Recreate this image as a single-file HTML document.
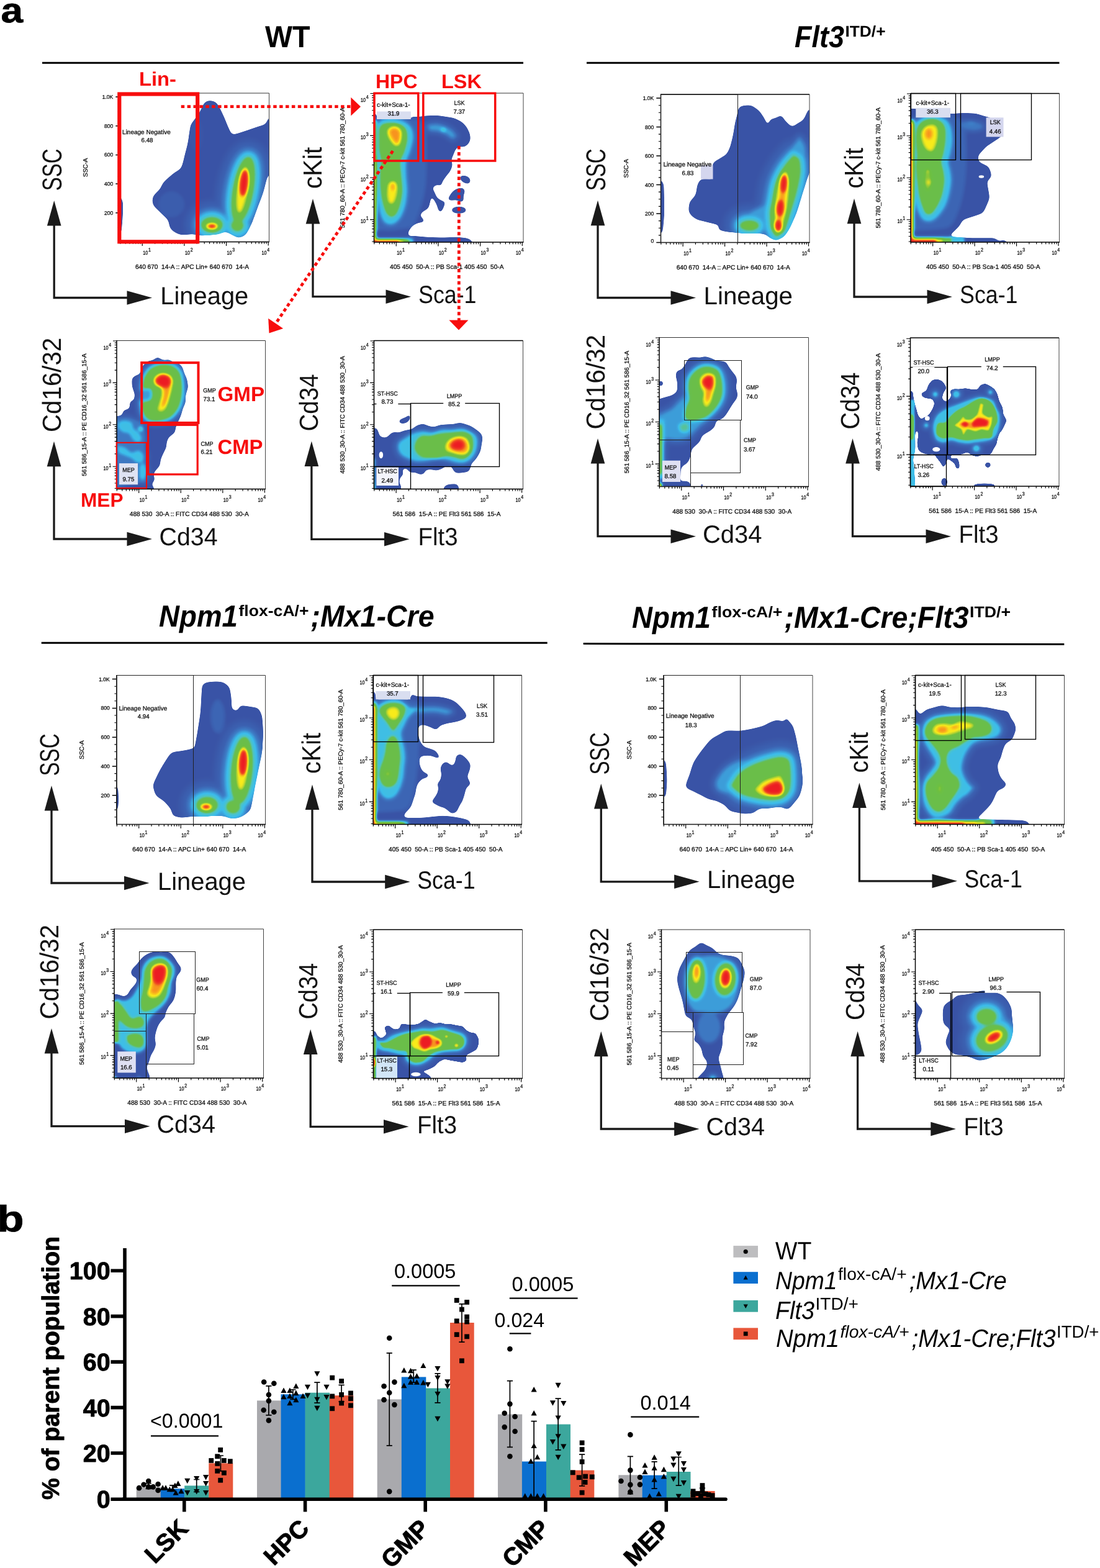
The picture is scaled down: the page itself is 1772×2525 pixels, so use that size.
<!DOCTYPE html>
<html lang="en"><head><meta charset="utf-8"><title>Figure</title>
<style>
html,body{margin:0;padding:0;background:#fff}
body{width:1772px;height:2525px;overflow:hidden}
svg{display:block;font-family:"Liberation Sans",sans-serif}
text{white-space:pre;text-rendering:geometricPrecision}
</style></head><body>
<svg width="1772" height="2525" viewBox="0 0 1772 2525">
<defs>
<filter id="jet" x="-10%" y="-10%" width="120%" height="120%" color-interpolation-filters="sRGB"><feGaussianBlur stdDeviation="2.6"/><feComponentTransfer><feFuncR type="table" tableValues="0.227 0.227 0.227 0.227 0.227 0.227 0.227 0.227 0.227 0.227 0.227 0.227 0.227 0.228 0.230 0.231 0.232 0.234 0.235 0.237 0.239 0.241 0.243 0.241 0.239 0.237 0.235 0.261 0.288 0.314 0.345 0.376 0.408 0.413 0.417 0.422 0.427 0.431 0.536 0.641 0.745 0.863 0.980 0.980 0.980 0.973 0.957 0.941 0.937 0.933 0.929"/><feFuncG type="table" tableValues="0.329 0.329 0.329 0.329 0.329 0.329 0.329 0.329 0.329 0.329 0.329 0.329 0.329 0.334 0.344 0.354 0.364 0.374 0.384 0.414 0.443 0.473 0.502 0.563 0.624 0.684 0.745 0.753 0.761 0.769 0.761 0.753 0.745 0.747 0.748 0.750 0.751 0.753 0.782 0.810 0.839 0.882 0.925 0.822 0.718 0.596 0.455 0.314 0.246 0.178 0.110"/><feFuncB type="table" tableValues="0.651 0.651 0.651 0.651 0.651 0.651 0.651 0.651 0.651 0.651 0.651 0.651 0.651 0.655 0.664 0.672 0.681 0.689 0.698 0.720 0.741 0.763 0.784 0.820 0.855 0.890 0.925 0.865 0.805 0.745 0.601 0.458 0.314 0.301 0.289 0.276 0.264 0.251 0.230 0.209 0.188 0.145 0.102 0.108 0.115 0.121 0.127 0.133 0.136 0.139 0.141"/><feFuncA type="linear" slope="9" intercept="-4"/></feComponentTransfer></filter>
<filter id="jet2" x="-10%" y="-10%" width="120%" height="120%" color-interpolation-filters="sRGB"><feGaussianBlur stdDeviation="1.8"/><feComponentTransfer><feFuncR type="table" tableValues="0.227 0.227 0.227 0.227 0.227 0.227 0.227 0.227 0.227 0.227 0.227 0.227 0.227 0.228 0.230 0.231 0.232 0.234 0.235 0.237 0.239 0.241 0.243 0.241 0.239 0.237 0.235 0.261 0.288 0.314 0.345 0.376 0.408 0.413 0.417 0.422 0.427 0.431 0.536 0.641 0.745 0.863 0.980 0.980 0.980 0.973 0.957 0.941 0.937 0.933 0.929"/><feFuncG type="table" tableValues="0.329 0.329 0.329 0.329 0.329 0.329 0.329 0.329 0.329 0.329 0.329 0.329 0.329 0.334 0.344 0.354 0.364 0.374 0.384 0.414 0.443 0.473 0.502 0.563 0.624 0.684 0.745 0.753 0.761 0.769 0.761 0.753 0.745 0.747 0.748 0.750 0.751 0.753 0.782 0.810 0.839 0.882 0.925 0.822 0.718 0.596 0.455 0.314 0.246 0.178 0.110"/><feFuncB type="table" tableValues="0.651 0.651 0.651 0.651 0.651 0.651 0.651 0.651 0.651 0.651 0.651 0.651 0.651 0.655 0.664 0.672 0.681 0.689 0.698 0.720 0.741 0.763 0.784 0.820 0.855 0.890 0.925 0.865 0.805 0.745 0.601 0.458 0.314 0.301 0.289 0.276 0.264 0.251 0.230 0.209 0.188 0.145 0.102 0.108 0.115 0.121 0.127 0.133 0.136 0.139 0.141"/><feFuncA type="linear" slope="9" intercept="-4"/></feComponentTransfer></filter>
<filter id="jet3" x="-10%" y="-10%" width="120%" height="120%" color-interpolation-filters="sRGB"><feGaussianBlur stdDeviation="3.2"/><feComponentTransfer><feFuncR type="table" tableValues="0.227 0.227 0.227 0.227 0.227 0.227 0.227 0.227 0.227 0.227 0.227 0.227 0.227 0.228 0.230 0.231 0.232 0.234 0.235 0.237 0.239 0.241 0.243 0.241 0.239 0.237 0.235 0.261 0.288 0.314 0.345 0.376 0.408 0.413 0.417 0.422 0.427 0.431 0.536 0.641 0.745 0.863 0.980 0.980 0.980 0.973 0.957 0.941 0.937 0.933 0.929"/><feFuncG type="table" tableValues="0.329 0.329 0.329 0.329 0.329 0.329 0.329 0.329 0.329 0.329 0.329 0.329 0.329 0.334 0.344 0.354 0.364 0.374 0.384 0.414 0.443 0.473 0.502 0.563 0.624 0.684 0.745 0.753 0.761 0.769 0.761 0.753 0.745 0.747 0.748 0.750 0.751 0.753 0.782 0.810 0.839 0.882 0.925 0.822 0.718 0.596 0.455 0.314 0.246 0.178 0.110"/><feFuncB type="table" tableValues="0.651 0.651 0.651 0.651 0.651 0.651 0.651 0.651 0.651 0.651 0.651 0.651 0.651 0.655 0.664 0.672 0.681 0.689 0.698 0.720 0.741 0.763 0.784 0.820 0.855 0.890 0.925 0.865 0.805 0.745 0.601 0.458 0.314 0.301 0.289 0.276 0.264 0.251 0.230 0.209 0.188 0.145 0.102 0.108 0.115 0.121 0.127 0.133 0.136 0.139 0.141"/><feFuncA type="linear" slope="9" intercept="-4"/></feComponentTransfer></filter>
</defs>
<g id="plot1">
<clipPath id="cp1"><rect x="193.4" y="150" width="240.2" height="239.5"/></clipPath>
<clipPath id="bc1"><path d="M322.78 178.46C325.13 174.47 327.1 168.27 328.99 166.05C330.87 163.82 333.9 162.37 336.75 162.01C339.59 161.65 343.47 162.42 346.06 163.87C348.64 165.32 350.64 168.09 352.27 170.7C353.9 173.31 357.63 180.95 360.02 186.22C362.42 191.48 366 201.07 367.78 204.84C369.57 208.61 371.15 214.15 373.99 215.7C376.84 217.26 381.32 215.08 384.85 214.15C388.39 213.22 398.82 209.5 403.48 207.95C408.13 206.39 413.75 204.67 417.44 203.29C421.13 201.91 425.99 200.95 428.31 198.63C430.62 196.32 430.75 190.63 431.41 189.32C432.06 188.01 434.51 186.22 434.51 186.22C434.51 186.22 434.65 276.32 434.51 279.33C434.37 282.34 430.85 284.24 429.86 287.09C428.86 289.94 426.12 302.72 423.65 310.37C421.18 318.01 417.44 326.92 414.34 335.2C411.24 343.47 407.66 354.1 405.03 360.02C402.4 365.95 398.41 374.11 395.72 377.09C393.02 380.08 388.48 382.22 384.85 382.37C381.23 382.53 377.59 379.52 373.99 378.03C370.39 376.53 367.01 373.53 363.13 373.37C359.25 373.22 354.98 376.42 350.71 377.09C346.45 377.77 331.11 379.27 325.88 379.27C320.66 379.27 315.59 377.28 310.37 377.09C305.15 376.91 296.23 378.7 291.74 378.03C287.26 377.35 281.66 373.97 279.33 372.44C277 370.91 274.99 368.72 273.74 366.23C272.5 363.74 272.37 357.44 270.02 353.82C267.66 350.2 261.31 345.26 257.6 341.4C253.9 337.55 248.48 333.59 246.74 329.61C245 325.63 245.04 320.57 246.74 316.57C248.45 312.58 255.14 307.52 257.6 304.16C260.07 300.8 261.07 296.43 263.81 293.3C266.56 290.16 275.36 282.64 279.33 279.33C283.3 276.02 289.08 274.45 291.74 270.02C294.41 265.58 296.29 254.47 297.95 248.29C299.61 242.11 301.35 235.95 302.61 229.67C303.86 223.4 306.22 205.32 307.26 201.74C308.31 198.16 311.4 195.53 313.47 192.43C315.54 189.32 320.44 182.45 322.78 178.46Z"/><path d="M187.77 310.37C187.77 310.37 195.46 317.87 197.08 322.78C198.7 327.69 198.21 335.19 198.01 341.4C197.82 347.61 196.52 368.52 195.53 372.44C194.54 376.36 187.77 381.75 187.77 381.75C187.77 381.75 187.77 310.37 187.77 310.37Z"/></clipPath>
<g clip-path="url(#cp1)"><g filter="url(#jet)">
<g fill="#383838"><path d="M322.78 178.46C325.13 174.47 327.1 168.27 328.99 166.05C330.87 163.82 333.9 162.37 336.75 162.01C339.59 161.65 343.47 162.42 346.06 163.87C348.64 165.32 350.64 168.09 352.27 170.7C353.9 173.31 357.63 180.95 360.02 186.22C362.42 191.48 366 201.07 367.78 204.84C369.57 208.61 371.15 214.15 373.99 215.7C376.84 217.26 381.32 215.08 384.85 214.15C388.39 213.22 398.82 209.5 403.48 207.95C408.13 206.39 413.75 204.67 417.44 203.29C421.13 201.91 425.99 200.95 428.31 198.63C430.62 196.32 430.75 190.63 431.41 189.32C432.06 188.01 434.51 186.22 434.51 186.22C434.51 186.22 434.65 276.32 434.51 279.33C434.37 282.34 430.85 284.24 429.86 287.09C428.86 289.94 426.12 302.72 423.65 310.37C421.18 318.01 417.44 326.92 414.34 335.2C411.24 343.47 407.66 354.1 405.03 360.02C402.4 365.95 398.41 374.11 395.72 377.09C393.02 380.08 388.48 382.22 384.85 382.37C381.23 382.53 377.59 379.52 373.99 378.03C370.39 376.53 367.01 373.53 363.13 373.37C359.25 373.22 354.98 376.42 350.71 377.09C346.45 377.77 331.11 379.27 325.88 379.27C320.66 379.27 315.59 377.28 310.37 377.09C305.15 376.91 296.23 378.7 291.74 378.03C287.26 377.35 281.66 373.97 279.33 372.44C277 370.91 274.99 368.72 273.74 366.23C272.5 363.74 272.37 357.44 270.02 353.82C267.66 350.2 261.31 345.26 257.6 341.4C253.9 337.55 248.48 333.59 246.74 329.61C245 325.63 245.04 320.57 246.74 316.57C248.45 312.58 255.14 307.52 257.6 304.16C260.07 300.8 261.07 296.43 263.81 293.3C266.56 290.16 275.36 282.64 279.33 279.33C283.3 276.02 289.08 274.45 291.74 270.02C294.41 265.58 296.29 254.47 297.95 248.29C299.61 242.11 301.35 235.95 302.61 229.67C303.86 223.4 306.22 205.32 307.26 201.74C308.31 198.16 311.4 195.53 313.47 192.43C315.54 189.32 320.44 182.45 322.78 178.46Z"/><path d="M187.77 310.37C187.77 310.37 195.46 317.87 197.08 322.78C198.7 327.69 198.21 335.19 198.01 341.4C197.82 347.61 196.52 368.52 195.53 372.44C194.54 376.36 187.77 381.75 187.77 381.75C187.77 381.75 187.77 310.37 187.77 310.37Z"/></g>
<g clip-path="url(#bc1)">
<ellipse cx="391.68" cy="305.71" rx="15.52" ry="52.76" transform="rotate(10 391.68 305.71)" fill="#454545" stroke="#454545" stroke-width="68" stroke-linejoin="round"/>
<ellipse cx="341.4" cy="361.89" rx="16.14" ry="11.17" fill="#454545" stroke="#454545" stroke-width="68" stroke-linejoin="round"/>
<ellipse cx="382.37" cy="363.13" rx="8.69" ry="8.07" fill="#454545" stroke="#454545" stroke-width="68" stroke-linejoin="round"/>
<path d="M325.88 356.92C325.88 356.92 334.78 344.51 341.4 344.51C348.03 344.51 358.99 356.92 366.23 356.92C373.47 356.92 379.16 344.51 384.85 344.51C390.54 344.51 400.37 356.92 400.37 356.92C400.37 356.92 391.06 377.09 391.06 377.09C391.06 377.09 378.84 372.44 372.44 372.44C366.04 372.44 349.16 379.68 341.4 377.09C333.64 374.51 325.88 356.92 325.88 356.92Z" fill="#454545" stroke="#454545" stroke-width="28" stroke-linejoin="round"/>
<ellipse cx="316.57" cy="217.26" rx="12.41" ry="27.93" fill="#454545"/>
<ellipse cx="391.68" cy="305.71" rx="15.52" ry="52.76" transform="rotate(10 391.68 305.71)" fill="#525252" stroke="#525252" stroke-width="54" stroke-linejoin="round"/>
<ellipse cx="341.4" cy="361.89" rx="16.14" ry="11.17" fill="#525252" stroke="#525252" stroke-width="54" stroke-linejoin="round"/>
<ellipse cx="382.37" cy="363.13" rx="8.69" ry="8.07" fill="#525252" stroke="#525252" stroke-width="54" stroke-linejoin="round"/>
<path d="M325.88 356.92C325.88 356.92 334.78 344.51 341.4 344.51C348.03 344.51 358.99 356.92 366.23 356.92C373.47 356.92 379.16 344.51 384.85 344.51C390.54 344.51 400.37 356.92 400.37 356.92C400.37 356.92 391.06 377.09 391.06 377.09C391.06 377.09 378.84 372.44 372.44 372.44C366.04 372.44 349.16 379.68 341.4 377.09C333.64 374.51 325.88 356.92 325.88 356.92Z" fill="#525252" stroke="#525252" stroke-width="18" stroke-linejoin="round"/>
<ellipse cx="276.23" cy="328.99" rx="21.73" ry="21.73" fill="#525252"/>
<ellipse cx="391.68" cy="305.71" rx="15.52" ry="52.76" transform="rotate(10 391.68 305.71)" fill="#5e5e5e" stroke="#5e5e5e" stroke-width="42" stroke-linejoin="round"/>
<ellipse cx="341.4" cy="361.89" rx="16.14" ry="11.17" fill="#5e5e5e" stroke="#5e5e5e" stroke-width="42" stroke-linejoin="round"/>
<ellipse cx="382.37" cy="363.13" rx="8.69" ry="8.07" fill="#5e5e5e" stroke="#5e5e5e" stroke-width="42" stroke-linejoin="round"/>
<path d="M325.88 356.92C325.88 356.92 334.78 344.51 341.4 344.51C348.03 344.51 358.99 356.92 366.23 356.92C373.47 356.92 379.16 344.51 384.85 344.51C390.54 344.51 400.37 356.92 400.37 356.92C400.37 356.92 391.06 377.09 391.06 377.09C391.06 377.09 378.84 372.44 372.44 372.44C366.04 372.44 349.16 379.68 341.4 377.09C333.64 374.51 325.88 356.92 325.88 356.92Z" fill="#5e5e5e" stroke="#5e5e5e" stroke-width="12" stroke-linejoin="round"/>
<ellipse cx="391.68" cy="305.71" rx="15.52" ry="52.76" transform="rotate(10 391.68 305.71)" fill="#6b6b6b" stroke="#6b6b6b" stroke-width="32" stroke-linejoin="round"/>
<ellipse cx="341.4" cy="361.89" rx="16.14" ry="11.17" fill="#6b6b6b" stroke="#6b6b6b" stroke-width="32" stroke-linejoin="round"/>
<ellipse cx="382.37" cy="363.13" rx="8.69" ry="8.07" fill="#6b6b6b" stroke="#6b6b6b" stroke-width="32" stroke-linejoin="round"/>
<path d="M325.88 356.92C325.88 356.92 334.78 344.51 341.4 344.51C348.03 344.51 358.99 356.92 366.23 356.92C373.47 356.92 379.16 344.51 384.85 344.51C390.54 344.51 400.37 356.92 400.37 356.92C400.37 356.92 391.06 377.09 391.06 377.09C391.06 377.09 378.84 372.44 372.44 372.44C366.04 372.44 349.16 379.68 341.4 377.09C333.64 374.51 325.88 356.92 325.88 356.92Z" fill="#6b6b6b" stroke="#6b6b6b" stroke-width="6" stroke-linejoin="round"/>
<ellipse cx="391.68" cy="305.71" rx="15.52" ry="52.76" transform="rotate(10 391.68 305.71)" fill="#7a7a7a" stroke="#7a7a7a" stroke-width="24" stroke-linejoin="round"/>
<ellipse cx="341.4" cy="361.89" rx="16.14" ry="11.17" fill="#7a7a7a" stroke="#7a7a7a" stroke-width="24" stroke-linejoin="round"/>
<ellipse cx="382.37" cy="363.13" rx="8.69" ry="8.07" fill="#7a7a7a" stroke="#7a7a7a" stroke-width="24" stroke-linejoin="round"/>
<path d="M325.88 356.92C325.88 356.92 334.78 344.51 341.4 344.51C348.03 344.51 358.99 356.92 366.23 356.92C373.47 356.92 379.16 344.51 384.85 344.51C390.54 344.51 400.37 356.92 400.37 356.92C400.37 356.92 391.06 377.09 391.06 377.09C391.06 377.09 378.84 372.44 372.44 372.44C366.04 372.44 349.16 379.68 341.4 377.09C333.64 374.51 325.88 356.92 325.88 356.92Z" fill="#7a7a7a"/>
<ellipse cx="391.68" cy="305.71" rx="15.52" ry="52.76" transform="rotate(10 391.68 305.71)" fill="#878787" stroke="#878787" stroke-width="17" stroke-linejoin="round"/>
<ellipse cx="341.4" cy="361.89" rx="16.14" ry="11.17" fill="#878787" stroke="#878787" stroke-width="17" stroke-linejoin="round"/>
<ellipse cx="382.37" cy="363.13" rx="8.69" ry="8.07" fill="#878787" stroke="#878787" stroke-width="17" stroke-linejoin="round"/>
<ellipse cx="391.68" cy="305.71" rx="15.52" ry="52.76" transform="rotate(10 391.68 305.71)" fill="#999999" stroke="#999999" stroke-width="6" stroke-linejoin="round"/>
<ellipse cx="341.4" cy="361.89" rx="16.14" ry="11.17" fill="#999999" stroke="#999999" stroke-width="6" stroke-linejoin="round"/>
<ellipse cx="382.37" cy="363.13" rx="8.69" ry="8.07" fill="#999999" stroke="#999999" stroke-width="6" stroke-linejoin="round"/>
<ellipse cx="391.68" cy="305.71" rx="15.52" ry="52.76" transform="rotate(10 391.68 305.71)" fill="#adadad"/>
<ellipse cx="341.4" cy="361.89" rx="16.14" ry="11.17" fill="#adadad"/>
<ellipse cx="382.37" cy="363.13" rx="8.69" ry="8.07" fill="#adadad"/>
<ellipse cx="390.44" cy="305.71" rx="8.07" ry="37.24" transform="rotate(8 390.44 305.71)" fill="#c2c2c2" stroke="#c2c2c2" stroke-width="4.4" stroke-linejoin="round"/>
<ellipse cx="341.4" cy="364.37" rx="9.93" ry="4.66" fill="#c2c2c2" stroke="#c2c2c2" stroke-width="4.4" stroke-linejoin="round"/>
<ellipse cx="390.44" cy="305.71" rx="8.07" ry="37.24" transform="rotate(8 390.44 305.71)" fill="#d6d6d6"/>
<ellipse cx="392.92" cy="294.85" rx="5.9" ry="20.48" transform="rotate(6 392.92 294.85)" fill="#d6d6d6" stroke="#d6d6d6" stroke-width="6.8" stroke-linejoin="round"/>
<ellipse cx="341.4" cy="364.37" rx="9.93" ry="4.66" fill="#d6d6d6"/>
<ellipse cx="341.4" cy="364.37" rx="5.9" ry="2.48" fill="#d6d6d6" stroke="#d6d6d6" stroke-width="6.8" stroke-linejoin="round"/>
<ellipse cx="392.92" cy="294.85" rx="5.9" ry="20.48" transform="rotate(6 392.92 294.85)" fill="#e6e6e6" stroke="#e6e6e6" stroke-width="3.2" stroke-linejoin="round"/>
<ellipse cx="341.4" cy="364.37" rx="5.9" ry="2.48" fill="#e6e6e6" stroke="#e6e6e6" stroke-width="3.2" stroke-linejoin="round"/>
<ellipse cx="392.92" cy="294.85" rx="5.9" ry="20.48" transform="rotate(6 392.92 294.85)" fill="#ffffff"/>
<ellipse cx="341.4" cy="364.37" rx="5.9" ry="2.48" fill="#ffffff"/>
</g></g></g>
<path d="M433.5 150 V389.5" fill="none" stroke="#444" stroke-width="1"/>
<path d="M193.5 150 H433.5" fill="none" stroke="#333" stroke-width="1"/>
<path d="M193.5 149.4 V389.5 H434" fill="none" stroke="#000" stroke-width="1.5"/>
<path d="M193.85 389.5v3.3M202.31 389.5v3.3M208.86 389.5v3.3M214.22 389.5v3.3M218.75 389.5v3.3M222.67 389.5v3.3M226.13 389.5v3.3M229.23 389.5v6.4M249.6 389.5v3.3M261.51 389.5v3.3M269.96 389.5v3.3M276.52 389.5v3.3M281.88 389.5v3.3M286.41 389.5v3.3M290.33 389.5v3.3M293.79 389.5v3.3M296.89 389.5v6.4M317.25 389.5v3.3M329.17 389.5v3.3M337.62 389.5v3.3M344.18 389.5v3.3M349.53 389.5v3.3M354.06 389.5v3.3M357.99 389.5v3.3M361.45 389.5v3.3M364.54 389.5v6.4M384.91 389.5v3.3M396.82 389.5v3.3M405.28 389.5v3.3M411.83 389.5v3.3M417.19 389.5v3.3M421.72 389.5v3.3M425.64 389.5v3.3M429.1 389.5v3.3M432.2 389.5v6" stroke="#000" stroke-width="1.15" fill="none"/>
<text transform="translate(230.23 409.8) scale(0.8173 1)" font-size="8.8" fill="#0a0a0a" stroke="#0a0a0a" stroke-width="0.28">10</text>
<text transform="translate(239.03 404.8) scale(0.8448 1)" font-size="8.3" fill="#0a0a0a" stroke="#0a0a0a" stroke-width="0.28">1</text>
<text transform="translate(297.89 409.8) scale(0.8173 1)" font-size="8.8" fill="#0a0a0a" stroke="#0a0a0a" stroke-width="0.28">10</text>
<text transform="translate(306.69 404.8) scale(0.8448 1)" font-size="8.3" fill="#0a0a0a" stroke="#0a0a0a" stroke-width="0.28">2</text>
<text transform="translate(365.54 409.8) scale(0.8173 1)" font-size="8.8" fill="#0a0a0a" stroke="#0a0a0a" stroke-width="0.28">10</text>
<text transform="translate(374.34 404.8) scale(0.8448 1)" font-size="8.3" fill="#0a0a0a" stroke="#0a0a0a" stroke-width="0.28">3</text>
<text transform="translate(421.5 409.8) scale(0.8173 1)" font-size="8.8" fill="#0a0a0a" stroke="#0a0a0a" stroke-width="0.28">10</text>
<text transform="translate(430.3 404.8) scale(0.8448 1)" font-size="8.3" fill="#0a0a0a" stroke="#0a0a0a" stroke-width="0.28">4</text>
<text transform="translate(182.2 345.9)" font-size="8.5" text-anchor="end" fill="#0a0a0a" stroke="#0a0a0a" stroke-width="0.28">200</text>
<text transform="translate(182.2 299.2)" font-size="8.5" text-anchor="end" fill="#0a0a0a" stroke="#0a0a0a" stroke-width="0.28">400</text>
<text transform="translate(182.2 252.49)" font-size="8.5" text-anchor="end" fill="#0a0a0a" stroke="#0a0a0a" stroke-width="0.28">600</text>
<text transform="translate(182.2 205.79)" font-size="8.5" text-anchor="end" fill="#0a0a0a" stroke="#0a0a0a" stroke-width="0.28">800</text>
<text transform="translate(182.2 159.09)" font-size="8.5" text-anchor="end" fill="#0a0a0a" stroke="#0a0a0a" stroke-width="0.28">1.0K</text>
<path d="M193.5 377.82h-3.6M193.5 366.15h-3.6M193.5 354.47h-3.6M193.5 331.12h-3.6M193.5 319.45h-3.6M193.5 307.77h-3.6M193.5 284.42h-3.6M193.5 272.74h-3.6M193.5 261.07h-3.6M193.5 237.72h-3.6M193.5 226.04h-3.6M193.5 214.37h-3.6M193.5 191.01h-3.6M193.5 179.34h-3.6M193.5 167.66h-3.6" stroke="#000" stroke-width="1.1" fill="none"/>
<path d="M193.5 342.8h-7.2M193.5 296.1h-7.2M193.5 249.39h-7.2M193.5 202.69h-7.2M193.5 155.99h-7.2" stroke="#000" stroke-width="1.5" fill="none"/>
<text transform="translate(309.5 432.7)" font-size="10.15" text-anchor="middle" fill="#0a0a0a" stroke="#0a0a0a" stroke-width="0.28">640 670  14-A :: APC Lin+ 640 670  14-A</text>
<text transform="translate(140.6 269.75) rotate(-90)" font-size="10" text-anchor="middle" fill="#0a0a0a" stroke="#0a0a0a" stroke-width="0.28">SSC-A</text>
<rect x="192.3" y="151.5" width="125.9" height="237.8" fill="none" stroke="#f70d0d" stroke-width="6.2"/>
<text transform="translate(236 215.5)" font-size="10" text-anchor="middle" fill="#0a0a0a" stroke="#0a0a0a" stroke-width="0.28">Lineage Negative</text>
<text transform="translate(237 229.1)" font-size="9.7" text-anchor="middle" fill="#0a0a0a" stroke="#0a0a0a" stroke-width="0.28">6.48</text>
<path d="M87.2 361.5 V479.5 H206.5" fill="none" stroke="#1a1a1a" stroke-width="3.3" stroke-linejoin="miter"/>
<polygon points="87.2,323 98.5,363.5 75.9,363.5" fill="#1a1a1a"/>
<polygon points="245,479.5 204.5,468.2 204.5,490.8" fill="#1a1a1a"/>
<text transform="translate(258.3 490) scale(0.9981 1)" font-size="39.97" fill="#111">Lineage</text>
<text transform="translate(99.1 307.3) rotate(-90) scale(0.7498 1)" font-size="44.04" fill="#111">SSC</text>
</g>
<g id="plot2">
<clipPath id="cp2"><rect x="602.7" y="150" width="240.3" height="240"/></clipPath>
<clipPath id="bc2"><path d="M596.46 183.19C596.46 183.19 606.14 182.38 606.14 182.38C606.14 182.38 607.75 192.07 607.75 192.07C607.75 192.07 660 192.14 661.01 192.07C662.02 191.99 661.66 188.33 662.63 188.03C663.6 187.73 671.29 188.21 673.93 188.03C676.56 187.86 683.81 186.62 686.84 186.42C689.87 186.22 699.21 185.91 702.98 186.1C706.74 186.28 716.08 187.58 719.12 188.03C722.15 188.49 729.23 189.52 732.03 190.45C734.82 191.39 741.15 194.56 743.32 196.1C745.5 197.64 749.91 202.13 751.39 204.17C752.88 206.21 755.51 211.68 756.24 213.86C756.96 216.03 758.03 221.52 757.85 223.54C757.67 225.56 755.75 230.1 754.62 231.61C753.49 233.12 749.97 235.91 748.17 236.45C746.36 236.99 740 235.95 738.48 236.45C736.97 236.96 734.49 239.94 733.64 241.29C732.79 242.65 731.17 247.48 730.41 249.36C729.66 251.25 727.37 255.55 727.19 257.43C727 259.31 728.97 263.59 728.8 265.5C728.63 267.41 726.7 273.11 725.57 275.19C724.44 277.26 720.53 281.3 719.12 283.26C717.7 285.21 713.35 291.55 712.66 292.94C711.97 294.33 711.05 299.39 711.05 299.39C711.05 299.39 704.67 297.4 702.98 297.78C701.28 298.16 696.52 302.62 696.52 302.62C696.52 302.62 699 307.57 699.75 309.08C700.5 310.58 703.13 317.12 704.59 318.76C706.05 320.4 711.59 323.07 712.66 323.6C713.72 324.14 717.5 325.22 717.5 325.22C717.5 325.22 715.18 332.9 714.27 334.9C713.37 336.9 709.43 342.97 709.43 342.97C709.43 342.97 706.76 339.37 706.2 338.13C705.65 336.89 703.88 330.44 702.98 328.45C702.07 326.45 698.85 321.53 698.13 320.38C697.41 319.22 694.91 315.53 694.91 315.53C694.91 315.53 693.76 321.74 693.29 323.6C692.83 325.47 691.57 332.83 690.06 334.9C688.56 336.97 681.57 340.17 680.38 341.36C679.19 342.55 676.96 346.49 677.15 347.81C677.34 349.13 681.33 351.66 681.99 352.65C682.66 353.65 683.61 357.5 683.61 357.5C683.61 357.5 676.1 358.39 673.93 359.11C671.75 359.83 666.12 362.26 664.24 363.95C662.36 365.64 658.35 372.24 657.79 373.64C657.23 375.03 657.79 380.09 657.79 380.09C657.79 380.09 665.21 379.97 667.47 380.09C669.73 380.22 682.31 381.46 686.84 381.71C691.36 381.95 707.38 382.51 712.66 382.51C717.94 382.51 731.47 381.63 735.26 381.71C739.04 381.78 749.34 382.84 751.39 383.32C753.44 383.8 758.15 386.04 759.46 387.35C760.78 388.67 762.69 394.62 762.69 394.62C762.69 394.62 596.46 394.62 596.46 394.62C596.46 394.62 596.46 183.19 596.46 183.19Z"/><path d="M740.1 284.87C740.1 284.87 743.14 282.56 744.94 282.45C746.74 282.34 750.86 282.85 753.01 284.06C755.16 285.27 757.31 287.69 757.85 289.71C758.39 291.73 756.24 296.17 756.24 296.17C756.24 296.17 751.81 296.12 749.78 295.36C747.75 294.6 744.94 293.07 743.32 291.32C741.71 289.58 740.1 284.87 740.1 284.87Z"/><path d="M720.73 321.99C720.73 321.99 725 313.36 727.19 310.69C729.37 308.03 732.3 305.58 735.26 304.24C738.21 302.89 742.89 302.14 744.94 302.62C746.98 303.1 748.71 305.38 748.97 307.46C749.23 309.55 746.82 312.84 746.55 315.53C746.28 318.22 747.36 323.6 747.36 323.6C747.36 323.6 743.65 325.48 741.71 325.22C739.77 324.96 737.63 322.39 735.26 321.99C732.88 321.59 729.35 322.8 727.19 322.8C725.02 322.8 720.73 321.99 720.73 321.99Z"/><ellipse cx="739.29" cy="338.13" rx="12.1" ry="5.65"/></clipPath>
<g clip-path="url(#cp2)"><g filter="url(#jet)">
<g fill="#383838"><path d="M596.46 183.19C596.46 183.19 606.14 182.38 606.14 182.38C606.14 182.38 607.75 192.07 607.75 192.07C607.75 192.07 660 192.14 661.01 192.07C662.02 191.99 661.66 188.33 662.63 188.03C663.6 187.73 671.29 188.21 673.93 188.03C676.56 187.86 683.81 186.62 686.84 186.42C689.87 186.22 699.21 185.91 702.98 186.1C706.74 186.28 716.08 187.58 719.12 188.03C722.15 188.49 729.23 189.52 732.03 190.45C734.82 191.39 741.15 194.56 743.32 196.1C745.5 197.64 749.91 202.13 751.39 204.17C752.88 206.21 755.51 211.68 756.24 213.86C756.96 216.03 758.03 221.52 757.85 223.54C757.67 225.56 755.75 230.1 754.62 231.61C753.49 233.12 749.97 235.91 748.17 236.45C746.36 236.99 740 235.95 738.48 236.45C736.97 236.96 734.49 239.94 733.64 241.29C732.79 242.65 731.17 247.48 730.41 249.36C729.66 251.25 727.37 255.55 727.19 257.43C727 259.31 728.97 263.59 728.8 265.5C728.63 267.41 726.7 273.11 725.57 275.19C724.44 277.26 720.53 281.3 719.12 283.26C717.7 285.21 713.35 291.55 712.66 292.94C711.97 294.33 711.05 299.39 711.05 299.39C711.05 299.39 704.67 297.4 702.98 297.78C701.28 298.16 696.52 302.62 696.52 302.62C696.52 302.62 699 307.57 699.75 309.08C700.5 310.58 703.13 317.12 704.59 318.76C706.05 320.4 711.59 323.07 712.66 323.6C713.72 324.14 717.5 325.22 717.5 325.22C717.5 325.22 715.18 332.9 714.27 334.9C713.37 336.9 709.43 342.97 709.43 342.97C709.43 342.97 706.76 339.37 706.2 338.13C705.65 336.89 703.88 330.44 702.98 328.45C702.07 326.45 698.85 321.53 698.13 320.38C697.41 319.22 694.91 315.53 694.91 315.53C694.91 315.53 693.76 321.74 693.29 323.6C692.83 325.47 691.57 332.83 690.06 334.9C688.56 336.97 681.57 340.17 680.38 341.36C679.19 342.55 676.96 346.49 677.15 347.81C677.34 349.13 681.33 351.66 681.99 352.65C682.66 353.65 683.61 357.5 683.61 357.5C683.61 357.5 676.1 358.39 673.93 359.11C671.75 359.83 666.12 362.26 664.24 363.95C662.36 365.64 658.35 372.24 657.79 373.64C657.23 375.03 657.79 380.09 657.79 380.09C657.79 380.09 665.21 379.97 667.47 380.09C669.73 380.22 682.31 381.46 686.84 381.71C691.36 381.95 707.38 382.51 712.66 382.51C717.94 382.51 731.47 381.63 735.26 381.71C739.04 381.78 749.34 382.84 751.39 383.32C753.44 383.8 758.15 386.04 759.46 387.35C760.78 388.67 762.69 394.62 762.69 394.62C762.69 394.62 596.46 394.62 596.46 394.62C596.46 394.62 596.46 183.19 596.46 183.19Z"/><path d="M740.1 284.87C740.1 284.87 743.14 282.56 744.94 282.45C746.74 282.34 750.86 282.85 753.01 284.06C755.16 285.27 757.31 287.69 757.85 289.71C758.39 291.73 756.24 296.17 756.24 296.17C756.24 296.17 751.81 296.12 749.78 295.36C747.75 294.6 744.94 293.07 743.32 291.32C741.71 289.58 740.1 284.87 740.1 284.87Z"/><path d="M720.73 321.99C720.73 321.99 725 313.36 727.19 310.69C729.37 308.03 732.3 305.58 735.26 304.24C738.21 302.89 742.89 302.14 744.94 302.62C746.98 303.1 748.71 305.38 748.97 307.46C749.23 309.55 746.82 312.84 746.55 315.53C746.28 318.22 747.36 323.6 747.36 323.6C747.36 323.6 743.65 325.48 741.71 325.22C739.77 324.96 737.63 322.39 735.26 321.99C732.88 321.59 729.35 322.8 727.19 322.8C725.02 322.8 720.73 321.99 720.73 321.99Z"/><ellipse cx="739.29" cy="338.13" rx="12.1" ry="5.65"/></g>
<g clip-path="url(#bc2)">
<path d="M607.75 202.56C608.24 199.15 611.01 195.77 614.21 194.49C617.41 193.21 626.03 192.62 631.96 192.87C637.9 193.13 646.76 194.18 651.33 196.1C655.9 198.03 660.21 201.48 662.63 205.79C665.05 210.09 666.09 216.44 665.86 221.93C665.62 227.41 662.78 236.86 661.01 242.91C659.25 248.95 655.55 254.44 654.56 260.66C653.56 266.88 654.3 275.73 654.56 283.26C654.82 290.78 656.44 299.39 656.17 307.46C655.9 315.53 654.7 324.9 652.94 331.67C651.19 338.44 647.63 346.91 644.87 351.04C642.12 355.17 637.61 359.38 633.58 360.72C629.54 362.07 624.1 361.75 620.66 359.11C617.23 356.47 614.08 349.92 612.6 344.58C611.11 339.25 609.46 325.27 608.56 315.53C607.66 305.8 607.35 294.01 606.95 283.26C606.54 272.5 606.03 261.74 606.14 250.98C606.25 240.21 607.27 205.97 607.75 202.56Z" fill="#454545" stroke="#454545" stroke-width="25.2" stroke-linejoin="round"/>
<path d="M690.06 202.56C690.06 202.56 698.67 200.67 702.98 200.94C707.28 201.21 711.86 202.56 715.89 204.17C719.91 205.78 724.52 208.45 727.19 210.63C729.85 212.81 733.64 218.7 733.64 218.7C733.64 218.7 730.69 222.35 728.8 221.93C726.91 221.5 722.59 217.2 719.12 215.47C715.65 213.73 710.41 211.68 706.2 210.63C702 209.58 695.44 210.09 693.29 209.01C691.14 207.94 690.06 202.56 690.06 202.56Z" fill="#454545" stroke="#454545" stroke-width="22.4" stroke-linejoin="round"/>
<path d="M607.75 202.56C608.24 199.15 611.01 195.77 614.21 194.49C617.41 193.21 626.03 192.62 631.96 192.87C637.9 193.13 646.76 194.18 651.33 196.1C655.9 198.03 660.21 201.48 662.63 205.79C665.05 210.09 666.09 216.44 665.86 221.93C665.62 227.41 662.78 236.86 661.01 242.91C659.25 248.95 655.55 254.44 654.56 260.66C653.56 266.88 654.3 275.73 654.56 283.26C654.82 290.78 656.44 299.39 656.17 307.46C655.9 315.53 654.7 324.9 652.94 331.67C651.19 338.44 647.63 346.91 644.87 351.04C642.12 355.17 637.61 359.38 633.58 360.72C629.54 362.07 624.1 361.75 620.66 359.11C617.23 356.47 614.08 349.92 612.6 344.58C611.11 339.25 609.46 325.27 608.56 315.53C607.66 305.8 607.35 294.01 606.95 283.26C606.54 272.5 606.03 261.74 606.14 250.98C606.25 240.21 607.27 205.97 607.75 202.56Z" fill="#525252" stroke="#525252" stroke-width="16.8" stroke-linejoin="round"/>
<path d="M690.06 202.56C690.06 202.56 698.67 200.67 702.98 200.94C707.28 201.21 711.86 202.56 715.89 204.17C719.91 205.78 724.52 208.45 727.19 210.63C729.85 212.81 733.64 218.7 733.64 218.7C733.64 218.7 730.69 222.35 728.8 221.93C726.91 221.5 722.59 217.2 719.12 215.47C715.65 213.73 710.41 211.68 706.2 210.63C702 209.58 695.44 210.09 693.29 209.01C691.14 207.94 690.06 202.56 690.06 202.56Z" fill="#525252" stroke="#525252" stroke-width="14.4" stroke-linejoin="round"/>
<path d="M606.14 192.87C606.14 192.87 666.35 189.59 673.93 191.26C681.5 192.93 685 203.09 686.84 210.63C688.67 218.17 688.45 237.52 688.45 250.98C688.45 264.44 688.58 285.67 686.84 299.39C685.09 313.12 680.93 329.83 677.15 339.74C673.38 349.66 670.67 362.79 661.01 367.18C651.35 371.57 606.14 372.02 606.14 372.02C606.14 372.02 606.14 192.87 606.14 192.87Z" fill="#5e5e5e"/>
<path d="M607.75 202.56C608.24 199.15 611.01 195.77 614.21 194.49C617.41 193.21 626.03 192.62 631.96 192.87C637.9 193.13 646.76 194.18 651.33 196.1C655.9 198.03 660.21 201.48 662.63 205.79C665.05 210.09 666.09 216.44 665.86 221.93C665.62 227.41 662.78 236.86 661.01 242.91C659.25 248.95 655.55 254.44 654.56 260.66C653.56 266.88 654.3 275.73 654.56 283.26C654.82 290.78 656.44 299.39 656.17 307.46C655.9 315.53 654.7 324.9 652.94 331.67C651.19 338.44 647.63 346.91 644.87 351.04C642.12 355.17 637.61 359.38 633.58 360.72C629.54 362.07 624.1 361.75 620.66 359.11C617.23 356.47 614.08 349.92 612.6 344.58C611.11 339.25 609.46 325.27 608.56 315.53C607.66 305.8 607.35 294.01 606.95 283.26C606.54 272.5 606.03 261.74 606.14 250.98C606.25 240.21 607.27 205.97 607.75 202.56Z" fill="#5e5e5e" stroke="#5e5e5e" stroke-width="11.2" stroke-linejoin="round"/>
<path d="M690.06 202.56C690.06 202.56 698.67 200.67 702.98 200.94C707.28 201.21 711.86 202.56 715.89 204.17C719.91 205.78 724.52 208.45 727.19 210.63C729.85 212.81 733.64 218.7 733.64 218.7C733.64 218.7 730.69 222.35 728.8 221.93C726.91 221.5 722.59 217.2 719.12 215.47C715.65 213.73 710.41 211.68 706.2 210.63C702 209.58 695.44 210.09 693.29 209.01C691.14 207.94 690.06 202.56 690.06 202.56Z" fill="#5e5e5e" stroke="#5e5e5e" stroke-width="9.6" stroke-linejoin="round"/>
<path d="M607.75 202.56C608.24 199.15 611.01 195.77 614.21 194.49C617.41 193.21 626.03 192.62 631.96 192.87C637.9 193.13 646.76 194.18 651.33 196.1C655.9 198.03 660.21 201.48 662.63 205.79C665.05 210.09 666.09 216.44 665.86 221.93C665.62 227.41 662.78 236.86 661.01 242.91C659.25 248.95 655.55 254.44 654.56 260.66C653.56 266.88 654.3 275.73 654.56 283.26C654.82 290.78 656.44 299.39 656.17 307.46C655.9 315.53 654.7 324.9 652.94 331.67C651.19 338.44 647.63 346.91 644.87 351.04C642.12 355.17 637.61 359.38 633.58 360.72C629.54 362.07 624.1 361.75 620.66 359.11C617.23 356.47 614.08 349.92 612.6 344.58C611.11 339.25 609.46 325.27 608.56 315.53C607.66 305.8 607.35 294.01 606.95 283.26C606.54 272.5 606.03 261.74 606.14 250.98C606.25 240.21 607.27 205.97 607.75 202.56Z" fill="#6b6b6b" stroke="#6b6b6b" stroke-width="5.6" stroke-linejoin="round"/>
<path d="M690.06 202.56C690.06 202.56 698.67 200.67 702.98 200.94C707.28 201.21 711.86 202.56 715.89 204.17C719.91 205.78 724.52 208.45 727.19 210.63C729.85 212.81 733.64 218.7 733.64 218.7C733.64 218.7 730.69 222.35 728.8 221.93C726.91 221.5 722.59 217.2 719.12 215.47C715.65 213.73 710.41 211.68 706.2 210.63C702 209.58 695.44 210.09 693.29 209.01C691.14 207.94 690.06 202.56 690.06 202.56Z" fill="#6b6b6b" stroke="#6b6b6b" stroke-width="4.8" stroke-linejoin="round"/>
<path d="M690.06 202.56C690.06 202.56 698.67 200.67 702.98 200.94C707.28 201.21 711.86 202.56 715.89 204.17C719.91 205.78 724.52 208.45 727.19 210.63C729.85 212.81 733.64 218.7 733.64 218.7C733.64 218.7 730.69 222.35 728.8 221.93C726.91 221.5 722.59 217.2 719.12 215.47C715.65 213.73 710.41 211.68 706.2 210.63C702 209.58 695.44 210.09 693.29 209.01C691.14 207.94 690.06 202.56 690.06 202.56Z" fill="#7a7a7a"/>
<path d="M607.75 202.56C608.24 199.15 611.01 195.77 614.21 194.49C617.41 193.21 626.03 192.62 631.96 192.87C637.9 193.13 646.76 194.18 651.33 196.1C655.9 198.03 660.21 201.48 662.63 205.79C665.05 210.09 666.09 216.44 665.86 221.93C665.62 227.41 662.78 236.86 661.01 242.91C659.25 248.95 655.55 254.44 654.56 260.66C653.56 266.88 654.3 275.73 654.56 283.26C654.82 290.78 656.44 299.39 656.17 307.46C655.9 315.53 654.7 324.9 652.94 331.67C651.19 338.44 647.63 346.91 644.87 351.04C642.12 355.17 637.61 359.38 633.58 360.72C629.54 362.07 624.1 361.75 620.66 359.11C617.23 356.47 614.08 349.92 612.6 344.58C611.11 339.25 609.46 325.27 608.56 315.53C607.66 305.8 607.35 294.01 606.95 283.26C606.54 272.5 606.03 261.74 606.14 250.98C606.25 240.21 607.27 205.97 607.75 202.56Z" fill="#878787"/>
<rect x="596.46" y="382.51" width="71.01" height="12.1" fill="#878787"/>
<rect x="596.46" y="192.87" width="10.33" height="201.74" fill="#999999"/>
<ellipse cx="714.27" cy="209.01" rx="3.87" ry="2.91" fill="#999999"/>
<path d="M610.98 207.4C611.51 203.99 614.31 200.77 617.44 199.33C620.56 197.89 627.12 197.45 631.96 197.72C636.8 197.98 643.09 199.24 646.49 200.94C649.89 202.65 653.14 205.48 654.56 209.01C655.97 212.55 656.66 219.77 656.17 225.15C655.68 230.54 653.09 239 651.33 244.52C649.57 250.04 645.59 254.91 644.87 260.66C644.16 266.41 645.97 275.72 646.49 283.26C647.01 290.79 648.35 300.39 648.1 307.46C647.85 314.54 646.34 322.84 644.87 328.45C643.41 334.05 640.2 342.01 638.42 344.58C636.63 347.16 633.04 349.7 630.35 349.43C627.66 349.16 623.97 345.97 622.28 342.97C620.59 339.97 617.3 330.25 615.82 323.6C614.35 316.96 613.13 307.45 612.6 299.39C612.06 291.34 612.38 280.59 612.6 275.19C612.81 269.78 614.47 264.45 614.21 259.05C613.95 253.65 611.36 247.3 610.98 241.29C610.61 235.29 610.46 210.8 610.98 207.4Z" fill="#adadad"/>
<rect x="596.46" y="194.49" width="9.68" height="200.13" fill="#adadad"/>
<rect x="596.46" y="384.13" width="62.94" height="10.49" fill="#adadad"/>
<path d="M623.89 210.63C624.7 207.94 627.66 205.25 630.35 204.17C633.04 203.1 637.34 203.1 640.03 204.17C642.72 205.25 645.53 207.74 646.49 210.63C647.45 213.51 646.97 220.17 646.49 223.54C646.01 226.91 644.7 231.54 643.26 233.22C641.82 234.91 638.88 235.62 636.8 234.84C634.73 234.06 632.22 230.78 630.35 228.38C628.48 225.98 626.58 223.26 625.51 220.31C624.43 217.36 623.09 213.32 623.89 210.63Z" fill="#c2c2c2" stroke="#c2c2c2" stroke-width="4.4" stroke-linejoin="round"/>
<path d="M624.7 299.39C625.23 296.91 626.72 294.01 628.73 292.94C630.75 291.86 634.92 291.59 636.8 292.94C638.69 294.28 639.83 298.12 640.03 301.01C640.24 303.9 639.41 311.56 638.42 315.53C637.42 319.51 635.1 325.31 633.58 326.83C632.05 328.35 628.52 328.47 627.12 326.83C625.72 325.2 624.24 319.44 623.89 315.53C623.55 311.63 624.17 301.88 624.7 299.39Z" fill="#c2c2c2" stroke="#c2c2c2" stroke-width="4.4" stroke-linejoin="round"/>
<path d="M623.89 210.63C624.7 207.94 627.66 205.25 630.35 204.17C633.04 203.1 637.34 203.1 640.03 204.17C642.72 205.25 645.53 207.74 646.49 210.63C647.45 213.51 646.97 220.17 646.49 223.54C646.01 226.91 644.7 231.54 643.26 233.22C641.82 234.91 638.88 235.62 636.8 234.84C634.73 234.06 632.22 230.78 630.35 228.38C628.48 225.98 626.58 223.26 625.51 220.31C624.43 217.36 623.09 213.32 623.89 210.63Z" fill="#d6d6d6"/>
<path d="M624.7 299.39C625.23 296.91 626.72 294.01 628.73 292.94C630.75 291.86 634.92 291.59 636.8 292.94C638.69 294.28 639.83 298.12 640.03 301.01C640.24 303.9 639.41 311.56 638.42 315.53C637.42 319.51 635.1 325.31 633.58 326.83C632.05 328.35 628.52 328.47 627.12 326.83C625.72 325.2 624.24 319.44 623.89 315.53C623.55 311.63 624.17 301.88 624.7 299.39Z" fill="#d6d6d6"/>
<rect x="596.46" y="250.98" width="8.72" height="143.64" fill="#d6d6d6"/>
<rect x="596.46" y="385.74" width="54.87" height="8.88" fill="#d6d6d6"/>
<path d="M627.12 212.24C627.12 209.76 629.81 207.4 631.96 206.59C634.11 205.79 637.88 206.19 640.03 207.4C642.18 208.61 644.43 211.2 644.87 213.86C645.32 216.51 644.04 224.62 643.26 226.77C642.48 228.91 638.42 231.61 638.42 231.61C638.42 231.61 633.7 226.51 631.96 223.54C630.23 220.56 627.12 214.72 627.12 212.24Z" fill="#e6e6e6"/>
<ellipse cx="632.77" cy="301.01" rx="2.91" ry="6.13" fill="#e6e6e6"/>
<rect x="596.46" y="267.12" width="7.75" height="127.5" fill="#e6e6e6"/>
<rect x="596.46" y="386.87" width="46.8" height="7.75" fill="#ffffff"/>
</g></g></g>
<path d="M843 150 V390" fill="none" stroke="#444" stroke-width="1"/>
<path d="M602.5 150 H843" fill="none" stroke="#333" stroke-width="1"/>
<path d="M602.5 149.4 V390 H843.5" fill="none" stroke="#000" stroke-width="1.5"/>
<path d="M602.85 390v3.3M611.31 390v3.3M617.87 390v3.3M623.23 390v3.3M627.76 390v3.3M631.69 390v3.3M635.15 390v3.3M638.24 390v6.4M658.62 390v3.3M670.54 390v3.3M678.99 390v3.3M685.55 390v3.3M690.91 390v3.3M695.44 390v3.3M699.37 390v3.3M702.83 390v3.3M705.93 390v6.4M726.3 390v3.3M738.22 390v3.3M746.68 390v3.3M753.24 390v3.3M758.6 390v3.3M763.13 390v3.3M767.05 390v3.3M770.52 390v3.3M773.61 390v6.4M793.99 390v3.3M805.91 390v3.3M814.36 390v3.3M820.92 390v3.3M826.28 390v3.3M830.81 390v3.3M834.74 390v3.3M838.2 390v3.3M841.3 390v6" stroke="#000" stroke-width="1.15" fill="none"/>
<text transform="translate(639.24 410.3) scale(0.8173 1)" font-size="8.8" fill="#0a0a0a" stroke="#0a0a0a" stroke-width="0.28">10</text>
<text transform="translate(648.04 405.3) scale(0.8448 1)" font-size="8.3" fill="#0a0a0a" stroke="#0a0a0a" stroke-width="0.28">1</text>
<text transform="translate(706.93 410.3) scale(0.8173 1)" font-size="8.8" fill="#0a0a0a" stroke="#0a0a0a" stroke-width="0.28">10</text>
<text transform="translate(715.73 405.3) scale(0.8448 1)" font-size="8.3" fill="#0a0a0a" stroke="#0a0a0a" stroke-width="0.28">2</text>
<text transform="translate(774.61 410.3) scale(0.8173 1)" font-size="8.8" fill="#0a0a0a" stroke="#0a0a0a" stroke-width="0.28">10</text>
<text transform="translate(783.41 405.3) scale(0.8448 1)" font-size="8.3" fill="#0a0a0a" stroke="#0a0a0a" stroke-width="0.28">3</text>
<text transform="translate(831 410.3) scale(0.8173 1)" font-size="8.8" fill="#0a0a0a" stroke="#0a0a0a" stroke-width="0.28">10</text>
<text transform="translate(839.8 405.3) scale(0.8448 1)" font-size="8.3" fill="#0a0a0a" stroke="#0a0a0a" stroke-width="0.28">4</text>
<text transform="translate(581 359.3) scale(0.8173 1)" font-size="8.8" fill="#0a0a0a" stroke="#0a0a0a" stroke-width="0.28">10</text>
<text transform="translate(589.8 354.3) scale(0.8448 1)" font-size="8.3" fill="#0a0a0a" stroke="#0a0a0a" stroke-width="0.28">1</text>
<text transform="translate(581 291.7) scale(0.8173 1)" font-size="8.8" fill="#0a0a0a" stroke="#0a0a0a" stroke-width="0.28">10</text>
<text transform="translate(589.8 286.7) scale(0.8448 1)" font-size="8.3" fill="#0a0a0a" stroke="#0a0a0a" stroke-width="0.28">2</text>
<text transform="translate(581 224.1) scale(0.8173 1)" font-size="8.8" fill="#0a0a0a" stroke="#0a0a0a" stroke-width="0.28">10</text>
<text transform="translate(589.8 219.1) scale(0.8448 1)" font-size="8.3" fill="#0a0a0a" stroke="#0a0a0a" stroke-width="0.28">3</text>
<text transform="translate(581 164.3) scale(0.8173 1)" font-size="8.8" fill="#0a0a0a" stroke="#0a0a0a" stroke-width="0.28">10</text>
<text transform="translate(589.8 159.3) scale(0.8448 1)" font-size="8.3" fill="#0a0a0a" stroke="#0a0a0a" stroke-width="0.28">4</text>
<path d="M602.5 388.95h-3.3M602.5 380.5h-3.3M602.5 373.95h-3.3M602.5 368.6h-3.3M602.5 364.07h-3.3M602.5 360.15h-3.3M602.5 356.69h-3.3M602.5 353.6h-6.4M602.5 333.25h-3.3M602.5 321.35h-3.3M602.5 312.9h-3.3M602.5 306.35h-3.3M602.5 301h-3.3M602.5 296.47h-3.3M602.5 292.55h-3.3M602.5 289.09h-3.3M602.5 286h-6.4M602.5 265.65h-3.3M602.5 253.75h-3.3M602.5 245.3h-3.3M602.5 238.75h-3.3M602.5 233.4h-3.3M602.5 228.87h-3.3M602.5 224.95h-3.3M602.5 221.49h-3.3M602.5 218.4h-6.4M602.5 198.05h-3.3M602.5 186.15h-3.3M602.5 177.7h-3.3M602.5 171.15h-3.3M602.5 165.8h-3.3M602.5 161.27h-3.3M602.5 157.35h-3.3M602.5 153.89h-3.3M602.5 150.5h-6" stroke="#000" stroke-width="1.1" fill="none"/>
<text transform="translate(719.75 433.2)" font-size="10.15" text-anchor="middle" fill="#0a0a0a" stroke="#0a0a0a" stroke-width="0.28">405 450  50-A :: PB Sca-1 405 450  50-A</text>
<text transform="translate(554.6 270) rotate(-90)" font-size="10" text-anchor="middle" fill="#0a0a0a" stroke="#0a0a0a" stroke-width="0.28">561 780_60-A :: PECy-7 c-kit 561 780_60-A</text>
<rect x="607" y="179.5" width="54.8" height="12.5" fill="#d9def0" stroke="none" stroke-width="1"/>
<rect x="603" y="150.2" width="70.8" height="108.8" fill="none" stroke="#f70d0d" stroke-width="3.5"/>
<rect x="681.8" y="150.2" width="115.9" height="108.8" fill="none" stroke="#f70d0d" stroke-width="3.5"/>
<text transform="translate(633.8 172.2)" font-size="10" text-anchor="middle" fill="#0a0a0a" stroke="#0a0a0a" stroke-width="0.28">c-kit+Sca-1-</text>
<text transform="translate(634 185.9)" font-size="9.7" text-anchor="middle" fill="#0a0a0a" stroke="#0a0a0a" stroke-width="0.28">31.9</text>
<text transform="translate(731.59 169.2) scale(0.9375 1)" font-size="9.6" fill="#0a0a0a" stroke="#0a0a0a" stroke-width="0.28">LSK</text>
<text transform="translate(739.8 183.1)" font-size="9.7" text-anchor="middle" fill="#0a0a0a" stroke="#0a0a0a" stroke-width="0.28">7.37</text>
<path d="M504 358.5 V477.7 H623.5" fill="none" stroke="#1a1a1a" stroke-width="3.3" stroke-linejoin="miter"/>
<polygon points="504,320 515.3,360.5 492.7,360.5" fill="#1a1a1a"/>
<polygon points="662,477.7 621.5,466.4 621.5,489" fill="#1a1a1a"/>
<text transform="translate(674.1 488) scale(0.8945 1)" font-size="39.97" fill="#111">Sca-1</text>
<text transform="translate(517.62 304) rotate(-90) scale(0.9563 1)" font-size="42.15" fill="#111">cKit</text>
</g>
<g id="plot3">
<clipPath id="cp3"><rect x="1064.5" y="152" width="239.5" height="238.4"/></clipPath>
<clipPath id="bc3"><path d="M1190.19 173.81C1191.47 171.9 1195.69 170.5 1197.95 170.08C1200.21 169.66 1207.23 169.02 1210.37 170.08C1213.5 171.14 1220.2 176 1222.78 178.46C1225.36 180.92 1228.71 186.27 1230.54 189.32C1232.37 192.38 1236.75 201.74 1236.75 201.74C1236.75 201.74 1239.83 193.92 1241.4 192.43C1242.98 190.93 1247.12 190.69 1249.16 189.94C1251.2 189.2 1256.4 185.68 1258.47 186.22C1260.54 186.76 1262.91 192.01 1264.68 193.98C1266.45 195.95 1271.39 200.95 1272.44 201.74C1273.49 202.52 1275.83 203.61 1277.09 203.29C1278.36 202.97 1282.82 199.93 1284.85 198.63C1286.89 197.34 1292.25 194.72 1294.17 192.43C1296.08 190.13 1298.99 182.88 1300.37 180.01C1301.75 177.14 1305.34 169.15 1305.34 169.15C1305.34 169.15 1305.66 263.98 1305.34 270.02C1305.02 276.06 1300.59 285.96 1298.82 291.74C1297.05 297.53 1293.13 309.95 1291.06 316.57C1288.99 323.19 1285.74 334.91 1283.3 341.4C1280.87 347.9 1274.5 362.26 1272.44 366.23C1270.37 370.2 1265.84 377.68 1263.13 380.2C1260.42 382.72 1253.3 386.04 1250.71 386.41C1248.12 386.78 1243.74 384.47 1241.4 383.3C1239.06 382.13 1234.9 378.1 1232.09 377.09C1229.28 376.09 1223.01 375.69 1219.68 375.54C1216.34 375.39 1202.93 375.73 1197.95 375.54C1192.97 375.35 1182.65 374.32 1179.33 373.99C1176.01 373.66 1169.47 372.99 1166.91 372.44C1164.36 371.89 1158.77 370.51 1157.6 369.34C1156.43 368.17 1158.77 364.3 1157.6 363.13C1156.43 361.96 1150.81 360.74 1148.29 360.02C1145.78 359.31 1139.19 357.75 1135.88 356.92C1132.57 356.09 1126.21 354.99 1123.46 353.82C1120.72 352.64 1115.86 349.32 1114.15 347.61C1112.45 345.9 1109.84 342.24 1109.5 339.85C1109.16 337.46 1109.62 329.35 1111.05 325.88C1112.48 322.42 1118.7 317.19 1120.36 313.47C1122.02 309.75 1122.42 300.75 1123.46 297.95C1124.51 295.16 1126.88 289.69 1129.67 288.64C1132.47 287.59 1148.29 288.64 1148.29 288.64C1148.29 288.64 1146.88 267.7 1148.29 263.81C1149.71 259.92 1158.28 256.23 1160.71 254.5C1163.14 252.77 1168.11 250.59 1170.02 248.29C1171.93 246 1175 239.37 1176.23 235.88C1177.45 232.38 1179.85 222.18 1180.88 217.26C1181.91 212.33 1183.32 201.98 1183.99 198.63C1184.65 195.29 1186.26 189.53 1187.09 186.22C1187.92 182.91 1188.91 175.71 1190.19 173.81Z"/><path d="M1062.94 285.54C1062.94 285.54 1068.56 293.36 1069.15 297.95C1069.74 302.54 1070.3 331.03 1070.08 341.4C1069.86 351.78 1068.14 369.47 1067.6 372.44C1067.05 375.41 1062.94 380.2 1062.94 380.2C1062.94 380.2 1062.94 285.54 1062.94 285.54Z"/></clipPath>
<g clip-path="url(#cp3)"><g filter="url(#jet)">
<g fill="#383838"><path d="M1190.19 173.81C1191.47 171.9 1195.69 170.5 1197.95 170.08C1200.21 169.66 1207.23 169.02 1210.37 170.08C1213.5 171.14 1220.2 176 1222.78 178.46C1225.36 180.92 1228.71 186.27 1230.54 189.32C1232.37 192.38 1236.75 201.74 1236.75 201.74C1236.75 201.74 1239.83 193.92 1241.4 192.43C1242.98 190.93 1247.12 190.69 1249.16 189.94C1251.2 189.2 1256.4 185.68 1258.47 186.22C1260.54 186.76 1262.91 192.01 1264.68 193.98C1266.45 195.95 1271.39 200.95 1272.44 201.74C1273.49 202.52 1275.83 203.61 1277.09 203.29C1278.36 202.97 1282.82 199.93 1284.85 198.63C1286.89 197.34 1292.25 194.72 1294.17 192.43C1296.08 190.13 1298.99 182.88 1300.37 180.01C1301.75 177.14 1305.34 169.15 1305.34 169.15C1305.34 169.15 1305.66 263.98 1305.34 270.02C1305.02 276.06 1300.59 285.96 1298.82 291.74C1297.05 297.53 1293.13 309.95 1291.06 316.57C1288.99 323.19 1285.74 334.91 1283.3 341.4C1280.87 347.9 1274.5 362.26 1272.44 366.23C1270.37 370.2 1265.84 377.68 1263.13 380.2C1260.42 382.72 1253.3 386.04 1250.71 386.41C1248.12 386.78 1243.74 384.47 1241.4 383.3C1239.06 382.13 1234.9 378.1 1232.09 377.09C1229.28 376.09 1223.01 375.69 1219.68 375.54C1216.34 375.39 1202.93 375.73 1197.95 375.54C1192.97 375.35 1182.65 374.32 1179.33 373.99C1176.01 373.66 1169.47 372.99 1166.91 372.44C1164.36 371.89 1158.77 370.51 1157.6 369.34C1156.43 368.17 1158.77 364.3 1157.6 363.13C1156.43 361.96 1150.81 360.74 1148.29 360.02C1145.78 359.31 1139.19 357.75 1135.88 356.92C1132.57 356.09 1126.21 354.99 1123.46 353.82C1120.72 352.64 1115.86 349.32 1114.15 347.61C1112.45 345.9 1109.84 342.24 1109.5 339.85C1109.16 337.46 1109.62 329.35 1111.05 325.88C1112.48 322.42 1118.7 317.19 1120.36 313.47C1122.02 309.75 1122.42 300.75 1123.46 297.95C1124.51 295.16 1126.88 289.69 1129.67 288.64C1132.47 287.59 1148.29 288.64 1148.29 288.64C1148.29 288.64 1146.88 267.7 1148.29 263.81C1149.71 259.92 1158.28 256.23 1160.71 254.5C1163.14 252.77 1168.11 250.59 1170.02 248.29C1171.93 246 1175 239.37 1176.23 235.88C1177.45 232.38 1179.85 222.18 1180.88 217.26C1181.91 212.33 1183.32 201.98 1183.99 198.63C1184.65 195.29 1186.26 189.53 1187.09 186.22C1187.92 182.91 1188.91 175.71 1190.19 173.81Z"/><path d="M1062.94 285.54C1062.94 285.54 1068.56 293.36 1069.15 297.95C1069.74 302.54 1070.3 331.03 1070.08 341.4C1069.86 351.78 1068.14 369.47 1067.6 372.44C1067.05 375.41 1062.94 380.2 1062.94 380.2C1062.94 380.2 1062.94 285.54 1062.94 285.54Z"/></g>
<g clip-path="url(#bc3)">
<path d="M1197.95 350.71C1200.54 346.58 1206.06 344.27 1210.37 341.4C1214.67 338.53 1230.02 333.64 1235.2 325.88C1240.37 318.13 1237.92 304.81 1241.4 294.85C1244.89 284.89 1252.41 271.48 1256.92 263.81C1261.43 256.14 1267.51 248.49 1272.44 242.09C1277.37 235.68 1287.96 223.46 1287.96 223.46C1287.96 223.46 1294.62 231.12 1295.72 235.88C1296.81 240.63 1298 254.51 1297.27 263.81C1296.53 273.11 1293.62 284.61 1291.06 294.85C1288.5 305.08 1284.85 315.54 1281.75 325.88C1278.65 336.23 1275.79 348.3 1272.44 356.92C1269.09 365.55 1262.86 378.56 1260.02 381.75C1257.19 384.94 1251.6 386.35 1247.61 384.85C1243.62 383.36 1240.81 374.08 1235.2 372.44C1229.58 370.8 1216.08 374.87 1210.37 373.99C1204.65 373.11 1196.92 370.11 1194.85 366.23C1192.78 362.35 1195.37 354.85 1197.95 350.71Z" fill="#454545" stroke="#454545" stroke-width="28" stroke-linejoin="round"/>
<path d="M1244.51 325.88C1245.54 320.71 1247.79 303.63 1250.71 294.85C1253.64 286.07 1258.76 276.82 1263.13 270.02C1267.5 263.22 1278.65 251.4 1278.65 251.4C1278.65 251.4 1285.36 254.46 1286.41 257.6C1287.45 260.75 1288.6 272.1 1287.96 279.33C1287.32 286.56 1284.31 300.13 1281.75 310.37C1279.19 320.6 1275.39 332.04 1272.44 341.4C1269.48 350.76 1265.82 364.54 1263.13 369.34C1260.44 374.13 1250.71 380.2 1250.71 380.2C1250.71 380.2 1244.2 371.41 1242.95 366.23C1241.71 361.05 1241.2 346.67 1241.4 341.4C1241.61 336.13 1243.47 331.06 1244.51 325.88Z" fill="#454545" stroke="#454545" stroke-width="68" stroke-linejoin="round"/>
<ellipse cx="1207.26" cy="363.13" rx="13.97" ry="6.83" fill="#454545" stroke="#454545" stroke-width="68" stroke-linejoin="round"/>
<path d="M1197.95 350.71C1200.54 346.58 1206.06 344.27 1210.37 341.4C1214.67 338.53 1230.02 333.64 1235.2 325.88C1240.37 318.13 1237.92 304.81 1241.4 294.85C1244.89 284.89 1252.41 271.48 1256.92 263.81C1261.43 256.14 1267.51 248.49 1272.44 242.09C1277.37 235.68 1287.96 223.46 1287.96 223.46C1287.96 223.46 1294.62 231.12 1295.72 235.88C1296.81 240.63 1298 254.51 1297.27 263.81C1296.53 273.11 1293.62 284.61 1291.06 294.85C1288.5 305.08 1284.85 315.54 1281.75 325.88C1278.65 336.23 1275.79 348.3 1272.44 356.92C1269.09 365.55 1262.86 378.56 1260.02 381.75C1257.19 384.94 1251.6 386.35 1247.61 384.85C1243.62 383.36 1240.81 374.08 1235.2 372.44C1229.58 370.8 1216.08 374.87 1210.37 373.99C1204.65 373.11 1196.92 370.11 1194.85 366.23C1192.78 362.35 1195.37 354.85 1197.95 350.71Z" fill="#525252" stroke="#525252" stroke-width="18" stroke-linejoin="round"/>
<path d="M1244.51 325.88C1245.54 320.71 1247.79 303.63 1250.71 294.85C1253.64 286.07 1258.76 276.82 1263.13 270.02C1267.5 263.22 1278.65 251.4 1278.65 251.4C1278.65 251.4 1285.36 254.46 1286.41 257.6C1287.45 260.75 1288.6 272.1 1287.96 279.33C1287.32 286.56 1284.31 300.13 1281.75 310.37C1279.19 320.6 1275.39 332.04 1272.44 341.4C1269.48 350.76 1265.82 364.54 1263.13 369.34C1260.44 374.13 1250.71 380.2 1250.71 380.2C1250.71 380.2 1244.2 371.41 1242.95 366.23C1241.71 361.05 1241.2 346.67 1241.4 341.4C1241.61 336.13 1243.47 331.06 1244.51 325.88Z" fill="#525252" stroke="#525252" stroke-width="54" stroke-linejoin="round"/>
<ellipse cx="1207.26" cy="363.13" rx="13.97" ry="6.83" fill="#525252" stroke="#525252" stroke-width="54" stroke-linejoin="round"/>
<path d="M1197.95 350.71C1200.54 346.58 1206.06 344.27 1210.37 341.4C1214.67 338.53 1230.02 333.64 1235.2 325.88C1240.37 318.13 1237.92 304.81 1241.4 294.85C1244.89 284.89 1252.41 271.48 1256.92 263.81C1261.43 256.14 1267.51 248.49 1272.44 242.09C1277.37 235.68 1287.96 223.46 1287.96 223.46C1287.96 223.46 1294.62 231.12 1295.72 235.88C1296.81 240.63 1298 254.51 1297.27 263.81C1296.53 273.11 1293.62 284.61 1291.06 294.85C1288.5 305.08 1284.85 315.54 1281.75 325.88C1278.65 336.23 1275.79 348.3 1272.44 356.92C1269.09 365.55 1262.86 378.56 1260.02 381.75C1257.19 384.94 1251.6 386.35 1247.61 384.85C1243.62 383.36 1240.81 374.08 1235.2 372.44C1229.58 370.8 1216.08 374.87 1210.37 373.99C1204.65 373.11 1196.92 370.11 1194.85 366.23C1192.78 362.35 1195.37 354.85 1197.95 350.71Z" fill="#5e5e5e" stroke="#5e5e5e" stroke-width="12" stroke-linejoin="round"/>
<path d="M1244.51 325.88C1245.54 320.71 1247.79 303.63 1250.71 294.85C1253.64 286.07 1258.76 276.82 1263.13 270.02C1267.5 263.22 1278.65 251.4 1278.65 251.4C1278.65 251.4 1285.36 254.46 1286.41 257.6C1287.45 260.75 1288.6 272.1 1287.96 279.33C1287.32 286.56 1284.31 300.13 1281.75 310.37C1279.19 320.6 1275.39 332.04 1272.44 341.4C1269.48 350.76 1265.82 364.54 1263.13 369.34C1260.44 374.13 1250.71 380.2 1250.71 380.2C1250.71 380.2 1244.2 371.41 1242.95 366.23C1241.71 361.05 1241.2 346.67 1241.4 341.4C1241.61 336.13 1243.47 331.06 1244.51 325.88Z" fill="#5e5e5e" stroke="#5e5e5e" stroke-width="42" stroke-linejoin="round"/>
<ellipse cx="1207.26" cy="363.13" rx="13.97" ry="6.83" fill="#5e5e5e" stroke="#5e5e5e" stroke-width="42" stroke-linejoin="round"/>
<path d="M1197.95 350.71C1200.54 346.58 1206.06 344.27 1210.37 341.4C1214.67 338.53 1230.02 333.64 1235.2 325.88C1240.37 318.13 1237.92 304.81 1241.4 294.85C1244.89 284.89 1252.41 271.48 1256.92 263.81C1261.43 256.14 1267.51 248.49 1272.44 242.09C1277.37 235.68 1287.96 223.46 1287.96 223.46C1287.96 223.46 1294.62 231.12 1295.72 235.88C1296.81 240.63 1298 254.51 1297.27 263.81C1296.53 273.11 1293.62 284.61 1291.06 294.85C1288.5 305.08 1284.85 315.54 1281.75 325.88C1278.65 336.23 1275.79 348.3 1272.44 356.92C1269.09 365.55 1262.86 378.56 1260.02 381.75C1257.19 384.94 1251.6 386.35 1247.61 384.85C1243.62 383.36 1240.81 374.08 1235.2 372.44C1229.58 370.8 1216.08 374.87 1210.37 373.99C1204.65 373.11 1196.92 370.11 1194.85 366.23C1192.78 362.35 1195.37 354.85 1197.95 350.71Z" fill="#6b6b6b" stroke="#6b6b6b" stroke-width="6" stroke-linejoin="round"/>
<path d="M1244.51 325.88C1245.54 320.71 1247.79 303.63 1250.71 294.85C1253.64 286.07 1258.76 276.82 1263.13 270.02C1267.5 263.22 1278.65 251.4 1278.65 251.4C1278.65 251.4 1285.36 254.46 1286.41 257.6C1287.45 260.75 1288.6 272.1 1287.96 279.33C1287.32 286.56 1284.31 300.13 1281.75 310.37C1279.19 320.6 1275.39 332.04 1272.44 341.4C1269.48 350.76 1265.82 364.54 1263.13 369.34C1260.44 374.13 1250.71 380.2 1250.71 380.2C1250.71 380.2 1244.2 371.41 1242.95 366.23C1241.71 361.05 1241.2 346.67 1241.4 341.4C1241.61 336.13 1243.47 331.06 1244.51 325.88Z" fill="#6b6b6b" stroke="#6b6b6b" stroke-width="32" stroke-linejoin="round"/>
<ellipse cx="1207.26" cy="363.13" rx="13.97" ry="6.83" fill="#6b6b6b" stroke="#6b6b6b" stroke-width="32" stroke-linejoin="round"/>
<path d="M1197.95 350.71C1200.54 346.58 1206.06 344.27 1210.37 341.4C1214.67 338.53 1230.02 333.64 1235.2 325.88C1240.37 318.13 1237.92 304.81 1241.4 294.85C1244.89 284.89 1252.41 271.48 1256.92 263.81C1261.43 256.14 1267.51 248.49 1272.44 242.09C1277.37 235.68 1287.96 223.46 1287.96 223.46C1287.96 223.46 1294.62 231.12 1295.72 235.88C1296.81 240.63 1298 254.51 1297.27 263.81C1296.53 273.11 1293.62 284.61 1291.06 294.85C1288.5 305.08 1284.85 315.54 1281.75 325.88C1278.65 336.23 1275.79 348.3 1272.44 356.92C1269.09 365.55 1262.86 378.56 1260.02 381.75C1257.19 384.94 1251.6 386.35 1247.61 384.85C1243.62 383.36 1240.81 374.08 1235.2 372.44C1229.58 370.8 1216.08 374.87 1210.37 373.99C1204.65 373.11 1196.92 370.11 1194.85 366.23C1192.78 362.35 1195.37 354.85 1197.95 350.71Z" fill="#7a7a7a"/>
<path d="M1244.51 325.88C1245.54 320.71 1247.79 303.63 1250.71 294.85C1253.64 286.07 1258.76 276.82 1263.13 270.02C1267.5 263.22 1278.65 251.4 1278.65 251.4C1278.65 251.4 1285.36 254.46 1286.41 257.6C1287.45 260.75 1288.6 272.1 1287.96 279.33C1287.32 286.56 1284.31 300.13 1281.75 310.37C1279.19 320.6 1275.39 332.04 1272.44 341.4C1269.48 350.76 1265.82 364.54 1263.13 369.34C1260.44 374.13 1250.71 380.2 1250.71 380.2C1250.71 380.2 1244.2 371.41 1242.95 366.23C1241.71 361.05 1241.2 346.67 1241.4 341.4C1241.61 336.13 1243.47 331.06 1244.51 325.88Z" fill="#7a7a7a" stroke="#7a7a7a" stroke-width="24" stroke-linejoin="round"/>
<ellipse cx="1207.26" cy="363.13" rx="13.97" ry="6.83" fill="#7a7a7a" stroke="#7a7a7a" stroke-width="24" stroke-linejoin="round"/>
<path d="M1244.51 325.88C1245.54 320.71 1247.79 303.63 1250.71 294.85C1253.64 286.07 1258.76 276.82 1263.13 270.02C1267.5 263.22 1278.65 251.4 1278.65 251.4C1278.65 251.4 1285.36 254.46 1286.41 257.6C1287.45 260.75 1288.6 272.1 1287.96 279.33C1287.32 286.56 1284.31 300.13 1281.75 310.37C1279.19 320.6 1275.39 332.04 1272.44 341.4C1269.48 350.76 1265.82 364.54 1263.13 369.34C1260.44 374.13 1250.71 380.2 1250.71 380.2C1250.71 380.2 1244.2 371.41 1242.95 366.23C1241.71 361.05 1241.2 346.67 1241.4 341.4C1241.61 336.13 1243.47 331.06 1244.51 325.88Z" fill="#878787" stroke="#878787" stroke-width="17" stroke-linejoin="round"/>
<ellipse cx="1207.26" cy="363.13" rx="13.97" ry="6.83" fill="#878787" stroke="#878787" stroke-width="17" stroke-linejoin="round"/>
<path d="M1244.51 325.88C1245.54 320.71 1247.79 303.63 1250.71 294.85C1253.64 286.07 1258.76 276.82 1263.13 270.02C1267.5 263.22 1278.65 251.4 1278.65 251.4C1278.65 251.4 1285.36 254.46 1286.41 257.6C1287.45 260.75 1288.6 272.1 1287.96 279.33C1287.32 286.56 1284.31 300.13 1281.75 310.37C1279.19 320.6 1275.39 332.04 1272.44 341.4C1269.48 350.76 1265.82 364.54 1263.13 369.34C1260.44 374.13 1250.71 380.2 1250.71 380.2C1250.71 380.2 1244.2 371.41 1242.95 366.23C1241.71 361.05 1241.2 346.67 1241.4 341.4C1241.61 336.13 1243.47 331.06 1244.51 325.88Z" fill="#999999" stroke="#999999" stroke-width="6" stroke-linejoin="round"/>
<ellipse cx="1207.26" cy="363.13" rx="13.97" ry="6.83" fill="#999999" stroke="#999999" stroke-width="6" stroke-linejoin="round"/>
<path d="M1244.51 325.88C1245.54 320.71 1247.79 303.63 1250.71 294.85C1253.64 286.07 1258.76 276.82 1263.13 270.02C1267.5 263.22 1278.65 251.4 1278.65 251.4C1278.65 251.4 1285.36 254.46 1286.41 257.6C1287.45 260.75 1288.6 272.1 1287.96 279.33C1287.32 286.56 1284.31 300.13 1281.75 310.37C1279.19 320.6 1275.39 332.04 1272.44 341.4C1269.48 350.76 1265.82 364.54 1263.13 369.34C1260.44 374.13 1250.71 380.2 1250.71 380.2C1250.71 380.2 1244.2 371.41 1242.95 366.23C1241.71 361.05 1241.2 346.67 1241.4 341.4C1241.61 336.13 1243.47 331.06 1244.51 325.88Z" fill="#adadad"/>
<ellipse cx="1207.26" cy="363.13" rx="13.97" ry="6.83" fill="#adadad"/>
<ellipse cx="1207.26" cy="363.13" rx="8.69" ry="3.1" fill="#c2c2c2"/>
<ellipse cx="1259.4" cy="322.78" rx="9.31" ry="46.55" transform="rotate(7 1259.4 322.78)" fill="#c2c2c2" stroke="#c2c2c2" stroke-width="4.4" stroke-linejoin="round"/>
<ellipse cx="1259.4" cy="322.78" rx="9.31" ry="46.55" transform="rotate(7 1259.4 322.78)" fill="#d6d6d6"/>
<ellipse cx="1262.51" cy="296.4" rx="4.66" ry="13.97" transform="rotate(5 1262.51 296.4)" fill="#d6d6d6" stroke="#d6d6d6" stroke-width="6.8" stroke-linejoin="round"/>
<ellipse cx="1256.92" cy="335.2" rx="5.28" ry="13.04" transform="rotate(5 1256.92 335.2)" fill="#d6d6d6" stroke="#d6d6d6" stroke-width="6.8" stroke-linejoin="round"/>
<ellipse cx="1253.82" cy="363.13" rx="4.66" ry="8.69" fill="#d6d6d6" stroke="#d6d6d6" stroke-width="6.8" stroke-linejoin="round"/>
<ellipse cx="1259.09" cy="325.88" rx="4.03" ry="41.9" transform="rotate(7 1259.09 325.88)" fill="#e6e6e6"/>
<ellipse cx="1262.51" cy="296.4" rx="4.66" ry="13.97" transform="rotate(5 1262.51 296.4)" fill="#e6e6e6" stroke="#e6e6e6" stroke-width="3.2" stroke-linejoin="round"/>
<ellipse cx="1256.92" cy="335.2" rx="5.28" ry="13.04" transform="rotate(5 1256.92 335.2)" fill="#e6e6e6" stroke="#e6e6e6" stroke-width="3.2" stroke-linejoin="round"/>
<ellipse cx="1253.82" cy="363.13" rx="4.66" ry="8.69" fill="#e6e6e6" stroke="#e6e6e6" stroke-width="3.2" stroke-linejoin="round"/>
<ellipse cx="1262.51" cy="296.4" rx="4.66" ry="13.97" transform="rotate(5 1262.51 296.4)" fill="#ffffff"/>
<ellipse cx="1256.92" cy="335.2" rx="5.28" ry="13.04" transform="rotate(5 1256.92 335.2)" fill="#ffffff"/>
<ellipse cx="1253.82" cy="363.13" rx="4.66" ry="8.69" fill="#ffffff"/>
</g></g></g>
<path d="M1304 152 V390.5" fill="none" stroke="#444" stroke-width="1"/>
<path d="M1064.5 152 H1304" fill="none" stroke="#000" stroke-width="1.5"/>
<path d="M1064.5 151.4 V390.5 H1304.5" fill="none" stroke="#000" stroke-width="1.5"/>
<path d="M1064.85 390.5v3.3M1073.28 390.5v3.3M1079.82 390.5v3.3M1085.16 390.5v3.3M1089.68 390.5v3.3M1093.59 390.5v3.3M1097.04 390.5v3.3M1100.13 390.5v6.4M1120.43 390.5v3.3M1132.31 390.5v3.3M1140.74 390.5v3.3M1147.28 390.5v3.3M1152.62 390.5v3.3M1157.14 390.5v3.3M1161.05 390.5v3.3M1164.5 390.5v3.3M1167.58 390.5v6.4M1187.89 390.5v3.3M1199.77 390.5v3.3M1208.2 390.5v3.3M1214.74 390.5v3.3M1220.08 390.5v3.3M1224.59 390.5v3.3M1228.51 390.5v3.3M1231.96 390.5v3.3M1235.04 390.5v6.4M1255.35 390.5v3.3M1267.23 390.5v3.3M1275.66 390.5v3.3M1282.2 390.5v3.3M1287.54 390.5v3.3M1292.05 390.5v3.3M1295.97 390.5v3.3M1299.42 390.5v3.3M1302.5 390.5v6" stroke="#000" stroke-width="1.15" fill="none"/>
<text transform="translate(1101.13 410.8) scale(0.8173 1)" font-size="8.8" fill="#0a0a0a" stroke="#0a0a0a" stroke-width="0.28">10</text>
<text transform="translate(1109.93 405.8) scale(0.8448 1)" font-size="8.3" fill="#0a0a0a" stroke="#0a0a0a" stroke-width="0.28">1</text>
<text transform="translate(1168.58 410.8) scale(0.8173 1)" font-size="8.8" fill="#0a0a0a" stroke="#0a0a0a" stroke-width="0.28">10</text>
<text transform="translate(1177.38 405.8) scale(0.8448 1)" font-size="8.3" fill="#0a0a0a" stroke="#0a0a0a" stroke-width="0.28">2</text>
<text transform="translate(1236.04 410.8) scale(0.8173 1)" font-size="8.8" fill="#0a0a0a" stroke="#0a0a0a" stroke-width="0.28">10</text>
<text transform="translate(1244.84 405.8) scale(0.8448 1)" font-size="8.3" fill="#0a0a0a" stroke="#0a0a0a" stroke-width="0.28">3</text>
<text transform="translate(1292 410.8) scale(0.8173 1)" font-size="8.8" fill="#0a0a0a" stroke="#0a0a0a" stroke-width="0.28">10</text>
<text transform="translate(1300.8 405.8) scale(0.8448 1)" font-size="8.3" fill="#0a0a0a" stroke="#0a0a0a" stroke-width="0.28">4</text>
<text transform="translate(1053.2 347.11)" font-size="8.5" text-anchor="end" fill="#0a0a0a" stroke="#0a0a0a" stroke-width="0.28">200</text>
<text transform="translate(1053.2 300.62)" font-size="8.5" text-anchor="end" fill="#0a0a0a" stroke="#0a0a0a" stroke-width="0.28">400</text>
<text transform="translate(1053.2 254.14)" font-size="8.5" text-anchor="end" fill="#0a0a0a" stroke="#0a0a0a" stroke-width="0.28">600</text>
<text transform="translate(1053.2 207.65)" font-size="8.5" text-anchor="end" fill="#0a0a0a" stroke="#0a0a0a" stroke-width="0.28">800</text>
<text transform="translate(1053.2 161.16)" font-size="8.5" text-anchor="end" fill="#0a0a0a" stroke="#0a0a0a" stroke-width="0.28">1.0K</text>
<text transform="translate(1053.2 390.8)" font-size="8.5" text-anchor="end" fill="#0a0a0a" stroke="#0a0a0a" stroke-width="0.28">0</text>
<path d="M1064.5 378.88h-3.6M1064.5 367.26h-3.6M1064.5 355.63h-3.6M1064.5 332.39h-3.6M1064.5 320.77h-3.6M1064.5 309.15h-3.6M1064.5 285.9h-3.6M1064.5 274.28h-3.6M1064.5 262.66h-3.6M1064.5 239.41h-3.6M1064.5 227.79h-3.6M1064.5 216.17h-3.6M1064.5 192.93h-3.6M1064.5 181.3h-3.6M1064.5 169.68h-3.6" stroke="#000" stroke-width="1.1" fill="none"/>
<path d="M1064.5 344.01h-7.2M1064.5 297.52h-7.2M1064.5 251.04h-7.2M1064.5 204.55h-7.2M1064.5 158.06h-7.2M1064.5 390.5h-7.2" stroke="#000" stroke-width="1.5" fill="none"/>
<text transform="translate(1181.25 433.7)" font-size="10.15" text-anchor="middle" fill="#0a0a0a" stroke="#0a0a0a" stroke-width="0.28">640 670  14-A :: APC Lin+ 640 670  14-A</text>
<text transform="translate(1011.6 271.25) rotate(-90)" font-size="10" text-anchor="middle" fill="#0a0a0a" stroke="#0a0a0a" stroke-width="0.28">SSC-A</text>
<rect x="1129" y="266" width="19.5" height="22.5" fill="#d4d6ee" stroke="none" stroke-width="1"/>
<rect x="1064.5" y="152.5" width="124" height="238" fill="none" stroke="#222" stroke-width="1"/>
<text transform="translate(1107.3 268.2)" font-size="10" text-anchor="middle" fill="#0a0a0a" stroke="#0a0a0a" stroke-width="0.28">Lineage Negative</text>
<text transform="translate(1108 281.9)" font-size="9.7" text-anchor="middle" fill="#0a0a0a" stroke="#0a0a0a" stroke-width="0.28">6.83</text>
<path d="M963 361.3 V479.5 H1082.5" fill="none" stroke="#1a1a1a" stroke-width="3.3" stroke-linejoin="miter"/>
<polygon points="963,322.8 974.3,363.3 951.7,363.3" fill="#1a1a1a"/>
<polygon points="1121,479.5 1080.5,468.2 1080.5,490.8" fill="#1a1a1a"/>
<text transform="translate(1133.5 490) scale(1.0087 1)" font-size="39.97" fill="#111">Lineage</text>
<text transform="translate(975.1 307.3) rotate(-90) scale(0.7498 1)" font-size="44.04" fill="#111">SSC</text>
</g>
<g id="plot4">
<clipPath id="cp4"><rect x="1467" y="150.5" width="239.5" height="239.5"/></clipPath>
<clipPath id="bc4"><path d="M1461.46 175.12C1461.46 175.12 1470.95 174.69 1474.37 175.12C1477.78 175.55 1483.81 177.58 1487.28 178.35C1490.74 179.12 1499.13 180.83 1503.42 181.58C1507.71 182.33 1516.54 183.82 1519.56 184C1522.57 184.17 1527.84 183.41 1530.86 183.19C1533.87 182.98 1539.14 182.54 1542.15 182.38C1545.17 182.22 1551.62 181.84 1555.06 181.9C1558.51 181.96 1567.68 182.32 1571.2 182.87C1574.73 183.42 1581.1 185.57 1584.12 186.42C1587.13 187.26 1592.62 188.36 1595.41 189.65C1598.21 190.94 1602.8 194.01 1605.1 196.1C1607.39 198.19 1611.8 203.43 1613.17 205.79C1614.54 208.14 1616.82 213.32 1616.39 215.47C1615.96 217.62 1611.84 220.4 1609.94 221.93C1608.04 223.45 1602.84 226.66 1600.26 228.38C1597.67 230.1 1592.93 232.91 1590.57 234.84C1588.22 236.76 1584.35 240.86 1582.5 242.91C1580.66 244.95 1576.69 248.61 1576.05 250.98C1575.4 253.34 1575.9 258.72 1577.66 260.66C1579.42 262.6 1589.6 265.72 1592.19 268.73C1594.77 271.74 1597.23 280.16 1597.03 283.26C1596.82 286.35 1591.22 289.93 1590.57 292.94C1589.93 295.95 1591.75 302.41 1592.19 305.85C1592.62 309.29 1594.23 315.32 1593.8 318.76C1593.37 322.2 1590.42 328.53 1588.96 331.67C1587.49 334.82 1585.3 340.92 1582.5 342.97C1579.7 345.02 1568.2 348.16 1564.75 349.43C1561.3 350.7 1554.32 352.41 1551.84 354.27C1549.35 356.13 1546.9 362.05 1545.38 363.95C1543.86 365.85 1540.65 368.69 1538.93 370.41C1537.2 372.13 1529.24 380.09 1529.24 380.09C1529.24 380.09 1536.32 381.49 1538.93 381.71C1541.53 381.92 1560.22 383.12 1567.98 383.32C1575.73 383.52 1597.39 382.99 1600.26 383.32C1603.12 383.65 1608.2 387.81 1609.94 388.16C1611.68 388.51 1614.67 386.33 1616.39 386.55C1618.12 386.76 1621.89 388.81 1622.85 389.78C1623.81 390.74 1624.46 394.62 1624.46 394.62C1624.46 394.62 1461.46 394.62 1461.46 394.62C1461.46 394.62 1461.46 175.12 1461.46 175.12Z"/></clipPath>
<g clip-path="url(#cp4)"><g filter="url(#jet)">
<g fill="#383838"><path d="M1461.46 175.12C1461.46 175.12 1470.95 174.69 1474.37 175.12C1477.78 175.55 1483.81 177.58 1487.28 178.35C1490.74 179.12 1499.13 180.83 1503.42 181.58C1507.71 182.33 1516.54 183.82 1519.56 184C1522.57 184.17 1527.84 183.41 1530.86 183.19C1533.87 182.98 1539.14 182.54 1542.15 182.38C1545.17 182.22 1551.62 181.84 1555.06 181.9C1558.51 181.96 1567.68 182.32 1571.2 182.87C1574.73 183.42 1581.1 185.57 1584.12 186.42C1587.13 187.26 1592.62 188.36 1595.41 189.65C1598.21 190.94 1602.8 194.01 1605.1 196.1C1607.39 198.19 1611.8 203.43 1613.17 205.79C1614.54 208.14 1616.82 213.32 1616.39 215.47C1615.96 217.62 1611.84 220.4 1609.94 221.93C1608.04 223.45 1602.84 226.66 1600.26 228.38C1597.67 230.1 1592.93 232.91 1590.57 234.84C1588.22 236.76 1584.35 240.86 1582.5 242.91C1580.66 244.95 1576.69 248.61 1576.05 250.98C1575.4 253.34 1575.9 258.72 1577.66 260.66C1579.42 262.6 1589.6 265.72 1592.19 268.73C1594.77 271.74 1597.23 280.16 1597.03 283.26C1596.82 286.35 1591.22 289.93 1590.57 292.94C1589.93 295.95 1591.75 302.41 1592.19 305.85C1592.62 309.29 1594.23 315.32 1593.8 318.76C1593.37 322.2 1590.42 328.53 1588.96 331.67C1587.49 334.82 1585.3 340.92 1582.5 342.97C1579.7 345.02 1568.2 348.16 1564.75 349.43C1561.3 350.7 1554.32 352.41 1551.84 354.27C1549.35 356.13 1546.9 362.05 1545.38 363.95C1543.86 365.85 1540.65 368.69 1538.93 370.41C1537.2 372.13 1529.24 380.09 1529.24 380.09C1529.24 380.09 1536.32 381.49 1538.93 381.71C1541.53 381.92 1560.22 383.12 1567.98 383.32C1575.73 383.52 1597.39 382.99 1600.26 383.32C1603.12 383.65 1608.2 387.81 1609.94 388.16C1611.68 388.51 1614.67 386.33 1616.39 386.55C1618.12 386.76 1621.89 388.81 1622.85 389.78C1623.81 390.74 1624.46 394.62 1624.46 394.62C1624.46 394.62 1461.46 394.62 1461.46 394.62C1461.46 394.62 1461.46 175.12 1461.46 175.12Z"/></g>
<g clip-path="url(#bc4)">
<path d="M1471.95 202.56C1472.34 198.2 1477.22 195.36 1480.82 192.87C1484.43 190.39 1490.11 187.2 1495.35 186.42C1500.59 185.63 1508.45 186.81 1513.1 188.03C1517.76 189.26 1522.79 191.26 1526.01 194.49C1529.24 197.72 1531.35 202.72 1532.47 207.4C1533.58 212.08 1534.34 221.84 1534.08 228.38C1533.82 234.92 1531.73 243.4 1530.86 247.75C1529.99 252.1 1527.63 256.22 1527.63 260.66C1527.63 265.1 1530.08 270.29 1530.86 275.19C1531.63 280.08 1532.7 285.92 1532.47 291.32C1532.23 296.73 1530.83 305.69 1529.24 312.31C1527.65 318.92 1525.72 325.8 1522.79 331.67C1519.85 337.55 1514.65 344.43 1511.49 347.81C1508.33 351.2 1504.23 354.81 1500.19 355.88C1496.16 356.96 1490.78 356.69 1487.28 354.27C1483.78 351.85 1481.18 346.03 1479.21 341.36C1477.24 336.68 1475.25 329.67 1474.37 323.6C1473.49 317.53 1472.16 302.11 1471.95 291.32C1471.73 280.54 1471.55 206.92 1471.95 202.56Z" fill="#454545" stroke="#454545" stroke-width="25.2" stroke-linejoin="round"/>
<ellipse cx="1564.75" cy="202.56" rx="17.75" ry="6.46" transform="rotate(5 1564.75 202.56)" fill="#454545" stroke="#454545" stroke-width="16" stroke-linejoin="round"/>
<path d="M1471.95 202.56C1472.34 198.2 1477.22 195.36 1480.82 192.87C1484.43 190.39 1490.11 187.2 1495.35 186.42C1500.59 185.63 1508.45 186.81 1513.1 188.03C1517.76 189.26 1522.79 191.26 1526.01 194.49C1529.24 197.72 1531.35 202.72 1532.47 207.4C1533.58 212.08 1534.34 221.84 1534.08 228.38C1533.82 234.92 1531.73 243.4 1530.86 247.75C1529.99 252.1 1527.63 256.22 1527.63 260.66C1527.63 265.1 1530.08 270.29 1530.86 275.19C1531.63 280.08 1532.7 285.92 1532.47 291.32C1532.23 296.73 1530.83 305.69 1529.24 312.31C1527.65 318.92 1525.72 325.8 1522.79 331.67C1519.85 337.55 1514.65 344.43 1511.49 347.81C1508.33 351.2 1504.23 354.81 1500.19 355.88C1496.16 356.96 1490.78 356.69 1487.28 354.27C1483.78 351.85 1481.18 346.03 1479.21 341.36C1477.24 336.68 1475.25 329.67 1474.37 323.6C1473.49 317.53 1472.16 302.11 1471.95 291.32C1471.73 280.54 1471.55 206.92 1471.95 202.56Z" fill="#525252" stroke="#525252" stroke-width="16.8" stroke-linejoin="round"/>
<ellipse cx="1564.75" cy="202.56" rx="17.75" ry="6.46" transform="rotate(5 1564.75 202.56)" fill="#525252" stroke="#525252" stroke-width="10" stroke-linejoin="round"/>
<path d="M1471.14 188.03C1471.14 188.03 1530.7 184.68 1538.93 186.42C1547.15 188.16 1552.65 197.74 1555.06 205.79C1557.48 213.83 1558.29 235.87 1558.29 250.98C1558.29 266.08 1557.06 285.71 1555.06 299.39C1553.07 313.08 1549.47 329.65 1545.38 339.74C1541.29 349.84 1537.62 362.84 1527.63 367.18C1517.64 371.52 1471.14 372.02 1471.14 372.02C1471.14 372.02 1471.14 188.03 1471.14 188.03Z" fill="#5e5e5e"/>
<path d="M1471.95 202.56C1472.34 198.2 1477.22 195.36 1480.82 192.87C1484.43 190.39 1490.11 187.2 1495.35 186.42C1500.59 185.63 1508.45 186.81 1513.1 188.03C1517.76 189.26 1522.79 191.26 1526.01 194.49C1529.24 197.72 1531.35 202.72 1532.47 207.4C1533.58 212.08 1534.34 221.84 1534.08 228.38C1533.82 234.92 1531.73 243.4 1530.86 247.75C1529.99 252.1 1527.63 256.22 1527.63 260.66C1527.63 265.1 1530.08 270.29 1530.86 275.19C1531.63 280.08 1532.7 285.92 1532.47 291.32C1532.23 296.73 1530.83 305.69 1529.24 312.31C1527.65 318.92 1525.72 325.8 1522.79 331.67C1519.85 337.55 1514.65 344.43 1511.49 347.81C1508.33 351.2 1504.23 354.81 1500.19 355.88C1496.16 356.96 1490.78 356.69 1487.28 354.27C1483.78 351.85 1481.18 346.03 1479.21 341.36C1477.24 336.68 1475.25 329.67 1474.37 323.6C1473.49 317.53 1472.16 302.11 1471.95 291.32C1471.73 280.54 1471.55 206.92 1471.95 202.56Z" fill="#5e5e5e" stroke="#5e5e5e" stroke-width="11.2" stroke-linejoin="round"/>
<ellipse cx="1564.75" cy="202.56" rx="17.75" ry="6.46" transform="rotate(5 1564.75 202.56)" fill="#5e5e5e" stroke="#5e5e5e" stroke-width="5" stroke-linejoin="round"/>
<path d="M1471.95 202.56C1472.34 198.2 1477.22 195.36 1480.82 192.87C1484.43 190.39 1490.11 187.2 1495.35 186.42C1500.59 185.63 1508.45 186.81 1513.1 188.03C1517.76 189.26 1522.79 191.26 1526.01 194.49C1529.24 197.72 1531.35 202.72 1532.47 207.4C1533.58 212.08 1534.34 221.84 1534.08 228.38C1533.82 234.92 1531.73 243.4 1530.86 247.75C1529.99 252.1 1527.63 256.22 1527.63 260.66C1527.63 265.1 1530.08 270.29 1530.86 275.19C1531.63 280.08 1532.7 285.92 1532.47 291.32C1532.23 296.73 1530.83 305.69 1529.24 312.31C1527.65 318.92 1525.72 325.8 1522.79 331.67C1519.85 337.55 1514.65 344.43 1511.49 347.81C1508.33 351.2 1504.23 354.81 1500.19 355.88C1496.16 356.96 1490.78 356.69 1487.28 354.27C1483.78 351.85 1481.18 346.03 1479.21 341.36C1477.24 336.68 1475.25 329.67 1474.37 323.6C1473.49 317.53 1472.16 302.11 1471.95 291.32C1471.73 280.54 1471.55 206.92 1471.95 202.56Z" fill="#6b6b6b" stroke="#6b6b6b" stroke-width="5.6" stroke-linejoin="round"/>
<ellipse cx="1564.75" cy="202.56" rx="17.75" ry="6.46" transform="rotate(5 1564.75 202.56)" fill="#6b6b6b"/>
<ellipse cx="1564.75" cy="198.04" rx="6.46" ry="1.61" fill="#7a7a7a"/>
<path d="M1471.95 202.56C1472.34 198.2 1477.22 195.36 1480.82 192.87C1484.43 190.39 1490.11 187.2 1495.35 186.42C1500.59 185.63 1508.45 186.81 1513.1 188.03C1517.76 189.26 1522.79 191.26 1526.01 194.49C1529.24 197.72 1531.35 202.72 1532.47 207.4C1533.58 212.08 1534.34 221.84 1534.08 228.38C1533.82 234.92 1531.73 243.4 1530.86 247.75C1529.99 252.1 1527.63 256.22 1527.63 260.66C1527.63 265.1 1530.08 270.29 1530.86 275.19C1531.63 280.08 1532.7 285.92 1532.47 291.32C1532.23 296.73 1530.83 305.69 1529.24 312.31C1527.65 318.92 1525.72 325.8 1522.79 331.67C1519.85 337.55 1514.65 344.43 1511.49 347.81C1508.33 351.2 1504.23 354.81 1500.19 355.88C1496.16 356.96 1490.78 356.69 1487.28 354.27C1483.78 351.85 1481.18 346.03 1479.21 341.36C1477.24 336.68 1475.25 329.67 1474.37 323.6C1473.49 317.53 1472.16 302.11 1471.95 291.32C1471.73 280.54 1471.55 206.92 1471.95 202.56Z" fill="#878787"/>
<rect x="1461.46" y="380.09" width="93.61" height="14.53" fill="#878787"/>
<rect x="1461.46" y="191.26" width="10.97" height="203.36" fill="#999999"/>
<path d="M1477.6 205.79C1479.16 201.08 1482.98 196.91 1487.28 194.49C1491.58 192.07 1498.83 191.01 1503.42 191.26C1508.01 191.52 1513.1 193.41 1516.33 196.1C1519.56 198.79 1521.94 203.15 1522.79 207.4C1523.64 211.65 1523.31 221.86 1522.79 228.38C1522.26 234.9 1520.43 243.4 1519.56 247.75C1518.69 252.1 1516.33 256.22 1516.33 260.66C1516.33 265.1 1518.78 270.29 1519.56 275.19C1520.33 280.08 1521.41 285.92 1521.17 291.32C1520.94 296.73 1519.41 306.7 1517.94 312.31C1516.48 317.91 1514.18 323.33 1511.49 328.45C1508.8 333.56 1504.32 340.88 1501.8 342.97C1499.29 345.07 1494.8 346.46 1492.12 344.58C1489.44 342.71 1487.41 336.16 1485.66 331.67C1483.92 327.19 1481.92 321.04 1480.82 315.53C1479.72 310.03 1478.4 299.37 1477.6 291.32C1476.79 283.28 1475.98 272.52 1475.98 267.12C1475.98 261.71 1477.6 256.38 1477.6 250.98C1477.6 245.57 1475.98 235.91 1475.98 228.38C1475.98 220.85 1476.03 210.49 1477.6 205.79Z" fill="#adadad"/>
<rect x="1461.46" y="382.51" width="71.01" height="12.1" fill="#adadad"/>
<path d="M1484.05 215.47C1484.56 211.16 1487.28 206.59 1490.51 204.17C1493.73 201.75 1500.42 200.44 1503.42 200.94C1506.42 201.44 1508.98 204.49 1509.87 207.4C1510.77 210.31 1510.39 217.52 1509.87 221.93C1509.36 226.33 1507.77 231.91 1506.65 234.84C1505.52 237.76 1503.96 241.83 1501.8 242.91C1499.65 243.98 1495.9 242.98 1493.73 241.29C1491.57 239.61 1488.64 235.24 1487.28 231.61C1485.92 227.98 1483.54 219.78 1484.05 215.47Z" fill="#c2c2c2" stroke="#c2c2c2" stroke-width="4.4" stroke-linejoin="round"/>
<ellipse cx="1494.54" cy="289.71" rx="6.46" ry="17.75" fill="#c2c2c2"/>
<path d="M1484.05 215.47C1484.56 211.16 1487.28 206.59 1490.51 204.17C1493.73 201.75 1500.42 200.44 1503.42 200.94C1506.42 201.44 1508.98 204.49 1509.87 207.4C1510.77 210.31 1510.39 217.52 1509.87 221.93C1509.36 226.33 1507.77 231.91 1506.65 234.84C1505.52 237.76 1503.96 241.83 1501.8 242.91C1499.65 243.98 1495.9 242.98 1493.73 241.29C1491.57 239.61 1488.64 235.24 1487.28 231.61C1485.92 227.98 1483.54 219.78 1484.05 215.47Z" fill="#d6d6d6"/>
<ellipse cx="1496.16" cy="293.75" rx="3.87" ry="4.2" fill="#d6d6d6"/>
<ellipse cx="1494.54" cy="275.19" rx="2.26" ry="2.91" fill="#d6d6d6"/>
<rect x="1461.46" y="194.49" width="9.68" height="200.13" fill="#d6d6d6"/>
<rect x="1461.46" y="384.13" width="58.1" height="10.49" fill="#d6d6d6"/>
<ellipse cx="1496.16" cy="215.47" rx="6.13" ry="8.88" fill="#e6e6e6"/>
<rect x="1461.46" y="196.1" width="8.88" height="198.52" fill="#e6e6e6"/>
<rect x="1461.46" y="197.72" width="7.91" height="196.9" fill="#ffffff"/>
<rect x="1461.46" y="385.42" width="46.8" height="9.2" fill="#ffffff"/>
</g></g><ellipse cx="1580.89" cy="284.55" rx="4.2" ry="2.26" fill="#fff"/></g>
<path d="M1706.5 150.5 V390" fill="none" stroke="#444" stroke-width="1"/>
<path d="M1467 150.5 H1706.5" fill="none" stroke="#000" stroke-width="1.5"/>
<path d="M1467 149.9 V390 H1707" fill="none" stroke="#000" stroke-width="1.5"/>
<path d="M1467.35 390v3.3M1475.78 390v3.3M1482.32 390v3.3M1487.66 390v3.3M1492.18 390v3.3M1496.09 390v3.3M1499.54 390v3.3M1502.63 390v6.4M1522.93 390v3.3M1534.81 390v3.3M1543.24 390v3.3M1549.78 390v3.3M1555.12 390v3.3M1559.64 390v3.3M1563.55 390v3.3M1567 390v3.3M1570.08 390v6.4M1590.39 390v3.3M1602.27 390v3.3M1610.7 390v3.3M1617.24 390v3.3M1622.58 390v3.3M1627.09 390v3.3M1631.01 390v3.3M1634.46 390v3.3M1637.54 390v6.4M1657.85 390v3.3M1669.73 390v3.3M1678.16 390v3.3M1684.7 390v3.3M1690.04 390v3.3M1694.55 390v3.3M1698.47 390v3.3M1701.92 390v3.3M1705 390v6" stroke="#000" stroke-width="1.15" fill="none"/>
<text transform="translate(1503.63 410.3) scale(0.8173 1)" font-size="8.8" fill="#0a0a0a" stroke="#0a0a0a" stroke-width="0.28">10</text>
<text transform="translate(1512.43 405.3) scale(0.8448 1)" font-size="8.3" fill="#0a0a0a" stroke="#0a0a0a" stroke-width="0.28">1</text>
<text transform="translate(1571.08 410.3) scale(0.8173 1)" font-size="8.8" fill="#0a0a0a" stroke="#0a0a0a" stroke-width="0.28">10</text>
<text transform="translate(1579.88 405.3) scale(0.8448 1)" font-size="8.3" fill="#0a0a0a" stroke="#0a0a0a" stroke-width="0.28">2</text>
<text transform="translate(1638.54 410.3) scale(0.8173 1)" font-size="8.8" fill="#0a0a0a" stroke="#0a0a0a" stroke-width="0.28">10</text>
<text transform="translate(1647.34 405.3) scale(0.8448 1)" font-size="8.3" fill="#0a0a0a" stroke="#0a0a0a" stroke-width="0.28">3</text>
<text transform="translate(1694.5 410.3) scale(0.8173 1)" font-size="8.8" fill="#0a0a0a" stroke="#0a0a0a" stroke-width="0.28">10</text>
<text transform="translate(1703.3 405.3) scale(0.8448 1)" font-size="8.3" fill="#0a0a0a" stroke="#0a0a0a" stroke-width="0.28">4</text>
<text transform="translate(1445.5 359.38) scale(0.8173 1)" font-size="8.8" fill="#0a0a0a" stroke="#0a0a0a" stroke-width="0.28">10</text>
<text transform="translate(1454.3 354.38) scale(0.8448 1)" font-size="8.3" fill="#0a0a0a" stroke="#0a0a0a" stroke-width="0.28">1</text>
<text transform="translate(1445.5 291.92) scale(0.8173 1)" font-size="8.8" fill="#0a0a0a" stroke="#0a0a0a" stroke-width="0.28">10</text>
<text transform="translate(1454.3 286.92) scale(0.8448 1)" font-size="8.3" fill="#0a0a0a" stroke="#0a0a0a" stroke-width="0.28">2</text>
<text transform="translate(1445.5 224.46) scale(0.8173 1)" font-size="8.8" fill="#0a0a0a" stroke="#0a0a0a" stroke-width="0.28">10</text>
<text transform="translate(1454.3 219.46) scale(0.8448 1)" font-size="8.3" fill="#0a0a0a" stroke="#0a0a0a" stroke-width="0.28">3</text>
<text transform="translate(1445.5 164.8) scale(0.8173 1)" font-size="8.8" fill="#0a0a0a" stroke="#0a0a0a" stroke-width="0.28">10</text>
<text transform="translate(1454.3 159.8) scale(0.8448 1)" font-size="8.3" fill="#0a0a0a" stroke="#0a0a0a" stroke-width="0.28">4</text>
<path d="M1467 388.95h-3.3M1467 380.52h-3.3M1467 373.98h-3.3M1467 368.64h-3.3M1467 364.13h-3.3M1467 360.21h-3.3M1467 356.76h-3.3M1467 353.68h-6.4M1467 333.37h-3.3M1467 321.49h-3.3M1467 313.06h-3.3M1467 306.52h-3.3M1467 301.18h-3.3M1467 296.67h-3.3M1467 292.75h-3.3M1467 289.3h-3.3M1467 286.22h-6.4M1467 265.91h-3.3M1467 254.03h-3.3M1467 245.6h-3.3M1467 239.06h-3.3M1467 233.72h-3.3M1467 229.21h-3.3M1467 225.29h-3.3M1467 221.84h-3.3M1467 218.76h-6.4M1467 198.45h-3.3M1467 186.57h-3.3M1467 178.14h-3.3M1467 171.61h-3.3M1467 166.26h-3.3M1467 161.75h-3.3M1467 157.84h-3.3M1467 154.39h-3.3M1467 151h-6" stroke="#000" stroke-width="1.1" fill="none"/>
<text transform="translate(1583.75 433.2)" font-size="10.15" text-anchor="middle" fill="#0a0a0a" stroke="#0a0a0a" stroke-width="0.28">405 450  50-A :: PB Sca-1 405 450  50-A</text>
<text transform="translate(1418 270.25) rotate(-90)" font-size="10" text-anchor="middle" fill="#0a0a0a" stroke="#0a0a0a" stroke-width="0.28">561 780_60-A :: PECy-7 c-kit 561 780_60-A</text>
<rect x="1475.3" y="173.8" width="55.7" height="15.5" fill="#d9def0" stroke="none" stroke-width="1"/>
<rect x="1588.6" y="189.3" width="27.9" height="31.1" fill="#d4d6ee" stroke="none" stroke-width="1"/>
<rect x="1467.5" y="150.5" width="72" height="107" fill="none" stroke="#000" stroke-width="1.35"/>
<rect x="1547.5" y="150.5" width="114" height="107" fill="none" stroke="#000" stroke-width="1.35"/>
<text transform="translate(1502.3 168.9)" font-size="10" text-anchor="middle" fill="#0a0a0a" stroke="#0a0a0a" stroke-width="0.28">c-kit+Sca-1-</text>
<text transform="translate(1502.3 182.9)" font-size="9.7" text-anchor="middle" fill="#0a0a0a" stroke="#0a0a0a" stroke-width="0.28">36.3</text>
<text transform="translate(1594.69 200.4) scale(0.9375 1)" font-size="9.6" fill="#0a0a0a" stroke="#0a0a0a" stroke-width="0.28">LSK</text>
<text transform="translate(1603.2 214.5)" font-size="9.7" text-anchor="middle" fill="#0a0a0a" stroke="#0a0a0a" stroke-width="0.28">4.46</text>
<path d="M1376 358.2 V478 H1495.5" fill="none" stroke="#1a1a1a" stroke-width="3.3" stroke-linejoin="miter"/>
<polygon points="1376,319.7 1387.3,360.2 1364.7,360.2" fill="#1a1a1a"/>
<polygon points="1534,478 1493.5,466.7 1493.5,489.3" fill="#1a1a1a"/>
<text transform="translate(1546.1 488) scale(0.8945 1)" font-size="39.97" fill="#111">Sca-1</text>
<text transform="translate(1389.62 303.6) rotate(-90) scale(0.9336 1)" font-size="42.15" fill="#111">cKit</text>
</g>
<g id="plot5">
<clipPath id="cp5"><rect x="187.8" y="548.4" width="239.9" height="239.3"/></clipPath>
<clipPath id="bc5"><path d="M181.46 670.57C181.46 670.57 193.95 670.07 195.98 668.96C198.02 667.85 197.6 662.39 199.21 660.89C200.82 659.38 206.69 659.6 208.09 657.66C209.48 655.72 208.93 647.73 209.7 646.36C210.47 645 214.5 646.07 215.35 644.75C216.2 643.43 217.24 637.67 216.96 635.06C216.68 632.46 213.46 625.55 212.93 622.15C212.4 618.75 212.19 611.26 212.93 609.24C213.66 607.22 218 605.14 219.38 604.4C220.77 603.66 224.12 604.06 225.03 602.79C225.95 601.52 228.28 592.47 229.87 589.87C231.47 587.28 236.06 582.93 237.94 581.8C239.83 580.68 243.98 581.01 246.01 580.19C248.05 579.38 252.54 575.54 254.08 575.35C255.62 575.16 257.5 577.97 258.93 578.58C260.35 579.19 263.66 580.08 265.38 580.19C267.1 580.3 270.14 579.01 271.84 579.38C273.53 579.76 277.82 582.58 279.91 583.42C281.99 584.25 286.15 584.76 287.98 585.84C289.81 586.92 292.55 589.66 293.62 591.49C294.7 593.32 295.26 597.45 296.05 599.56C296.83 601.66 300.04 607.69 300.89 610.86C301.73 614.02 302.71 620.64 302.5 623.77C302.29 626.89 299.79 631.97 299.27 635.06C298.76 638.16 299.05 645.24 298.47 647.98C297.88 650.71 295.35 655.02 294.43 657.66C293.52 660.3 292.26 666.01 291.2 668.96C290.15 671.91 287.25 678.12 286.36 680.26C285.47 682.39 283.76 686.22 283.13 688.32C282.5 690.43 282.78 694.6 281.52 696.39C280.26 698.19 273.28 702.65 271.84 704.46C270.39 706.27 269.13 710.44 268.61 712.53C268.08 714.63 268.42 718.53 267.8 720.6C267.18 722.68 264.77 726.49 263.77 728.67C262.76 730.86 259.7 737.47 258.93 739.97C258.16 742.47 258.48 747.31 257.31 749.65C256.14 752 250.15 757.82 249.24 759.34C248.33 760.86 247.63 764.07 247.63 765.79C247.63 767.52 249.63 770.52 249.24 772.25C248.86 773.98 244.58 778.95 244.4 780.32C244.22 781.69 247.05 783.1 247.63 784.35C248.2 785.61 249.24 790.81 249.24 790.81C249.24 790.81 181.46 790.81 181.46 790.81C181.46 790.81 181.46 670.57 181.46 670.57Z"/></clipPath>
<g clip-path="url(#cp5)"><g filter="url(#jet)">
<g fill="#383838"><path d="M181.46 670.57C181.46 670.57 193.95 670.07 195.98 668.96C198.02 667.85 197.6 662.39 199.21 660.89C200.82 659.38 206.69 659.6 208.09 657.66C209.48 655.72 208.93 647.73 209.7 646.36C210.47 645 214.5 646.07 215.35 644.75C216.2 643.43 217.24 637.67 216.96 635.06C216.68 632.46 213.46 625.55 212.93 622.15C212.4 618.75 212.19 611.26 212.93 609.24C213.66 607.22 218 605.14 219.38 604.4C220.77 603.66 224.12 604.06 225.03 602.79C225.95 601.52 228.28 592.47 229.87 589.87C231.47 587.28 236.06 582.93 237.94 581.8C239.83 580.68 243.98 581.01 246.01 580.19C248.05 579.38 252.54 575.54 254.08 575.35C255.62 575.16 257.5 577.97 258.93 578.58C260.35 579.19 263.66 580.08 265.38 580.19C267.1 580.3 270.14 579.01 271.84 579.38C273.53 579.76 277.82 582.58 279.91 583.42C281.99 584.25 286.15 584.76 287.98 585.84C289.81 586.92 292.55 589.66 293.62 591.49C294.7 593.32 295.26 597.45 296.05 599.56C296.83 601.66 300.04 607.69 300.89 610.86C301.73 614.02 302.71 620.64 302.5 623.77C302.29 626.89 299.79 631.97 299.27 635.06C298.76 638.16 299.05 645.24 298.47 647.98C297.88 650.71 295.35 655.02 294.43 657.66C293.52 660.3 292.26 666.01 291.2 668.96C290.15 671.91 287.25 678.12 286.36 680.26C285.47 682.39 283.76 686.22 283.13 688.32C282.5 690.43 282.78 694.6 281.52 696.39C280.26 698.19 273.28 702.65 271.84 704.46C270.39 706.27 269.13 710.44 268.61 712.53C268.08 714.63 268.42 718.53 267.8 720.6C267.18 722.68 264.77 726.49 263.77 728.67C262.76 730.86 259.7 737.47 258.93 739.97C258.16 742.47 258.48 747.31 257.31 749.65C256.14 752 250.15 757.82 249.24 759.34C248.33 760.86 247.63 764.07 247.63 765.79C247.63 767.52 249.63 770.52 249.24 772.25C248.86 773.98 244.58 778.95 244.4 780.32C244.22 781.69 247.05 783.1 247.63 784.35C248.2 785.61 249.24 790.81 249.24 790.81C249.24 790.81 181.46 790.81 181.46 790.81C181.46 790.81 181.46 670.57 181.46 670.57Z"/></g>
<g clip-path="url(#bc5)">
<path d="M229.87 668.96C228.71 665.26 226.65 655.05 226.65 647.98C226.65 640.9 229.13 631.82 229.87 625.38C230.62 618.95 229.34 611.66 231.49 606.01C233.64 600.36 238.21 594.98 242.79 591.49C247.36 587.99 253.18 585.82 258.93 585.03C264.67 584.25 273.64 584.93 278.29 586.65C282.95 588.36 286.96 592.12 289.59 596.33C292.22 600.54 293.55 606.92 294.43 612.47C295.31 618.02 295.64 625.39 295.24 631.84C294.84 638.29 293.26 646.67 292.01 651.2C290.77 655.73 288.54 660.52 286.36 664.12C284.18 667.71 281.62 671.24 278.29 673.8C274.96 676.36 270.03 679.03 265.38 680.26C260.73 681.48 251.54 682.09 247.63 681.87C243.72 681.65 239.29 680.79 236.33 678.64C233.37 676.49 231.04 672.66 229.87 668.96Z" fill="#454545" stroke="#454545" stroke-width="16.8" stroke-linejoin="round"/>
<path d="M191.14 680.26C192.75 678.1 197.42 677.03 200.82 677.03C204.23 677.03 209.7 678.1 212.12 680.26C214.54 682.41 213.47 687.25 215.35 689.94C217.23 692.63 221.27 693.7 223.42 696.39C225.57 699.08 228.26 703.39 228.26 706.08C228.26 708.77 225.57 712 223.42 712.53C221.27 713.07 217.5 711.24 215.35 709.31C213.2 707.37 209.42 699.72 207.28 698.01C205.14 696.29 201.66 697.62 199.21 696.39C196.76 695.17 192.48 692.63 191.14 689.94C189.79 687.25 189.53 682.41 191.14 680.26Z" fill="#454545" stroke="#454545" stroke-width="28.8" stroke-linejoin="round"/>
<path d="M189.53 717.38C189.53 717.38 197.32 718.85 200.82 720.6C204.33 722.36 208.35 727.87 212.12 728.67C215.89 729.48 220.19 724.64 223.42 725.45C226.65 726.25 230.41 730.29 231.49 733.52C232.56 736.74 229.87 744.81 229.87 744.81C229.87 744.81 223.15 745.89 220.19 744.81C217.23 743.74 215.1 740.09 212.12 738.36C209.15 736.62 204.1 735.03 200.82 733.52C197.55 732 193.02 731.36 191.14 728.67C189.26 725.98 189.53 717.38 189.53 717.38Z" fill="#454545" stroke="#454545" stroke-width="28.8" stroke-linejoin="round"/>
<path d="M225.03 749.65C226.01 746.93 233.1 746.43 233.1 746.43C233.1 746.43 236.6 756.38 236.33 760.95C236.06 765.53 231.49 773.86 231.49 773.86C231.49 773.86 225.73 771.62 225.03 769.02C224.34 766.42 224.06 752.38 225.03 749.65Z" fill="#454545" stroke="#454545" stroke-width="21.6" stroke-linejoin="round"/>
<path d="M231.49 664.12C230.23 660.45 229.07 647.98 229.07 647.98C229.07 647.98 240.08 646.81 242.79 644.75C245.49 642.69 246.01 638.29 246.01 635.06C246.01 631.84 245.34 626.99 242.79 625.38C240.23 623.77 230.68 625.38 230.68 625.38C230.68 625.38 231.1 614.3 233.1 609.24C235.1 604.18 238.48 598.21 242.79 594.72C247.09 591.22 253.28 589.07 258.93 588.26C264.57 587.45 272.06 588.08 276.68 589.87C281.3 591.67 285.44 595.29 287.98 599.56C290.51 603.82 291.38 610.19 292.01 615.7C292.64 621.21 292.67 629.03 292.01 635.06C291.36 641.1 289.84 648.1 287.98 652.82C286.11 657.54 283.05 662.33 279.91 665.73C276.77 669.13 272.92 672.12 268.61 673.8C264.3 675.48 255.29 677.03 250.86 677.03C246.42 677.03 241.17 675.95 237.94 673.8C234.72 671.65 232.75 667.78 231.49 664.12Z" fill="#454545" stroke="#454545" stroke-width="30.6" stroke-linejoin="round"/>
<path d="M229.87 668.96C228.71 665.26 226.65 655.05 226.65 647.98C226.65 640.9 229.13 631.82 229.87 625.38C230.62 618.95 229.34 611.66 231.49 606.01C233.64 600.36 238.21 594.98 242.79 591.49C247.36 587.99 253.18 585.82 258.93 585.03C264.67 584.25 273.64 584.93 278.29 586.65C282.95 588.36 286.96 592.12 289.59 596.33C292.22 600.54 293.55 606.92 294.43 612.47C295.31 618.02 295.64 625.39 295.24 631.84C294.84 638.29 293.26 646.67 292.01 651.2C290.77 655.73 288.54 660.52 286.36 664.12C284.18 667.71 281.62 671.24 278.29 673.8C274.96 676.36 270.03 679.03 265.38 680.26C260.73 681.48 251.54 682.09 247.63 681.87C243.72 681.65 239.29 680.79 236.33 678.64C233.37 676.49 231.04 672.66 229.87 668.96Z" fill="#525252" stroke="#525252" stroke-width="10.8" stroke-linejoin="round"/>
<path d="M191.14 680.26C192.75 678.1 197.42 677.03 200.82 677.03C204.23 677.03 209.7 678.1 212.12 680.26C214.54 682.41 213.47 687.25 215.35 689.94C217.23 692.63 221.27 693.7 223.42 696.39C225.57 699.08 228.26 703.39 228.26 706.08C228.26 708.77 225.57 712 223.42 712.53C221.27 713.07 217.5 711.24 215.35 709.31C213.2 707.37 209.42 699.72 207.28 698.01C205.14 696.29 201.66 697.62 199.21 696.39C196.76 695.17 192.48 692.63 191.14 689.94C189.79 687.25 189.53 682.41 191.14 680.26Z" fill="#525252" stroke="#525252" stroke-width="19.2" stroke-linejoin="round"/>
<path d="M189.53 717.38C189.53 717.38 197.32 718.85 200.82 720.6C204.33 722.36 208.35 727.87 212.12 728.67C215.89 729.48 220.19 724.64 223.42 725.45C226.65 726.25 230.41 730.29 231.49 733.52C232.56 736.74 229.87 744.81 229.87 744.81C229.87 744.81 223.15 745.89 220.19 744.81C217.23 743.74 215.1 740.09 212.12 738.36C209.15 736.62 204.1 735.03 200.82 733.52C197.55 732 193.02 731.36 191.14 728.67C189.26 725.98 189.53 717.38 189.53 717.38Z" fill="#525252" stroke="#525252" stroke-width="19.2" stroke-linejoin="round"/>
<path d="M225.03 749.65C226.01 746.93 233.1 746.43 233.1 746.43C233.1 746.43 236.6 756.38 236.33 760.95C236.06 765.53 231.49 773.86 231.49 773.86C231.49 773.86 225.73 771.62 225.03 769.02C224.34 766.42 224.06 752.38 225.03 749.65Z" fill="#525252" stroke="#525252" stroke-width="14.4" stroke-linejoin="round"/>
<path d="M231.49 664.12C230.23 660.45 229.07 647.98 229.07 647.98C229.07 647.98 240.08 646.81 242.79 644.75C245.49 642.69 246.01 638.29 246.01 635.06C246.01 631.84 245.34 626.99 242.79 625.38C240.23 623.77 230.68 625.38 230.68 625.38C230.68 625.38 231.1 614.3 233.1 609.24C235.1 604.18 238.48 598.21 242.79 594.72C247.09 591.22 253.28 589.07 258.93 588.26C264.57 587.45 272.06 588.08 276.68 589.87C281.3 591.67 285.44 595.29 287.98 599.56C290.51 603.82 291.38 610.19 292.01 615.7C292.64 621.21 292.67 629.03 292.01 635.06C291.36 641.1 289.84 648.1 287.98 652.82C286.11 657.54 283.05 662.33 279.91 665.73C276.77 669.13 272.92 672.12 268.61 673.8C264.3 675.48 255.29 677.03 250.86 677.03C246.42 677.03 241.17 675.95 237.94 673.8C234.72 671.65 232.75 667.78 231.49 664.12Z" fill="#525252" stroke="#525252" stroke-width="24.3" stroke-linejoin="round"/>
<path d="M229.87 668.96C228.71 665.26 226.65 655.05 226.65 647.98C226.65 640.9 229.13 631.82 229.87 625.38C230.62 618.95 229.34 611.66 231.49 606.01C233.64 600.36 238.21 594.98 242.79 591.49C247.36 587.99 253.18 585.82 258.93 585.03C264.67 584.25 273.64 584.93 278.29 586.65C282.95 588.36 286.96 592.12 289.59 596.33C292.22 600.54 293.55 606.92 294.43 612.47C295.31 618.02 295.64 625.39 295.24 631.84C294.84 638.29 293.26 646.67 292.01 651.2C290.77 655.73 288.54 660.52 286.36 664.12C284.18 667.71 281.62 671.24 278.29 673.8C274.96 676.36 270.03 679.03 265.38 680.26C260.73 681.48 251.54 682.09 247.63 681.87C243.72 681.65 239.29 680.79 236.33 678.64C233.37 676.49 231.04 672.66 229.87 668.96Z" fill="#5e5e5e" stroke="#5e5e5e" stroke-width="7.2" stroke-linejoin="round"/>
<path d="M191.14 680.26C192.75 678.1 197.42 677.03 200.82 677.03C204.23 677.03 209.7 678.1 212.12 680.26C214.54 682.41 213.47 687.25 215.35 689.94C217.23 692.63 221.27 693.7 223.42 696.39C225.57 699.08 228.26 703.39 228.26 706.08C228.26 708.77 225.57 712 223.42 712.53C221.27 713.07 217.5 711.24 215.35 709.31C213.2 707.37 209.42 699.72 207.28 698.01C205.14 696.29 201.66 697.62 199.21 696.39C196.76 695.17 192.48 692.63 191.14 689.94C189.79 687.25 189.53 682.41 191.14 680.26Z" fill="#5e5e5e" stroke="#5e5e5e" stroke-width="12.8" stroke-linejoin="round"/>
<path d="M189.53 717.38C189.53 717.38 197.32 718.85 200.82 720.6C204.33 722.36 208.35 727.87 212.12 728.67C215.89 729.48 220.19 724.64 223.42 725.45C226.65 726.25 230.41 730.29 231.49 733.52C232.56 736.74 229.87 744.81 229.87 744.81C229.87 744.81 223.15 745.89 220.19 744.81C217.23 743.74 215.1 740.09 212.12 738.36C209.15 736.62 204.1 735.03 200.82 733.52C197.55 732 193.02 731.36 191.14 728.67C189.26 725.98 189.53 717.38 189.53 717.38Z" fill="#5e5e5e" stroke="#5e5e5e" stroke-width="12.8" stroke-linejoin="round"/>
<path d="M225.03 749.65C226.01 746.93 233.1 746.43 233.1 746.43C233.1 746.43 236.6 756.38 236.33 760.95C236.06 765.53 231.49 773.86 231.49 773.86C231.49 773.86 225.73 771.62 225.03 769.02C224.34 766.42 224.06 752.38 225.03 749.65Z" fill="#5e5e5e" stroke="#5e5e5e" stroke-width="9.6" stroke-linejoin="round"/>
<path d="M231.49 664.12C230.23 660.45 229.07 647.98 229.07 647.98C229.07 647.98 240.08 646.81 242.79 644.75C245.49 642.69 246.01 638.29 246.01 635.06C246.01 631.84 245.34 626.99 242.79 625.38C240.23 623.77 230.68 625.38 230.68 625.38C230.68 625.38 231.1 614.3 233.1 609.24C235.1 604.18 238.48 598.21 242.79 594.72C247.09 591.22 253.28 589.07 258.93 588.26C264.57 587.45 272.06 588.08 276.68 589.87C281.3 591.67 285.44 595.29 287.98 599.56C290.51 603.82 291.38 610.19 292.01 615.7C292.64 621.21 292.67 629.03 292.01 635.06C291.36 641.1 289.84 648.1 287.98 652.82C286.11 657.54 283.05 662.33 279.91 665.73C276.77 669.13 272.92 672.12 268.61 673.8C264.3 675.48 255.29 677.03 250.86 677.03C246.42 677.03 241.17 675.95 237.94 673.8C234.72 671.65 232.75 667.78 231.49 664.12Z" fill="#5e5e5e" stroke="#5e5e5e" stroke-width="18.9" stroke-linejoin="round"/>
<path d="M229.87 668.96C228.71 665.26 226.65 655.05 226.65 647.98C226.65 640.9 229.13 631.82 229.87 625.38C230.62 618.95 229.34 611.66 231.49 606.01C233.64 600.36 238.21 594.98 242.79 591.49C247.36 587.99 253.18 585.82 258.93 585.03C264.67 584.25 273.64 584.93 278.29 586.65C282.95 588.36 286.96 592.12 289.59 596.33C292.22 600.54 293.55 606.92 294.43 612.47C295.31 618.02 295.64 625.39 295.24 631.84C294.84 638.29 293.26 646.67 292.01 651.2C290.77 655.73 288.54 660.52 286.36 664.12C284.18 667.71 281.62 671.24 278.29 673.8C274.96 676.36 270.03 679.03 265.38 680.26C260.73 681.48 251.54 682.09 247.63 681.87C243.72 681.65 239.29 680.79 236.33 678.64C233.37 676.49 231.04 672.66 229.87 668.96Z" fill="#6b6b6b" stroke="#6b6b6b" stroke-width="3.6" stroke-linejoin="round"/>
<path d="M191.14 680.26C192.75 678.1 197.42 677.03 200.82 677.03C204.23 677.03 209.7 678.1 212.12 680.26C214.54 682.41 213.47 687.25 215.35 689.94C217.23 692.63 221.27 693.7 223.42 696.39C225.57 699.08 228.26 703.39 228.26 706.08C228.26 708.77 225.57 712 223.42 712.53C221.27 713.07 217.5 711.24 215.35 709.31C213.2 707.37 209.42 699.72 207.28 698.01C205.14 696.29 201.66 697.62 199.21 696.39C196.76 695.17 192.48 692.63 191.14 689.94C189.79 687.25 189.53 682.41 191.14 680.26Z" fill="#6b6b6b" stroke="#6b6b6b" stroke-width="6.4" stroke-linejoin="round"/>
<path d="M189.53 717.38C189.53 717.38 197.32 718.85 200.82 720.6C204.33 722.36 208.35 727.87 212.12 728.67C215.89 729.48 220.19 724.64 223.42 725.45C226.65 726.25 230.41 730.29 231.49 733.52C232.56 736.74 229.87 744.81 229.87 744.81C229.87 744.81 223.15 745.89 220.19 744.81C217.23 743.74 215.1 740.09 212.12 738.36C209.15 736.62 204.1 735.03 200.82 733.52C197.55 732 193.02 731.36 191.14 728.67C189.26 725.98 189.53 717.38 189.53 717.38Z" fill="#6b6b6b" stroke="#6b6b6b" stroke-width="6.4" stroke-linejoin="round"/>
<path d="M225.03 749.65C226.01 746.93 233.1 746.43 233.1 746.43C233.1 746.43 236.6 756.38 236.33 760.95C236.06 765.53 231.49 773.86 231.49 773.86C231.49 773.86 225.73 771.62 225.03 769.02C224.34 766.42 224.06 752.38 225.03 749.65Z" fill="#6b6b6b" stroke="#6b6b6b" stroke-width="4.8" stroke-linejoin="round"/>
<path d="M231.49 664.12C230.23 660.45 229.07 647.98 229.07 647.98C229.07 647.98 240.08 646.81 242.79 644.75C245.49 642.69 246.01 638.29 246.01 635.06C246.01 631.84 245.34 626.99 242.79 625.38C240.23 623.77 230.68 625.38 230.68 625.38C230.68 625.38 231.1 614.3 233.1 609.24C235.1 604.18 238.48 598.21 242.79 594.72C247.09 591.22 253.28 589.07 258.93 588.26C264.57 587.45 272.06 588.08 276.68 589.87C281.3 591.67 285.44 595.29 287.98 599.56C290.51 603.82 291.38 610.19 292.01 615.7C292.64 621.21 292.67 629.03 292.01 635.06C291.36 641.1 289.84 648.1 287.98 652.82C286.11 657.54 283.05 662.33 279.91 665.73C276.77 669.13 272.92 672.12 268.61 673.8C264.3 675.48 255.29 677.03 250.86 677.03C246.42 677.03 241.17 675.95 237.94 673.8C234.72 671.65 232.75 667.78 231.49 664.12Z" fill="#6b6b6b" stroke="#6b6b6b" stroke-width="14.4" stroke-linejoin="round"/>
<path d="M186.3 673.8C186.3 673.8 200.35 671.12 207.28 672.19C214.21 673.25 223.92 676.42 228.26 680.26C232.6 684.09 234.14 690.63 234.72 696.39C235.29 702.16 234.5 734.04 234.72 744.81C234.93 755.58 236.33 777.09 236.33 777.09C236.33 777.09 186.3 786.78 186.3 786.78C186.3 786.78 186.3 673.8 186.3 673.8Z" fill="#6b6b6b"/>
<path d="M229.87 668.96C228.71 665.26 226.65 655.05 226.65 647.98C226.65 640.9 229.13 631.82 229.87 625.38C230.62 618.95 229.34 611.66 231.49 606.01C233.64 600.36 238.21 594.98 242.79 591.49C247.36 587.99 253.18 585.82 258.93 585.03C264.67 584.25 273.64 584.93 278.29 586.65C282.95 588.36 286.96 592.12 289.59 596.33C292.22 600.54 293.55 606.92 294.43 612.47C295.31 618.02 295.64 625.39 295.24 631.84C294.84 638.29 293.26 646.67 292.01 651.2C290.77 655.73 288.54 660.52 286.36 664.12C284.18 667.71 281.62 671.24 278.29 673.8C274.96 676.36 270.03 679.03 265.38 680.26C260.73 681.48 251.54 682.09 247.63 681.87C243.72 681.65 239.29 680.79 236.33 678.64C233.37 676.49 231.04 672.66 229.87 668.96Z" fill="#7a7a7a"/>
<path d="M231.49 664.12C230.23 660.45 229.07 647.98 229.07 647.98C229.07 647.98 240.08 646.81 242.79 644.75C245.49 642.69 246.01 638.29 246.01 635.06C246.01 631.84 245.34 626.99 242.79 625.38C240.23 623.77 230.68 625.38 230.68 625.38C230.68 625.38 231.1 614.3 233.1 609.24C235.1 604.18 238.48 598.21 242.79 594.72C247.09 591.22 253.28 589.07 258.93 588.26C264.57 587.45 272.06 588.08 276.68 589.87C281.3 591.67 285.44 595.29 287.98 599.56C290.51 603.82 291.38 610.19 292.01 615.7C292.64 621.21 292.67 629.03 292.01 635.06C291.36 641.1 289.84 648.1 287.98 652.82C286.11 657.54 283.05 662.33 279.91 665.73C276.77 669.13 272.92 672.12 268.61 673.8C264.3 675.48 255.29 677.03 250.86 677.03C246.42 677.03 241.17 675.95 237.94 673.8C234.72 671.65 232.75 667.78 231.49 664.12Z" fill="#7a7a7a" stroke="#7a7a7a" stroke-width="10.8" stroke-linejoin="round"/>
<path d="M191.14 680.26C192.75 678.1 197.42 677.03 200.82 677.03C204.23 677.03 209.7 678.1 212.12 680.26C214.54 682.41 213.47 687.25 215.35 689.94C217.23 692.63 221.27 693.7 223.42 696.39C225.57 699.08 228.26 703.39 228.26 706.08C228.26 708.77 225.57 712 223.42 712.53C221.27 713.07 217.5 711.24 215.35 709.31C213.2 707.37 209.42 699.72 207.28 698.01C205.14 696.29 201.66 697.62 199.21 696.39C196.76 695.17 192.48 692.63 191.14 689.94C189.79 687.25 189.53 682.41 191.14 680.26Z" fill="#878787"/>
<path d="M189.53 717.38C189.53 717.38 197.32 718.85 200.82 720.6C204.33 722.36 208.35 727.87 212.12 728.67C215.89 729.48 220.19 724.64 223.42 725.45C226.65 726.25 230.41 730.29 231.49 733.52C232.56 736.74 229.87 744.81 229.87 744.81C229.87 744.81 223.15 745.89 220.19 744.81C217.23 743.74 215.1 740.09 212.12 738.36C209.15 736.62 204.1 735.03 200.82 733.52C197.55 732 193.02 731.36 191.14 728.67C189.26 725.98 189.53 717.38 189.53 717.38Z" fill="#878787"/>
<path d="M225.03 749.65C226.01 746.93 233.1 746.43 233.1 746.43C233.1 746.43 236.6 756.38 236.33 760.95C236.06 765.53 231.49 773.86 231.49 773.86C231.49 773.86 225.73 771.62 225.03 769.02C224.34 766.42 224.06 752.38 225.03 749.65Z" fill="#878787"/>
<path d="M231.49 664.12C230.23 660.45 229.07 647.98 229.07 647.98C229.07 647.98 240.08 646.81 242.79 644.75C245.49 642.69 246.01 638.29 246.01 635.06C246.01 631.84 245.34 626.99 242.79 625.38C240.23 623.77 230.68 625.38 230.68 625.38C230.68 625.38 231.1 614.3 233.1 609.24C235.1 604.18 238.48 598.21 242.79 594.72C247.09 591.22 253.28 589.07 258.93 588.26C264.57 587.45 272.06 588.08 276.68 589.87C281.3 591.67 285.44 595.29 287.98 599.56C290.51 603.82 291.38 610.19 292.01 615.7C292.64 621.21 292.67 629.03 292.01 635.06C291.36 641.1 289.84 648.1 287.98 652.82C286.11 657.54 283.05 662.33 279.91 665.73C276.77 669.13 272.92 672.12 268.61 673.8C264.3 675.48 255.29 677.03 250.86 677.03C246.42 677.03 241.17 675.95 237.94 673.8C234.72 671.65 232.75 667.78 231.49 664.12Z" fill="#878787" stroke="#878787" stroke-width="7.65" stroke-linejoin="round"/>
<path d="M231.49 664.12C230.23 660.45 229.07 647.98 229.07 647.98C229.07 647.98 240.08 646.81 242.79 644.75C245.49 642.69 246.01 638.29 246.01 635.06C246.01 631.84 245.34 626.99 242.79 625.38C240.23 623.77 230.68 625.38 230.68 625.38C230.68 625.38 231.1 614.3 233.1 609.24C235.1 604.18 238.48 598.21 242.79 594.72C247.09 591.22 253.28 589.07 258.93 588.26C264.57 587.45 272.06 588.08 276.68 589.87C281.3 591.67 285.44 595.29 287.98 599.56C290.51 603.82 291.38 610.19 292.01 615.7C292.64 621.21 292.67 629.03 292.01 635.06C291.36 641.1 289.84 648.1 287.98 652.82C286.11 657.54 283.05 662.33 279.91 665.73C276.77 669.13 272.92 672.12 268.61 673.8C264.3 675.48 255.29 677.03 250.86 677.03C246.42 677.03 241.17 675.95 237.94 673.8C234.72 671.65 232.75 667.78 231.49 664.12Z" fill="#999999" stroke="#999999" stroke-width="2.7" stroke-linejoin="round"/>
<ellipse cx="226.65" cy="690.75" rx="4.2" ry="3.87" fill="#999999"/>
<path d="M231.49 664.12C230.23 660.45 229.07 647.98 229.07 647.98C229.07 647.98 240.08 646.81 242.79 644.75C245.49 642.69 246.01 638.29 246.01 635.06C246.01 631.84 245.34 626.99 242.79 625.38C240.23 623.77 230.68 625.38 230.68 625.38C230.68 625.38 231.1 614.3 233.1 609.24C235.1 604.18 238.48 598.21 242.79 594.72C247.09 591.22 253.28 589.07 258.93 588.26C264.57 587.45 272.06 588.08 276.68 589.87C281.3 591.67 285.44 595.29 287.98 599.56C290.51 603.82 291.38 610.19 292.01 615.7C292.64 621.21 292.67 629.03 292.01 635.06C291.36 641.1 289.84 648.1 287.98 652.82C286.11 657.54 283.05 662.33 279.91 665.73C276.77 669.13 272.92 672.12 268.61 673.8C264.3 675.48 255.29 677.03 250.86 677.03C246.42 677.03 241.17 675.95 237.94 673.8C234.72 671.65 232.75 667.78 231.49 664.12Z" fill="#adadad"/>
<path d="M247.63 612.47C247.9 609.78 250.05 606.28 252.47 604.4C254.89 602.52 258.75 601.17 262.15 601.17C265.56 601.17 270.88 602.6 273.45 604.4C276.02 606.2 277.82 609.37 278.29 612.47C278.77 615.57 277.48 621.12 276.68 625.38C275.88 629.64 274.46 634.51 273.45 638.29C272.44 642.08 271.52 646.22 270.22 649.59C268.93 652.96 266.97 657.46 265.38 659.27C263.8 661.08 260.81 662.5 258.93 662.5C257.04 662.5 254.3 661.2 254.08 659.27C253.87 657.35 256.3 651.76 257.31 647.98C258.32 644.19 260.29 638.86 260.54 635.06C260.79 631.27 260.53 626.18 258.93 623.77C257.32 621.36 252.74 622.42 250.86 620.54C248.97 618.66 247.36 615.16 247.63 612.47Z" fill="#c2c2c2" stroke="#c2c2c2" stroke-width="4.4" stroke-linejoin="round"/>
<path d="M247.63 612.47C247.9 609.78 250.05 606.28 252.47 604.4C254.89 602.52 258.75 601.17 262.15 601.17C265.56 601.17 270.88 602.6 273.45 604.4C276.02 606.2 277.82 609.37 278.29 612.47C278.77 615.57 277.48 621.12 276.68 625.38C275.88 629.64 274.46 634.51 273.45 638.29C272.44 642.08 271.52 646.22 270.22 649.59C268.93 652.96 266.97 657.46 265.38 659.27C263.8 661.08 260.81 662.5 258.93 662.5C257.04 662.5 254.3 661.2 254.08 659.27C253.87 657.35 256.3 651.76 257.31 647.98C258.32 644.19 260.29 638.86 260.54 635.06C260.79 631.27 260.53 626.18 258.93 623.77C257.32 621.36 252.74 622.42 250.86 620.54C248.97 618.66 247.36 615.16 247.63 612.47Z" fill="#d6d6d6"/>
<path d="M249.24 612.47C249.24 610.05 251.93 607.63 254.08 606.01C256.24 604.4 259.26 602.79 262.15 602.79C265.05 602.79 269.76 604.55 271.84 606.01C273.91 607.48 275.5 609.96 275.87 612.47C276.25 614.98 274.83 618.93 274.26 622.15C273.68 625.37 272.9 630.82 271.84 635.06C270.77 639.31 269.02 645.09 267.8 647.98C266.58 650.87 262.96 656.05 262.96 656.05C262.96 656.05 260.46 653.01 260.54 651.2C260.62 649.4 263.36 642.59 263.77 638.29C264.17 634 264.57 628.34 262.96 625.38C261.35 622.42 256.37 622.69 254.08 620.54C251.8 618.39 249.24 614.89 249.24 612.47Z" fill="#e6e6e6"/>
<path d="M250.05 612.47C250.05 612.47 252.85 608.23 254.89 606.82C256.93 605.42 260.14 603.59 262.96 603.59C265.78 603.59 269.83 605.09 271.84 606.82C273.84 608.56 275.06 611.53 275.06 614.08C275.06 616.64 273.72 620.54 271.84 622.15C269.95 623.77 266.46 624.04 263.77 623.77C261.08 623.5 257.93 622.38 255.7 620.54C253.46 618.7 250.05 612.47 250.05 612.47Z" fill="#ffffff"/>
</g></g></g>
<path d="M427.5 548.5 V787.5" fill="none" stroke="#444" stroke-width="1"/>
<path d="M188 548.5 H427.5" fill="none" stroke="#333" stroke-width="1"/>
<path d="M188 547.9 V787.5 H428" fill="none" stroke="#000" stroke-width="1.5"/>
<path d="M188.35 787.5v3.3M196.8 787.5v3.3M203.34 787.5v3.3M208.69 787.5v3.3M213.22 787.5v3.3M217.14 787.5v3.3M220.59 787.5v3.3M223.69 787.5v6.4M244.03 787.5v3.3M255.93 787.5v3.3M264.37 787.5v3.3M270.92 787.5v3.3M276.27 787.5v3.3M280.79 787.5v3.3M284.71 787.5v3.3M288.17 787.5v3.3M291.26 787.5v6.4M311.6 787.5v3.3M323.5 787.5v3.3M331.94 787.5v3.3M338.49 787.5v3.3M343.84 787.5v3.3M348.36 787.5v3.3M352.28 787.5v3.3M355.74 787.5v3.3M358.83 787.5v6.4M379.17 787.5v3.3M391.07 787.5v3.3M399.51 787.5v3.3M406.06 787.5v3.3M411.41 787.5v3.3M415.93 787.5v3.3M419.85 787.5v3.3M423.31 787.5v3.3M426.4 787.5v6" stroke="#000" stroke-width="1.15" fill="none"/>
<text transform="translate(224.69 807.8) scale(0.8173 1)" font-size="8.8" fill="#0a0a0a" stroke="#0a0a0a" stroke-width="0.28">10</text>
<text transform="translate(233.49 802.8) scale(0.8448 1)" font-size="8.3" fill="#0a0a0a" stroke="#0a0a0a" stroke-width="0.28">1</text>
<text transform="translate(292.26 807.8) scale(0.8173 1)" font-size="8.8" fill="#0a0a0a" stroke="#0a0a0a" stroke-width="0.28">10</text>
<text transform="translate(301.06 802.8) scale(0.8448 1)" font-size="8.3" fill="#0a0a0a" stroke="#0a0a0a" stroke-width="0.28">2</text>
<text transform="translate(359.83 807.8) scale(0.8173 1)" font-size="8.8" fill="#0a0a0a" stroke="#0a0a0a" stroke-width="0.28">10</text>
<text transform="translate(368.63 802.8) scale(0.8448 1)" font-size="8.3" fill="#0a0a0a" stroke="#0a0a0a" stroke-width="0.28">3</text>
<text transform="translate(415.5 807.8) scale(0.8173 1)" font-size="8.8" fill="#0a0a0a" stroke="#0a0a0a" stroke-width="0.28">10</text>
<text transform="translate(424.3 802.8) scale(0.8448 1)" font-size="8.3" fill="#0a0a0a" stroke="#0a0a0a" stroke-width="0.28">4</text>
<text transform="translate(166.5 756.91) scale(0.8173 1)" font-size="8.8" fill="#0a0a0a" stroke="#0a0a0a" stroke-width="0.28">10</text>
<text transform="translate(175.3 751.91) scale(0.8448 1)" font-size="8.3" fill="#0a0a0a" stroke="#0a0a0a" stroke-width="0.28">1</text>
<text transform="translate(166.5 689.5) scale(0.8173 1)" font-size="8.8" fill="#0a0a0a" stroke="#0a0a0a" stroke-width="0.28">10</text>
<text transform="translate(175.3 684.5) scale(0.8448 1)" font-size="8.3" fill="#0a0a0a" stroke="#0a0a0a" stroke-width="0.28">2</text>
<text transform="translate(166.5 622.1) scale(0.8173 1)" font-size="8.8" fill="#0a0a0a" stroke="#0a0a0a" stroke-width="0.28">10</text>
<text transform="translate(175.3 617.1) scale(0.8448 1)" font-size="8.3" fill="#0a0a0a" stroke="#0a0a0a" stroke-width="0.28">3</text>
<text transform="translate(166.5 562.8) scale(0.8173 1)" font-size="8.8" fill="#0a0a0a" stroke="#0a0a0a" stroke-width="0.28">10</text>
<text transform="translate(175.3 557.8) scale(0.8448 1)" font-size="8.3" fill="#0a0a0a" stroke="#0a0a0a" stroke-width="0.28">4</text>
<path d="M188 786.45h-3.3M188 778.03h-3.3M188 771.5h-3.3M188 766.16h-3.3M188 761.65h-3.3M188 757.74h-3.3M188 754.29h-3.3M188 751.21h-6.4M188 730.92h-3.3M188 719.05h-3.3M188 710.63h-3.3M188 704.09h-3.3M188 698.76h-3.3M188 694.24h-3.3M188 690.34h-3.3M188 686.89h-3.3M188 683.8h-6.4M188 663.51h-3.3M188 651.64h-3.3M188 643.22h-3.3M188 636.69h-3.3M188 631.35h-3.3M188 626.84h-3.3M188 622.93h-3.3M188 619.48h-3.3M188 616.4h-6.4M188 596.11h-3.3M188 584.24h-3.3M188 575.82h-3.3M188 569.29h-3.3M188 563.95h-3.3M188 559.44h-3.3M188 555.53h-3.3M188 552.08h-3.3M188 549h-6" stroke="#000" stroke-width="1.1" fill="none"/>
<text transform="translate(304.75 830.7)" font-size="10.15" text-anchor="middle" fill="#0a0a0a" stroke="#0a0a0a" stroke-width="0.28">488 530  30-A :: FITC CD34 488 530  30-A</text>
<text transform="translate(139.2 668) rotate(-90)" font-size="10" text-anchor="middle" fill="#0a0a0a" stroke="#0a0a0a" stroke-width="0.28">561 586_15-A :: PE CD16_32 561 586_15-A</text>
<rect x="192" y="746.1" width="30.1" height="34.2" fill="#dfe3f3" stroke="none" stroke-width="1"/>
<rect x="237.5" y="765" width="0" height="22.7" fill="none" stroke="#111" stroke-width="1.2"/>
<rect x="228.2" y="584.1" width="91.3" height="96.8" fill="none" stroke="#f70d0d" stroke-width="4"/>
<rect x="238.7" y="684.3" width="79.5" height="79.6" fill="none" stroke="#f70d0d" stroke-width="3.2"/>
<rect x="187.7" y="712.8" width="48.4" height="73.2" fill="none" stroke="#f70d0d" stroke-width="2.1"/>
<text transform="translate(327.35 632.4) scale(0.9375 1)" font-size="9.6" fill="#0a0a0a" stroke="#0a0a0a" stroke-width="0.28">GMP</text>
<text transform="translate(337 646)" font-size="9.7" text-anchor="middle" fill="#0a0a0a" stroke="#0a0a0a" stroke-width="0.28">73.1</text>
<text transform="translate(323.6 717.5) scale(0.9375 1)" font-size="9.6" fill="#0a0a0a" stroke="#0a0a0a" stroke-width="0.28">CMP</text>
<text transform="translate(333 731.4)" font-size="9.7" text-anchor="middle" fill="#0a0a0a" stroke="#0a0a0a" stroke-width="0.28">6.21</text>
<text transform="translate(197.15 760.4) scale(0.9375 1)" font-size="9.6" fill="#0a0a0a" stroke="#0a0a0a" stroke-width="0.28">MEP</text>
<text transform="translate(206.9 774.5)" font-size="9.7" text-anchor="middle" fill="#0a0a0a" stroke="#0a0a0a" stroke-width="0.28">9.75</text>
<path d="M87 749.2 V868 H206.5" fill="none" stroke="#1a1a1a" stroke-width="3.3" stroke-linejoin="miter"/>
<polygon points="87,710.7 98.3,751.2 75.7,751.2" fill="#1a1a1a"/>
<polygon points="245,868 204.5,856.7 204.5,879.3" fill="#1a1a1a"/>
<text transform="translate(256.5 878) scale(0.9837 1)" font-size="39.97" fill="#111">Cd34</text>
<text transform="translate(98.12 696) rotate(-90) scale(0.9557 1)" font-size="42.15" fill="#111">Cd16/32</text>
</g>
<g id="plot6">
<clipPath id="cp6"><rect x="602.7" y="548.4" width="239.6" height="239.3"/></clipPath>
<clipPath id="bc6"><path d="M596.46 689.94C596.46 689.94 604.51 688.52 606.14 689.13C607.76 689.74 608.63 693.21 609.37 694.78C610.11 696.35 610.87 701.56 612.6 702.85C614.32 704.14 619.8 705.29 622.28 704.46C624.76 703.64 629.17 697.47 631.96 696.39C634.76 695.32 641.44 696.64 643.26 696.39C645.08 696.15 647.94 694.47 649.72 693.97C651.49 693.48 656.05 692.74 657.79 692.36C659.52 691.97 662.65 691.54 664.24 690.75C665.83 689.95 669.94 686.17 672.31 685.1C674.68 684.02 679.68 682.57 681.99 682.68C684.31 682.78 687.83 685.29 690.06 685.9C692.3 686.51 697.17 687.73 699.75 687.52C702.33 687.3 706.75 684.77 709.43 684.29C712.11 683.81 719.76 683.67 722.34 683.48C724.93 683.3 729.85 682.97 732.03 682.68C734.2 682.38 737.94 681.06 740.1 681.06C742.25 681.06 746.05 682.1 748.17 682.68C750.28 683.25 756 685.07 757.85 685.9C759.7 686.74 762.63 688.79 764.31 689.94C765.98 691.09 769.38 693.59 770.76 694.78C772.15 695.97 774.74 698.12 775.6 699.62C776.46 701.13 777.22 704.3 777.22 706.08C777.22 707.85 776.03 713.18 775.6 715.76C775.17 718.34 774.82 722.96 773.99 725.45C773.16 727.93 770.25 733.28 769.15 735.13C768.04 736.97 765.49 740.2 764.31 741.58C763.12 742.97 760.32 744.92 759.46 746.43C758.6 747.93 758.47 751.22 757.85 752.88C757.23 754.54 756.13 758.26 754.62 759.34C753.12 760.41 748.73 760.68 746.55 760.95C744.38 761.22 736.9 762.09 735.26 761.76C733.61 761.43 731.44 759.06 730.41 757.72C729.39 756.39 728.91 752.13 727.19 751.27C725.46 750.41 719.02 750.93 717.5 751.27C715.99 751.61 714.08 753.87 712.66 754.5C711.24 755.13 705.56 757.51 702.98 757.72C700.39 757.94 695.49 756.11 693.29 756.11C691.1 756.11 686.36 756.97 685.22 757.72C684.09 758.48 684.67 761.72 683.61 762.57C682.55 763.42 678.92 764.38 677.15 764.18C675.39 763.98 671.19 761.37 669.08 760.95C666.97 760.53 662.18 761.29 661.01 760.95C659.84 760.62 658.65 758.59 657.79 757.72C656.92 756.86 652.94 752.88 652.94 752.88C652.94 752.88 648.53 756.22 648.1 757.72C647.67 759.23 650.15 762.67 649.72 764.18C649.29 765.69 645.69 767.39 644.87 769.02C644.06 770.66 643.05 775.18 643.26 777.09C643.47 779 646.28 781.63 646.49 783.55C646.7 785.46 644.87 791.62 644.87 791.62C644.87 791.62 596.46 791.62 596.46 791.62C596.46 791.62 596.46 689.94 596.46 689.94Z"/><path d="M641.65 677.83C641.65 677.83 646.05 674.83 648.1 673.8C650.16 672.77 652.59 672.56 654.56 671.38C656.53 670.2 660.21 666.54 660.21 666.54C660.21 666.54 661.39 670.32 661.01 672.19C660.64 674.05 659.4 677.03 657.79 678.64C656.17 680.26 653.42 681.35 651.33 681.87C649.24 682.39 646.46 682.53 644.87 681.87C643.28 681.21 641.65 677.83 641.65 677.83Z"/><path d="M712.66 790C712.66 790 715.08 783.68 717.5 781.93C719.92 780.19 723.96 779.78 727.19 779.51C730.41 779.24 734.72 778.57 736.87 780.32C739.02 782.07 740.1 790 740.1 790C740.1 790 712.66 790 712.66 790Z"/></clipPath>
<g clip-path="url(#cp6)"><g filter="url(#jet)">
<g fill="#383838"><path d="M596.46 689.94C596.46 689.94 604.51 688.52 606.14 689.13C607.76 689.74 608.63 693.21 609.37 694.78C610.11 696.35 610.87 701.56 612.6 702.85C614.32 704.14 619.8 705.29 622.28 704.46C624.76 703.64 629.17 697.47 631.96 696.39C634.76 695.32 641.44 696.64 643.26 696.39C645.08 696.15 647.94 694.47 649.72 693.97C651.49 693.48 656.05 692.74 657.79 692.36C659.52 691.97 662.65 691.54 664.24 690.75C665.83 689.95 669.94 686.17 672.31 685.1C674.68 684.02 679.68 682.57 681.99 682.68C684.31 682.78 687.83 685.29 690.06 685.9C692.3 686.51 697.17 687.73 699.75 687.52C702.33 687.3 706.75 684.77 709.43 684.29C712.11 683.81 719.76 683.67 722.34 683.48C724.93 683.3 729.85 682.97 732.03 682.68C734.2 682.38 737.94 681.06 740.1 681.06C742.25 681.06 746.05 682.1 748.17 682.68C750.28 683.25 756 685.07 757.85 685.9C759.7 686.74 762.63 688.79 764.31 689.94C765.98 691.09 769.38 693.59 770.76 694.78C772.15 695.97 774.74 698.12 775.6 699.62C776.46 701.13 777.22 704.3 777.22 706.08C777.22 707.85 776.03 713.18 775.6 715.76C775.17 718.34 774.82 722.96 773.99 725.45C773.16 727.93 770.25 733.28 769.15 735.13C768.04 736.97 765.49 740.2 764.31 741.58C763.12 742.97 760.32 744.92 759.46 746.43C758.6 747.93 758.47 751.22 757.85 752.88C757.23 754.54 756.13 758.26 754.62 759.34C753.12 760.41 748.73 760.68 746.55 760.95C744.38 761.22 736.9 762.09 735.26 761.76C733.61 761.43 731.44 759.06 730.41 757.72C729.39 756.39 728.91 752.13 727.19 751.27C725.46 750.41 719.02 750.93 717.5 751.27C715.99 751.61 714.08 753.87 712.66 754.5C711.24 755.13 705.56 757.51 702.98 757.72C700.39 757.94 695.49 756.11 693.29 756.11C691.1 756.11 686.36 756.97 685.22 757.72C684.09 758.48 684.67 761.72 683.61 762.57C682.55 763.42 678.92 764.38 677.15 764.18C675.39 763.98 671.19 761.37 669.08 760.95C666.97 760.53 662.18 761.29 661.01 760.95C659.84 760.62 658.65 758.59 657.79 757.72C656.92 756.86 652.94 752.88 652.94 752.88C652.94 752.88 648.53 756.22 648.1 757.72C647.67 759.23 650.15 762.67 649.72 764.18C649.29 765.69 645.69 767.39 644.87 769.02C644.06 770.66 643.05 775.18 643.26 777.09C643.47 779 646.28 781.63 646.49 783.55C646.7 785.46 644.87 791.62 644.87 791.62C644.87 791.62 596.46 791.62 596.46 791.62C596.46 791.62 596.46 689.94 596.46 689.94Z"/><path d="M641.65 677.83C641.65 677.83 646.05 674.83 648.1 673.8C650.16 672.77 652.59 672.56 654.56 671.38C656.53 670.2 660.21 666.54 660.21 666.54C660.21 666.54 661.39 670.32 661.01 672.19C660.64 674.05 659.4 677.03 657.79 678.64C656.17 680.26 653.42 681.35 651.33 681.87C649.24 682.39 646.46 682.53 644.87 681.87C643.28 681.21 641.65 677.83 641.65 677.83Z"/><path d="M712.66 790C712.66 790 715.08 783.68 717.5 781.93C719.92 780.19 723.96 779.78 727.19 779.51C730.41 779.24 734.72 778.57 736.87 780.32C739.02 782.07 740.1 790 740.1 790C740.1 790 712.66 790 712.66 790Z"/></g>
<g clip-path="url(#bc6)">
<path d="M643.26 712.53C645.18 709.89 650.91 706.81 654.56 704.46C658.21 702.12 661.79 699.53 665.86 698.01C669.92 696.49 675.43 695.04 680.38 694.78C685.33 694.52 691.14 696.8 696.52 696.39C701.9 695.99 707.32 693.03 712.66 692.36C718 691.69 723.43 692.63 728.8 692.36C734.17 692.09 739.83 690.07 744.94 690.75C750.05 691.42 756.43 694.77 759.46 696.39C762.5 698.02 765.92 699.89 767.53 702.85C769.15 705.81 769.39 710.35 769.15 714.15C768.91 717.94 767.77 724.43 765.92 728.67C764.07 732.91 760.52 737.54 757.85 739.97C755.18 742.4 751.7 744.06 748.17 744.81C744.64 745.57 739.5 745.52 735.26 744.81C731.01 744.11 724.42 741.03 719.12 739.97C713.81 738.91 708.36 738.09 702.98 738.36C697.6 738.63 692.18 740.92 686.84 741.58C681.49 742.25 675.18 742.89 670.7 742.39C666.22 741.89 661.77 740.08 657.79 738.36C653.81 736.63 649.04 734.45 646.49 731.9C643.94 729.35 642.18 725.45 641.65 722.22C641.11 718.99 641.34 715.18 643.26 712.53Z" fill="#454545" stroke="#454545" stroke-width="25.2" stroke-linejoin="round"/>
<path d="M643.26 712.53C645.18 709.89 650.91 706.81 654.56 704.46C658.21 702.12 661.79 699.53 665.86 698.01C669.92 696.49 675.43 695.04 680.38 694.78C685.33 694.52 691.14 696.8 696.52 696.39C701.9 695.99 707.32 693.03 712.66 692.36C718 691.69 723.43 692.63 728.8 692.36C734.17 692.09 739.83 690.07 744.94 690.75C750.05 691.42 756.43 694.77 759.46 696.39C762.5 698.02 765.92 699.89 767.53 702.85C769.15 705.81 769.39 710.35 769.15 714.15C768.91 717.94 767.77 724.43 765.92 728.67C764.07 732.91 760.52 737.54 757.85 739.97C755.18 742.4 751.7 744.06 748.17 744.81C744.64 745.57 739.5 745.52 735.26 744.81C731.01 744.11 724.42 741.03 719.12 739.97C713.81 738.91 708.36 738.09 702.98 738.36C697.6 738.63 692.18 740.92 686.84 741.58C681.49 742.25 675.18 742.89 670.7 742.39C666.22 741.89 661.77 740.08 657.79 738.36C653.81 736.63 649.04 734.45 646.49 731.9C643.94 729.35 642.18 725.45 641.65 722.22C641.11 718.99 641.34 715.18 643.26 712.53Z" fill="#525252" stroke="#525252" stroke-width="16.8" stroke-linejoin="round"/>
<path d="M643.26 712.53C645.18 709.89 650.91 706.81 654.56 704.46C658.21 702.12 661.79 699.53 665.86 698.01C669.92 696.49 675.43 695.04 680.38 694.78C685.33 694.52 691.14 696.8 696.52 696.39C701.9 695.99 707.32 693.03 712.66 692.36C718 691.69 723.43 692.63 728.8 692.36C734.17 692.09 739.83 690.07 744.94 690.75C750.05 691.42 756.43 694.77 759.46 696.39C762.5 698.02 765.92 699.89 767.53 702.85C769.15 705.81 769.39 710.35 769.15 714.15C768.91 717.94 767.77 724.43 765.92 728.67C764.07 732.91 760.52 737.54 757.85 739.97C755.18 742.4 751.7 744.06 748.17 744.81C744.64 745.57 739.5 745.52 735.26 744.81C731.01 744.11 724.42 741.03 719.12 739.97C713.81 738.91 708.36 738.09 702.98 738.36C697.6 738.63 692.18 740.92 686.84 741.58C681.49 742.25 675.18 742.89 670.7 742.39C666.22 741.89 661.77 740.08 657.79 738.36C653.81 736.63 649.04 734.45 646.49 731.9C643.94 729.35 642.18 725.45 641.65 722.22C641.11 718.99 641.34 715.18 643.26 712.53Z" fill="#5e5e5e" stroke="#5e5e5e" stroke-width="11.2" stroke-linejoin="round"/>
<path d="M643.26 712.53C645.18 709.89 650.91 706.81 654.56 704.46C658.21 702.12 661.79 699.53 665.86 698.01C669.92 696.49 675.43 695.04 680.38 694.78C685.33 694.52 691.14 696.8 696.52 696.39C701.9 695.99 707.32 693.03 712.66 692.36C718 691.69 723.43 692.63 728.8 692.36C734.17 692.09 739.83 690.07 744.94 690.75C750.05 691.42 756.43 694.77 759.46 696.39C762.5 698.02 765.92 699.89 767.53 702.85C769.15 705.81 769.39 710.35 769.15 714.15C768.91 717.94 767.77 724.43 765.92 728.67C764.07 732.91 760.52 737.54 757.85 739.97C755.18 742.4 751.7 744.06 748.17 744.81C744.64 745.57 739.5 745.52 735.26 744.81C731.01 744.11 724.42 741.03 719.12 739.97C713.81 738.91 708.36 738.09 702.98 738.36C697.6 738.63 692.18 740.92 686.84 741.58C681.49 742.25 675.18 742.89 670.7 742.39C666.22 741.89 661.77 740.08 657.79 738.36C653.81 736.63 649.04 734.45 646.49 731.9C643.94 729.35 642.18 725.45 641.65 722.22C641.11 718.99 641.34 715.18 643.26 712.53Z" fill="#6b6b6b" stroke="#6b6b6b" stroke-width="5.6" stroke-linejoin="round"/>
<path d="M643.26 712.53C645.18 709.89 650.91 706.81 654.56 704.46C658.21 702.12 661.79 699.53 665.86 698.01C669.92 696.49 675.43 695.04 680.38 694.78C685.33 694.52 691.14 696.8 696.52 696.39C701.9 695.99 707.32 693.03 712.66 692.36C718 691.69 723.43 692.63 728.8 692.36C734.17 692.09 739.83 690.07 744.94 690.75C750.05 691.42 756.43 694.77 759.46 696.39C762.5 698.02 765.92 699.89 767.53 702.85C769.15 705.81 769.39 710.35 769.15 714.15C768.91 717.94 767.77 724.43 765.92 728.67C764.07 732.91 760.52 737.54 757.85 739.97C755.18 742.4 751.7 744.06 748.17 744.81C744.64 745.57 739.5 745.52 735.26 744.81C731.01 744.11 724.42 741.03 719.12 739.97C713.81 738.91 708.36 738.09 702.98 738.36C697.6 738.63 692.18 740.92 686.84 741.58C681.49 742.25 675.18 742.89 670.7 742.39C666.22 741.89 661.77 740.08 657.79 738.36C653.81 736.63 649.04 734.45 646.49 731.9C643.94 729.35 642.18 725.45 641.65 722.22C641.11 718.99 641.34 715.18 643.26 712.53Z" fill="#878787"/>
<rect x="596.46" y="736.74" width="9.68" height="54.87" fill="#878787"/>
<path d="M665.86 720.6C665.86 717.11 667.83 710.91 669.89 707.69C671.95 704.47 675.12 701.56 678.77 700.43C682.42 699.3 688.89 700.95 693.29 700.43C697.7 699.91 701.94 698 706.2 697.2C710.47 696.4 714.8 696.07 719.12 695.59C723.43 695.11 730.42 694.23 735.26 693.97C740.09 693.72 745.91 693.1 749.78 693.97C753.65 694.85 757.98 696.8 760.27 699.62C762.56 702.45 763.25 707.01 763.5 710.92C763.74 714.83 763.31 721.44 761.89 725.45C760.46 729.45 757.3 733.51 754.62 735.94C751.95 738.36 748.54 740.52 744.94 740.78C741.34 741.04 736.29 738.35 732.03 737.55C727.76 736.75 723.42 735.67 719.12 735.94C714.81 736.21 710.47 738.63 706.2 739.16C701.93 739.7 697.59 739.42 693.29 739.16C689 738.91 682.34 738.91 678.77 737.55C675.19 736.19 672.01 733.07 669.89 730.29C667.77 727.51 665.86 724.1 665.86 720.6Z" fill="#999999"/>
<rect x="596.46" y="777.09" width="8.39" height="14.53" fill="#999999"/>
<path d="M669.08 720.6C669.08 717.71 670.46 712.21 672.31 709.31C674.16 706.4 677.09 703.86 680.38 702.85C683.67 701.84 689.02 703.38 693.29 702.85C697.56 702.32 701.94 700.42 706.2 699.62C710.47 698.82 714.8 698.49 719.12 698.01C723.43 697.53 730.96 696.63 735.26 696.39C739.55 696.16 744.64 695.64 748.17 696.39C751.7 697.15 755.7 698.82 757.85 701.24C760 703.66 760.84 707.53 761.08 710.92C761.32 714.31 760.77 720.18 759.46 723.83C758.16 727.48 755.23 731.3 753.01 733.52C750.79 735.73 748.07 738.12 744.94 738.36C741.81 738.6 736.29 735.93 732.03 735.13C727.76 734.33 723.42 733.25 719.12 733.52C714.81 733.78 710.47 736.21 706.2 736.74C701.93 737.28 697.59 737.01 693.29 736.74C689 736.47 683.6 736.37 680.38 735.13C677.17 733.89 674.09 730.96 672.31 728.67C670.53 726.39 669.08 723.5 669.08 720.6Z" fill="#adadad"/>
<path d="M717.5 717.38C718.04 714.69 720.19 711.46 722.34 709.31C724.5 707.15 727.44 705.46 730.41 704.46C733.39 703.47 738.32 702.59 741.71 702.85C745.1 703.11 748.97 703.93 751.39 706.08C753.82 708.23 755.45 712.63 756.24 715.76C757.02 718.89 757.31 722.76 756.24 725.45C755.16 728.14 752.64 730.86 749.78 731.9C746.92 732.94 742.21 732.43 738.48 731.9C734.75 731.37 729.93 729.59 727.19 728.67C724.44 727.76 720.73 727.33 719.12 725.45C717.5 723.56 716.96 720.07 717.5 717.38Z" fill="#c2c2c2" stroke="#c2c2c2" stroke-width="4.4" stroke-linejoin="round"/>
<path d="M717.5 717.38C718.04 714.69 720.19 711.46 722.34 709.31C724.5 707.15 727.44 705.46 730.41 704.46C733.39 703.47 738.32 702.59 741.71 702.85C745.1 703.11 748.97 703.93 751.39 706.08C753.82 708.23 755.45 712.63 756.24 715.76C757.02 718.89 757.31 722.76 756.24 725.45C755.16 728.14 752.64 730.86 749.78 731.9C746.92 732.94 742.21 732.43 738.48 731.9C734.75 731.37 729.93 729.59 727.19 728.67C724.44 727.76 720.73 727.33 719.12 725.45C717.5 723.56 716.96 720.07 717.5 717.38Z" fill="#d6d6d6"/>
<path d="M722.34 717.38C721.94 714.82 724.5 712 726.38 710.11C728.26 708.23 730.98 706.84 733.64 706.08C736.3 705.32 740.37 704.46 743.32 705.27C746.28 706.08 749.65 708.36 751.39 710.92C753.14 713.48 754.08 717.85 753.82 720.6C753.55 723.36 752.07 726.52 749.78 727.87C747.49 729.21 743.31 729.04 740.1 728.67C736.88 728.3 731.71 727.29 728.8 725.45C725.89 723.6 722.75 719.93 722.34 717.38Z" fill="#e6e6e6"/>
<path d="M726.38 717.38C726.51 715.9 728.17 713.84 729.61 712.53C731.04 711.23 733.15 709.83 735.26 709.31C737.36 708.78 740.65 708.66 742.52 709.31C744.39 709.96 746.07 711.59 746.88 713.34C747.68 715.09 748.09 718.1 747.36 719.8C746.63 721.49 744.47 722.95 742.52 723.51C740.56 724.07 736.43 723.81 734.45 723.51C732.46 723.21 730.05 722.36 728.8 721.41C727.55 720.46 726.24 718.86 726.38 717.38Z" fill="#ffffff"/>
</g></g><ellipse cx="613.89" cy="732.71" rx="3.23" ry="5.49" fill="#fff"/></g>
<path d="M842.5 548.5 V787.5" fill="none" stroke="#444" stroke-width="1"/>
<path d="M602.5 548.5 H842.5" fill="none" stroke="#000" stroke-width="1.5"/>
<path d="M602.5 547.9 V787.5 H843" fill="none" stroke="#000" stroke-width="1.5"/>
<path d="M602.85 787.5v3.3M611.28 787.5v3.3M617.82 787.5v3.3M623.17 787.5v3.3M627.69 787.5v3.3M631.6 787.5v3.3M635.05 787.5v3.3M638.14 787.5v6.4M658.46 787.5v3.3M670.34 787.5v3.3M678.77 787.5v3.3M685.31 787.5v3.3M690.66 787.5v3.3M695.17 787.5v3.3M699.09 787.5v3.3M702.54 787.5v3.3M705.63 787.5v6.4M725.94 787.5v3.3M737.83 787.5v3.3M746.26 787.5v3.3M752.8 787.5v3.3M758.14 787.5v3.3M762.66 787.5v3.3M766.57 787.5v3.3M770.03 787.5v3.3M773.12 787.5v6.4M793.43 787.5v3.3M805.31 787.5v3.3M813.75 787.5v3.3M820.29 787.5v3.3M825.63 787.5v3.3M830.15 787.5v3.3M834.06 787.5v3.3M837.51 787.5v3.3M840.6 787.5v6" stroke="#000" stroke-width="1.15" fill="none"/>
<text transform="translate(639.14 807.8) scale(0.8173 1)" font-size="8.8" fill="#0a0a0a" stroke="#0a0a0a" stroke-width="0.28">10</text>
<text transform="translate(647.94 802.8) scale(0.8448 1)" font-size="8.3" fill="#0a0a0a" stroke="#0a0a0a" stroke-width="0.28">1</text>
<text transform="translate(706.63 807.8) scale(0.8173 1)" font-size="8.8" fill="#0a0a0a" stroke="#0a0a0a" stroke-width="0.28">10</text>
<text transform="translate(715.43 802.8) scale(0.8448 1)" font-size="8.3" fill="#0a0a0a" stroke="#0a0a0a" stroke-width="0.28">2</text>
<text transform="translate(774.12 807.8) scale(0.8173 1)" font-size="8.8" fill="#0a0a0a" stroke="#0a0a0a" stroke-width="0.28">10</text>
<text transform="translate(782.92 802.8) scale(0.8448 1)" font-size="8.3" fill="#0a0a0a" stroke="#0a0a0a" stroke-width="0.28">3</text>
<text transform="translate(830.5 807.8) scale(0.8173 1)" font-size="8.8" fill="#0a0a0a" stroke="#0a0a0a" stroke-width="0.28">10</text>
<text transform="translate(839.3 802.8) scale(0.8448 1)" font-size="8.3" fill="#0a0a0a" stroke="#0a0a0a" stroke-width="0.28">4</text>
<text transform="translate(581 756.91) scale(0.8173 1)" font-size="8.8" fill="#0a0a0a" stroke="#0a0a0a" stroke-width="0.28">10</text>
<text transform="translate(589.8 751.91) scale(0.8448 1)" font-size="8.3" fill="#0a0a0a" stroke="#0a0a0a" stroke-width="0.28">1</text>
<text transform="translate(581 689.5) scale(0.8173 1)" font-size="8.8" fill="#0a0a0a" stroke="#0a0a0a" stroke-width="0.28">10</text>
<text transform="translate(589.8 684.5) scale(0.8448 1)" font-size="8.3" fill="#0a0a0a" stroke="#0a0a0a" stroke-width="0.28">2</text>
<text transform="translate(581 622.1) scale(0.8173 1)" font-size="8.8" fill="#0a0a0a" stroke="#0a0a0a" stroke-width="0.28">10</text>
<text transform="translate(589.8 617.1) scale(0.8448 1)" font-size="8.3" fill="#0a0a0a" stroke="#0a0a0a" stroke-width="0.28">3</text>
<text transform="translate(581 562.8) scale(0.8173 1)" font-size="8.8" fill="#0a0a0a" stroke="#0a0a0a" stroke-width="0.28">10</text>
<text transform="translate(589.8 557.8) scale(0.8448 1)" font-size="8.3" fill="#0a0a0a" stroke="#0a0a0a" stroke-width="0.28">4</text>
<path d="M602.5 786.45h-3.3M602.5 778.03h-3.3M602.5 771.5h-3.3M602.5 766.16h-3.3M602.5 761.65h-3.3M602.5 757.74h-3.3M602.5 754.29h-3.3M602.5 751.21h-6.4M602.5 730.92h-3.3M602.5 719.05h-3.3M602.5 710.63h-3.3M602.5 704.09h-3.3M602.5 698.76h-3.3M602.5 694.24h-3.3M602.5 690.34h-3.3M602.5 686.89h-3.3M602.5 683.8h-6.4M602.5 663.51h-3.3M602.5 651.64h-3.3M602.5 643.22h-3.3M602.5 636.69h-3.3M602.5 631.35h-3.3M602.5 626.84h-3.3M602.5 622.93h-3.3M602.5 619.48h-3.3M602.5 616.4h-6.4M602.5 596.11h-3.3M602.5 584.24h-3.3M602.5 575.82h-3.3M602.5 569.29h-3.3M602.5 563.95h-3.3M602.5 559.44h-3.3M602.5 555.53h-3.3M602.5 552.08h-3.3M602.5 549h-6" stroke="#000" stroke-width="1.1" fill="none"/>
<text transform="translate(719.5 830.7)" font-size="10.15" text-anchor="middle" fill="#0a0a0a" stroke="#0a0a0a" stroke-width="0.28">561 586  15-A :: PE Flt3 561 586  15-A</text>
<text transform="translate(554.6 668) rotate(-90)" font-size="10" text-anchor="middle" fill="#0a0a0a" stroke="#0a0a0a" stroke-width="0.28">488 530_30-A :: FITC CD34 488 530_30-A</text>
<rect x="606.4" y="752.5" width="35.6" height="29.5" fill="#f3f4fb" stroke="none" stroke-width="1"/>
<rect x="602.5" y="650.5" width="59" height="101" fill="none" stroke="#000" stroke-width="1.35"/>
<rect x="661.5" y="649.5" width="143" height="102" fill="none" stroke="#000" stroke-width="1.35"/>
<rect x="602.5" y="751.5" width="59" height="36" fill="none" stroke="#000" stroke-width="1.35"/>
<rect x="606.4" y="640.7" width="35" height="14.5" fill="#fff" stroke="none" stroke-width="1"/>
<rect x="714.2" y="644.9" width="35" height="14.5" fill="#fff" stroke="none" stroke-width="1"/>
<text transform="translate(607.7 636.9) scale(0.9375 1)" font-size="9.6" fill="#0a0a0a" stroke="#0a0a0a" stroke-width="0.28">ST-HSC</text>
<text transform="translate(623.9 650.2)" font-size="9.7" text-anchor="middle" fill="#0a0a0a" stroke="#0a0a0a" stroke-width="0.28">8.73</text>
<text transform="translate(719.75 640.9) scale(0.9375 1)" font-size="9.6" fill="#0a0a0a" stroke="#0a0a0a" stroke-width="0.28">LMPP</text>
<text transform="translate(731.7 654.4)" font-size="9.7" text-anchor="middle" fill="#0a0a0a" stroke="#0a0a0a" stroke-width="0.28">85.2</text>
<text transform="translate(608.53 762.4) scale(0.9375 1)" font-size="9.6" fill="#0a0a0a" stroke="#0a0a0a" stroke-width="0.28">LT-HSC</text>
<text transform="translate(623.9 776.5)" font-size="9.7" text-anchor="middle" fill="#0a0a0a" stroke="#0a0a0a" stroke-width="0.28">2.49</text>
<path d="M501.9 749 V868.3 H621" fill="none" stroke="#1a1a1a" stroke-width="3.3" stroke-linejoin="miter"/>
<polygon points="501.9,710.5 513.2,751 490.6,751" fill="#1a1a1a"/>
<polygon points="659.5,868.3 619,857 619,879.6" fill="#1a1a1a"/>
<text transform="translate(673.5 878) scale(0.9605 1)" font-size="39.97" fill="#111">Flt3</text>
<text transform="translate(512.12 694.6) rotate(-90) scale(0.9159 1)" font-size="42.15" fill="#111">Cd34</text>
</g>
<g id="plot7">
<clipPath id="cp7"><rect x="1062" y="543.7" width="240.5" height="239.9"/></clipPath>
<clipPath id="bc7"><path d="M1058.07 646.2C1058.41 642.37 1068.07 640.91 1070.98 639.75C1073.89 638.58 1079.81 637.75 1082.28 636.52C1084.74 635.29 1089.2 632.57 1090.35 630.06C1091.5 627.56 1091.36 620.23 1091.16 617.15C1090.95 614.08 1088.83 608.05 1088.73 605.86C1088.64 603.66 1089.06 599.29 1090.35 597.79C1091.64 596.28 1096.69 596.1 1098.42 594.56C1100.15 593.02 1103.53 586.99 1104.87 584.87C1106.22 582.76 1107.99 578.1 1109.72 576.8C1111.44 575.51 1115.59 575.29 1117.79 575.19C1119.98 575.09 1124.89 576.11 1127.47 576C1130.05 575.89 1134.57 574.17 1137.15 574.38C1139.74 574.6 1144.61 576.7 1146.84 577.61C1149.06 578.52 1152.82 581.12 1154.91 581.65C1156.99 582.17 1161.21 581.45 1162.98 581.65C1164.74 581.84 1168.08 582.11 1169.43 583.26C1170.78 584.42 1173.08 589.54 1174.27 591.33C1175.47 593.12 1177.79 596.09 1179.12 597.79C1180.44 599.48 1184.59 603.89 1185.57 605.86C1186.55 607.82 1187.19 611.73 1187.19 613.93C1187.19 616.12 1185.46 621.03 1185.57 623.61C1185.68 626.19 1187.8 631.14 1187.99 633.29C1188.19 635.45 1187.94 639.43 1187.19 641.36C1186.43 643.3 1183.58 646.06 1182.34 647.82C1181.11 649.58 1177.23 655.38 1175.89 657.5C1174.54 659.62 1172.24 663.78 1171.05 665.57C1169.85 667.36 1167.3 670.93 1166.2 672.03C1165.11 673.12 1162.75 674.56 1161.36 675.26C1159.97 675.95 1154.58 676.98 1153.29 678.48C1152 679.99 1152.74 684.63 1151.68 686.55C1150.61 688.47 1147.14 691.51 1145.22 693.01C1143.3 694.5 1138.94 696.66 1137.15 697.85C1135.36 699.04 1131.99 700.97 1130.7 702.69C1129.41 704.41 1128.75 708.83 1127.47 710.76C1126.18 712.69 1122.74 715.5 1121.01 717.22C1119.29 718.94 1115.58 721.46 1114.56 723.67C1113.54 725.88 1112.17 735.84 1111.33 738.2C1110.49 740.56 1107.87 744.78 1106.49 746.27C1105.1 747.75 1101.26 749.08 1100.03 750.3C1098.81 751.53 1097.08 754.24 1096.8 755.95C1096.53 757.67 1096 775.32 1096 775.32C1096 775.32 1101.32 774.31 1103.26 774.51C1105.2 774.72 1110.04 775.53 1111.33 776.93C1112.62 778.33 1112.94 785 1112.94 785C1112.94 785 1058.07 785 1058.07 785C1058.07 785 1057.73 650.04 1058.07 646.2Z"/><ellipse cx="1064.2" cy="617.48" rx="4.52" ry="4.52"/><ellipse cx="1130.7" cy="781.45" rx="3.55" ry="2.91"/></clipPath>
<g clip-path="url(#cp7)"><g filter="url(#jet)">
<g fill="#383838"><path d="M1058.07 646.2C1058.41 642.37 1068.07 640.91 1070.98 639.75C1073.89 638.58 1079.81 637.75 1082.28 636.52C1084.74 635.29 1089.2 632.57 1090.35 630.06C1091.5 627.56 1091.36 620.23 1091.16 617.15C1090.95 614.08 1088.83 608.05 1088.73 605.86C1088.64 603.66 1089.06 599.29 1090.35 597.79C1091.64 596.28 1096.69 596.1 1098.42 594.56C1100.15 593.02 1103.53 586.99 1104.87 584.87C1106.22 582.76 1107.99 578.1 1109.72 576.8C1111.44 575.51 1115.59 575.29 1117.79 575.19C1119.98 575.09 1124.89 576.11 1127.47 576C1130.05 575.89 1134.57 574.17 1137.15 574.38C1139.74 574.6 1144.61 576.7 1146.84 577.61C1149.06 578.52 1152.82 581.12 1154.91 581.65C1156.99 582.17 1161.21 581.45 1162.98 581.65C1164.74 581.84 1168.08 582.11 1169.43 583.26C1170.78 584.42 1173.08 589.54 1174.27 591.33C1175.47 593.12 1177.79 596.09 1179.12 597.79C1180.44 599.48 1184.59 603.89 1185.57 605.86C1186.55 607.82 1187.19 611.73 1187.19 613.93C1187.19 616.12 1185.46 621.03 1185.57 623.61C1185.68 626.19 1187.8 631.14 1187.99 633.29C1188.19 635.45 1187.94 639.43 1187.19 641.36C1186.43 643.3 1183.58 646.06 1182.34 647.82C1181.11 649.58 1177.23 655.38 1175.89 657.5C1174.54 659.62 1172.24 663.78 1171.05 665.57C1169.85 667.36 1167.3 670.93 1166.2 672.03C1165.11 673.12 1162.75 674.56 1161.36 675.26C1159.97 675.95 1154.58 676.98 1153.29 678.48C1152 679.99 1152.74 684.63 1151.68 686.55C1150.61 688.47 1147.14 691.51 1145.22 693.01C1143.3 694.5 1138.94 696.66 1137.15 697.85C1135.36 699.04 1131.99 700.97 1130.7 702.69C1129.41 704.41 1128.75 708.83 1127.47 710.76C1126.18 712.69 1122.74 715.5 1121.01 717.22C1119.29 718.94 1115.58 721.46 1114.56 723.67C1113.54 725.88 1112.17 735.84 1111.33 738.2C1110.49 740.56 1107.87 744.78 1106.49 746.27C1105.1 747.75 1101.26 749.08 1100.03 750.3C1098.81 751.53 1097.08 754.24 1096.8 755.95C1096.53 757.67 1096 775.32 1096 775.32C1096 775.32 1101.32 774.31 1103.26 774.51C1105.2 774.72 1110.04 775.53 1111.33 776.93C1112.62 778.33 1112.94 785 1112.94 785C1112.94 785 1058.07 785 1058.07 785C1058.07 785 1057.73 650.04 1058.07 646.2Z"/><ellipse cx="1064.2" cy="617.48" rx="4.52" ry="4.52"/><ellipse cx="1130.7" cy="781.45" rx="3.55" ry="2.91"/></g>
<g clip-path="url(#bc7)">
<path d="M1059.68 672.03C1060.03 668.16 1066 667.5 1069.37 665.57C1072.74 663.65 1078.56 661.77 1082.28 659.12C1085.99 656.46 1089.81 651.58 1091.96 649.43C1094.11 647.28 1096.4 645.25 1098.42 642.98C1100.44 640.7 1103.52 638.07 1104.87 634.91C1106.23 631.74 1107.35 624.65 1108.1 620.38C1108.86 616.11 1108.19 611.53 1109.72 607.47C1111.24 603.41 1114.29 598.05 1117.79 594.56C1121.28 591.06 1125.86 587.83 1130.7 586.49C1135.54 585.14 1142.14 585.44 1146.84 586.49C1151.53 587.53 1156.77 590.46 1159.75 592.94C1162.73 595.43 1164.76 599.03 1166.2 602.63C1167.64 606.23 1168.91 612.22 1169.43 617.15C1169.95 622.09 1169.92 628.88 1169.43 633.29C1168.94 637.7 1167.81 642.18 1166.2 646.2C1164.59 650.23 1162.39 654.06 1159.75 657.5C1157.1 660.94 1153.16 664.35 1150.06 667.19C1146.97 670.02 1143.68 672.66 1140.38 675.26C1137.08 677.85 1130.94 681.97 1127.47 684.94C1124 687.91 1121.14 691.53 1117.79 694.62C1114.43 697.72 1110.98 702.19 1106.49 704.31C1102 706.42 1095.73 707.26 1090.35 707.53C1084.97 707.8 1077.18 705.28 1074.21 705.92C1071.23 706.56 1068.66 709.47 1067.75 712.38C1066.85 715.28 1066.38 725.27 1066.14 731.74C1065.9 738.22 1067.05 750.23 1066.14 755.95C1065.22 761.67 1059.68 772.09 1059.68 772.09C1059.68 772.09 1059.33 675.89 1059.68 672.03Z" fill="#454545" stroke="#454545" stroke-width="28" stroke-linejoin="round"/>
<path d="M1104.87 672.03C1104.28 669.56 1105.49 660.37 1106.49 655.89C1107.49 651.4 1110.82 647.54 1111.33 642.98C1111.84 638.41 1109.72 632.22 1109.72 626.84C1109.72 621.46 1109.45 615.54 1111.33 610.7C1113.21 605.86 1117.36 600.92 1121.01 597.79C1124.67 594.65 1129.71 592.25 1133.93 591.33C1138.14 590.41 1143.24 591.11 1146.84 592.14C1150.43 593.16 1154.22 594.84 1156.52 597.79C1158.82 600.73 1160.37 606.21 1161.36 610.7C1162.36 615.18 1162.98 622.5 1162.98 626.84C1162.98 631.17 1162.66 635.61 1161.36 639.75C1160.07 643.89 1157.18 649.13 1154.91 652.66C1152.63 656.19 1149.8 659.38 1146.84 662.34C1143.88 665.3 1140.86 668.44 1137.15 670.41C1133.45 672.39 1126.32 674.45 1122.63 675.26C1118.94 676.06 1113.83 676.52 1111.33 676.06C1108.83 675.61 1105.47 674.49 1104.87 672.03Z" fill="#454545" stroke="#454545" stroke-width="37.4" stroke-linejoin="round"/>
<path d="M1059.68 672.03C1060.03 668.16 1066 667.5 1069.37 665.57C1072.74 663.65 1078.56 661.77 1082.28 659.12C1085.99 656.46 1089.81 651.58 1091.96 649.43C1094.11 647.28 1096.4 645.25 1098.42 642.98C1100.44 640.7 1103.52 638.07 1104.87 634.91C1106.23 631.74 1107.35 624.65 1108.1 620.38C1108.86 616.11 1108.19 611.53 1109.72 607.47C1111.24 603.41 1114.29 598.05 1117.79 594.56C1121.28 591.06 1125.86 587.83 1130.7 586.49C1135.54 585.14 1142.14 585.44 1146.84 586.49C1151.53 587.53 1156.77 590.46 1159.75 592.94C1162.73 595.43 1164.76 599.03 1166.2 602.63C1167.64 606.23 1168.91 612.22 1169.43 617.15C1169.95 622.09 1169.92 628.88 1169.43 633.29C1168.94 637.7 1167.81 642.18 1166.2 646.2C1164.59 650.23 1162.39 654.06 1159.75 657.5C1157.1 660.94 1153.16 664.35 1150.06 667.19C1146.97 670.02 1143.68 672.66 1140.38 675.26C1137.08 677.85 1130.94 681.97 1127.47 684.94C1124 687.91 1121.14 691.53 1117.79 694.62C1114.43 697.72 1110.98 702.19 1106.49 704.31C1102 706.42 1095.73 707.26 1090.35 707.53C1084.97 707.8 1077.18 705.28 1074.21 705.92C1071.23 706.56 1068.66 709.47 1067.75 712.38C1066.85 715.28 1066.38 725.27 1066.14 731.74C1065.9 738.22 1067.05 750.23 1066.14 755.95C1065.22 761.67 1059.68 772.09 1059.68 772.09C1059.68 772.09 1059.33 675.89 1059.68 672.03Z" fill="#525252" stroke="#525252" stroke-width="18" stroke-linejoin="round"/>
<path d="M1104.87 672.03C1104.28 669.56 1105.49 660.37 1106.49 655.89C1107.49 651.4 1110.82 647.54 1111.33 642.98C1111.84 638.41 1109.72 632.22 1109.72 626.84C1109.72 621.46 1109.45 615.54 1111.33 610.7C1113.21 605.86 1117.36 600.92 1121.01 597.79C1124.67 594.65 1129.71 592.25 1133.93 591.33C1138.14 590.41 1143.24 591.11 1146.84 592.14C1150.43 593.16 1154.22 594.84 1156.52 597.79C1158.82 600.73 1160.37 606.21 1161.36 610.7C1162.36 615.18 1162.98 622.5 1162.98 626.84C1162.98 631.17 1162.66 635.61 1161.36 639.75C1160.07 643.89 1157.18 649.13 1154.91 652.66C1152.63 656.19 1149.8 659.38 1146.84 662.34C1143.88 665.3 1140.86 668.44 1137.15 670.41C1133.45 672.39 1126.32 674.45 1122.63 675.26C1118.94 676.06 1113.83 676.52 1111.33 676.06C1108.83 675.61 1105.47 674.49 1104.87 672.03Z" fill="#525252" stroke="#525252" stroke-width="29.7" stroke-linejoin="round"/>
<path d="M1059.68 672.03C1060.03 668.16 1066 667.5 1069.37 665.57C1072.74 663.65 1078.56 661.77 1082.28 659.12C1085.99 656.46 1089.81 651.58 1091.96 649.43C1094.11 647.28 1096.4 645.25 1098.42 642.98C1100.44 640.7 1103.52 638.07 1104.87 634.91C1106.23 631.74 1107.35 624.65 1108.1 620.38C1108.86 616.11 1108.19 611.53 1109.72 607.47C1111.24 603.41 1114.29 598.05 1117.79 594.56C1121.28 591.06 1125.86 587.83 1130.7 586.49C1135.54 585.14 1142.14 585.44 1146.84 586.49C1151.53 587.53 1156.77 590.46 1159.75 592.94C1162.73 595.43 1164.76 599.03 1166.2 602.63C1167.64 606.23 1168.91 612.22 1169.43 617.15C1169.95 622.09 1169.92 628.88 1169.43 633.29C1168.94 637.7 1167.81 642.18 1166.2 646.2C1164.59 650.23 1162.39 654.06 1159.75 657.5C1157.1 660.94 1153.16 664.35 1150.06 667.19C1146.97 670.02 1143.68 672.66 1140.38 675.26C1137.08 677.85 1130.94 681.97 1127.47 684.94C1124 687.91 1121.14 691.53 1117.79 694.62C1114.43 697.72 1110.98 702.19 1106.49 704.31C1102 706.42 1095.73 707.26 1090.35 707.53C1084.97 707.8 1077.18 705.28 1074.21 705.92C1071.23 706.56 1068.66 709.47 1067.75 712.38C1066.85 715.28 1066.38 725.27 1066.14 731.74C1065.9 738.22 1067.05 750.23 1066.14 755.95C1065.22 761.67 1059.68 772.09 1059.68 772.09C1059.68 772.09 1059.33 675.89 1059.68 672.03Z" fill="#5e5e5e" stroke="#5e5e5e" stroke-width="12" stroke-linejoin="round"/>
<path d="M1104.87 672.03C1104.28 669.56 1105.49 660.37 1106.49 655.89C1107.49 651.4 1110.82 647.54 1111.33 642.98C1111.84 638.41 1109.72 632.22 1109.72 626.84C1109.72 621.46 1109.45 615.54 1111.33 610.7C1113.21 605.86 1117.36 600.92 1121.01 597.79C1124.67 594.65 1129.71 592.25 1133.93 591.33C1138.14 590.41 1143.24 591.11 1146.84 592.14C1150.43 593.16 1154.22 594.84 1156.52 597.79C1158.82 600.73 1160.37 606.21 1161.36 610.7C1162.36 615.18 1162.98 622.5 1162.98 626.84C1162.98 631.17 1162.66 635.61 1161.36 639.75C1160.07 643.89 1157.18 649.13 1154.91 652.66C1152.63 656.19 1149.8 659.38 1146.84 662.34C1143.88 665.3 1140.86 668.44 1137.15 670.41C1133.45 672.39 1126.32 674.45 1122.63 675.26C1118.94 676.06 1113.83 676.52 1111.33 676.06C1108.83 675.61 1105.47 674.49 1104.87 672.03Z" fill="#5e5e5e" stroke="#5e5e5e" stroke-width="23.1" stroke-linejoin="round"/>
<path d="M1059.68 672.03C1060.03 668.16 1066 667.5 1069.37 665.57C1072.74 663.65 1078.56 661.77 1082.28 659.12C1085.99 656.46 1089.81 651.58 1091.96 649.43C1094.11 647.28 1096.4 645.25 1098.42 642.98C1100.44 640.7 1103.52 638.07 1104.87 634.91C1106.23 631.74 1107.35 624.65 1108.1 620.38C1108.86 616.11 1108.19 611.53 1109.72 607.47C1111.24 603.41 1114.29 598.05 1117.79 594.56C1121.28 591.06 1125.86 587.83 1130.7 586.49C1135.54 585.14 1142.14 585.44 1146.84 586.49C1151.53 587.53 1156.77 590.46 1159.75 592.94C1162.73 595.43 1164.76 599.03 1166.2 602.63C1167.64 606.23 1168.91 612.22 1169.43 617.15C1169.95 622.09 1169.92 628.88 1169.43 633.29C1168.94 637.7 1167.81 642.18 1166.2 646.2C1164.59 650.23 1162.39 654.06 1159.75 657.5C1157.1 660.94 1153.16 664.35 1150.06 667.19C1146.97 670.02 1143.68 672.66 1140.38 675.26C1137.08 677.85 1130.94 681.97 1127.47 684.94C1124 687.91 1121.14 691.53 1117.79 694.62C1114.43 697.72 1110.98 702.19 1106.49 704.31C1102 706.42 1095.73 707.26 1090.35 707.53C1084.97 707.8 1077.18 705.28 1074.21 705.92C1071.23 706.56 1068.66 709.47 1067.75 712.38C1066.85 715.28 1066.38 725.27 1066.14 731.74C1065.9 738.22 1067.05 750.23 1066.14 755.95C1065.22 761.67 1059.68 772.09 1059.68 772.09C1059.68 772.09 1059.33 675.89 1059.68 672.03Z" fill="#6b6b6b" stroke="#6b6b6b" stroke-width="6" stroke-linejoin="round"/>
<path d="M1104.87 672.03C1104.28 669.56 1105.49 660.37 1106.49 655.89C1107.49 651.4 1110.82 647.54 1111.33 642.98C1111.84 638.41 1109.72 632.22 1109.72 626.84C1109.72 621.46 1109.45 615.54 1111.33 610.7C1113.21 605.86 1117.36 600.92 1121.01 597.79C1124.67 594.65 1129.71 592.25 1133.93 591.33C1138.14 590.41 1143.24 591.11 1146.84 592.14C1150.43 593.16 1154.22 594.84 1156.52 597.79C1158.82 600.73 1160.37 606.21 1161.36 610.7C1162.36 615.18 1162.98 622.5 1162.98 626.84C1162.98 631.17 1162.66 635.61 1161.36 639.75C1160.07 643.89 1157.18 649.13 1154.91 652.66C1152.63 656.19 1149.8 659.38 1146.84 662.34C1143.88 665.3 1140.86 668.44 1137.15 670.41C1133.45 672.39 1126.32 674.45 1122.63 675.26C1118.94 676.06 1113.83 676.52 1111.33 676.06C1108.83 675.61 1105.47 674.49 1104.87 672.03Z" fill="#6b6b6b" stroke="#6b6b6b" stroke-width="17.6" stroke-linejoin="round"/>
<path d="M1059.68 672.03C1060.03 668.16 1066 667.5 1069.37 665.57C1072.74 663.65 1078.56 661.77 1082.28 659.12C1085.99 656.46 1089.81 651.58 1091.96 649.43C1094.11 647.28 1096.4 645.25 1098.42 642.98C1100.44 640.7 1103.52 638.07 1104.87 634.91C1106.23 631.74 1107.35 624.65 1108.1 620.38C1108.86 616.11 1108.19 611.53 1109.72 607.47C1111.24 603.41 1114.29 598.05 1117.79 594.56C1121.28 591.06 1125.86 587.83 1130.7 586.49C1135.54 585.14 1142.14 585.44 1146.84 586.49C1151.53 587.53 1156.77 590.46 1159.75 592.94C1162.73 595.43 1164.76 599.03 1166.2 602.63C1167.64 606.23 1168.91 612.22 1169.43 617.15C1169.95 622.09 1169.92 628.88 1169.43 633.29C1168.94 637.7 1167.81 642.18 1166.2 646.2C1164.59 650.23 1162.39 654.06 1159.75 657.5C1157.1 660.94 1153.16 664.35 1150.06 667.19C1146.97 670.02 1143.68 672.66 1140.38 675.26C1137.08 677.85 1130.94 681.97 1127.47 684.94C1124 687.91 1121.14 691.53 1117.79 694.62C1114.43 697.72 1110.98 702.19 1106.49 704.31C1102 706.42 1095.73 707.26 1090.35 707.53C1084.97 707.8 1077.18 705.28 1074.21 705.92C1071.23 706.56 1068.66 709.47 1067.75 712.38C1066.85 715.28 1066.38 725.27 1066.14 731.74C1065.9 738.22 1067.05 750.23 1066.14 755.95C1065.22 761.67 1059.68 772.09 1059.68 772.09C1059.68 772.09 1059.33 675.89 1059.68 672.03Z" fill="#7a7a7a"/>
<path d="M1104.87 672.03C1104.28 669.56 1105.49 660.37 1106.49 655.89C1107.49 651.4 1110.82 647.54 1111.33 642.98C1111.84 638.41 1109.72 632.22 1109.72 626.84C1109.72 621.46 1109.45 615.54 1111.33 610.7C1113.21 605.86 1117.36 600.92 1121.01 597.79C1124.67 594.65 1129.71 592.25 1133.93 591.33C1138.14 590.41 1143.24 591.11 1146.84 592.14C1150.43 593.16 1154.22 594.84 1156.52 597.79C1158.82 600.73 1160.37 606.21 1161.36 610.7C1162.36 615.18 1162.98 622.5 1162.98 626.84C1162.98 631.17 1162.66 635.61 1161.36 639.75C1160.07 643.89 1157.18 649.13 1154.91 652.66C1152.63 656.19 1149.8 659.38 1146.84 662.34C1143.88 665.3 1140.86 668.44 1137.15 670.41C1133.45 672.39 1126.32 674.45 1122.63 675.26C1118.94 676.06 1113.83 676.52 1111.33 676.06C1108.83 675.61 1105.47 674.49 1104.87 672.03Z" fill="#7a7a7a" stroke="#7a7a7a" stroke-width="13.2" stroke-linejoin="round"/>
<path d="M1104.87 672.03C1104.28 669.56 1105.49 660.37 1106.49 655.89C1107.49 651.4 1110.82 647.54 1111.33 642.98C1111.84 638.41 1109.72 632.22 1109.72 626.84C1109.72 621.46 1109.45 615.54 1111.33 610.7C1113.21 605.86 1117.36 600.92 1121.01 597.79C1124.67 594.65 1129.71 592.25 1133.93 591.33C1138.14 590.41 1143.24 591.11 1146.84 592.14C1150.43 593.16 1154.22 594.84 1156.52 597.79C1158.82 600.73 1160.37 606.21 1161.36 610.7C1162.36 615.18 1162.98 622.5 1162.98 626.84C1162.98 631.17 1162.66 635.61 1161.36 639.75C1160.07 643.89 1157.18 649.13 1154.91 652.66C1152.63 656.19 1149.8 659.38 1146.84 662.34C1143.88 665.3 1140.86 668.44 1137.15 670.41C1133.45 672.39 1126.32 674.45 1122.63 675.26C1118.94 676.06 1113.83 676.52 1111.33 676.06C1108.83 675.61 1105.47 674.49 1104.87 672.03Z" fill="#878787" stroke="#878787" stroke-width="9.35" stroke-linejoin="round"/>
<rect x="1058.07" y="675.26" width="12.1" height="96.84" fill="#878787"/>
<path d="M1104.87 672.03C1104.28 669.56 1105.49 660.37 1106.49 655.89C1107.49 651.4 1110.82 647.54 1111.33 642.98C1111.84 638.41 1109.72 632.22 1109.72 626.84C1109.72 621.46 1109.45 615.54 1111.33 610.7C1113.21 605.86 1117.36 600.92 1121.01 597.79C1124.67 594.65 1129.71 592.25 1133.93 591.33C1138.14 590.41 1143.24 591.11 1146.84 592.14C1150.43 593.16 1154.22 594.84 1156.52 597.79C1158.82 600.73 1160.37 606.21 1161.36 610.7C1162.36 615.18 1162.98 622.5 1162.98 626.84C1162.98 631.17 1162.66 635.61 1161.36 639.75C1160.07 643.89 1157.18 649.13 1154.91 652.66C1152.63 656.19 1149.8 659.38 1146.84 662.34C1143.88 665.3 1140.86 668.44 1137.15 670.41C1133.45 672.39 1126.32 674.45 1122.63 675.26C1118.94 676.06 1113.83 676.52 1111.33 676.06C1108.83 675.61 1105.47 674.49 1104.87 672.03Z" fill="#999999" stroke="#999999" stroke-width="3.3" stroke-linejoin="round"/>
<path d="M1093.58 684.94C1093.58 684.94 1100.3 680.1 1103.26 680.1C1106.22 680.1 1111.33 684.94 1111.33 684.94C1111.33 684.94 1110.52 693.01 1108.1 694.62C1105.68 696.24 1099.23 696.24 1096.8 694.62C1094.38 693.01 1093.58 684.94 1093.58 684.94Z" fill="#999999"/>
<path d="M1104.87 672.03C1104.28 669.56 1105.49 660.37 1106.49 655.89C1107.49 651.4 1110.82 647.54 1111.33 642.98C1111.84 638.41 1109.72 632.22 1109.72 626.84C1109.72 621.46 1109.45 615.54 1111.33 610.7C1113.21 605.86 1117.36 600.92 1121.01 597.79C1124.67 594.65 1129.71 592.25 1133.93 591.33C1138.14 590.41 1143.24 591.11 1146.84 592.14C1150.43 593.16 1154.22 594.84 1156.52 597.79C1158.82 600.73 1160.37 606.21 1161.36 610.7C1162.36 615.18 1162.98 622.5 1162.98 626.84C1162.98 631.17 1162.66 635.61 1161.36 639.75C1160.07 643.89 1157.18 649.13 1154.91 652.66C1152.63 656.19 1149.8 659.38 1146.84 662.34C1143.88 665.3 1140.86 668.44 1137.15 670.41C1133.45 672.39 1126.32 674.45 1122.63 675.26C1118.94 676.06 1113.83 676.52 1111.33 676.06C1108.83 675.61 1105.47 674.49 1104.87 672.03Z" fill="#adadad"/>
<rect x="1058.07" y="683.32" width="8.88" height="80.7" fill="#adadad"/>
<path d="M1127.47 610.7C1128.24 607.34 1131.24 604.24 1133.93 602.63C1136.62 601.01 1140.65 600.48 1143.61 601.01C1146.57 601.55 1150.37 603 1151.68 605.86C1152.99 608.71 1153.02 615.56 1152.49 620.38C1151.95 625.2 1149.51 631.14 1148.45 634.91C1147.39 638.68 1146.43 643.31 1145.22 646.2C1144.02 649.1 1141.62 653.24 1140.38 654.27C1139.14 655.31 1136.57 655.51 1135.54 654.27C1134.51 653.03 1132.57 647.98 1132.31 644.59C1132.05 641.2 1134.46 636.79 1133.93 633.29C1133.39 629.8 1130.07 627.08 1129.08 623.61C1128.09 620.14 1126.69 614.05 1127.47 610.7Z" fill="#c2c2c2" stroke="#c2c2c2" stroke-width="4.4" stroke-linejoin="round"/>
<rect x="1058.07" y="691.39" width="5.65" height="16.14" fill="#c2c2c2"/>
<path d="M1127.47 610.7C1128.24 607.34 1131.24 604.24 1133.93 602.63C1136.62 601.01 1140.65 600.48 1143.61 601.01C1146.57 601.55 1150.37 603 1151.68 605.86C1152.99 608.71 1153.02 615.56 1152.49 620.38C1151.95 625.2 1149.51 631.14 1148.45 634.91C1147.39 638.68 1146.43 643.31 1145.22 646.2C1144.02 649.1 1141.62 653.24 1140.38 654.27C1139.14 655.31 1136.57 655.51 1135.54 654.27C1134.51 653.03 1132.57 647.98 1132.31 644.59C1132.05 641.2 1134.46 636.79 1133.93 633.29C1133.39 629.8 1130.07 627.08 1129.08 623.61C1128.09 620.14 1126.69 614.05 1127.47 610.7Z" fill="#d6d6d6"/>
<ellipse cx="1061.62" cy="782.58" rx="2.26" ry="2.26" fill="#d6d6d6" stroke="#d6d6d6" stroke-width="6.8" stroke-linejoin="round"/>
<path d="M1130.7 613.93C1130.97 610.29 1135.82 606.39 1138.77 605.05C1141.72 603.71 1148.45 605.86 1148.45 605.86C1148.45 605.86 1150.45 614.45 1150.06 618.77C1149.68 623.09 1147.22 629.48 1146.03 633.29C1144.84 637.11 1142.96 643.19 1141.99 644.59C1141.03 645.99 1137.15 646.2 1137.15 646.2C1137.15 646.2 1136.35 637.61 1136.35 634.91C1136.35 632.2 1137.86 629.45 1137.15 626.84C1136.45 624.23 1130.43 617.56 1130.7 613.93Z" fill="#e6e6e6"/>
<ellipse cx="1061.62" cy="782.58" rx="2.26" ry="2.26" fill="#e6e6e6" stroke="#e6e6e6" stroke-width="3.2" stroke-linejoin="round"/>
<path d="M1131.5 613.93C1132.31 611.86 1136.08 607.07 1138.77 605.86C1141.46 604.64 1147.64 606.66 1147.64 606.66C1147.64 606.66 1148.85 613.79 1148.45 617.15C1148.05 620.52 1145.22 626.84 1145.22 626.84C1145.22 626.84 1140.72 626.27 1138.77 625.22C1136.81 624.18 1134.32 622.25 1133.12 620.38C1131.92 618.52 1130.7 615.99 1131.5 613.93Z" fill="#ffffff"/>
<ellipse cx="1061.62" cy="782.58" rx="2.26" ry="2.26" fill="#ffffff"/>
</g></g></g>
<path d="M1302.5 543.5 V783.5" fill="none" stroke="#444" stroke-width="1"/>
<path d="M1062 543.5 H1302.5" fill="none" stroke="#333" stroke-width="1"/>
<path d="M1062 542.9 V783.5 H1303" fill="none" stroke="#000" stroke-width="1.5"/>
<path d="M1062.35 783.5v3.3M1070.82 783.5v3.3M1077.38 783.5v3.3M1082.75 783.5v3.3M1087.28 783.5v3.3M1091.21 783.5v3.3M1094.67 783.5v3.3M1097.77 783.5v6.4M1118.17 783.5v3.3M1130.09 783.5v3.3M1138.56 783.5v3.3M1145.12 783.5v3.3M1150.49 783.5v3.3M1155.02 783.5v3.3M1158.95 783.5v3.3M1162.42 783.5v3.3M1165.52 783.5v6.4M1185.91 783.5v3.3M1197.84 783.5v3.3M1206.3 783.5v3.3M1212.86 783.5v3.3M1218.23 783.5v3.3M1222.76 783.5v3.3M1226.69 783.5v3.3M1230.16 783.5v3.3M1233.26 783.5v6.4M1253.65 783.5v3.3M1265.58 783.5v3.3M1274.04 783.5v3.3M1280.6 783.5v3.3M1285.97 783.5v3.3M1290.5 783.5v3.3M1294.43 783.5v3.3M1297.9 783.5v3.3M1301 783.5v6" stroke="#000" stroke-width="1.15" fill="none"/>
<text transform="translate(1098.77 803.8) scale(0.8173 1)" font-size="8.8" fill="#0a0a0a" stroke="#0a0a0a" stroke-width="0.28">10</text>
<text transform="translate(1107.57 798.8) scale(0.8448 1)" font-size="8.3" fill="#0a0a0a" stroke="#0a0a0a" stroke-width="0.28">1</text>
<text transform="translate(1166.52 803.8) scale(0.8173 1)" font-size="8.8" fill="#0a0a0a" stroke="#0a0a0a" stroke-width="0.28">10</text>
<text transform="translate(1175.32 798.8) scale(0.8448 1)" font-size="8.3" fill="#0a0a0a" stroke="#0a0a0a" stroke-width="0.28">2</text>
<text transform="translate(1234.26 803.8) scale(0.8173 1)" font-size="8.8" fill="#0a0a0a" stroke="#0a0a0a" stroke-width="0.28">10</text>
<text transform="translate(1243.06 798.8) scale(0.8448 1)" font-size="8.3" fill="#0a0a0a" stroke="#0a0a0a" stroke-width="0.28">3</text>
<text transform="translate(1290.5 803.8) scale(0.8173 1)" font-size="8.8" fill="#0a0a0a" stroke="#0a0a0a" stroke-width="0.28">10</text>
<text transform="translate(1299.3 798.8) scale(0.8448 1)" font-size="8.3" fill="#0a0a0a" stroke="#0a0a0a" stroke-width="0.28">4</text>
<text transform="translate(1040.5 752.82) scale(0.8173 1)" font-size="8.8" fill="#0a0a0a" stroke="#0a0a0a" stroke-width="0.28">10</text>
<text transform="translate(1049.3 747.82) scale(0.8448 1)" font-size="8.3" fill="#0a0a0a" stroke="#0a0a0a" stroke-width="0.28">1</text>
<text transform="translate(1040.5 685.24) scale(0.8173 1)" font-size="8.8" fill="#0a0a0a" stroke="#0a0a0a" stroke-width="0.28">10</text>
<text transform="translate(1049.3 680.24) scale(0.8448 1)" font-size="8.3" fill="#0a0a0a" stroke="#0a0a0a" stroke-width="0.28">2</text>
<text transform="translate(1040.5 617.67) scale(0.8173 1)" font-size="8.8" fill="#0a0a0a" stroke="#0a0a0a" stroke-width="0.28">10</text>
<text transform="translate(1049.3 612.67) scale(0.8448 1)" font-size="8.3" fill="#0a0a0a" stroke="#0a0a0a" stroke-width="0.28">3</text>
<text transform="translate(1040.5 557.8) scale(0.8173 1)" font-size="8.8" fill="#0a0a0a" stroke="#0a0a0a" stroke-width="0.28">10</text>
<text transform="translate(1049.3 552.8) scale(0.8448 1)" font-size="8.3" fill="#0a0a0a" stroke="#0a0a0a" stroke-width="0.28">4</text>
<path d="M1062 782.45h-3.3M1062 774h-3.3M1062 767.46h-3.3M1062 762.11h-3.3M1062 757.58h-3.3M1062 753.66h-3.3M1062 750.21h-3.3M1062 747.12h-6.4M1062 726.77h-3.3M1062 714.88h-3.3M1062 706.43h-3.3M1062 699.88h-3.3M1062 694.53h-3.3M1062 690.01h-3.3M1062 686.09h-3.3M1062 682.64h-3.3M1062 679.54h-6.4M1062 659.2h-3.3M1062 647.3h-3.3M1062 638.86h-3.3M1062 632.31h-3.3M1062 626.96h-3.3M1062 622.44h-3.3M1062 618.52h-3.3M1062 615.06h-3.3M1062 611.97h-6.4M1062 591.63h-3.3M1062 579.73h-3.3M1062 571.29h-3.3M1062 564.74h-3.3M1062 559.39h-3.3M1062 554.87h-3.3M1062 550.95h-3.3M1062 547.49h-3.3M1062 544h-6" stroke="#000" stroke-width="1.1" fill="none"/>
<text transform="translate(1179.25 826.7)" font-size="10.15" text-anchor="middle" fill="#0a0a0a" stroke="#0a0a0a" stroke-width="0.28">488 530  30-A :: FITC CD34 488 530  30-A</text>
<text transform="translate(1013.4 663.5) rotate(-90)" font-size="10" text-anchor="middle" fill="#0a0a0a" stroke="#0a0a0a" stroke-width="0.28">561 586_15-A :: PE CD16_32 561 586_15-A</text>
<rect x="1067" y="741.7" width="29" height="34.3" fill="#dfe0f3" stroke="none" stroke-width="1"/>
<rect x="1102.5" y="580.5" width="92" height="96" fill="none" stroke="#222" stroke-width="1"/>
<rect x="1112.5" y="676.5" width="80" height="85" fill="none" stroke="#222" stroke-width="1"/>
<rect x="1062.5" y="708.5" width="50" height="75" fill="none" stroke="#222" stroke-width="1"/>
<text transform="translate(1201.75 627.2) scale(0.9375 1)" font-size="9.6" fill="#0a0a0a" stroke="#0a0a0a" stroke-width="0.28">GMP</text>
<text transform="translate(1211.3 641.5)" font-size="9.7" text-anchor="middle" fill="#0a0a0a" stroke="#0a0a0a" stroke-width="0.28">74.0</text>
<text transform="translate(1197.9 712.4) scale(0.9375 1)" font-size="9.6" fill="#0a0a0a" stroke="#0a0a0a" stroke-width="0.28">CMP</text>
<text transform="translate(1207.3 726.5)" font-size="9.7" text-anchor="middle" fill="#0a0a0a" stroke="#0a0a0a" stroke-width="0.28">3.67</text>
<text transform="translate(1070.85 756) scale(0.9375 1)" font-size="9.6" fill="#0a0a0a" stroke="#0a0a0a" stroke-width="0.28">MEP</text>
<text transform="translate(1080 770.1)" font-size="9.7" text-anchor="middle" fill="#0a0a0a" stroke="#0a0a0a" stroke-width="0.28">8.58</text>
<path d="M963 744.5 V863.7 H1082.5" fill="none" stroke="#1a1a1a" stroke-width="3.3" stroke-linejoin="miter"/>
<polygon points="963,706 974.3,746.5 951.7,746.5" fill="#1a1a1a"/>
<polygon points="1121,863.7 1080.5,852.4 1080.5,875" fill="#1a1a1a"/>
<text transform="translate(1131.9 874)" font-size="39.97" fill="#111">Cd34</text>
<text transform="translate(974.12 691.5) rotate(-90) scale(0.9569 1)" font-size="42.15" fill="#111">Cd16/32</text>
</g>
<g id="plot8">
<clipPath id="cp8"><rect x="1466.5" y="544" width="239.5" height="239"/></clipPath>
<clipPath id="bc8"><path d="M1484.05 633.29C1484.05 633.29 1490.8 629.96 1492.12 628.45C1493.44 626.94 1494.31 622.12 1495.35 620.38C1496.39 618.64 1500.21 613.38 1501.8 612.31C1503.4 611.25 1507.99 610.51 1509.87 610.7C1511.76 610.89 1516.44 612.8 1517.94 613.93C1519.45 615.05 1522.19 619.35 1522.79 620.38C1523.38 621.41 1524.69 624.07 1524.4 625.22C1524.11 626.38 1520.27 631.51 1519.56 633.29C1518.84 635.08 1517.57 639.86 1517.94 641.36C1518.32 642.87 1521.47 646.02 1522.79 646.2C1524.1 646.39 1528.11 644.11 1529.24 642.98C1530.37 641.85 1532.28 638.03 1532.47 636.52C1532.66 635.01 1530.48 631.19 1530.86 630.06C1531.23 628.93 1534.37 627.13 1535.7 626.84C1537.02 626.54 1543.13 627.02 1545.38 626.84C1547.63 626.65 1552.81 625.22 1555.06 625.22C1557.32 625.22 1562.5 626.65 1564.75 626.84C1567 627.02 1572.74 627.59 1574.43 626.84C1576.13 626.08 1577.77 621.42 1579.27 620.38C1580.78 619.35 1585.46 617.77 1587.34 617.96C1589.23 618.15 1593.81 621.01 1595.41 621.99C1597.02 622.98 1600.63 625.42 1601.87 626.84C1603.11 628.25 1605.87 632.88 1606.71 634.91C1607.56 636.93 1609.03 643.85 1609.94 646.2C1610.85 648.56 1614.04 653.47 1614.78 655.89C1615.52 658.3 1615.65 664.77 1616.39 667.19C1617.14 669.6 1621.05 674.85 1621.24 676.87C1621.42 678.89 1618.69 683.4 1618.01 684.94C1617.32 686.48 1615.67 689.97 1614.78 691.39C1613.89 692.82 1610.78 696.17 1609.94 697.85C1609.1 699.53 1607.22 705.68 1606.71 707.53C1606.21 709.39 1605.81 713.82 1605.1 715.6C1604.38 717.39 1601.38 721.79 1600.26 723.67C1599.13 725.56 1597.3 730.8 1595.41 731.74C1593.53 732.68 1586.47 731.38 1584.12 731.74C1581.76 732.11 1576.34 734.8 1574.43 734.97C1572.52 735.14 1568.15 734.07 1566.36 733.36C1564.58 732.64 1560.36 728.7 1558.29 728.52C1556.22 728.33 1550.97 731.41 1548.61 731.74C1546.25 732.08 1537.03 731.5 1535.7 731.74C1534.36 731.99 1530.86 734.97 1530.86 734.97C1530.86 734.97 1531.66 737.97 1532.47 738.2C1533.28 738.43 1540.65 737.26 1542.15 738.2C1543.66 739.14 1545.01 744.42 1545.38 746.27C1545.75 748.11 1545.38 754.34 1545.38 754.34C1545.38 754.34 1541.34 755.14 1540.54 754.34C1539.74 753.54 1538.44 747.77 1537.31 746.27C1536.18 744.76 1531.96 742.22 1530.86 741.43C1529.75 740.64 1526.01 738.2 1526.01 738.2C1526.01 738.2 1525.15 744.57 1524.4 746.27C1523.65 747.96 1519.56 752.72 1519.56 752.72C1519.56 752.72 1515.98 746.45 1514.72 744.65C1513.46 742.86 1509.07 737.67 1508.26 736.58C1507.45 735.5 1506.32 732.17 1505.03 731.74C1503.74 731.31 1496.09 732.11 1493.73 731.74C1491.38 731.38 1485.45 729.29 1484.05 728.52C1482.65 727.74 1479.8 725.16 1479.21 723.67C1478.62 722.19 1477.6 715.01 1477.6 712.38C1477.6 709.74 1479.21 703.37 1479.21 701.08C1479.21 698.79 1477.6 691.39 1477.6 691.39C1477.6 691.39 1474.57 697.45 1474.37 699.46C1474.17 701.48 1474.67 719.85 1474.37 723.67C1474.06 727.5 1471.33 736.05 1471.14 739.81C1470.95 743.58 1472.48 752.18 1472.75 755.95C1473.02 759.73 1474.37 785 1474.37 785C1474.37 785 1461.46 785 1461.46 785C1461.46 785 1461.46 630.06 1461.46 630.06C1461.46 630.06 1470.33 630.06 1470.33 630.06C1470.33 630.06 1470.91 635.02 1471.14 636.52C1471.36 638.02 1472.24 643.97 1472.75 646.2C1473.27 648.44 1475.23 654.87 1475.98 657.5C1476.73 660.14 1478.43 667.09 1479.21 668.8C1479.99 670.51 1484.05 675.26 1484.05 675.26C1484.05 675.26 1487.71 672.7 1488.89 672.03C1490.07 671.35 1494.16 669.99 1495.35 668.8C1496.54 667.61 1500.74 661.25 1501.8 659.12C1502.87 656.99 1505.03 651.12 1505.03 649.43C1505.03 647.75 1503.23 643.87 1501.8 642.98C1500.38 642.08 1493.73 641.85 1492.12 641.36C1490.51 640.88 1486.51 638.98 1485.66 638.13C1484.82 637.29 1484.05 633.29 1484.05 633.29Z"/><ellipse cx="1591.38" cy="748.69" rx="4.52" ry="4.2"/><ellipse cx="1521.17" cy="776.13" rx="4.84" ry="6.46"/><ellipse cx="1585.73" cy="782.1" rx="17.75" ry="3.55"/></clipPath>
<g clip-path="url(#cp8)"><g filter="url(#jet2)">
<g fill="#383838"><path d="M1484.05 633.29C1484.05 633.29 1490.8 629.96 1492.12 628.45C1493.44 626.94 1494.31 622.12 1495.35 620.38C1496.39 618.64 1500.21 613.38 1501.8 612.31C1503.4 611.25 1507.99 610.51 1509.87 610.7C1511.76 610.89 1516.44 612.8 1517.94 613.93C1519.45 615.05 1522.19 619.35 1522.79 620.38C1523.38 621.41 1524.69 624.07 1524.4 625.22C1524.11 626.38 1520.27 631.51 1519.56 633.29C1518.84 635.08 1517.57 639.86 1517.94 641.36C1518.32 642.87 1521.47 646.02 1522.79 646.2C1524.1 646.39 1528.11 644.11 1529.24 642.98C1530.37 641.85 1532.28 638.03 1532.47 636.52C1532.66 635.01 1530.48 631.19 1530.86 630.06C1531.23 628.93 1534.37 627.13 1535.7 626.84C1537.02 626.54 1543.13 627.02 1545.38 626.84C1547.63 626.65 1552.81 625.22 1555.06 625.22C1557.32 625.22 1562.5 626.65 1564.75 626.84C1567 627.02 1572.74 627.59 1574.43 626.84C1576.13 626.08 1577.77 621.42 1579.27 620.38C1580.78 619.35 1585.46 617.77 1587.34 617.96C1589.23 618.15 1593.81 621.01 1595.41 621.99C1597.02 622.98 1600.63 625.42 1601.87 626.84C1603.11 628.25 1605.87 632.88 1606.71 634.91C1607.56 636.93 1609.03 643.85 1609.94 646.2C1610.85 648.56 1614.04 653.47 1614.78 655.89C1615.52 658.3 1615.65 664.77 1616.39 667.19C1617.14 669.6 1621.05 674.85 1621.24 676.87C1621.42 678.89 1618.69 683.4 1618.01 684.94C1617.32 686.48 1615.67 689.97 1614.78 691.39C1613.89 692.82 1610.78 696.17 1609.94 697.85C1609.1 699.53 1607.22 705.68 1606.71 707.53C1606.21 709.39 1605.81 713.82 1605.1 715.6C1604.38 717.39 1601.38 721.79 1600.26 723.67C1599.13 725.56 1597.3 730.8 1595.41 731.74C1593.53 732.68 1586.47 731.38 1584.12 731.74C1581.76 732.11 1576.34 734.8 1574.43 734.97C1572.52 735.14 1568.15 734.07 1566.36 733.36C1564.58 732.64 1560.36 728.7 1558.29 728.52C1556.22 728.33 1550.97 731.41 1548.61 731.74C1546.25 732.08 1537.03 731.5 1535.7 731.74C1534.36 731.99 1530.86 734.97 1530.86 734.97C1530.86 734.97 1531.66 737.97 1532.47 738.2C1533.28 738.43 1540.65 737.26 1542.15 738.2C1543.66 739.14 1545.01 744.42 1545.38 746.27C1545.75 748.11 1545.38 754.34 1545.38 754.34C1545.38 754.34 1541.34 755.14 1540.54 754.34C1539.74 753.54 1538.44 747.77 1537.31 746.27C1536.18 744.76 1531.96 742.22 1530.86 741.43C1529.75 740.64 1526.01 738.2 1526.01 738.2C1526.01 738.2 1525.15 744.57 1524.4 746.27C1523.65 747.96 1519.56 752.72 1519.56 752.72C1519.56 752.72 1515.98 746.45 1514.72 744.65C1513.46 742.86 1509.07 737.67 1508.26 736.58C1507.45 735.5 1506.32 732.17 1505.03 731.74C1503.74 731.31 1496.09 732.11 1493.73 731.74C1491.38 731.38 1485.45 729.29 1484.05 728.52C1482.65 727.74 1479.8 725.16 1479.21 723.67C1478.62 722.19 1477.6 715.01 1477.6 712.38C1477.6 709.74 1479.21 703.37 1479.21 701.08C1479.21 698.79 1477.6 691.39 1477.6 691.39C1477.6 691.39 1474.57 697.45 1474.37 699.46C1474.17 701.48 1474.67 719.85 1474.37 723.67C1474.06 727.5 1471.33 736.05 1471.14 739.81C1470.95 743.58 1472.48 752.18 1472.75 755.95C1473.02 759.73 1474.37 785 1474.37 785C1474.37 785 1461.46 785 1461.46 785C1461.46 785 1461.46 630.06 1461.46 630.06C1461.46 630.06 1470.33 630.06 1470.33 630.06C1470.33 630.06 1470.91 635.02 1471.14 636.52C1471.36 638.02 1472.24 643.97 1472.75 646.2C1473.27 648.44 1475.23 654.87 1475.98 657.5C1476.73 660.14 1478.43 667.09 1479.21 668.8C1479.99 670.51 1484.05 675.26 1484.05 675.26C1484.05 675.26 1487.71 672.7 1488.89 672.03C1490.07 671.35 1494.16 669.99 1495.35 668.8C1496.54 667.61 1500.74 661.25 1501.8 659.12C1502.87 656.99 1505.03 651.12 1505.03 649.43C1505.03 647.75 1503.23 643.87 1501.8 642.98C1500.38 642.08 1493.73 641.85 1492.12 641.36C1490.51 640.88 1486.51 638.98 1485.66 638.13C1484.82 637.29 1484.05 633.29 1484.05 633.29Z"/><ellipse cx="1591.38" cy="748.69" rx="4.52" ry="4.2"/><ellipse cx="1521.17" cy="776.13" rx="4.84" ry="6.46"/><ellipse cx="1585.73" cy="782.1" rx="17.75" ry="3.55"/></g>
<g clip-path="url(#bc8)">
<path d="M1503.42 691.39C1502.94 687.08 1503.69 682.52 1505.03 678.48C1506.38 674.45 1508.42 670.25 1511.49 667.19C1514.56 664.12 1521.95 659.65 1526.01 657.5C1530.08 655.35 1534.62 654.27 1538.93 652.66C1543.23 651.05 1547.53 649.43 1551.84 647.82C1556.14 646.2 1560.51 644.3 1564.75 642.98C1568.98 641.65 1573.36 640.02 1577.66 639.75C1581.96 639.48 1587.1 640.37 1590.57 641.36C1594.04 642.35 1597.84 643.52 1600.26 646.2C1602.67 648.89 1603.58 654.22 1605.1 657.5C1606.61 660.78 1609.27 663.64 1609.94 667.19C1610.6 670.73 1610.74 678 1609.94 683.32C1609.14 688.65 1606.89 696.11 1605.1 699.46C1603.31 702.82 1600.38 705.73 1597.03 707.53C1593.68 709.34 1588.38 709.96 1584.12 710.76C1579.85 711.56 1575.51 711.84 1571.2 712.38C1566.9 712.91 1562.6 713.99 1558.29 713.99C1553.99 713.99 1549.64 713.18 1545.38 712.38C1541.12 711.58 1536.77 709.15 1532.47 709.15C1528.17 709.15 1523.59 712.64 1519.56 712.38C1515.52 712.11 1510.76 710.78 1508.26 707.53C1505.76 704.29 1503.9 695.71 1503.42 691.39Z" fill="#454545" stroke="#454545" stroke-width="19.8" stroke-linejoin="round"/>
<ellipse cx="1540.54" cy="634.91" rx="5.16" ry="5.16" fill="#454545" stroke="#454545" stroke-width="19.8" stroke-linejoin="round"/>
<ellipse cx="1506.65" cy="634.91" rx="3.55" ry="3.55" fill="#454545" stroke="#454545" stroke-width="19.8" stroke-linejoin="round"/>
<ellipse cx="1595.41" cy="631.68" rx="2.91" ry="2.91" fill="#454545" stroke="#454545" stroke-width="19.8" stroke-linejoin="round"/>
<ellipse cx="1572.82" cy="722.06" rx="5.16" ry="4.84" fill="#454545" stroke="#454545" stroke-width="19.8" stroke-linejoin="round"/>
<ellipse cx="1492.12" cy="684.94" rx="2.91" ry="2.91" fill="#454545" stroke="#454545" stroke-width="19.8" stroke-linejoin="round"/>
<path d="M1503.42 691.39C1502.94 687.08 1503.69 682.52 1505.03 678.48C1506.38 674.45 1508.42 670.25 1511.49 667.19C1514.56 664.12 1521.95 659.65 1526.01 657.5C1530.08 655.35 1534.62 654.27 1538.93 652.66C1543.23 651.05 1547.53 649.43 1551.84 647.82C1556.14 646.2 1560.51 644.3 1564.75 642.98C1568.98 641.65 1573.36 640.02 1577.66 639.75C1581.96 639.48 1587.1 640.37 1590.57 641.36C1594.04 642.35 1597.84 643.52 1600.26 646.2C1602.67 648.89 1603.58 654.22 1605.1 657.5C1606.61 660.78 1609.27 663.64 1609.94 667.19C1610.6 670.73 1610.74 678 1609.94 683.32C1609.14 688.65 1606.89 696.11 1605.1 699.46C1603.31 702.82 1600.38 705.73 1597.03 707.53C1593.68 709.34 1588.38 709.96 1584.12 710.76C1579.85 711.56 1575.51 711.84 1571.2 712.38C1566.9 712.91 1562.6 713.99 1558.29 713.99C1553.99 713.99 1549.64 713.18 1545.38 712.38C1541.12 711.58 1536.77 709.15 1532.47 709.15C1528.17 709.15 1523.59 712.64 1519.56 712.38C1515.52 712.11 1510.76 710.78 1508.26 707.53C1505.76 704.29 1503.9 695.71 1503.42 691.39Z" fill="#525252" stroke="#525252" stroke-width="13.2" stroke-linejoin="round"/>
<ellipse cx="1540.54" cy="634.91" rx="5.16" ry="5.16" fill="#525252" stroke="#525252" stroke-width="13.2" stroke-linejoin="round"/>
<ellipse cx="1506.65" cy="634.91" rx="3.55" ry="3.55" fill="#525252" stroke="#525252" stroke-width="13.2" stroke-linejoin="round"/>
<ellipse cx="1595.41" cy="631.68" rx="2.91" ry="2.91" fill="#525252" stroke="#525252" stroke-width="13.2" stroke-linejoin="round"/>
<ellipse cx="1572.82" cy="722.06" rx="5.16" ry="4.84" fill="#525252" stroke="#525252" stroke-width="13.2" stroke-linejoin="round"/>
<ellipse cx="1492.12" cy="684.94" rx="2.91" ry="2.91" fill="#525252" stroke="#525252" stroke-width="13.2" stroke-linejoin="round"/>
<path d="M1503.42 691.39C1502.94 687.08 1503.69 682.52 1505.03 678.48C1506.38 674.45 1508.42 670.25 1511.49 667.19C1514.56 664.12 1521.95 659.65 1526.01 657.5C1530.08 655.35 1534.62 654.27 1538.93 652.66C1543.23 651.05 1547.53 649.43 1551.84 647.82C1556.14 646.2 1560.51 644.3 1564.75 642.98C1568.98 641.65 1573.36 640.02 1577.66 639.75C1581.96 639.48 1587.1 640.37 1590.57 641.36C1594.04 642.35 1597.84 643.52 1600.26 646.2C1602.67 648.89 1603.58 654.22 1605.1 657.5C1606.61 660.78 1609.27 663.64 1609.94 667.19C1610.6 670.73 1610.74 678 1609.94 683.32C1609.14 688.65 1606.89 696.11 1605.1 699.46C1603.31 702.82 1600.38 705.73 1597.03 707.53C1593.68 709.34 1588.38 709.96 1584.12 710.76C1579.85 711.56 1575.51 711.84 1571.2 712.38C1566.9 712.91 1562.6 713.99 1558.29 713.99C1553.99 713.99 1549.64 713.18 1545.38 712.38C1541.12 711.58 1536.77 709.15 1532.47 709.15C1528.17 709.15 1523.59 712.64 1519.56 712.38C1515.52 712.11 1510.76 710.78 1508.26 707.53C1505.76 704.29 1503.9 695.71 1503.42 691.39Z" fill="#5e5e5e" stroke="#5e5e5e" stroke-width="8.8" stroke-linejoin="round"/>
<ellipse cx="1540.54" cy="634.91" rx="5.16" ry="5.16" fill="#5e5e5e" stroke="#5e5e5e" stroke-width="8.8" stroke-linejoin="round"/>
<ellipse cx="1506.65" cy="634.91" rx="3.55" ry="3.55" fill="#5e5e5e" stroke="#5e5e5e" stroke-width="8.8" stroke-linejoin="round"/>
<ellipse cx="1595.41" cy="631.68" rx="2.91" ry="2.91" fill="#5e5e5e" stroke="#5e5e5e" stroke-width="8.8" stroke-linejoin="round"/>
<ellipse cx="1572.82" cy="722.06" rx="5.16" ry="4.84" fill="#5e5e5e" stroke="#5e5e5e" stroke-width="8.8" stroke-linejoin="round"/>
<ellipse cx="1492.12" cy="684.94" rx="2.91" ry="2.91" fill="#5e5e5e" stroke="#5e5e5e" stroke-width="8.8" stroke-linejoin="round"/>
<path d="M1503.42 691.39C1502.94 687.08 1503.69 682.52 1505.03 678.48C1506.38 674.45 1508.42 670.25 1511.49 667.19C1514.56 664.12 1521.95 659.65 1526.01 657.5C1530.08 655.35 1534.62 654.27 1538.93 652.66C1543.23 651.05 1547.53 649.43 1551.84 647.82C1556.14 646.2 1560.51 644.3 1564.75 642.98C1568.98 641.65 1573.36 640.02 1577.66 639.75C1581.96 639.48 1587.1 640.37 1590.57 641.36C1594.04 642.35 1597.84 643.52 1600.26 646.2C1602.67 648.89 1603.58 654.22 1605.1 657.5C1606.61 660.78 1609.27 663.64 1609.94 667.19C1610.6 670.73 1610.74 678 1609.94 683.32C1609.14 688.65 1606.89 696.11 1605.1 699.46C1603.31 702.82 1600.38 705.73 1597.03 707.53C1593.68 709.34 1588.38 709.96 1584.12 710.76C1579.85 711.56 1575.51 711.84 1571.2 712.38C1566.9 712.91 1562.6 713.99 1558.29 713.99C1553.99 713.99 1549.64 713.18 1545.38 712.38C1541.12 711.58 1536.77 709.15 1532.47 709.15C1528.17 709.15 1523.59 712.64 1519.56 712.38C1515.52 712.11 1510.76 710.78 1508.26 707.53C1505.76 704.29 1503.9 695.71 1503.42 691.39Z" fill="#6b6b6b" stroke="#6b6b6b" stroke-width="4.4" stroke-linejoin="round"/>
<ellipse cx="1540.54" cy="634.91" rx="5.16" ry="5.16" fill="#6b6b6b" stroke="#6b6b6b" stroke-width="4.4" stroke-linejoin="round"/>
<ellipse cx="1506.65" cy="634.91" rx="3.55" ry="3.55" fill="#6b6b6b" stroke="#6b6b6b" stroke-width="4.4" stroke-linejoin="round"/>
<ellipse cx="1595.41" cy="631.68" rx="2.91" ry="2.91" fill="#6b6b6b" stroke="#6b6b6b" stroke-width="4.4" stroke-linejoin="round"/>
<ellipse cx="1572.82" cy="722.06" rx="5.16" ry="4.84" fill="#6b6b6b" stroke="#6b6b6b" stroke-width="4.4" stroke-linejoin="round"/>
<ellipse cx="1492.12" cy="684.94" rx="2.91" ry="2.91" fill="#6b6b6b" stroke="#6b6b6b" stroke-width="4.4" stroke-linejoin="round"/>
<path d="M1503.42 691.39C1502.94 687.08 1503.69 682.52 1505.03 678.48C1506.38 674.45 1508.42 670.25 1511.49 667.19C1514.56 664.12 1521.95 659.65 1526.01 657.5C1530.08 655.35 1534.62 654.27 1538.93 652.66C1543.23 651.05 1547.53 649.43 1551.84 647.82C1556.14 646.2 1560.51 644.3 1564.75 642.98C1568.98 641.65 1573.36 640.02 1577.66 639.75C1581.96 639.48 1587.1 640.37 1590.57 641.36C1594.04 642.35 1597.84 643.52 1600.26 646.2C1602.67 648.89 1603.58 654.22 1605.1 657.5C1606.61 660.78 1609.27 663.64 1609.94 667.19C1610.6 670.73 1610.74 678 1609.94 683.32C1609.14 688.65 1606.89 696.11 1605.1 699.46C1603.31 702.82 1600.38 705.73 1597.03 707.53C1593.68 709.34 1588.38 709.96 1584.12 710.76C1579.85 711.56 1575.51 711.84 1571.2 712.38C1566.9 712.91 1562.6 713.99 1558.29 713.99C1553.99 713.99 1549.64 713.18 1545.38 712.38C1541.12 711.58 1536.77 709.15 1532.47 709.15C1528.17 709.15 1523.59 712.64 1519.56 712.38C1515.52 712.11 1510.76 710.78 1508.26 707.53C1505.76 704.29 1503.9 695.71 1503.42 691.39Z" fill="#878787"/>
<ellipse cx="1540.54" cy="634.91" rx="5.16" ry="5.16" fill="#878787"/>
<ellipse cx="1506.65" cy="634.91" rx="3.55" ry="3.55" fill="#878787"/>
<ellipse cx="1595.41" cy="631.68" rx="2.91" ry="2.91" fill="#878787"/>
<ellipse cx="1572.82" cy="722.06" rx="5.16" ry="4.84" fill="#878787"/>
<ellipse cx="1492.12" cy="684.94" rx="2.91" ry="2.91" fill="#878787"/>
<rect x="1461.46" y="642.98" width="12.59" height="142.03" fill="#878787"/>
<path d="M1508.26 691.39C1508.53 688.17 1509.07 683.59 1511.49 681.71C1513.91 679.83 1519.56 681.98 1522.79 680.1C1526.01 678.21 1527.88 673.38 1530.86 670.41C1533.83 667.44 1538.15 663.4 1542.15 660.73C1546.16 658.06 1550.87 656.63 1555.06 654.27C1559.26 651.91 1563.86 648.26 1567.98 646.2C1572.09 644.15 1576.98 641.62 1580.89 641.36C1584.8 641.1 1588.96 642.71 1592.19 644.59C1595.41 646.47 1598.14 649.49 1600.26 652.66C1602.37 655.82 1604.1 659.98 1605.1 663.96C1606.09 667.93 1607.52 673.91 1606.71 678.48C1605.9 683.06 1601.81 687.24 1600.26 691.39C1598.7 695.55 1599.72 701.89 1597.03 704.31C1594.34 706.73 1588.42 705.38 1584.12 705.92C1579.81 706.46 1575.51 707 1571.2 707.53C1566.9 708.07 1562.6 709.15 1558.29 709.15C1553.99 709.15 1549.64 708.33 1545.38 707.53C1541.12 706.73 1536.77 704.57 1532.47 704.31C1528.17 704.04 1523.13 706.43 1519.56 705.92C1515.99 705.41 1511.76 703.5 1509.87 701.08C1507.99 698.66 1507.99 694.62 1508.26 691.39Z" fill="#adadad"/>
<path d="M1461.46 667.19C1461.46 667.19 1469.35 666.06 1471.14 668.8C1472.93 671.54 1473.08 679.52 1473.08 684.94C1473.08 690.36 1471.14 707.53 1471.14 707.53C1471.14 707.53 1461.46 709.15 1461.46 709.15C1461.46 709.15 1461.46 667.19 1461.46 667.19Z" fill="#adadad"/>
<path d="M1537.31 684.94C1537.31 684.94 1543.93 679.94 1545.38 678.48C1546.83 677.03 1551.84 670.41 1551.84 670.41C1551.84 670.41 1553.97 674.85 1555.06 675.26C1556.15 675.66 1562.96 676 1564.75 675.26C1566.54 674.51 1573.2 669.38 1574.43 667.19C1575.67 664.99 1579.27 649.43 1579.27 649.43C1579.27 649.43 1584.12 651.05 1584.12 651.05C1584.12 651.05 1581.69 663.47 1582.5 665.57C1583.31 667.67 1590.91 671.64 1592.19 672.03C1593.46 672.41 1598.64 670.41 1598.64 670.41C1598.64 670.41 1597.62 681.24 1597.03 683.32C1596.43 685.41 1593.8 692.2 1592.19 693.01C1590.57 693.82 1582.92 691.24 1580.89 691.39C1578.85 691.55 1573.25 694.62 1571.2 694.62C1569.16 694.62 1560.23 690.75 1558.29 691.39C1556.36 692.04 1551.84 701.08 1551.84 701.08C1551.84 701.08 1549.97 692.91 1548.61 691.39C1547.24 689.88 1537.31 684.94 1537.31 684.94Z" fill="#c2c2c2" stroke="#c2c2c2" stroke-width="2.42" stroke-linejoin="round"/>
<path d="M1537.31 684.94C1537.31 684.94 1543.93 679.94 1545.38 678.48C1546.83 677.03 1551.84 670.41 1551.84 670.41C1551.84 670.41 1553.97 674.85 1555.06 675.26C1556.15 675.66 1562.96 676 1564.75 675.26C1566.54 674.51 1573.2 669.38 1574.43 667.19C1575.67 664.99 1579.27 649.43 1579.27 649.43C1579.27 649.43 1584.12 651.05 1584.12 651.05C1584.12 651.05 1581.69 663.47 1582.5 665.57C1583.31 667.67 1590.91 671.64 1592.19 672.03C1593.46 672.41 1598.64 670.41 1598.64 670.41C1598.64 670.41 1597.62 681.24 1597.03 683.32C1596.43 685.41 1593.8 692.2 1592.19 693.01C1590.57 693.82 1582.92 691.24 1580.89 691.39C1578.85 691.55 1573.25 694.62 1571.2 694.62C1569.16 694.62 1560.23 690.75 1558.29 691.39C1556.36 692.04 1551.84 701.08 1551.84 701.08C1551.84 701.08 1549.97 692.91 1548.61 691.39C1547.24 689.88 1537.31 684.94 1537.31 684.94Z" fill="#d6d6d6"/>
<path d="M1545.38 683.32C1545.38 683.32 1550.36 679 1553.45 678.48C1556.54 677.97 1561.25 681.17 1564.75 680.1C1568.25 679.02 1570.67 673.1 1574.43 672.03C1578.2 670.95 1585.01 673.06 1587.34 673.64C1589.68 674.22 1592.99 674.72 1593.8 676.87C1594.61 679.02 1594.34 684.67 1592.19 686.55C1590.03 688.44 1584.65 687.63 1580.89 688.17C1577.12 688.7 1573.36 689.78 1569.59 689.78C1565.82 689.78 1560.97 688.39 1558.29 688.17C1555.61 687.94 1552.36 688.97 1550.22 688.17C1548.09 687.37 1545.38 683.32 1545.38 683.32Z" fill="#e6e6e6"/>
<path d="M1548.61 682.52C1548.61 682.52 1553.18 679.64 1555.06 679.77C1556.95 679.91 1559.91 683.32 1559.91 683.32C1559.91 683.32 1556.95 687.01 1555.06 686.88C1553.18 686.74 1548.61 682.52 1548.61 682.52Z" fill="#ffffff"/>
<path d="M1566.36 681.71C1567.19 680.11 1571.47 675.58 1574.43 674.45C1577.39 673.32 1581.49 674.31 1584.12 674.93C1586.74 675.56 1591.38 678.48 1591.38 678.48C1591.38 678.48 1591.05 684.08 1588.96 685.26C1586.87 686.44 1580.89 685.98 1577.66 686.23C1574.43 686.48 1567.98 686.88 1567.98 686.88C1567.98 686.88 1565.53 683.31 1566.36 681.71Z" fill="#ffffff"/>
</g></g><ellipse cx="1493.73" cy="673.64" rx="3.87" ry="3.55" fill="#fff"/><ellipse cx="1508.26" cy="723.67" rx="6.13" ry="3.55" fill="#fff"/></g>
<path d="M1706 544 V783" fill="none" stroke="#444" stroke-width="1"/>
<path d="M1466.5 544 H1706" fill="none" stroke="#000" stroke-width="1.5"/>
<path d="M1466.5 543.4 V783 H1706.5" fill="none" stroke="#000" stroke-width="1.5"/>
<path d="M1466.85 783v3.3M1475.28 783v3.3M1481.82 783v3.3M1487.16 783v3.3M1491.68 783v3.3M1495.59 783v3.3M1499.04 783v3.3M1502.13 783v6.4M1522.43 783v3.3M1534.31 783v3.3M1542.74 783v3.3M1549.28 783v3.3M1554.62 783v3.3M1559.14 783v3.3M1563.05 783v3.3M1566.5 783v3.3M1569.58 783v6.4M1589.89 783v3.3M1601.77 783v3.3M1610.2 783v3.3M1616.74 783v3.3M1622.08 783v3.3M1626.59 783v3.3M1630.51 783v3.3M1633.96 783v3.3M1637.04 783v6.4M1657.35 783v3.3M1669.23 783v3.3M1677.66 783v3.3M1684.2 783v3.3M1689.54 783v3.3M1694.05 783v3.3M1697.97 783v3.3M1701.42 783v3.3M1704.5 783v6" stroke="#000" stroke-width="1.15" fill="none"/>
<text transform="translate(1503.13 803.3) scale(0.8173 1)" font-size="8.8" fill="#0a0a0a" stroke="#0a0a0a" stroke-width="0.28">10</text>
<text transform="translate(1511.93 798.3) scale(0.8448 1)" font-size="8.3" fill="#0a0a0a" stroke="#0a0a0a" stroke-width="0.28">1</text>
<text transform="translate(1570.58 803.3) scale(0.8173 1)" font-size="8.8" fill="#0a0a0a" stroke="#0a0a0a" stroke-width="0.28">10</text>
<text transform="translate(1579.38 798.3) scale(0.8448 1)" font-size="8.3" fill="#0a0a0a" stroke="#0a0a0a" stroke-width="0.28">2</text>
<text transform="translate(1638.04 803.3) scale(0.8173 1)" font-size="8.8" fill="#0a0a0a" stroke="#0a0a0a" stroke-width="0.28">10</text>
<text transform="translate(1646.84 798.3) scale(0.8448 1)" font-size="8.3" fill="#0a0a0a" stroke="#0a0a0a" stroke-width="0.28">3</text>
<text transform="translate(1694 803.3) scale(0.8173 1)" font-size="8.8" fill="#0a0a0a" stroke="#0a0a0a" stroke-width="0.28">10</text>
<text transform="translate(1702.8 798.3) scale(0.8448 1)" font-size="8.3" fill="#0a0a0a" stroke="#0a0a0a" stroke-width="0.28">4</text>
<text transform="translate(1445 737.8) scale(0.8173 1)" font-size="8.8" fill="#0a0a0a" stroke="#0a0a0a" stroke-width="0.28">10</text>
<text transform="translate(1453.8 732.8) scale(0.8448 1)" font-size="8.3" fill="#0a0a0a" stroke="#0a0a0a" stroke-width="0.28">1</text>
<text transform="translate(1445 643.8) scale(0.8173 1)" font-size="8.8" fill="#0a0a0a" stroke="#0a0a0a" stroke-width="0.28">10</text>
<text transform="translate(1453.8 638.8) scale(0.8448 1)" font-size="8.3" fill="#0a0a0a" stroke="#0a0a0a" stroke-width="0.28">2</text>
<text transform="translate(1445 558.3) scale(0.8173 1)" font-size="8.8" fill="#0a0a0a" stroke="#0a0a0a" stroke-width="0.28">10</text>
<text transform="translate(1453.8 553.3) scale(0.8448 1)" font-size="8.3" fill="#0a0a0a" stroke="#0a0a0a" stroke-width="0.28">3</text>
<path d="M1466.5 781.25h-3.3M1466.5 769.51h-3.3M1466.5 760.4h-3.3M1466.5 752.95h-3.3M1466.5 746.66h-3.3M1466.5 741.21h-3.3M1466.5 736.4h-3.3M1466.5 732.1h-6.4M1466.5 703.8h-3.3M1466.5 687.25h-3.3M1466.5 675.51h-3.3M1466.5 666.4h-3.3M1466.5 658.95h-3.3M1466.5 652.66h-3.3M1466.5 647.21h-3.3M1466.5 642.4h-3.3M1466.5 638.1h-6.4M1466.5 610.16h-3.3M1466.5 593.82h-3.3M1466.5 582.23h-3.3M1466.5 573.24h-3.3M1466.5 565.89h-3.3M1466.5 559.67h-3.3M1466.5 554.29h-3.3M1466.5 549.55h-3.3M1466.5 545.3h-6.4" stroke="#000" stroke-width="1.1" fill="none"/>
<text transform="translate(1583.25 826.2)" font-size="10.15" text-anchor="middle" fill="#0a0a0a" stroke="#0a0a0a" stroke-width="0.28">561 586  15-A :: PE Flt3 561 586  15-A</text>
<text transform="translate(1418 663.5) rotate(-90)" font-size="10" text-anchor="middle" fill="#0a0a0a" stroke="#0a0a0a" stroke-width="0.28">488 530_30-A :: FITC CD34 488 530_30-A</text>
<rect x="1466.5" y="591.5" width="59" height="141" fill="none" stroke="#000" stroke-width="1.35"/>
<rect x="1526.5" y="590.5" width="142" height="142" fill="none" stroke="#000" stroke-width="1.35"/>
<rect x="1466.5" y="732.5" width="58" height="51" fill="none" stroke="#000" stroke-width="1.35"/>
<rect x="1470.3" y="591" width="35" height="14.5" fill="#fff" stroke="none" stroke-width="1"/>
<rect x="1580.8" y="586.1" width="35" height="14.5" fill="#fff" stroke="none" stroke-width="1"/>
<text transform="translate(1471.6 586.7) scale(0.9375 1)" font-size="9.6" fill="#0a0a0a" stroke="#0a0a0a" stroke-width="0.28">ST-HSC</text>
<text transform="translate(1487.8 600.5)" font-size="9.7" text-anchor="middle" fill="#0a0a0a" stroke="#0a0a0a" stroke-width="0.28">20.0</text>
<text transform="translate(1586.35 581.8) scale(0.9375 1)" font-size="9.6" fill="#0a0a0a" stroke="#0a0a0a" stroke-width="0.28">LMPP</text>
<text transform="translate(1598.3 595.6)" font-size="9.7" text-anchor="middle" fill="#0a0a0a" stroke="#0a0a0a" stroke-width="0.28">74.2</text>
<text transform="translate(1472.43 754.2) scale(0.9375 1)" font-size="9.6" fill="#0a0a0a" stroke="#0a0a0a" stroke-width="0.28">LT-HSC</text>
<text transform="translate(1487.8 768.3)" font-size="9.7" text-anchor="middle" fill="#0a0a0a" stroke="#0a0a0a" stroke-width="0.28">3.26</text>
<path d="M1373.5 744.5 V863.7 H1493.5" fill="none" stroke="#1a1a1a" stroke-width="3.3" stroke-linejoin="miter"/>
<polygon points="1373.5,706 1384.8,746.5 1362.2,746.5" fill="#1a1a1a"/>
<polygon points="1532,863.7 1491.5,852.4 1491.5,875" fill="#1a1a1a"/>
<text transform="translate(1544.5 874) scale(0.9605 1)" font-size="39.97" fill="#111">Flt3</text>
<text transform="translate(1384.12 691.5) rotate(-90) scale(0.9130 1)" font-size="42.15" fill="#111">Cd34</text>
</g>
<g id="plot9">
<clipPath id="cp9"><rect x="187.8" y="1087.4" width="239.9" height="239.9"/></clipPath>
<clipPath id="bc9"><path d="M325.88 1103.81C326.54 1101.84 330.1 1099.72 332.09 1099.15C334.08 1098.58 344.27 1097.6 347.61 1097.6C350.95 1097.6 357.13 1097.91 360.02 1099.15C362.92 1100.39 367.81 1104.06 369.34 1106.91C370.86 1109.76 371.87 1118.25 372.44 1122.43C373.01 1126.61 373.11 1139 373.99 1141.05C374.87 1143.1 379.89 1144.77 381.75 1144.15C383.61 1143.53 385.41 1137.12 387.96 1136.39C390.51 1135.67 400.11 1137.38 403.48 1137.95C406.84 1138.51 413.41 1138.98 415.89 1141.05C418.37 1143.12 421.34 1149.84 422.1 1153.46C422.85 1157.09 423.65 1171.66 423.65 1178.29C423.65 1184.93 423.13 1201.11 422.1 1209.33C421.07 1217.55 417.55 1232.09 415.89 1240.37C414.24 1248.64 411.34 1263.13 409.68 1271.4C408.03 1279.68 404.74 1299.16 403.48 1302.44C402.22 1305.72 396.39 1310.08 394.17 1311.75C391.94 1313.42 387.52 1315.64 384.85 1316.41C382.18 1317.17 375.05 1318.14 372.44 1317.96C369.83 1317.77 365.7 1315.34 363.13 1314.85C360.56 1314.37 351.77 1313.3 347.61 1313.3C343.45 1313.3 333.95 1314.65 328.99 1314.85C324.03 1315.06 315.33 1314.65 310.37 1314.85C305.4 1315.06 295.15 1316.58 291.74 1316.41C288.34 1316.24 281.61 1315.16 279.33 1313.3C277.05 1311.44 276.42 1305.06 274.67 1302.44C272.93 1299.82 266.84 1292.85 263.81 1290.02C260.79 1287.2 253.67 1284.02 251.4 1280.71C249.12 1277.4 246.74 1268.73 246.74 1265.2C246.74 1261.66 249.98 1256.02 251.4 1252.78C252.81 1249.54 255.81 1243.6 257.6 1240.37C259.4 1237.13 264.62 1228.29 266.91 1224.85C269.21 1221.4 272.92 1214.5 276.23 1212.43C279.54 1210.36 287.61 1210.16 291.74 1209.33C295.88 1208.5 305.48 1206.73 307.26 1206.23C309.04 1205.72 312.8 1204.85 313.47 1203.12C314.14 1201.4 317.02 1184.94 318.13 1178.29C319.23 1171.65 322.05 1153.85 322.78 1147.26C323.51 1140.66 323.98 1127.4 324.33 1122.43C324.69 1117.46 325.23 1105.77 325.88 1103.81Z"/><path d="M185.6 1262.09C185.6 1262.09 189.39 1265.84 189.94 1268.3C190.5 1270.76 191.19 1281.73 191.19 1286.92C191.19 1292.11 190.57 1299.99 189.94 1302.44C189.32 1304.89 185.6 1308.65 185.6 1308.65C185.6 1308.65 185.6 1262.09 185.6 1262.09Z"/></clipPath>
<g clip-path="url(#cp9)"><g filter="url(#jet)">
<g fill="#383838"><path d="M325.88 1103.81C326.54 1101.84 330.1 1099.72 332.09 1099.15C334.08 1098.58 344.27 1097.6 347.61 1097.6C350.95 1097.6 357.13 1097.91 360.02 1099.15C362.92 1100.39 367.81 1104.06 369.34 1106.91C370.86 1109.76 371.87 1118.25 372.44 1122.43C373.01 1126.61 373.11 1139 373.99 1141.05C374.87 1143.1 379.89 1144.77 381.75 1144.15C383.61 1143.53 385.41 1137.12 387.96 1136.39C390.51 1135.67 400.11 1137.38 403.48 1137.95C406.84 1138.51 413.41 1138.98 415.89 1141.05C418.37 1143.12 421.34 1149.84 422.1 1153.46C422.85 1157.09 423.65 1171.66 423.65 1178.29C423.65 1184.93 423.13 1201.11 422.1 1209.33C421.07 1217.55 417.55 1232.09 415.89 1240.37C414.24 1248.64 411.34 1263.13 409.68 1271.4C408.03 1279.68 404.74 1299.16 403.48 1302.44C402.22 1305.72 396.39 1310.08 394.17 1311.75C391.94 1313.42 387.52 1315.64 384.85 1316.41C382.18 1317.17 375.05 1318.14 372.44 1317.96C369.83 1317.77 365.7 1315.34 363.13 1314.85C360.56 1314.37 351.77 1313.3 347.61 1313.3C343.45 1313.3 333.95 1314.65 328.99 1314.85C324.03 1315.06 315.33 1314.65 310.37 1314.85C305.4 1315.06 295.15 1316.58 291.74 1316.41C288.34 1316.24 281.61 1315.16 279.33 1313.3C277.05 1311.44 276.42 1305.06 274.67 1302.44C272.93 1299.82 266.84 1292.85 263.81 1290.02C260.79 1287.2 253.67 1284.02 251.4 1280.71C249.12 1277.4 246.74 1268.73 246.74 1265.2C246.74 1261.66 249.98 1256.02 251.4 1252.78C252.81 1249.54 255.81 1243.6 257.6 1240.37C259.4 1237.13 264.62 1228.29 266.91 1224.85C269.21 1221.4 272.92 1214.5 276.23 1212.43C279.54 1210.36 287.61 1210.16 291.74 1209.33C295.88 1208.5 305.48 1206.73 307.26 1206.23C309.04 1205.72 312.8 1204.85 313.47 1203.12C314.14 1201.4 317.02 1184.94 318.13 1178.29C319.23 1171.65 322.05 1153.85 322.78 1147.26C323.51 1140.66 323.98 1127.4 324.33 1122.43C324.69 1117.46 325.23 1105.77 325.88 1103.81Z"/><path d="M185.6 1262.09C185.6 1262.09 189.39 1265.84 189.94 1268.3C190.5 1270.76 191.19 1281.73 191.19 1286.92C191.19 1292.11 190.57 1299.99 189.94 1302.44C189.32 1304.89 185.6 1308.65 185.6 1308.65C185.6 1308.65 185.6 1262.09 185.6 1262.09Z"/></g>
<g clip-path="url(#bc9)">
<ellipse cx="389.51" cy="1240.37" rx="16.14" ry="52.76" transform="rotate(5 389.51 1240.37)" fill="#454545" stroke="#454545" stroke-width="68" stroke-linejoin="round"/>
<ellipse cx="333.64" cy="1296.23" rx="16.14" ry="11.79" fill="#454545" stroke="#454545" stroke-width="68" stroke-linejoin="round"/>
<ellipse cx="375.54" cy="1299.34" rx="9.93" ry="9.31" fill="#454545" stroke="#454545" stroke-width="68" stroke-linejoin="round"/>
<path d="M316.57 1290.02C316.57 1290.02 327.95 1277.61 335.2 1277.61C342.44 1277.61 353.1 1289.53 360.02 1290.02C366.95 1290.52 371.92 1281.23 378.65 1280.71C385.37 1280.2 400.37 1286.92 400.37 1286.92C400.37 1286.92 395.72 1307.87 391.06 1311.75C386.41 1315.63 378.67 1310 372.44 1310.2C366.21 1310.39 350.71 1316.66 341.4 1313.3C332.09 1309.94 316.57 1290.02 316.57 1290.02Z" fill="#454545" stroke="#454545" stroke-width="28" stroke-linejoin="round"/>
<ellipse cx="389.51" cy="1240.37" rx="16.14" ry="52.76" transform="rotate(5 389.51 1240.37)" fill="#525252" stroke="#525252" stroke-width="54" stroke-linejoin="round"/>
<ellipse cx="333.64" cy="1296.23" rx="16.14" ry="11.79" fill="#525252" stroke="#525252" stroke-width="54" stroke-linejoin="round"/>
<ellipse cx="375.54" cy="1299.34" rx="9.93" ry="9.31" fill="#525252" stroke="#525252" stroke-width="54" stroke-linejoin="round"/>
<path d="M316.57 1290.02C316.57 1290.02 327.95 1277.61 335.2 1277.61C342.44 1277.61 353.1 1289.53 360.02 1290.02C366.95 1290.52 371.92 1281.23 378.65 1280.71C385.37 1280.2 400.37 1286.92 400.37 1286.92C400.37 1286.92 395.72 1307.87 391.06 1311.75C386.41 1315.63 378.67 1310 372.44 1310.2C366.21 1310.39 350.71 1316.66 341.4 1313.3C332.09 1309.94 316.57 1290.02 316.57 1290.02Z" fill="#525252" stroke="#525252" stroke-width="18" stroke-linejoin="round"/>
<ellipse cx="389.51" cy="1240.37" rx="16.14" ry="52.76" transform="rotate(5 389.51 1240.37)" fill="#5e5e5e" stroke="#5e5e5e" stroke-width="42" stroke-linejoin="round"/>
<ellipse cx="333.64" cy="1296.23" rx="16.14" ry="11.79" fill="#5e5e5e" stroke="#5e5e5e" stroke-width="42" stroke-linejoin="round"/>
<ellipse cx="375.54" cy="1299.34" rx="9.93" ry="9.31" fill="#5e5e5e" stroke="#5e5e5e" stroke-width="42" stroke-linejoin="round"/>
<path d="M316.57 1290.02C316.57 1290.02 327.95 1277.61 335.2 1277.61C342.44 1277.61 353.1 1289.53 360.02 1290.02C366.95 1290.52 371.92 1281.23 378.65 1280.71C385.37 1280.2 400.37 1286.92 400.37 1286.92C400.37 1286.92 395.72 1307.87 391.06 1311.75C386.41 1315.63 378.67 1310 372.44 1310.2C366.21 1310.39 350.71 1316.66 341.4 1313.3C332.09 1309.94 316.57 1290.02 316.57 1290.02Z" fill="#5e5e5e" stroke="#5e5e5e" stroke-width="12" stroke-linejoin="round"/>
<ellipse cx="350.71" cy="1153.46" rx="12.41" ry="27.93" fill="#5e5e5e"/>
<ellipse cx="389.51" cy="1240.37" rx="16.14" ry="52.76" transform="rotate(5 389.51 1240.37)" fill="#6b6b6b" stroke="#6b6b6b" stroke-width="32" stroke-linejoin="round"/>
<ellipse cx="333.64" cy="1296.23" rx="16.14" ry="11.79" fill="#6b6b6b" stroke="#6b6b6b" stroke-width="32" stroke-linejoin="round"/>
<ellipse cx="375.54" cy="1299.34" rx="9.93" ry="9.31" fill="#6b6b6b" stroke="#6b6b6b" stroke-width="32" stroke-linejoin="round"/>
<path d="M316.57 1290.02C316.57 1290.02 327.95 1277.61 335.2 1277.61C342.44 1277.61 353.1 1289.53 360.02 1290.02C366.95 1290.52 371.92 1281.23 378.65 1280.71C385.37 1280.2 400.37 1286.92 400.37 1286.92C400.37 1286.92 395.72 1307.87 391.06 1311.75C386.41 1315.63 378.67 1310 372.44 1310.2C366.21 1310.39 350.71 1316.66 341.4 1313.3C332.09 1309.94 316.57 1290.02 316.57 1290.02Z" fill="#6b6b6b" stroke="#6b6b6b" stroke-width="6" stroke-linejoin="round"/>
<ellipse cx="389.51" cy="1240.37" rx="16.14" ry="52.76" transform="rotate(5 389.51 1240.37)" fill="#7a7a7a" stroke="#7a7a7a" stroke-width="24" stroke-linejoin="round"/>
<ellipse cx="333.64" cy="1296.23" rx="16.14" ry="11.79" fill="#7a7a7a" stroke="#7a7a7a" stroke-width="24" stroke-linejoin="round"/>
<ellipse cx="375.54" cy="1299.34" rx="9.93" ry="9.31" fill="#7a7a7a" stroke="#7a7a7a" stroke-width="24" stroke-linejoin="round"/>
<path d="M316.57 1290.02C316.57 1290.02 327.95 1277.61 335.2 1277.61C342.44 1277.61 353.1 1289.53 360.02 1290.02C366.95 1290.52 371.92 1281.23 378.65 1280.71C385.37 1280.2 400.37 1286.92 400.37 1286.92C400.37 1286.92 395.72 1307.87 391.06 1311.75C386.41 1315.63 378.67 1310 372.44 1310.2C366.21 1310.39 350.71 1316.66 341.4 1313.3C332.09 1309.94 316.57 1290.02 316.57 1290.02Z" fill="#7a7a7a"/>
<ellipse cx="389.51" cy="1240.37" rx="16.14" ry="52.76" transform="rotate(5 389.51 1240.37)" fill="#878787" stroke="#878787" stroke-width="17" stroke-linejoin="round"/>
<ellipse cx="333.64" cy="1296.23" rx="16.14" ry="11.79" fill="#878787" stroke="#878787" stroke-width="17" stroke-linejoin="round"/>
<ellipse cx="375.54" cy="1299.34" rx="9.93" ry="9.31" fill="#878787" stroke="#878787" stroke-width="17" stroke-linejoin="round"/>
<ellipse cx="389.51" cy="1240.37" rx="16.14" ry="52.76" transform="rotate(5 389.51 1240.37)" fill="#999999" stroke="#999999" stroke-width="6" stroke-linejoin="round"/>
<ellipse cx="333.64" cy="1296.23" rx="16.14" ry="11.79" fill="#999999" stroke="#999999" stroke-width="6" stroke-linejoin="round"/>
<ellipse cx="375.54" cy="1299.34" rx="9.93" ry="9.31" fill="#999999" stroke="#999999" stroke-width="6" stroke-linejoin="round"/>
<ellipse cx="389.51" cy="1240.37" rx="16.14" ry="52.76" transform="rotate(5 389.51 1240.37)" fill="#adadad"/>
<ellipse cx="333.64" cy="1296.23" rx="16.14" ry="11.79" fill="#adadad"/>
<ellipse cx="375.54" cy="1299.34" rx="9.93" ry="9.31" fill="#adadad"/>
<ellipse cx="390.13" cy="1237.26" rx="8.38" ry="34.76" transform="rotate(4 390.13 1237.26)" fill="#c2c2c2" stroke="#c2c2c2" stroke-width="4.4" stroke-linejoin="round"/>
<ellipse cx="332.09" cy="1299.34" rx="9.93" ry="4.97" fill="#c2c2c2" stroke="#c2c2c2" stroke-width="4.4" stroke-linejoin="round"/>
<ellipse cx="390.13" cy="1237.26" rx="8.38" ry="34.76" transform="rotate(4 390.13 1237.26)" fill="#d6d6d6"/>
<ellipse cx="391.68" cy="1227.95" rx="5.9" ry="19.86" transform="rotate(3 391.68 1227.95)" fill="#d6d6d6" stroke="#d6d6d6" stroke-width="6.8" stroke-linejoin="round"/>
<ellipse cx="332.09" cy="1299.34" rx="9.93" ry="4.97" fill="#d6d6d6"/>
<ellipse cx="332.09" cy="1299.34" rx="5.59" ry="2.48" fill="#d6d6d6" stroke="#d6d6d6" stroke-width="6.8" stroke-linejoin="round"/>
<ellipse cx="391.68" cy="1227.95" rx="5.9" ry="19.86" transform="rotate(3 391.68 1227.95)" fill="#e6e6e6" stroke="#e6e6e6" stroke-width="3.2" stroke-linejoin="round"/>
<ellipse cx="332.09" cy="1299.34" rx="5.59" ry="2.48" fill="#e6e6e6" stroke="#e6e6e6" stroke-width="3.2" stroke-linejoin="round"/>
<ellipse cx="391.68" cy="1227.95" rx="5.9" ry="19.86" transform="rotate(3 391.68 1227.95)" fill="#ffffff"/>
<ellipse cx="332.09" cy="1299.34" rx="5.59" ry="2.48" fill="#ffffff"/>
</g></g></g>
<path d="M427.5 1087.5 V1327.5" fill="none" stroke="#444" stroke-width="1"/>
<path d="M188 1087.5 H427.5" fill="none" stroke="#333" stroke-width="1"/>
<path d="M188 1086.9 V1327.5 H428" fill="none" stroke="#000" stroke-width="1.5"/>
<path d="M188.35 1327.5v3.3M196.8 1327.5v3.3M203.34 1327.5v3.3M208.69 1327.5v3.3M213.22 1327.5v3.3M217.14 1327.5v3.3M220.59 1327.5v3.3M223.69 1327.5v6.4M244.03 1327.5v3.3M255.93 1327.5v3.3M264.37 1327.5v3.3M270.92 1327.5v3.3M276.27 1327.5v3.3M280.79 1327.5v3.3M284.71 1327.5v3.3M288.17 1327.5v3.3M291.26 1327.5v6.4M311.6 1327.5v3.3M323.5 1327.5v3.3M331.94 1327.5v3.3M338.49 1327.5v3.3M343.84 1327.5v3.3M348.36 1327.5v3.3M352.28 1327.5v3.3M355.74 1327.5v3.3M358.83 1327.5v6.4M379.17 1327.5v3.3M391.07 1327.5v3.3M399.51 1327.5v3.3M406.06 1327.5v3.3M411.41 1327.5v3.3M415.93 1327.5v3.3M419.85 1327.5v3.3M423.31 1327.5v3.3M426.4 1327.5v6" stroke="#000" stroke-width="1.15" fill="none"/>
<text transform="translate(224.69 1347.8) scale(0.8173 1)" font-size="8.8" fill="#0a0a0a" stroke="#0a0a0a" stroke-width="0.28">10</text>
<text transform="translate(233.49 1342.8) scale(0.8448 1)" font-size="8.3" fill="#0a0a0a" stroke="#0a0a0a" stroke-width="0.28">1</text>
<text transform="translate(292.26 1347.8) scale(0.8173 1)" font-size="8.8" fill="#0a0a0a" stroke="#0a0a0a" stroke-width="0.28">10</text>
<text transform="translate(301.06 1342.8) scale(0.8448 1)" font-size="8.3" fill="#0a0a0a" stroke="#0a0a0a" stroke-width="0.28">2</text>
<text transform="translate(359.83 1347.8) scale(0.8173 1)" font-size="8.8" fill="#0a0a0a" stroke="#0a0a0a" stroke-width="0.28">10</text>
<text transform="translate(368.63 1342.8) scale(0.8448 1)" font-size="8.3" fill="#0a0a0a" stroke="#0a0a0a" stroke-width="0.28">3</text>
<text transform="translate(415.5 1347.8) scale(0.8173 1)" font-size="8.8" fill="#0a0a0a" stroke="#0a0a0a" stroke-width="0.28">10</text>
<text transform="translate(424.3 1342.8) scale(0.8448 1)" font-size="8.3" fill="#0a0a0a" stroke="#0a0a0a" stroke-width="0.28">4</text>
<text transform="translate(176.7 1283.82)" font-size="8.5" text-anchor="end" fill="#0a0a0a" stroke="#0a0a0a" stroke-width="0.28">200</text>
<text transform="translate(176.7 1237.04)" font-size="8.5" text-anchor="end" fill="#0a0a0a" stroke="#0a0a0a" stroke-width="0.28">400</text>
<text transform="translate(176.7 1190.26)" font-size="8.5" text-anchor="end" fill="#0a0a0a" stroke="#0a0a0a" stroke-width="0.28">600</text>
<text transform="translate(176.7 1143.48)" font-size="8.5" text-anchor="end" fill="#0a0a0a" stroke="#0a0a0a" stroke-width="0.28">800</text>
<text transform="translate(176.7 1096.7)" font-size="8.5" text-anchor="end" fill="#0a0a0a" stroke="#0a0a0a" stroke-width="0.28">1.0K</text>
<path d="M188 1315.8h-3.6M188 1304.11h-3.6M188 1292.41h-3.6M188 1269.02h-3.6M188 1257.33h-3.6M188 1245.63h-3.6M188 1222.24h-3.6M188 1210.55h-3.6M188 1198.85h-3.6M188 1175.46h-3.6M188 1163.77h-3.6M188 1152.07h-3.6M188 1128.68h-3.6M188 1116.99h-3.6M188 1105.29h-3.6" stroke="#000" stroke-width="1.1" fill="none"/>
<path d="M188 1280.72h-7.2M188 1233.94h-7.2M188 1187.16h-7.2M188 1140.38h-7.2M188 1093.6h-7.2" stroke="#000" stroke-width="1.5" fill="none"/>
<text transform="translate(304.75 1370.7)" font-size="10.15" text-anchor="middle" fill="#0a0a0a" stroke="#0a0a0a" stroke-width="0.28">640 670  14-A :: APC Lin+ 640 670  14-A</text>
<text transform="translate(135.4 1207.5) rotate(-90)" font-size="10" text-anchor="middle" fill="#0a0a0a" stroke="#0a0a0a" stroke-width="0.28">SSC-A</text>
<rect x="187.5" y="1087.5" width="124" height="240" fill="none" stroke="#222" stroke-width="1"/>
<text transform="translate(230.3 1143.5)" font-size="10" text-anchor="middle" fill="#0a0a0a" stroke="#0a0a0a" stroke-width="0.28">Lineage Negative</text>
<text transform="translate(231.2 1157)" font-size="9.7" text-anchor="middle" fill="#0a0a0a" stroke="#0a0a0a" stroke-width="0.28">4.94</text>
<path d="M83 1303.5 V1422 H202" fill="none" stroke="#1a1a1a" stroke-width="3.3" stroke-linejoin="miter"/>
<polygon points="83,1265 94.3,1305.5 71.7,1305.5" fill="#1a1a1a"/>
<polygon points="240.5,1422 200,1410.7 200,1433.3" fill="#1a1a1a"/>
<text transform="translate(254 1432.5) scale(0.9981 1)" font-size="39.97" fill="#111">Lineage</text>
<text transform="translate(95.1 1249.6) rotate(-90) scale(0.7531 1)" font-size="44.04" fill="#111">SSC</text>
</g>
<g id="plot10">
<clipPath id="cp10"><rect x="601" y="1087.4" width="239.7" height="239.9"/></clipPath>
<clipPath id="bc10"><path d="M596.46 1113.73C596.46 1113.73 604.53 1113.73 604.53 1113.73C604.53 1113.73 605.33 1126.65 605.33 1126.65C605.33 1126.65 661.01 1126.65 661.01 1126.65C661.01 1126.65 662.63 1116.96 662.63 1116.96C662.63 1116.96 668.63 1120.58 670.7 1121C672.76 1121.41 683.07 1121.71 686.84 1121.8C690.6 1121.9 699.94 1121.64 702.98 1121.8C706.01 1121.97 713.2 1122.88 715.89 1123.42C718.58 1123.96 725.16 1125.8 727.19 1126.65C729.21 1127.49 733.54 1130.12 735.26 1131.49C736.97 1132.86 741.71 1137.77 743.32 1139.56C744.94 1141.35 748.97 1146.09 749.78 1147.63C750.59 1149.16 751.96 1153.57 751.39 1154.89C750.83 1156.21 746.56 1158.2 744.94 1158.93C743.32 1159.65 737.57 1161.58 735.26 1162.15C732.94 1162.73 725.32 1163.83 722.34 1164.57C719.37 1165.32 711.31 1167.59 709.43 1168.61C707.56 1169.62 704.67 1174.69 702.98 1175.06C701.28 1175.44 696.79 1172.59 694.91 1171.84C693.02 1171.08 688.31 1169.1 686.84 1168.61C685.36 1168.12 681.89 1166.81 680.38 1166.99C678.87 1167.18 674.5 1168.64 673.93 1170.22C673.35 1171.81 673.61 1182.39 673.93 1184.75C674.24 1187.11 676.02 1192.36 677.15 1194.43C678.28 1196.5 681.73 1201.18 683.61 1202.5C685.49 1203.82 691.39 1205.04 693.29 1205.73C695.2 1206.42 699.86 1207.83 701.36 1208.96C702.87 1210.09 705.31 1213.99 706.2 1215.41C707.1 1216.84 709.43 1221.87 709.43 1221.87C709.43 1221.87 704.46 1220.7 702.98 1220.26C701.49 1219.81 695.52 1217.4 693.29 1217.03C691.06 1216.66 685.15 1216.87 683.61 1217.03C682.06 1217.18 678.09 1217.7 677.15 1218.64C676.21 1219.58 675.54 1223.54 675.54 1225.1C675.54 1226.65 676.4 1232.72 677.15 1234.78C677.9 1236.84 680.35 1241.39 681.99 1242.85C683.64 1244.31 691.68 1247.69 691.68 1247.69C691.68 1247.69 688.15 1251.78 686.84 1252.53C685.52 1253.29 681.7 1253.32 680.38 1254.15C679.06 1254.97 675.05 1258.92 673.93 1260.6C672.8 1262.29 671.23 1266.72 670.7 1268.67C670.16 1270.63 669.64 1276.13 669.08 1278.36C668.53 1280.58 666.61 1285.78 665.86 1288.04C665.1 1290.3 663.47 1296.04 662.63 1297.72C661.79 1299.41 658.83 1302.97 657.79 1304.18C656.75 1305.39 653.87 1307.72 652.94 1309.02C652.02 1310.32 649.72 1315.48 649.72 1315.48C649.72 1315.48 655.87 1316.96 657.79 1317.09C659.7 1317.22 670.16 1317.26 673.93 1317.09C677.69 1316.92 688.77 1315.85 693.29 1315.48C697.81 1315.1 708.14 1313.86 712.66 1313.86C717.18 1313.86 728.22 1314.96 732.03 1315.48C735.83 1316 746.21 1318.18 748.17 1318.71C750.13 1319.23 754.92 1320.43 756.24 1321.93C757.55 1323.44 759.46 1331.62 759.46 1331.62C759.46 1331.62 596.46 1331.62 596.46 1331.62C596.46 1331.62 596.46 1113.73 596.46 1113.73Z"/><path d="M694.91 1291.27C694.91 1291.27 698.55 1286.6 699.75 1284.81C700.94 1283.02 703.78 1278.78 704.59 1276.74C705.41 1274.71 706.2 1270.45 706.2 1268.67C706.2 1266.9 704.16 1263.94 704.59 1262.22C705.02 1260.5 708.63 1257.76 709.43 1255.76C710.23 1253.76 711.05 1248.27 711.05 1246.08C711.05 1243.88 709.22 1240.16 709.43 1238.01C709.65 1235.86 711.41 1231.4 712.66 1229.94C713.91 1228.48 717.39 1226.5 719.12 1226.71C720.84 1226.93 724.39 1230.88 725.57 1231.55C726.75 1232.23 730.41 1233.17 730.41 1233.17C730.41 1233.17 733.01 1227.2 733.64 1225.1C734.27 1222.99 734.18 1218.43 735.26 1217.03C736.33 1215.63 739.99 1214.39 741.71 1214.61C743.43 1214.82 746.73 1217.51 748.17 1218.64C749.6 1219.77 751.91 1222.02 753.01 1223.48C754.1 1224.94 757.42 1229.19 757.85 1231.55C758.28 1233.92 756.87 1238.7 756.24 1241.24C755.6 1243.78 752.8 1248.21 753.01 1250.92C753.22 1253.63 758.07 1259.85 757.85 1262.22C757.64 1264.58 752.56 1266.54 751.39 1268.67C750.23 1270.81 748.97 1277.37 748.17 1279.97C747.37 1282.57 745.98 1287.37 744.94 1289.65C743.9 1291.94 741.3 1295.52 740.1 1297.72C738.9 1299.93 736.89 1305.87 735.26 1307.41C733.62 1308.94 728.85 1310.04 727.19 1309.83C725.52 1309.62 723.67 1306.83 722.34 1305.79C721.02 1304.76 717.47 1301.75 715.89 1300.95C714.3 1300.16 711.09 1299.96 709.43 1299.34C707.77 1298.72 704.66 1297.05 702.98 1296.11C701.29 1295.18 694.91 1291.27 694.91 1291.27Z"/><ellipse cx="720.41" cy="1200.08" rx="1.61" ry="1.94"/></clipPath>
<g clip-path="url(#cp10)"><g filter="url(#jet)">
<g fill="#383838"><path d="M596.46 1113.73C596.46 1113.73 604.53 1113.73 604.53 1113.73C604.53 1113.73 605.33 1126.65 605.33 1126.65C605.33 1126.65 661.01 1126.65 661.01 1126.65C661.01 1126.65 662.63 1116.96 662.63 1116.96C662.63 1116.96 668.63 1120.58 670.7 1121C672.76 1121.41 683.07 1121.71 686.84 1121.8C690.6 1121.9 699.94 1121.64 702.98 1121.8C706.01 1121.97 713.2 1122.88 715.89 1123.42C718.58 1123.96 725.16 1125.8 727.19 1126.65C729.21 1127.49 733.54 1130.12 735.26 1131.49C736.97 1132.86 741.71 1137.77 743.32 1139.56C744.94 1141.35 748.97 1146.09 749.78 1147.63C750.59 1149.16 751.96 1153.57 751.39 1154.89C750.83 1156.21 746.56 1158.2 744.94 1158.93C743.32 1159.65 737.57 1161.58 735.26 1162.15C732.94 1162.73 725.32 1163.83 722.34 1164.57C719.37 1165.32 711.31 1167.59 709.43 1168.61C707.56 1169.62 704.67 1174.69 702.98 1175.06C701.28 1175.44 696.79 1172.59 694.91 1171.84C693.02 1171.08 688.31 1169.1 686.84 1168.61C685.36 1168.12 681.89 1166.81 680.38 1166.99C678.87 1167.18 674.5 1168.64 673.93 1170.22C673.35 1171.81 673.61 1182.39 673.93 1184.75C674.24 1187.11 676.02 1192.36 677.15 1194.43C678.28 1196.5 681.73 1201.18 683.61 1202.5C685.49 1203.82 691.39 1205.04 693.29 1205.73C695.2 1206.42 699.86 1207.83 701.36 1208.96C702.87 1210.09 705.31 1213.99 706.2 1215.41C707.1 1216.84 709.43 1221.87 709.43 1221.87C709.43 1221.87 704.46 1220.7 702.98 1220.26C701.49 1219.81 695.52 1217.4 693.29 1217.03C691.06 1216.66 685.15 1216.87 683.61 1217.03C682.06 1217.18 678.09 1217.7 677.15 1218.64C676.21 1219.58 675.54 1223.54 675.54 1225.1C675.54 1226.65 676.4 1232.72 677.15 1234.78C677.9 1236.84 680.35 1241.39 681.99 1242.85C683.64 1244.31 691.68 1247.69 691.68 1247.69C691.68 1247.69 688.15 1251.78 686.84 1252.53C685.52 1253.29 681.7 1253.32 680.38 1254.15C679.06 1254.97 675.05 1258.92 673.93 1260.6C672.8 1262.29 671.23 1266.72 670.7 1268.67C670.16 1270.63 669.64 1276.13 669.08 1278.36C668.53 1280.58 666.61 1285.78 665.86 1288.04C665.1 1290.3 663.47 1296.04 662.63 1297.72C661.79 1299.41 658.83 1302.97 657.79 1304.18C656.75 1305.39 653.87 1307.72 652.94 1309.02C652.02 1310.32 649.72 1315.48 649.72 1315.48C649.72 1315.48 655.87 1316.96 657.79 1317.09C659.7 1317.22 670.16 1317.26 673.93 1317.09C677.69 1316.92 688.77 1315.85 693.29 1315.48C697.81 1315.1 708.14 1313.86 712.66 1313.86C717.18 1313.86 728.22 1314.96 732.03 1315.48C735.83 1316 746.21 1318.18 748.17 1318.71C750.13 1319.23 754.92 1320.43 756.24 1321.93C757.55 1323.44 759.46 1331.62 759.46 1331.62C759.46 1331.62 596.46 1331.62 596.46 1331.62C596.46 1331.62 596.46 1113.73 596.46 1113.73Z"/><path d="M694.91 1291.27C694.91 1291.27 698.55 1286.6 699.75 1284.81C700.94 1283.02 703.78 1278.78 704.59 1276.74C705.41 1274.71 706.2 1270.45 706.2 1268.67C706.2 1266.9 704.16 1263.94 704.59 1262.22C705.02 1260.5 708.63 1257.76 709.43 1255.76C710.23 1253.76 711.05 1248.27 711.05 1246.08C711.05 1243.88 709.22 1240.16 709.43 1238.01C709.65 1235.86 711.41 1231.4 712.66 1229.94C713.91 1228.48 717.39 1226.5 719.12 1226.71C720.84 1226.93 724.39 1230.88 725.57 1231.55C726.75 1232.23 730.41 1233.17 730.41 1233.17C730.41 1233.17 733.01 1227.2 733.64 1225.1C734.27 1222.99 734.18 1218.43 735.26 1217.03C736.33 1215.63 739.99 1214.39 741.71 1214.61C743.43 1214.82 746.73 1217.51 748.17 1218.64C749.6 1219.77 751.91 1222.02 753.01 1223.48C754.1 1224.94 757.42 1229.19 757.85 1231.55C758.28 1233.92 756.87 1238.7 756.24 1241.24C755.6 1243.78 752.8 1248.21 753.01 1250.92C753.22 1253.63 758.07 1259.85 757.85 1262.22C757.64 1264.58 752.56 1266.54 751.39 1268.67C750.23 1270.81 748.97 1277.37 748.17 1279.97C747.37 1282.57 745.98 1287.37 744.94 1289.65C743.9 1291.94 741.3 1295.52 740.1 1297.72C738.9 1299.93 736.89 1305.87 735.26 1307.41C733.62 1308.94 728.85 1310.04 727.19 1309.83C725.52 1309.62 723.67 1306.83 722.34 1305.79C721.02 1304.76 717.47 1301.75 715.89 1300.95C714.3 1300.16 711.09 1299.96 709.43 1299.34C707.77 1298.72 704.66 1297.05 702.98 1296.11C701.29 1295.18 694.91 1291.27 694.91 1291.27Z"/><ellipse cx="720.41" cy="1200.08" rx="1.61" ry="1.94"/></g>
<g clip-path="url(#bc10)">
<path d="M606.14 1142.79C606.7 1138.95 609.49 1135.43 612.6 1133.1C615.7 1130.77 620.97 1128.98 625.51 1128.26C630.05 1127.54 639.03 1127.32 643.26 1128.26C647.49 1129.2 652.29 1133.27 654.56 1134.72C656.83 1136.16 658.4 1138.91 661.01 1139.56C663.62 1140.21 673.93 1139.56 673.93 1139.56C673.93 1139.56 669.62 1143.86 667.47 1146.01C665.32 1148.17 660.44 1151.98 657.79 1155.7C655.13 1159.41 653.06 1164.9 651.33 1168.61C649.6 1172.32 647.03 1176.14 646.49 1179.91C645.95 1183.67 647.36 1187.47 648.1 1191.2C648.85 1194.93 650.6 1199.74 651.33 1204.12C652.06 1208.49 652.94 1214.88 652.94 1220.26C652.94 1225.63 651.87 1231.01 651.33 1236.39C650.79 1241.77 650.78 1247.23 649.72 1252.53C648.66 1257.84 646.94 1264.04 644.87 1268.67C642.81 1273.31 639.82 1278.82 636.8 1281.58C633.78 1284.35 629 1286.43 625.51 1286.43C622.01 1286.43 618.25 1284.26 615.82 1281.58C613.4 1278.91 610.29 1273.39 609.37 1268.67C608.44 1263.95 607.48 1247.14 606.95 1236.39C606.41 1225.64 606.14 1214.88 606.14 1204.12C606.14 1193.36 606.95 1181.52 606.95 1171.84C606.95 1162.15 605.58 1146.62 606.14 1142.79Z" fill="#454545" stroke="#454545" stroke-width="25.2" stroke-linejoin="round"/>
<path d="M670.7 1141.17C670.7 1141.17 681.46 1139.83 686.84 1139.56C692.21 1139.29 697.62 1139.02 702.98 1139.56C708.33 1140.09 716.32 1142.04 719.12 1142.79C721.91 1143.53 727.19 1146.01 727.19 1146.01C727.19 1146.01 722.01 1149.24 719.12 1149.24C716.22 1149.24 708.33 1146.55 702.98 1146.01C697.62 1145.48 692.21 1145.74 686.84 1146.01C681.46 1146.28 670.7 1147.63 670.7 1147.63C670.7 1147.63 670.7 1141.17 670.7 1141.17Z" fill="#454545" stroke="#454545" stroke-width="22.4" stroke-linejoin="round"/>
<path d="M606.14 1142.79C606.7 1138.95 609.49 1135.43 612.6 1133.1C615.7 1130.77 620.97 1128.98 625.51 1128.26C630.05 1127.54 639.03 1127.32 643.26 1128.26C647.49 1129.2 652.29 1133.27 654.56 1134.72C656.83 1136.16 658.4 1138.91 661.01 1139.56C663.62 1140.21 673.93 1139.56 673.93 1139.56C673.93 1139.56 669.62 1143.86 667.47 1146.01C665.32 1148.17 660.44 1151.98 657.79 1155.7C655.13 1159.41 653.06 1164.9 651.33 1168.61C649.6 1172.32 647.03 1176.14 646.49 1179.91C645.95 1183.67 647.36 1187.47 648.1 1191.2C648.85 1194.93 650.6 1199.74 651.33 1204.12C652.06 1208.49 652.94 1214.88 652.94 1220.26C652.94 1225.63 651.87 1231.01 651.33 1236.39C650.79 1241.77 650.78 1247.23 649.72 1252.53C648.66 1257.84 646.94 1264.04 644.87 1268.67C642.81 1273.31 639.82 1278.82 636.8 1281.58C633.78 1284.35 629 1286.43 625.51 1286.43C622.01 1286.43 618.25 1284.26 615.82 1281.58C613.4 1278.91 610.29 1273.39 609.37 1268.67C608.44 1263.95 607.48 1247.14 606.95 1236.39C606.41 1225.64 606.14 1214.88 606.14 1204.12C606.14 1193.36 606.95 1181.52 606.95 1171.84C606.95 1162.15 605.58 1146.62 606.14 1142.79Z" fill="#525252" stroke="#525252" stroke-width="16.8" stroke-linejoin="round"/>
<path d="M670.7 1141.17C670.7 1141.17 681.46 1139.83 686.84 1139.56C692.21 1139.29 697.62 1139.02 702.98 1139.56C708.33 1140.09 716.32 1142.04 719.12 1142.79C721.91 1143.53 727.19 1146.01 727.19 1146.01C727.19 1146.01 722.01 1149.24 719.12 1149.24C716.22 1149.24 708.33 1146.55 702.98 1146.01C697.62 1145.48 692.21 1145.74 686.84 1146.01C681.46 1146.28 670.7 1147.63 670.7 1147.63C670.7 1147.63 670.7 1141.17 670.7 1141.17Z" fill="#525252" stroke="#525252" stroke-width="14.4" stroke-linejoin="round"/>
<path d="M606.14 1128.26C606.14 1128.26 663.71 1126.44 670.7 1128.26C677.68 1130.08 679.61 1140.45 680.38 1147.63C681.16 1154.8 678.13 1174.52 677.15 1187.98C676.17 1201.43 675.4 1222.85 673.93 1236.39C672.45 1249.93 670.25 1267.02 667.47 1276.74C664.69 1286.46 663.5 1299.47 654.56 1304.18C645.61 1308.89 606.14 1309.02 606.14 1309.02C606.14 1309.02 606.14 1128.26 606.14 1128.26Z" fill="#5e5e5e"/>
<path d="M606.14 1142.79C606.7 1138.95 609.49 1135.43 612.6 1133.1C615.7 1130.77 620.97 1128.98 625.51 1128.26C630.05 1127.54 639.03 1127.32 643.26 1128.26C647.49 1129.2 652.29 1133.27 654.56 1134.72C656.83 1136.16 658.4 1138.91 661.01 1139.56C663.62 1140.21 673.93 1139.56 673.93 1139.56C673.93 1139.56 669.62 1143.86 667.47 1146.01C665.32 1148.17 660.44 1151.98 657.79 1155.7C655.13 1159.41 653.06 1164.9 651.33 1168.61C649.6 1172.32 647.03 1176.14 646.49 1179.91C645.95 1183.67 647.36 1187.47 648.1 1191.2C648.85 1194.93 650.6 1199.74 651.33 1204.12C652.06 1208.49 652.94 1214.88 652.94 1220.26C652.94 1225.63 651.87 1231.01 651.33 1236.39C650.79 1241.77 650.78 1247.23 649.72 1252.53C648.66 1257.84 646.94 1264.04 644.87 1268.67C642.81 1273.31 639.82 1278.82 636.8 1281.58C633.78 1284.35 629 1286.43 625.51 1286.43C622.01 1286.43 618.25 1284.26 615.82 1281.58C613.4 1278.91 610.29 1273.39 609.37 1268.67C608.44 1263.95 607.48 1247.14 606.95 1236.39C606.41 1225.64 606.14 1214.88 606.14 1204.12C606.14 1193.36 606.95 1181.52 606.95 1171.84C606.95 1162.15 605.58 1146.62 606.14 1142.79Z" fill="#5e5e5e" stroke="#5e5e5e" stroke-width="11.2" stroke-linejoin="round"/>
<path d="M670.7 1141.17C670.7 1141.17 681.46 1139.83 686.84 1139.56C692.21 1139.29 697.62 1139.02 702.98 1139.56C708.33 1140.09 716.32 1142.04 719.12 1142.79C721.91 1143.53 727.19 1146.01 727.19 1146.01C727.19 1146.01 722.01 1149.24 719.12 1149.24C716.22 1149.24 708.33 1146.55 702.98 1146.01C697.62 1145.48 692.21 1145.74 686.84 1146.01C681.46 1146.28 670.7 1147.63 670.7 1147.63C670.7 1147.63 670.7 1141.17 670.7 1141.17Z" fill="#5e5e5e" stroke="#5e5e5e" stroke-width="9.6" stroke-linejoin="round"/>
<path d="M606.14 1142.79C606.7 1138.95 609.49 1135.43 612.6 1133.1C615.7 1130.77 620.97 1128.98 625.51 1128.26C630.05 1127.54 639.03 1127.32 643.26 1128.26C647.49 1129.2 652.29 1133.27 654.56 1134.72C656.83 1136.16 658.4 1138.91 661.01 1139.56C663.62 1140.21 673.93 1139.56 673.93 1139.56C673.93 1139.56 669.62 1143.86 667.47 1146.01C665.32 1148.17 660.44 1151.98 657.79 1155.7C655.13 1159.41 653.06 1164.9 651.33 1168.61C649.6 1172.32 647.03 1176.14 646.49 1179.91C645.95 1183.67 647.36 1187.47 648.1 1191.2C648.85 1194.93 650.6 1199.74 651.33 1204.12C652.06 1208.49 652.94 1214.88 652.94 1220.26C652.94 1225.63 651.87 1231.01 651.33 1236.39C650.79 1241.77 650.78 1247.23 649.72 1252.53C648.66 1257.84 646.94 1264.04 644.87 1268.67C642.81 1273.31 639.82 1278.82 636.8 1281.58C633.78 1284.35 629 1286.43 625.51 1286.43C622.01 1286.43 618.25 1284.26 615.82 1281.58C613.4 1278.91 610.29 1273.39 609.37 1268.67C608.44 1263.95 607.48 1247.14 606.95 1236.39C606.41 1225.64 606.14 1214.88 606.14 1204.12C606.14 1193.36 606.95 1181.52 606.95 1171.84C606.95 1162.15 605.58 1146.62 606.14 1142.79Z" fill="#6b6b6b" stroke="#6b6b6b" stroke-width="5.6" stroke-linejoin="round"/>
<path d="M670.7 1141.17C670.7 1141.17 681.46 1139.83 686.84 1139.56C692.21 1139.29 697.62 1139.02 702.98 1139.56C708.33 1140.09 716.32 1142.04 719.12 1142.79C721.91 1143.53 727.19 1146.01 727.19 1146.01C727.19 1146.01 722.01 1149.24 719.12 1149.24C716.22 1149.24 708.33 1146.55 702.98 1146.01C697.62 1145.48 692.21 1145.74 686.84 1146.01C681.46 1146.28 670.7 1147.63 670.7 1147.63C670.7 1147.63 670.7 1141.17 670.7 1141.17Z" fill="#6b6b6b" stroke="#6b6b6b" stroke-width="4.8" stroke-linejoin="round"/>
<path d="M670.7 1141.17C670.7 1141.17 681.46 1139.83 686.84 1139.56C692.21 1139.29 697.62 1139.02 702.98 1139.56C708.33 1140.09 716.32 1142.04 719.12 1142.79C721.91 1143.53 727.19 1146.01 727.19 1146.01C727.19 1146.01 722.01 1149.24 719.12 1149.24C716.22 1149.24 708.33 1146.55 702.98 1146.01C697.62 1145.48 692.21 1145.74 686.84 1146.01C681.46 1146.28 670.7 1147.63 670.7 1147.63C670.7 1147.63 670.7 1141.17 670.7 1141.17Z" fill="#7a7a7a"/>
<path d="M606.14 1142.79C606.7 1138.95 609.49 1135.43 612.6 1133.1C615.7 1130.77 620.97 1128.98 625.51 1128.26C630.05 1127.54 639.03 1127.32 643.26 1128.26C647.49 1129.2 652.29 1133.27 654.56 1134.72C656.83 1136.16 658.4 1138.91 661.01 1139.56C663.62 1140.21 673.93 1139.56 673.93 1139.56C673.93 1139.56 669.62 1143.86 667.47 1146.01C665.32 1148.17 660.44 1151.98 657.79 1155.7C655.13 1159.41 653.06 1164.9 651.33 1168.61C649.6 1172.32 647.03 1176.14 646.49 1179.91C645.95 1183.67 647.36 1187.47 648.1 1191.2C648.85 1194.93 650.6 1199.74 651.33 1204.12C652.06 1208.49 652.94 1214.88 652.94 1220.26C652.94 1225.63 651.87 1231.01 651.33 1236.39C650.79 1241.77 650.78 1247.23 649.72 1252.53C648.66 1257.84 646.94 1264.04 644.87 1268.67C642.81 1273.31 639.82 1278.82 636.8 1281.58C633.78 1284.35 629 1286.43 625.51 1286.43C622.01 1286.43 618.25 1284.26 615.82 1281.58C613.4 1278.91 610.29 1273.39 609.37 1268.67C608.44 1263.95 607.48 1247.14 606.95 1236.39C606.41 1225.64 606.14 1214.88 606.14 1204.12C606.14 1193.36 606.95 1181.52 606.95 1171.84C606.95 1162.15 605.58 1146.62 606.14 1142.79Z" fill="#878787"/>
<rect x="596.46" y="1321.13" width="62.94" height="10.49" fill="#878787"/>
<rect x="596.46" y="1128.26" width="10.33" height="203.36" fill="#999999"/>
<path d="M610.98 1142.79C611.79 1139.83 615.7 1136.52 619.05 1134.72C622.4 1132.91 627.66 1131.76 631.96 1131.49C636.27 1131.22 641.66 1131.87 644.87 1133.1C648.09 1134.34 651.87 1136.6 652.94 1139.56C654.02 1142.52 652.61 1147.27 651.33 1150.86C650.05 1154.44 646.91 1158.85 644.87 1162.15C642.84 1165.46 639.96 1169.63 638.42 1171.84C636.88 1174.04 633.58 1178.29 633.58 1178.29C633.58 1178.29 630.28 1174.04 628.73 1171.84C627.19 1169.63 624.61 1165.26 622.28 1162.15C619.95 1159.05 615.92 1155.41 614.21 1152.47C612.49 1149.53 610.17 1145.74 610.98 1142.79Z" fill="#adadad"/>
<path d="M627.12 1187.98C628.71 1186.17 631.42 1184.21 633.58 1184.75C635.73 1185.29 638.67 1188.48 640.03 1191.2C641.39 1193.93 642.53 1199.74 643.26 1204.12C643.99 1208.49 644.87 1214.88 644.87 1220.26C644.87 1225.63 643.74 1232.08 643.26 1236.39C642.78 1240.71 642.41 1245.47 641.65 1249.31C640.88 1253.15 640.27 1257.7 638.42 1260.6C636.57 1263.51 633.31 1265.98 630.35 1267.06C627.39 1268.14 623.35 1268.14 620.66 1267.06C617.98 1265.98 615.67 1263.28 614.21 1260.6C612.75 1257.93 611.24 1253.21 610.98 1249.31C610.72 1245.4 611.54 1240.6 612.6 1236.39C613.65 1232.19 616.11 1227.72 617.44 1223.48C618.76 1219.25 619.87 1214.83 620.66 1210.57C621.46 1206.31 621.29 1201.13 622.28 1197.66C623.27 1194.19 625.54 1189.79 627.12 1187.98Z" fill="#adadad"/>
<rect x="596.46" y="1322.74" width="56.49" height="8.88" fill="#adadad"/>
<path d="M622.28 1146.01C622.55 1143.32 626.04 1140.63 628.73 1139.56C631.42 1138.48 636 1138.48 638.42 1139.56C640.84 1140.63 642.72 1143.59 643.26 1146.01C643.8 1148.43 642.99 1151.93 641.65 1154.08C640.3 1156.24 637.61 1158.66 635.19 1158.93C632.77 1159.19 629.17 1157.75 627.12 1155.7C625.07 1153.65 622.01 1148.7 622.28 1146.01Z" fill="#c2c2c2" stroke="#c2c2c2" stroke-width="4.4" stroke-linejoin="round"/>
<ellipse cx="624.7" cy="1246.08" rx="5.49" ry="5.81" fill="#c2c2c2"/>
<path d="M622.28 1146.01C622.55 1143.32 626.04 1140.63 628.73 1139.56C631.42 1138.48 636 1138.48 638.42 1139.56C640.84 1140.63 642.72 1143.59 643.26 1146.01C643.8 1148.43 642.99 1151.93 641.65 1154.08C640.3 1156.24 637.61 1158.66 635.19 1158.93C632.77 1159.19 629.17 1157.75 627.12 1155.7C625.07 1153.65 622.01 1148.7 622.28 1146.01Z" fill="#d6d6d6"/>
<rect x="596.46" y="1134.72" width="9.2" height="196.9" fill="#d6d6d6"/>
<rect x="596.46" y="1324.35" width="50.03" height="7.26" fill="#d6d6d6"/>
<rect x="596.46" y="1136.33" width="8.07" height="195.29" fill="#e6e6e6"/>
<rect x="596.46" y="1139.56" width="6.46" height="192.06" fill="#ffffff"/>
</g></g></g>
<path d="M840.5 1087.5 V1327.5" fill="none" stroke="#444" stroke-width="1"/>
<path d="M601 1087.5 H840.5" fill="none" stroke="#000" stroke-width="1.5"/>
<path d="M601 1086.9 V1327.5 H841" fill="none" stroke="#000" stroke-width="1.5"/>
<path d="M601.35 1327.5v3.3M609.79 1327.5v3.3M616.33 1327.5v3.3M621.68 1327.5v3.3M626.2 1327.5v3.3M630.11 1327.5v3.3M633.57 1327.5v3.3M636.66 1327.5v6.4M656.98 1327.5v3.3M668.87 1327.5v3.3M677.3 1327.5v3.3M683.85 1327.5v3.3M689.19 1327.5v3.3M693.71 1327.5v3.3M697.63 1327.5v3.3M701.08 1327.5v3.3M704.17 1327.5v6.4M724.5 1327.5v3.3M736.38 1327.5v3.3M744.82 1327.5v3.3M751.36 1327.5v3.3M756.71 1327.5v3.3M761.23 1327.5v3.3M765.14 1327.5v3.3M768.6 1327.5v3.3M771.69 1327.5v6.4M792.01 1327.5v3.3M803.9 1327.5v3.3M812.33 1327.5v3.3M818.88 1327.5v3.3M824.22 1327.5v3.3M828.74 1327.5v3.3M832.66 1327.5v3.3M836.11 1327.5v3.3M839.2 1327.5v6" stroke="#000" stroke-width="1.15" fill="none"/>
<text transform="translate(637.66 1347.8) scale(0.8173 1)" font-size="8.8" fill="#0a0a0a" stroke="#0a0a0a" stroke-width="0.28">10</text>
<text transform="translate(646.46 1342.8) scale(0.8448 1)" font-size="8.3" fill="#0a0a0a" stroke="#0a0a0a" stroke-width="0.28">1</text>
<text transform="translate(705.17 1347.8) scale(0.8173 1)" font-size="8.8" fill="#0a0a0a" stroke="#0a0a0a" stroke-width="0.28">10</text>
<text transform="translate(713.97 1342.8) scale(0.8448 1)" font-size="8.3" fill="#0a0a0a" stroke="#0a0a0a" stroke-width="0.28">2</text>
<text transform="translate(772.69 1347.8) scale(0.8173 1)" font-size="8.8" fill="#0a0a0a" stroke="#0a0a0a" stroke-width="0.28">10</text>
<text transform="translate(781.49 1342.8) scale(0.8448 1)" font-size="8.3" fill="#0a0a0a" stroke="#0a0a0a" stroke-width="0.28">3</text>
<text transform="translate(828.5 1347.8) scale(0.8173 1)" font-size="8.8" fill="#0a0a0a" stroke="#0a0a0a" stroke-width="0.28">10</text>
<text transform="translate(837.3 1342.8) scale(0.8448 1)" font-size="8.3" fill="#0a0a0a" stroke="#0a0a0a" stroke-width="0.28">4</text>
<text transform="translate(579.5 1296.82) scale(0.8173 1)" font-size="8.8" fill="#0a0a0a" stroke="#0a0a0a" stroke-width="0.28">10</text>
<text transform="translate(588.3 1291.82) scale(0.8448 1)" font-size="8.3" fill="#0a0a0a" stroke="#0a0a0a" stroke-width="0.28">1</text>
<text transform="translate(579.5 1229.24) scale(0.8173 1)" font-size="8.8" fill="#0a0a0a" stroke="#0a0a0a" stroke-width="0.28">10</text>
<text transform="translate(588.3 1224.24) scale(0.8448 1)" font-size="8.3" fill="#0a0a0a" stroke="#0a0a0a" stroke-width="0.28">2</text>
<text transform="translate(579.5 1161.67) scale(0.8173 1)" font-size="8.8" fill="#0a0a0a" stroke="#0a0a0a" stroke-width="0.28">10</text>
<text transform="translate(588.3 1156.67) scale(0.8448 1)" font-size="8.3" fill="#0a0a0a" stroke="#0a0a0a" stroke-width="0.28">3</text>
<text transform="translate(579.5 1101.8) scale(0.8173 1)" font-size="8.8" fill="#0a0a0a" stroke="#0a0a0a" stroke-width="0.28">10</text>
<text transform="translate(588.3 1096.8) scale(0.8448 1)" font-size="8.3" fill="#0a0a0a" stroke="#0a0a0a" stroke-width="0.28">4</text>
<path d="M601 1326.45h-3.3M601 1318h-3.3M601 1311.46h-3.3M601 1306.11h-3.3M601 1301.58h-3.3M601 1297.66h-3.3M601 1294.21h-3.3M601 1291.12h-6.4M601 1270.77h-3.3M601 1258.88h-3.3M601 1250.43h-3.3M601 1243.88h-3.3M601 1238.53h-3.3M601 1234.01h-3.3M601 1230.09h-3.3M601 1226.64h-3.3M601 1223.54h-6.4M601 1203.2h-3.3M601 1191.3h-3.3M601 1182.86h-3.3M601 1176.31h-3.3M601 1170.96h-3.3M601 1166.44h-3.3M601 1162.52h-3.3M601 1159.06h-3.3M601 1155.97h-6.4M601 1135.63h-3.3M601 1123.73h-3.3M601 1115.29h-3.3M601 1108.74h-3.3M601 1103.39h-3.3M601 1098.87h-3.3M601 1094.95h-3.3M601 1091.49h-3.3M601 1088h-6" stroke="#000" stroke-width="1.1" fill="none"/>
<text transform="translate(717.75 1370.7)" font-size="10.15" text-anchor="middle" fill="#0a0a0a" stroke="#0a0a0a" stroke-width="0.28">405 450  50-A :: PB Sca-1 405 450  50-A</text>
<text transform="translate(552.2 1207.5) rotate(-90)" font-size="10" text-anchor="middle" fill="#0a0a0a" stroke="#0a0a0a" stroke-width="0.28">561 780_60-A :: PECy-7 c-kit 561 780_60-A</text>
<rect x="605.3" y="1112.9" width="55.7" height="13.4" fill="#d9def0" stroke="none" stroke-width="1"/>
<rect x="601.5" y="1087.5" width="72" height="107" fill="none" stroke="#000" stroke-width="1.35"/>
<rect x="681.5" y="1087.5" width="114" height="108" fill="none" stroke="#000" stroke-width="1.35"/>
<text transform="translate(632.3 1106.3)" font-size="10" text-anchor="middle" fill="#0a0a0a" stroke="#0a0a0a" stroke-width="0.28">c-kit+Sca-1-</text>
<text transform="translate(632.3 1120.1)" font-size="9.7" text-anchor="middle" fill="#0a0a0a" stroke="#0a0a0a" stroke-width="0.28">35.7</text>
<text transform="translate(767.89 1139.7) scale(0.9375 1)" font-size="9.6" fill="#0a0a0a" stroke="#0a0a0a" stroke-width="0.28">LSK</text>
<text transform="translate(776.4 1153.9)" font-size="9.7" text-anchor="middle" fill="#0a0a0a" stroke="#0a0a0a" stroke-width="0.28">3.51</text>
<path d="M503 1302.1 V1420 H622.2" fill="none" stroke="#1a1a1a" stroke-width="3.3" stroke-linejoin="miter"/>
<polygon points="503,1263.6 514.3,1304.1 491.7,1304.1" fill="#1a1a1a"/>
<polygon points="660.7,1420 620.2,1408.7 620.2,1431.3" fill="#1a1a1a"/>
<text transform="translate(672.2 1430.5) scale(0.8945 1)" font-size="39.97" fill="#111">Sca-1</text>
<text transform="translate(516.12 1246) rotate(-90) scale(0.9393 1)" font-size="42.15" fill="#111">cKit</text>
</g>
<g id="plot11">
<clipPath id="cp11"><rect x="1069" y="1087.4" width="240" height="239.9"/></clipPath>
<clipPath id="bc11"><path d="M1104.84 1266.75C1104.01 1263.02 1109.45 1251.56 1111.05 1246.57C1112.64 1241.59 1114.92 1232.63 1117.26 1227.95C1119.6 1223.27 1126.09 1214.1 1129.67 1209.33C1133.25 1204.56 1141.6 1193.94 1145.19 1190.71C1148.78 1187.48 1158.29 1182.76 1160.71 1181.4C1163.13 1180.04 1167.27 1177.15 1170.02 1176.74C1172.76 1176.33 1186.72 1177.13 1191.74 1176.74C1196.76 1176.36 1205.44 1174.66 1210.37 1173.64C1215.29 1172.61 1225.49 1170.2 1228.99 1168.98C1232.48 1167.76 1239 1163.81 1241.4 1162.77C1243.81 1161.74 1248.1 1159.86 1250.71 1159.67C1253.32 1159.48 1261.36 1161.75 1263.13 1161.22C1264.9 1160.69 1266.23 1155.02 1266.23 1155.02C1266.23 1155.02 1269.62 1159.59 1270.89 1161.22C1272.16 1162.86 1275.97 1166.58 1277.09 1168.98C1278.22 1171.38 1280.78 1180.29 1281.75 1184.5C1282.72 1188.71 1285.16 1202.71 1286.41 1209.33C1287.65 1215.95 1290.27 1227.47 1291.06 1234.16C1291.85 1240.85 1292.95 1256.98 1292.61 1262.09C1292.27 1267.2 1289.66 1276.94 1287.96 1280.71C1286.26 1284.49 1280.93 1290.46 1278.65 1293.13C1276.36 1295.79 1272.23 1301.61 1269.34 1302.44C1266.44 1303.27 1260.33 1299.53 1256.92 1299.34C1253.51 1299.15 1245.54 1300.51 1241.4 1300.89C1237.26 1301.26 1225.66 1301.64 1222.78 1302.44C1219.91 1303.24 1216.28 1307.64 1213.47 1308.65C1210.66 1309.65 1204.37 1310.2 1201.06 1310.2C1197.74 1310.2 1191.92 1309.26 1188.64 1308.65C1185.36 1308.03 1179.12 1307.2 1176.23 1305.54C1173.33 1303.89 1169.77 1298.27 1166.91 1296.23C1164.06 1294.19 1157.7 1291.22 1154.5 1290.02C1151.31 1288.83 1145.28 1288.12 1142.09 1286.92C1138.89 1285.72 1132.98 1282.37 1129.67 1280.71C1126.36 1279.06 1120.48 1276.32 1117.26 1274.51C1114.03 1272.69 1105.67 1270.47 1104.84 1266.75Z"/><path d="M1066.98 1218.64C1066.98 1218.64 1071.85 1224.4 1072.56 1227.95C1073.27 1231.5 1074.43 1247.58 1074.43 1255.88C1074.43 1264.18 1073.21 1278.01 1072.56 1280.71C1071.91 1283.42 1066.98 1286.92 1066.98 1286.92C1066.98 1286.92 1066.98 1218.64 1066.98 1218.64Z"/></clipPath>
<g clip-path="url(#cp11)"><g filter="url(#jet)">
<g fill="#383838"><path d="M1104.84 1266.75C1104.01 1263.02 1109.45 1251.56 1111.05 1246.57C1112.64 1241.59 1114.92 1232.63 1117.26 1227.95C1119.6 1223.27 1126.09 1214.1 1129.67 1209.33C1133.25 1204.56 1141.6 1193.94 1145.19 1190.71C1148.78 1187.48 1158.29 1182.76 1160.71 1181.4C1163.13 1180.04 1167.27 1177.15 1170.02 1176.74C1172.76 1176.33 1186.72 1177.13 1191.74 1176.74C1196.76 1176.36 1205.44 1174.66 1210.37 1173.64C1215.29 1172.61 1225.49 1170.2 1228.99 1168.98C1232.48 1167.76 1239 1163.81 1241.4 1162.77C1243.81 1161.74 1248.1 1159.86 1250.71 1159.67C1253.32 1159.48 1261.36 1161.75 1263.13 1161.22C1264.9 1160.69 1266.23 1155.02 1266.23 1155.02C1266.23 1155.02 1269.62 1159.59 1270.89 1161.22C1272.16 1162.86 1275.97 1166.58 1277.09 1168.98C1278.22 1171.38 1280.78 1180.29 1281.75 1184.5C1282.72 1188.71 1285.16 1202.71 1286.41 1209.33C1287.65 1215.95 1290.27 1227.47 1291.06 1234.16C1291.85 1240.85 1292.95 1256.98 1292.61 1262.09C1292.27 1267.2 1289.66 1276.94 1287.96 1280.71C1286.26 1284.49 1280.93 1290.46 1278.65 1293.13C1276.36 1295.79 1272.23 1301.61 1269.34 1302.44C1266.44 1303.27 1260.33 1299.53 1256.92 1299.34C1253.51 1299.15 1245.54 1300.51 1241.4 1300.89C1237.26 1301.26 1225.66 1301.64 1222.78 1302.44C1219.91 1303.24 1216.28 1307.64 1213.47 1308.65C1210.66 1309.65 1204.37 1310.2 1201.06 1310.2C1197.74 1310.2 1191.92 1309.26 1188.64 1308.65C1185.36 1308.03 1179.12 1307.2 1176.23 1305.54C1173.33 1303.89 1169.77 1298.27 1166.91 1296.23C1164.06 1294.19 1157.7 1291.22 1154.5 1290.02C1151.31 1288.83 1145.28 1288.12 1142.09 1286.92C1138.89 1285.72 1132.98 1282.37 1129.67 1280.71C1126.36 1279.06 1120.48 1276.32 1117.26 1274.51C1114.03 1272.69 1105.67 1270.47 1104.84 1266.75Z"/><path d="M1066.98 1218.64C1066.98 1218.64 1071.85 1224.4 1072.56 1227.95C1073.27 1231.5 1074.43 1247.58 1074.43 1255.88C1074.43 1264.18 1073.21 1278.01 1072.56 1280.71C1071.91 1283.42 1066.98 1286.92 1066.98 1286.92C1066.98 1286.92 1066.98 1218.64 1066.98 1218.64Z"/></g>
<g clip-path="url(#bc11)">
<path d="M1154.5 1258.99C1155.73 1254.9 1161.74 1245.54 1166.91 1240.37C1172.09 1235.19 1178.68 1230.89 1185.54 1227.95C1192.39 1225.01 1202.09 1223.81 1210.37 1221.74C1218.64 1219.68 1227.98 1217.22 1235.2 1215.54C1242.41 1213.85 1251.74 1211.31 1256.92 1210.88C1262.1 1210.45 1269.08 1209.59 1272.44 1212.43C1275.8 1215.28 1276.27 1222.61 1277.09 1227.95C1277.92 1233.29 1278.89 1245.47 1278.65 1252.78C1278.4 1260.09 1277.31 1269.65 1275.54 1274.51C1273.78 1279.37 1270.65 1284.22 1266.23 1286.92C1261.82 1289.62 1253.99 1291.12 1247.61 1291.58C1241.23 1292.03 1230.97 1291.31 1222.78 1290.02C1214.59 1288.74 1206.23 1285.89 1197.95 1283.82C1189.68 1281.75 1178.45 1279.25 1173.12 1277.61C1167.8 1275.97 1160.62 1274.42 1157.6 1271.4C1154.59 1268.39 1153.27 1263.07 1154.5 1258.99Z" fill="#454545" stroke="#454545" stroke-width="28" stroke-linejoin="round"/>
<path d="M1179.33 1265.2C1179.33 1265.2 1186.57 1251.75 1191.74 1246.57C1196.92 1241.4 1203.69 1237.5 1210.37 1234.16C1217.04 1230.82 1228.1 1226.98 1235.2 1224.85C1242.29 1222.72 1252.5 1220.19 1256.92 1220.19C1261.34 1220.19 1267.09 1221.04 1269.34 1224.85C1271.58 1228.66 1272.2 1239.26 1272.44 1246.57C1272.68 1253.88 1272.63 1266.19 1270.89 1271.4C1269.15 1276.62 1264.89 1281.26 1260.02 1283.82C1255.16 1286.38 1247.7 1286.92 1241.4 1286.92C1235.11 1286.92 1223.96 1285.29 1216.57 1283.82C1209.19 1282.34 1200.77 1280.57 1194.85 1277.61C1188.92 1274.65 1179.33 1265.2 1179.33 1265.2Z" fill="#454545" stroke="#454545" stroke-width="68" stroke-linejoin="round"/>
<path d="M1154.5 1258.99C1155.73 1254.9 1161.74 1245.54 1166.91 1240.37C1172.09 1235.19 1178.68 1230.89 1185.54 1227.95C1192.39 1225.01 1202.09 1223.81 1210.37 1221.74C1218.64 1219.68 1227.98 1217.22 1235.2 1215.54C1242.41 1213.85 1251.74 1211.31 1256.92 1210.88C1262.1 1210.45 1269.08 1209.59 1272.44 1212.43C1275.8 1215.28 1276.27 1222.61 1277.09 1227.95C1277.92 1233.29 1278.89 1245.47 1278.65 1252.78C1278.4 1260.09 1277.31 1269.65 1275.54 1274.51C1273.78 1279.37 1270.65 1284.22 1266.23 1286.92C1261.82 1289.62 1253.99 1291.12 1247.61 1291.58C1241.23 1292.03 1230.97 1291.31 1222.78 1290.02C1214.59 1288.74 1206.23 1285.89 1197.95 1283.82C1189.68 1281.75 1178.45 1279.25 1173.12 1277.61C1167.8 1275.97 1160.62 1274.42 1157.6 1271.4C1154.59 1268.39 1153.27 1263.07 1154.5 1258.99Z" fill="#525252" stroke="#525252" stroke-width="18" stroke-linejoin="round"/>
<path d="M1179.33 1265.2C1179.33 1265.2 1186.57 1251.75 1191.74 1246.57C1196.92 1241.4 1203.69 1237.5 1210.37 1234.16C1217.04 1230.82 1228.1 1226.98 1235.2 1224.85C1242.29 1222.72 1252.5 1220.19 1256.92 1220.19C1261.34 1220.19 1267.09 1221.04 1269.34 1224.85C1271.58 1228.66 1272.2 1239.26 1272.44 1246.57C1272.68 1253.88 1272.63 1266.19 1270.89 1271.4C1269.15 1276.62 1264.89 1281.26 1260.02 1283.82C1255.16 1286.38 1247.7 1286.92 1241.4 1286.92C1235.11 1286.92 1223.96 1285.29 1216.57 1283.82C1209.19 1282.34 1200.77 1280.57 1194.85 1277.61C1188.92 1274.65 1179.33 1265.2 1179.33 1265.2Z" fill="#525252" stroke="#525252" stroke-width="54" stroke-linejoin="round"/>
<path d="M1154.5 1258.99C1155.73 1254.9 1161.74 1245.54 1166.91 1240.37C1172.09 1235.19 1178.68 1230.89 1185.54 1227.95C1192.39 1225.01 1202.09 1223.81 1210.37 1221.74C1218.64 1219.68 1227.98 1217.22 1235.2 1215.54C1242.41 1213.85 1251.74 1211.31 1256.92 1210.88C1262.1 1210.45 1269.08 1209.59 1272.44 1212.43C1275.8 1215.28 1276.27 1222.61 1277.09 1227.95C1277.92 1233.29 1278.89 1245.47 1278.65 1252.78C1278.4 1260.09 1277.31 1269.65 1275.54 1274.51C1273.78 1279.37 1270.65 1284.22 1266.23 1286.92C1261.82 1289.62 1253.99 1291.12 1247.61 1291.58C1241.23 1292.03 1230.97 1291.31 1222.78 1290.02C1214.59 1288.74 1206.23 1285.89 1197.95 1283.82C1189.68 1281.75 1178.45 1279.25 1173.12 1277.61C1167.8 1275.97 1160.62 1274.42 1157.6 1271.4C1154.59 1268.39 1153.27 1263.07 1154.5 1258.99Z" fill="#5e5e5e" stroke="#5e5e5e" stroke-width="12" stroke-linejoin="round"/>
<path d="M1179.33 1265.2C1179.33 1265.2 1186.57 1251.75 1191.74 1246.57C1196.92 1241.4 1203.69 1237.5 1210.37 1234.16C1217.04 1230.82 1228.1 1226.98 1235.2 1224.85C1242.29 1222.72 1252.5 1220.19 1256.92 1220.19C1261.34 1220.19 1267.09 1221.04 1269.34 1224.85C1271.58 1228.66 1272.2 1239.26 1272.44 1246.57C1272.68 1253.88 1272.63 1266.19 1270.89 1271.4C1269.15 1276.62 1264.89 1281.26 1260.02 1283.82C1255.16 1286.38 1247.7 1286.92 1241.4 1286.92C1235.11 1286.92 1223.96 1285.29 1216.57 1283.82C1209.19 1282.34 1200.77 1280.57 1194.85 1277.61C1188.92 1274.65 1179.33 1265.2 1179.33 1265.2Z" fill="#5e5e5e" stroke="#5e5e5e" stroke-width="42" stroke-linejoin="round"/>
<path d="M1154.5 1258.99C1155.73 1254.9 1161.74 1245.54 1166.91 1240.37C1172.09 1235.19 1178.68 1230.89 1185.54 1227.95C1192.39 1225.01 1202.09 1223.81 1210.37 1221.74C1218.64 1219.68 1227.98 1217.22 1235.2 1215.54C1242.41 1213.85 1251.74 1211.31 1256.92 1210.88C1262.1 1210.45 1269.08 1209.59 1272.44 1212.43C1275.8 1215.28 1276.27 1222.61 1277.09 1227.95C1277.92 1233.29 1278.89 1245.47 1278.65 1252.78C1278.4 1260.09 1277.31 1269.65 1275.54 1274.51C1273.78 1279.37 1270.65 1284.22 1266.23 1286.92C1261.82 1289.62 1253.99 1291.12 1247.61 1291.58C1241.23 1292.03 1230.97 1291.31 1222.78 1290.02C1214.59 1288.74 1206.23 1285.89 1197.95 1283.82C1189.68 1281.75 1178.45 1279.25 1173.12 1277.61C1167.8 1275.97 1160.62 1274.42 1157.6 1271.4C1154.59 1268.39 1153.27 1263.07 1154.5 1258.99Z" fill="#6b6b6b" stroke="#6b6b6b" stroke-width="6" stroke-linejoin="round"/>
<path d="M1179.33 1265.2C1179.33 1265.2 1186.57 1251.75 1191.74 1246.57C1196.92 1241.4 1203.69 1237.5 1210.37 1234.16C1217.04 1230.82 1228.1 1226.98 1235.2 1224.85C1242.29 1222.72 1252.5 1220.19 1256.92 1220.19C1261.34 1220.19 1267.09 1221.04 1269.34 1224.85C1271.58 1228.66 1272.2 1239.26 1272.44 1246.57C1272.68 1253.88 1272.63 1266.19 1270.89 1271.4C1269.15 1276.62 1264.89 1281.26 1260.02 1283.82C1255.16 1286.38 1247.7 1286.92 1241.4 1286.92C1235.11 1286.92 1223.96 1285.29 1216.57 1283.82C1209.19 1282.34 1200.77 1280.57 1194.85 1277.61C1188.92 1274.65 1179.33 1265.2 1179.33 1265.2Z" fill="#6b6b6b" stroke="#6b6b6b" stroke-width="32" stroke-linejoin="round"/>
<path d="M1154.5 1258.99C1155.73 1254.9 1161.74 1245.54 1166.91 1240.37C1172.09 1235.19 1178.68 1230.89 1185.54 1227.95C1192.39 1225.01 1202.09 1223.81 1210.37 1221.74C1218.64 1219.68 1227.98 1217.22 1235.2 1215.54C1242.41 1213.85 1251.74 1211.31 1256.92 1210.88C1262.1 1210.45 1269.08 1209.59 1272.44 1212.43C1275.8 1215.28 1276.27 1222.61 1277.09 1227.95C1277.92 1233.29 1278.89 1245.47 1278.65 1252.78C1278.4 1260.09 1277.31 1269.65 1275.54 1274.51C1273.78 1279.37 1270.65 1284.22 1266.23 1286.92C1261.82 1289.62 1253.99 1291.12 1247.61 1291.58C1241.23 1292.03 1230.97 1291.31 1222.78 1290.02C1214.59 1288.74 1206.23 1285.89 1197.95 1283.82C1189.68 1281.75 1178.45 1279.25 1173.12 1277.61C1167.8 1275.97 1160.62 1274.42 1157.6 1271.4C1154.59 1268.39 1153.27 1263.07 1154.5 1258.99Z" fill="#7a7a7a"/>
<path d="M1179.33 1265.2C1179.33 1265.2 1186.57 1251.75 1191.74 1246.57C1196.92 1241.4 1203.69 1237.5 1210.37 1234.16C1217.04 1230.82 1228.1 1226.98 1235.2 1224.85C1242.29 1222.72 1252.5 1220.19 1256.92 1220.19C1261.34 1220.19 1267.09 1221.04 1269.34 1224.85C1271.58 1228.66 1272.2 1239.26 1272.44 1246.57C1272.68 1253.88 1272.63 1266.19 1270.89 1271.4C1269.15 1276.62 1264.89 1281.26 1260.02 1283.82C1255.16 1286.38 1247.7 1286.92 1241.4 1286.92C1235.11 1286.92 1223.96 1285.29 1216.57 1283.82C1209.19 1282.34 1200.77 1280.57 1194.85 1277.61C1188.92 1274.65 1179.33 1265.2 1179.33 1265.2Z" fill="#7a7a7a" stroke="#7a7a7a" stroke-width="24" stroke-linejoin="round"/>
<path d="M1179.33 1265.2C1179.33 1265.2 1186.57 1251.75 1191.74 1246.57C1196.92 1241.4 1203.69 1237.5 1210.37 1234.16C1217.04 1230.82 1228.1 1226.98 1235.2 1224.85C1242.29 1222.72 1252.5 1220.19 1256.92 1220.19C1261.34 1220.19 1267.09 1221.04 1269.34 1224.85C1271.58 1228.66 1272.2 1239.26 1272.44 1246.57C1272.68 1253.88 1272.63 1266.19 1270.89 1271.4C1269.15 1276.62 1264.89 1281.26 1260.02 1283.82C1255.16 1286.38 1247.7 1286.92 1241.4 1286.92C1235.11 1286.92 1223.96 1285.29 1216.57 1283.82C1209.19 1282.34 1200.77 1280.57 1194.85 1277.61C1188.92 1274.65 1179.33 1265.2 1179.33 1265.2Z" fill="#878787" stroke="#878787" stroke-width="17" stroke-linejoin="round"/>
<path d="M1179.33 1265.2C1179.33 1265.2 1186.57 1251.75 1191.74 1246.57C1196.92 1241.4 1203.69 1237.5 1210.37 1234.16C1217.04 1230.82 1228.1 1226.98 1235.2 1224.85C1242.29 1222.72 1252.5 1220.19 1256.92 1220.19C1261.34 1220.19 1267.09 1221.04 1269.34 1224.85C1271.58 1228.66 1272.2 1239.26 1272.44 1246.57C1272.68 1253.88 1272.63 1266.19 1270.89 1271.4C1269.15 1276.62 1264.89 1281.26 1260.02 1283.82C1255.16 1286.38 1247.7 1286.92 1241.4 1286.92C1235.11 1286.92 1223.96 1285.29 1216.57 1283.82C1209.19 1282.34 1200.77 1280.57 1194.85 1277.61C1188.92 1274.65 1179.33 1265.2 1179.33 1265.2Z" fill="#999999" stroke="#999999" stroke-width="6" stroke-linejoin="round"/>
<path d="M1179.33 1265.2C1179.33 1265.2 1186.57 1251.75 1191.74 1246.57C1196.92 1241.4 1203.69 1237.5 1210.37 1234.16C1217.04 1230.82 1228.1 1226.98 1235.2 1224.85C1242.29 1222.72 1252.5 1220.19 1256.92 1220.19C1261.34 1220.19 1267.09 1221.04 1269.34 1224.85C1271.58 1228.66 1272.2 1239.26 1272.44 1246.57C1272.68 1253.88 1272.63 1266.19 1270.89 1271.4C1269.15 1276.62 1264.89 1281.26 1260.02 1283.82C1255.16 1286.38 1247.7 1286.92 1241.4 1286.92C1235.11 1286.92 1223.96 1285.29 1216.57 1283.82C1209.19 1282.34 1200.77 1280.57 1194.85 1277.61C1188.92 1274.65 1179.33 1265.2 1179.33 1265.2Z" fill="#adadad"/>
<path d="M1216.57 1271.4C1216.57 1271.4 1224.35 1262.08 1228.99 1258.99C1233.62 1255.9 1240.46 1254.13 1244.51 1252.78C1248.55 1251.43 1256.92 1249.68 1256.92 1249.68C1256.92 1249.68 1260.62 1255.65 1261.58 1258.99C1262.53 1262.32 1263.9 1267.78 1263.13 1271.4C1262.35 1275.02 1260.26 1279.05 1256.92 1280.71C1253.58 1282.38 1246.58 1282.52 1241.4 1282.27C1236.23 1282.01 1229.59 1280.78 1225.88 1279.16C1222.18 1277.54 1216.57 1271.4 1216.57 1271.4Z" fill="#c2c2c2" stroke="#c2c2c2" stroke-width="4.4" stroke-linejoin="round"/>
<path d="M1216.57 1271.4C1216.57 1271.4 1224.35 1262.08 1228.99 1258.99C1233.62 1255.9 1240.46 1254.13 1244.51 1252.78C1248.55 1251.43 1256.92 1249.68 1256.92 1249.68C1256.92 1249.68 1260.62 1255.65 1261.58 1258.99C1262.53 1262.32 1263.9 1267.78 1263.13 1271.4C1262.35 1275.02 1260.26 1279.05 1256.92 1280.71C1253.58 1282.38 1246.58 1282.52 1241.4 1282.27C1236.23 1282.01 1229.59 1280.78 1225.88 1279.16C1222.18 1277.54 1216.57 1271.4 1216.57 1271.4Z" fill="#d6d6d6"/>
<path d="M1228.99 1269.85C1228.99 1269.85 1237.49 1263.8 1241.4 1262.09C1245.31 1260.38 1250.71 1257.95 1253.82 1258.99C1256.92 1260.02 1259.51 1265.2 1260.02 1268.3C1260.54 1271.4 1259.51 1275.8 1256.92 1277.61C1254.33 1279.42 1248.26 1279.41 1244.51 1279.16C1240.75 1278.91 1235.86 1277.39 1233.64 1276.06C1231.43 1274.73 1228.99 1269.85 1228.99 1269.85Z" fill="#d6d6d6" stroke="#d6d6d6" stroke-width="6.8" stroke-linejoin="round"/>
<path d="M1228.99 1269.85C1228.99 1269.85 1237.49 1263.8 1241.4 1262.09C1245.31 1260.38 1250.71 1257.95 1253.82 1258.99C1256.92 1260.02 1259.51 1265.2 1260.02 1268.3C1260.54 1271.4 1259.51 1275.8 1256.92 1277.61C1254.33 1279.42 1248.26 1279.41 1244.51 1279.16C1240.75 1278.91 1235.86 1277.39 1233.64 1276.06C1231.43 1274.73 1228.99 1269.85 1228.99 1269.85Z" fill="#e6e6e6" stroke="#e6e6e6" stroke-width="3.2" stroke-linejoin="round"/>
<path d="M1228.99 1269.85C1228.99 1269.85 1237.49 1263.8 1241.4 1262.09C1245.31 1260.38 1250.71 1257.95 1253.82 1258.99C1256.92 1260.02 1259.51 1265.2 1260.02 1268.3C1260.54 1271.4 1259.51 1275.8 1256.92 1277.61C1254.33 1279.42 1248.26 1279.41 1244.51 1279.16C1240.75 1278.91 1235.86 1277.39 1233.64 1276.06C1231.43 1274.73 1228.99 1269.85 1228.99 1269.85Z" fill="#ffffff"/>
</g></g></g>
<path d="M1309 1087.5 V1327.5" fill="none" stroke="#444" stroke-width="1"/>
<path d="M1069 1087.5 H1309" fill="none" stroke="#333" stroke-width="1"/>
<path d="M1069 1086.9 V1327.5 H1309.5" fill="none" stroke="#000" stroke-width="1.5"/>
<path d="M1069.35 1327.5v3.3M1077.8 1327.5v3.3M1084.35 1327.5v3.3M1089.7 1327.5v3.3M1094.23 1327.5v3.3M1098.15 1327.5v3.3M1101.61 1327.5v3.3M1104.7 1327.5v6.4M1125.05 1327.5v3.3M1136.95 1327.5v3.3M1145.4 1327.5v3.3M1151.95 1327.5v3.3M1157.3 1327.5v3.3M1161.83 1327.5v3.3M1165.75 1327.5v3.3M1169.21 1327.5v3.3M1172.3 1327.5v6.4M1192.65 1327.5v3.3M1204.55 1327.5v3.3M1213 1327.5v3.3M1219.55 1327.5v3.3M1224.9 1327.5v3.3M1229.43 1327.5v3.3M1233.35 1327.5v3.3M1236.81 1327.5v3.3M1239.9 1327.5v6.4M1260.25 1327.5v3.3M1272.15 1327.5v3.3M1280.6 1327.5v3.3M1287.15 1327.5v3.3M1292.5 1327.5v3.3M1297.03 1327.5v3.3M1300.95 1327.5v3.3M1304.41 1327.5v3.3M1307.5 1327.5v6" stroke="#000" stroke-width="1.15" fill="none"/>
<text transform="translate(1105.7 1347.8) scale(0.8173 1)" font-size="8.8" fill="#0a0a0a" stroke="#0a0a0a" stroke-width="0.28">10</text>
<text transform="translate(1114.5 1342.8) scale(0.8448 1)" font-size="8.3" fill="#0a0a0a" stroke="#0a0a0a" stroke-width="0.28">1</text>
<text transform="translate(1173.3 1347.8) scale(0.8173 1)" font-size="8.8" fill="#0a0a0a" stroke="#0a0a0a" stroke-width="0.28">10</text>
<text transform="translate(1182.1 1342.8) scale(0.8448 1)" font-size="8.3" fill="#0a0a0a" stroke="#0a0a0a" stroke-width="0.28">2</text>
<text transform="translate(1240.9 1347.8) scale(0.8173 1)" font-size="8.8" fill="#0a0a0a" stroke="#0a0a0a" stroke-width="0.28">10</text>
<text transform="translate(1249.7 1342.8) scale(0.8448 1)" font-size="8.3" fill="#0a0a0a" stroke="#0a0a0a" stroke-width="0.28">3</text>
<text transform="translate(1297 1347.8) scale(0.8173 1)" font-size="8.8" fill="#0a0a0a" stroke="#0a0a0a" stroke-width="0.28">10</text>
<text transform="translate(1305.8 1342.8) scale(0.8448 1)" font-size="8.3" fill="#0a0a0a" stroke="#0a0a0a" stroke-width="0.28">4</text>
<text transform="translate(1057.7 1283.82)" font-size="8.5" text-anchor="end" fill="#0a0a0a" stroke="#0a0a0a" stroke-width="0.28">200</text>
<text transform="translate(1057.7 1237.04)" font-size="8.5" text-anchor="end" fill="#0a0a0a" stroke="#0a0a0a" stroke-width="0.28">400</text>
<text transform="translate(1057.7 1190.26)" font-size="8.5" text-anchor="end" fill="#0a0a0a" stroke="#0a0a0a" stroke-width="0.28">600</text>
<text transform="translate(1057.7 1143.48)" font-size="8.5" text-anchor="end" fill="#0a0a0a" stroke="#0a0a0a" stroke-width="0.28">800</text>
<text transform="translate(1057.7 1096.7)" font-size="8.5" text-anchor="end" fill="#0a0a0a" stroke="#0a0a0a" stroke-width="0.28">1.0K</text>
<path d="M1069 1315.8h-3.6M1069 1304.11h-3.6M1069 1292.41h-3.6M1069 1269.02h-3.6M1069 1257.33h-3.6M1069 1245.63h-3.6M1069 1222.24h-3.6M1069 1210.55h-3.6M1069 1198.85h-3.6M1069 1175.46h-3.6M1069 1163.77h-3.6M1069 1152.07h-3.6M1069 1128.68h-3.6M1069 1116.99h-3.6M1069 1105.29h-3.6" stroke="#000" stroke-width="1.1" fill="none"/>
<path d="M1069 1280.72h-7.2M1069 1233.94h-7.2M1069 1187.16h-7.2M1069 1140.38h-7.2M1069 1093.6h-7.2" stroke="#000" stroke-width="1.5" fill="none"/>
<text transform="translate(1186 1370.7)" font-size="10.15" text-anchor="middle" fill="#0a0a0a" stroke="#0a0a0a" stroke-width="0.28">640 670  14-A :: APC Lin+ 640 670  14-A</text>
<text transform="translate(1016.6 1207.5) rotate(-90)" font-size="10" text-anchor="middle" fill="#0a0a0a" stroke="#0a0a0a" stroke-width="0.28">SSC-A</text>
<rect x="1069.5" y="1087.5" width="123" height="240" fill="none" stroke="#222" stroke-width="1"/>
<text transform="translate(1111.7 1156.3)" font-size="10" text-anchor="middle" fill="#0a0a0a" stroke="#0a0a0a" stroke-width="0.28">Lineage Negative</text>
<text transform="translate(1113.2 1170.9)" font-size="9.7" text-anchor="middle" fill="#0a0a0a" stroke="#0a0a0a" stroke-width="0.28">18.3</text>
<path d="M968.3 1300.5 V1419.8 H1088.1" fill="none" stroke="#1a1a1a" stroke-width="3.3" stroke-linejoin="miter"/>
<polygon points="968.3,1262 979.6,1302.5 957,1302.5" fill="#1a1a1a"/>
<polygon points="1126.6,1419.8 1086.1,1408.5 1086.1,1431.1" fill="#1a1a1a"/>
<text transform="translate(1139 1430.3) scale(0.9981 1)" font-size="39.97" fill="#111">Lineage</text>
<text transform="translate(980.6 1247.6) rotate(-90) scale(0.7531 1)" font-size="44.04" fill="#111">SSC</text>
</g>
<g id="plot12">
<clipPath id="cp12"><rect x="1474.4" y="1087.4" width="239.9" height="239.9"/></clipPath>
<clipPath id="bc12"><path d="M1468.46 1139.56C1468.46 1139.56 1474.8 1141.28 1476.53 1142.79C1478.25 1144.29 1481.37 1150.86 1481.37 1150.86C1481.37 1150.86 1484.95 1148.53 1486.21 1147.63C1487.47 1146.73 1490.71 1143.68 1492.66 1142.79C1494.62 1141.9 1500.94 1140.37 1503.96 1139.56C1506.99 1138.75 1513.43 1136.44 1516.87 1136.33C1520.32 1136.22 1526.3 1138.36 1529.79 1138.75C1533.27 1139.14 1542.46 1139.65 1545.93 1139.56C1549.39 1139.46 1555.37 1138.1 1558.84 1137.94C1562.3 1137.79 1570.68 1138.05 1574.98 1138.27C1579.28 1138.48 1586.84 1138.96 1591.12 1139.56C1595.39 1140.16 1602.95 1141.92 1607.26 1142.79C1611.56 1143.65 1620.94 1144.5 1623.39 1146.01C1625.85 1147.53 1626.78 1153.2 1628.24 1155.7C1629.69 1158.19 1633.69 1162.96 1634.69 1165.38C1635.7 1167.8 1636.52 1172.48 1636.31 1175.06C1636.09 1177.65 1633.79 1182.96 1633.08 1184.75C1632.36 1186.54 1631.21 1189.84 1629.85 1191.2C1628.49 1192.57 1622.1 1195.29 1620.17 1197.66C1618.23 1200.03 1616.38 1206.01 1615.32 1208.96C1614.27 1211.91 1613.15 1217.3 1612.1 1220.26C1611.04 1223.21 1607.69 1228.32 1607.26 1231.55C1606.82 1234.78 1608.08 1241.69 1608.87 1244.46C1609.66 1247.24 1612.1 1251.78 1613.71 1254.15C1615.32 1256.51 1620.54 1260.28 1620.97 1262.22C1621.4 1264.15 1618.51 1267.38 1616.94 1268.67C1615.37 1269.96 1609.19 1271.58 1607.26 1273.52C1605.32 1275.45 1603.7 1280.62 1602.41 1283.2C1601.12 1285.78 1599.05 1290.56 1597.57 1292.88C1596.09 1295.21 1592.73 1299.13 1591.12 1300.95C1589.5 1302.77 1586.38 1305.69 1584.66 1307.41C1582.94 1309.13 1579.5 1312.57 1578.2 1313.86C1576.91 1315.15 1573.36 1318.71 1573.36 1318.71C1573.36 1318.71 1586.38 1319.36 1591.12 1319.51C1595.85 1319.67 1616.94 1320.14 1623.39 1320.32C1629.85 1320.5 1645.37 1320.9 1647.6 1321.13C1649.84 1321.35 1653.95 1322.15 1655.67 1323.55C1657.39 1324.95 1660.52 1331.62 1660.52 1331.62C1660.52 1331.62 1468.46 1331.62 1468.46 1331.62C1468.46 1331.62 1468.46 1139.56 1468.46 1139.56Z"/></clipPath>
<g clip-path="url(#cp12)"><g filter="url(#jet)">
<g fill="#383838"><path d="M1468.46 1139.56C1468.46 1139.56 1474.8 1141.28 1476.53 1142.79C1478.25 1144.29 1481.37 1150.86 1481.37 1150.86C1481.37 1150.86 1484.95 1148.53 1486.21 1147.63C1487.47 1146.73 1490.71 1143.68 1492.66 1142.79C1494.62 1141.9 1500.94 1140.37 1503.96 1139.56C1506.99 1138.75 1513.43 1136.44 1516.87 1136.33C1520.32 1136.22 1526.3 1138.36 1529.79 1138.75C1533.27 1139.14 1542.46 1139.65 1545.93 1139.56C1549.39 1139.46 1555.37 1138.1 1558.84 1137.94C1562.3 1137.79 1570.68 1138.05 1574.98 1138.27C1579.28 1138.48 1586.84 1138.96 1591.12 1139.56C1595.39 1140.16 1602.95 1141.92 1607.26 1142.79C1611.56 1143.65 1620.94 1144.5 1623.39 1146.01C1625.85 1147.53 1626.78 1153.2 1628.24 1155.7C1629.69 1158.19 1633.69 1162.96 1634.69 1165.38C1635.7 1167.8 1636.52 1172.48 1636.31 1175.06C1636.09 1177.65 1633.79 1182.96 1633.08 1184.75C1632.36 1186.54 1631.21 1189.84 1629.85 1191.2C1628.49 1192.57 1622.1 1195.29 1620.17 1197.66C1618.23 1200.03 1616.38 1206.01 1615.32 1208.96C1614.27 1211.91 1613.15 1217.3 1612.1 1220.26C1611.04 1223.21 1607.69 1228.32 1607.26 1231.55C1606.82 1234.78 1608.08 1241.69 1608.87 1244.46C1609.66 1247.24 1612.1 1251.78 1613.71 1254.15C1615.32 1256.51 1620.54 1260.28 1620.97 1262.22C1621.4 1264.15 1618.51 1267.38 1616.94 1268.67C1615.37 1269.96 1609.19 1271.58 1607.26 1273.52C1605.32 1275.45 1603.7 1280.62 1602.41 1283.2C1601.12 1285.78 1599.05 1290.56 1597.57 1292.88C1596.09 1295.21 1592.73 1299.13 1591.12 1300.95C1589.5 1302.77 1586.38 1305.69 1584.66 1307.41C1582.94 1309.13 1579.5 1312.57 1578.2 1313.86C1576.91 1315.15 1573.36 1318.71 1573.36 1318.71C1573.36 1318.71 1586.38 1319.36 1591.12 1319.51C1595.85 1319.67 1616.94 1320.14 1623.39 1320.32C1629.85 1320.5 1645.37 1320.9 1647.6 1321.13C1649.84 1321.35 1653.95 1322.15 1655.67 1323.55C1657.39 1324.95 1660.52 1331.62 1660.52 1331.62C1660.52 1331.62 1468.46 1331.62 1468.46 1331.62C1468.46 1331.62 1468.46 1139.56 1468.46 1139.56Z"/></g>
<g clip-path="url(#bc12)">
<path d="M1486.21 1175.06C1486.72 1170.5 1488.09 1165.65 1491.05 1162.15C1494.01 1158.66 1499.23 1155.92 1503.96 1154.08C1508.69 1152.24 1514.67 1151.6 1520.1 1150.86C1525.54 1150.11 1533.02 1149.51 1539.47 1149.24C1545.92 1148.97 1552.39 1148.97 1558.84 1149.24C1565.29 1149.51 1572.68 1149.85 1578.2 1150.86C1583.73 1151.86 1589.53 1153.29 1594.34 1155.7C1599.16 1158.1 1604.82 1162.72 1607.26 1165.38C1609.69 1168.04 1612.1 1171.84 1612.1 1175.06C1612.1 1178.29 1610.05 1182.46 1607.26 1184.75C1604.46 1187.03 1598.77 1188.36 1594.34 1189.59C1589.91 1190.82 1582.13 1191.66 1578.2 1192.82C1574.27 1193.97 1570.13 1195.24 1566.91 1197.66C1563.68 1200.08 1561.11 1203.81 1558.84 1207.34C1556.56 1210.88 1553.9 1215.69 1552.38 1220.26C1550.86 1224.82 1549.15 1231.96 1549.15 1236.39C1549.15 1240.83 1550.77 1245.28 1552.38 1249.31C1553.99 1253.33 1556.55 1257.56 1558.84 1260.6C1561.12 1263.65 1566.91 1268.67 1566.91 1268.67C1566.91 1268.67 1561.71 1275.75 1558.84 1278.36C1555.97 1280.97 1552.13 1282.33 1549.15 1284.81C1546.17 1287.3 1542.32 1290.93 1539.47 1294.5C1536.62 1298.06 1533.31 1305.75 1529.79 1309.02C1526.26 1312.3 1521.05 1314.43 1516.87 1315.48C1512.7 1316.52 1507.73 1317.09 1503.96 1315.48C1500.2 1313.86 1496.81 1309.59 1494.28 1305.79C1491.75 1302 1488.95 1296.45 1487.82 1291.27C1486.7 1286.09 1485.74 1274.27 1486.21 1268.67C1486.68 1263.08 1488.65 1257.35 1491.05 1252.53C1493.46 1247.72 1498.33 1243.23 1500.73 1239.62C1503.14 1236.01 1506.92 1232.09 1507.19 1228.32C1507.46 1224.56 1504.28 1220.64 1502.35 1217.03C1500.42 1213.41 1496.64 1208.31 1494.28 1204.12C1491.92 1199.92 1489.11 1195.84 1487.82 1191.2C1486.54 1186.57 1485.7 1179.63 1486.21 1175.06Z" fill="#454545" stroke="#454545" stroke-width="28.8" stroke-linejoin="round"/>
<path d="M1486.21 1175.06C1486.72 1170.5 1488.09 1165.65 1491.05 1162.15C1494.01 1158.66 1499.23 1155.92 1503.96 1154.08C1508.69 1152.24 1514.67 1151.6 1520.1 1150.86C1525.54 1150.11 1533.02 1149.51 1539.47 1149.24C1545.92 1148.97 1552.39 1148.97 1558.84 1149.24C1565.29 1149.51 1572.68 1149.85 1578.2 1150.86C1583.73 1151.86 1589.53 1153.29 1594.34 1155.7C1599.16 1158.1 1604.82 1162.72 1607.26 1165.38C1609.69 1168.04 1612.1 1171.84 1612.1 1175.06C1612.1 1178.29 1610.05 1182.46 1607.26 1184.75C1604.46 1187.03 1598.77 1188.36 1594.34 1189.59C1589.91 1190.82 1582.13 1191.66 1578.2 1192.82C1574.27 1193.97 1570.13 1195.24 1566.91 1197.66C1563.68 1200.08 1561.11 1203.81 1558.84 1207.34C1556.56 1210.88 1553.9 1215.69 1552.38 1220.26C1550.86 1224.82 1549.15 1231.96 1549.15 1236.39C1549.15 1240.83 1550.77 1245.28 1552.38 1249.31C1553.99 1253.33 1556.55 1257.56 1558.84 1260.6C1561.12 1263.65 1566.91 1268.67 1566.91 1268.67C1566.91 1268.67 1561.71 1275.75 1558.84 1278.36C1555.97 1280.97 1552.13 1282.33 1549.15 1284.81C1546.17 1287.3 1542.32 1290.93 1539.47 1294.5C1536.62 1298.06 1533.31 1305.75 1529.79 1309.02C1526.26 1312.3 1521.05 1314.43 1516.87 1315.48C1512.7 1316.52 1507.73 1317.09 1503.96 1315.48C1500.2 1313.86 1496.81 1309.59 1494.28 1305.79C1491.75 1302 1488.95 1296.45 1487.82 1291.27C1486.7 1286.09 1485.74 1274.27 1486.21 1268.67C1486.68 1263.08 1488.65 1257.35 1491.05 1252.53C1493.46 1247.72 1498.33 1243.23 1500.73 1239.62C1503.14 1236.01 1506.92 1232.09 1507.19 1228.32C1507.46 1224.56 1504.28 1220.64 1502.35 1217.03C1500.42 1213.41 1496.64 1208.31 1494.28 1204.12C1491.92 1199.92 1489.11 1195.84 1487.82 1191.2C1486.54 1186.57 1485.7 1179.63 1486.21 1175.06Z" fill="#525252" stroke="#525252" stroke-width="19.2" stroke-linejoin="round"/>
<path d="M1486.21 1175.06C1486.72 1170.5 1488.09 1165.65 1491.05 1162.15C1494.01 1158.66 1499.23 1155.92 1503.96 1154.08C1508.69 1152.24 1514.67 1151.6 1520.1 1150.86C1525.54 1150.11 1533.02 1149.51 1539.47 1149.24C1545.92 1148.97 1552.39 1148.97 1558.84 1149.24C1565.29 1149.51 1572.68 1149.85 1578.2 1150.86C1583.73 1151.86 1589.53 1153.29 1594.34 1155.7C1599.16 1158.1 1604.82 1162.72 1607.26 1165.38C1609.69 1168.04 1612.1 1171.84 1612.1 1175.06C1612.1 1178.29 1610.05 1182.46 1607.26 1184.75C1604.46 1187.03 1598.77 1188.36 1594.34 1189.59C1589.91 1190.82 1582.13 1191.66 1578.2 1192.82C1574.27 1193.97 1570.13 1195.24 1566.91 1197.66C1563.68 1200.08 1561.11 1203.81 1558.84 1207.34C1556.56 1210.88 1553.9 1215.69 1552.38 1220.26C1550.86 1224.82 1549.15 1231.96 1549.15 1236.39C1549.15 1240.83 1550.77 1245.28 1552.38 1249.31C1553.99 1253.33 1556.55 1257.56 1558.84 1260.6C1561.12 1263.65 1566.91 1268.67 1566.91 1268.67C1566.91 1268.67 1561.71 1275.75 1558.84 1278.36C1555.97 1280.97 1552.13 1282.33 1549.15 1284.81C1546.17 1287.3 1542.32 1290.93 1539.47 1294.5C1536.62 1298.06 1533.31 1305.75 1529.79 1309.02C1526.26 1312.3 1521.05 1314.43 1516.87 1315.48C1512.7 1316.52 1507.73 1317.09 1503.96 1315.48C1500.2 1313.86 1496.81 1309.59 1494.28 1305.79C1491.75 1302 1488.95 1296.45 1487.82 1291.27C1486.7 1286.09 1485.74 1274.27 1486.21 1268.67C1486.68 1263.08 1488.65 1257.35 1491.05 1252.53C1493.46 1247.72 1498.33 1243.23 1500.73 1239.62C1503.14 1236.01 1506.92 1232.09 1507.19 1228.32C1507.46 1224.56 1504.28 1220.64 1502.35 1217.03C1500.42 1213.41 1496.64 1208.31 1494.28 1204.12C1491.92 1199.92 1489.11 1195.84 1487.82 1191.2C1486.54 1186.57 1485.7 1179.63 1486.21 1175.06Z" fill="#5e5e5e" stroke="#5e5e5e" stroke-width="12.8" stroke-linejoin="round"/>
<path d="M1486.21 1175.06C1486.72 1170.5 1488.09 1165.65 1491.05 1162.15C1494.01 1158.66 1499.23 1155.92 1503.96 1154.08C1508.69 1152.24 1514.67 1151.6 1520.1 1150.86C1525.54 1150.11 1533.02 1149.51 1539.47 1149.24C1545.92 1148.97 1552.39 1148.97 1558.84 1149.24C1565.29 1149.51 1572.68 1149.85 1578.2 1150.86C1583.73 1151.86 1589.53 1153.29 1594.34 1155.7C1599.16 1158.1 1604.82 1162.72 1607.26 1165.38C1609.69 1168.04 1612.1 1171.84 1612.1 1175.06C1612.1 1178.29 1610.05 1182.46 1607.26 1184.75C1604.46 1187.03 1598.77 1188.36 1594.34 1189.59C1589.91 1190.82 1582.13 1191.66 1578.2 1192.82C1574.27 1193.97 1570.13 1195.24 1566.91 1197.66C1563.68 1200.08 1561.11 1203.81 1558.84 1207.34C1556.56 1210.88 1553.9 1215.69 1552.38 1220.26C1550.86 1224.82 1549.15 1231.96 1549.15 1236.39C1549.15 1240.83 1550.77 1245.28 1552.38 1249.31C1553.99 1253.33 1556.55 1257.56 1558.84 1260.6C1561.12 1263.65 1566.91 1268.67 1566.91 1268.67C1566.91 1268.67 1561.71 1275.75 1558.84 1278.36C1555.97 1280.97 1552.13 1282.33 1549.15 1284.81C1546.17 1287.3 1542.32 1290.93 1539.47 1294.5C1536.62 1298.06 1533.31 1305.75 1529.79 1309.02C1526.26 1312.3 1521.05 1314.43 1516.87 1315.48C1512.7 1316.52 1507.73 1317.09 1503.96 1315.48C1500.2 1313.86 1496.81 1309.59 1494.28 1305.79C1491.75 1302 1488.95 1296.45 1487.82 1291.27C1486.7 1286.09 1485.74 1274.27 1486.21 1268.67C1486.68 1263.08 1488.65 1257.35 1491.05 1252.53C1493.46 1247.72 1498.33 1243.23 1500.73 1239.62C1503.14 1236.01 1506.92 1232.09 1507.19 1228.32C1507.46 1224.56 1504.28 1220.64 1502.35 1217.03C1500.42 1213.41 1496.64 1208.31 1494.28 1204.12C1491.92 1199.92 1489.11 1195.84 1487.82 1191.2C1486.54 1186.57 1485.7 1179.63 1486.21 1175.06Z" fill="#6b6b6b" stroke="#6b6b6b" stroke-width="6.4" stroke-linejoin="round"/>
<path d="M1486.21 1175.06C1486.72 1170.5 1488.09 1165.65 1491.05 1162.15C1494.01 1158.66 1499.23 1155.92 1503.96 1154.08C1508.69 1152.24 1514.67 1151.6 1520.1 1150.86C1525.54 1150.11 1533.02 1149.51 1539.47 1149.24C1545.92 1148.97 1552.39 1148.97 1558.84 1149.24C1565.29 1149.51 1572.68 1149.85 1578.2 1150.86C1583.73 1151.86 1589.53 1153.29 1594.34 1155.7C1599.16 1158.1 1604.82 1162.72 1607.26 1165.38C1609.69 1168.04 1612.1 1171.84 1612.1 1175.06C1612.1 1178.29 1610.05 1182.46 1607.26 1184.75C1604.46 1187.03 1598.77 1188.36 1594.34 1189.59C1589.91 1190.82 1582.13 1191.66 1578.2 1192.82C1574.27 1193.97 1570.13 1195.24 1566.91 1197.66C1563.68 1200.08 1561.11 1203.81 1558.84 1207.34C1556.56 1210.88 1553.9 1215.69 1552.38 1220.26C1550.86 1224.82 1549.15 1231.96 1549.15 1236.39C1549.15 1240.83 1550.77 1245.28 1552.38 1249.31C1553.99 1253.33 1556.55 1257.56 1558.84 1260.6C1561.12 1263.65 1566.91 1268.67 1566.91 1268.67C1566.91 1268.67 1561.71 1275.75 1558.84 1278.36C1555.97 1280.97 1552.13 1282.33 1549.15 1284.81C1546.17 1287.3 1542.32 1290.93 1539.47 1294.5C1536.62 1298.06 1533.31 1305.75 1529.79 1309.02C1526.26 1312.3 1521.05 1314.43 1516.87 1315.48C1512.7 1316.52 1507.73 1317.09 1503.96 1315.48C1500.2 1313.86 1496.81 1309.59 1494.28 1305.79C1491.75 1302 1488.95 1296.45 1487.82 1291.27C1486.7 1286.09 1485.74 1274.27 1486.21 1268.67C1486.68 1263.08 1488.65 1257.35 1491.05 1252.53C1493.46 1247.72 1498.33 1243.23 1500.73 1239.62C1503.14 1236.01 1506.92 1232.09 1507.19 1228.32C1507.46 1224.56 1504.28 1220.64 1502.35 1217.03C1500.42 1213.41 1496.64 1208.31 1494.28 1204.12C1491.92 1199.92 1489.11 1195.84 1487.82 1191.2C1486.54 1186.57 1485.7 1179.63 1486.21 1175.06Z" fill="#878787"/>
<rect x="1468.46" y="1319.51" width="135.57" height="12.1" fill="#878787"/>
<rect x="1468.46" y="1165.38" width="11.62" height="166.24" fill="#999999"/>
<path d="M1489.44 1178.29C1489.68 1174.9 1491.59 1168.88 1494.28 1165.38C1496.97 1161.88 1501.3 1159.07 1505.58 1157.31C1509.86 1155.55 1516.28 1154.86 1521.72 1154.08C1527.15 1153.31 1533.53 1152.73 1539.47 1152.47C1545.41 1152.21 1553.37 1151.97 1558.84 1152.47C1564.3 1152.97 1569.72 1154.12 1574.98 1155.7C1580.23 1157.27 1587.96 1159.9 1591.12 1162.15C1594.27 1164.41 1597.03 1168.61 1597.57 1171.84C1598.11 1175.06 1596.87 1179.24 1594.34 1181.52C1591.81 1183.8 1585.91 1185.31 1581.43 1186.36C1576.96 1187.41 1571.05 1186.68 1566.91 1187.98C1562.77 1189.27 1559.33 1192.2 1555.61 1194.43C1551.89 1196.66 1546.89 1200.14 1542.7 1202.5C1538.5 1204.86 1532.68 1206.06 1529.79 1208.96C1526.89 1211.85 1525.48 1216.22 1524.94 1220.26C1524.41 1224.29 1525.21 1229.13 1526.56 1233.17C1527.9 1237.2 1530.32 1241.24 1533.01 1244.46C1535.7 1247.69 1540.55 1249.04 1542.7 1252.53C1544.85 1256.03 1546.46 1261.14 1545.93 1265.45C1545.39 1269.75 1541.85 1274.39 1539.47 1278.36C1537.09 1282.33 1534.09 1285.89 1531.4 1289.65C1528.71 1293.42 1526.07 1298.21 1523.33 1300.95C1520.59 1303.7 1516.87 1306.87 1513.65 1307.41C1510.42 1307.95 1506.6 1306.33 1503.96 1304.18C1501.33 1302.03 1497.86 1297.07 1495.89 1292.88C1493.92 1288.7 1491.59 1282.12 1491.05 1276.74C1490.51 1271.36 1490.78 1265.18 1492.66 1260.6C1494.55 1256.03 1499.25 1253.18 1502.35 1249.31C1505.45 1245.43 1510.05 1240.36 1512.03 1236.39C1514.02 1232.43 1515.53 1227.79 1515.26 1223.48C1514.99 1219.18 1512.67 1214.58 1510.42 1210.57C1508.16 1206.57 1503.33 1200.96 1500.73 1197.66C1498.14 1194.36 1494.38 1190.92 1492.66 1187.98C1490.95 1185.04 1489.19 1181.69 1489.44 1178.29Z" fill="#adadad"/>
<rect x="1468.46" y="1166.99" width="10.97" height="164.62" fill="#adadad"/>
<rect x="1468.46" y="1320.64" width="129.12" height="10.97" fill="#adadad"/>
<path d="M1502.35 1175.06C1502.87 1172.72 1505.72 1168.54 1508.8 1166.99C1511.89 1165.45 1517.41 1165.38 1521.72 1165.38C1526.02 1165.38 1530.59 1167.53 1534.63 1166.99C1538.66 1166.46 1541.89 1162.69 1545.93 1162.15C1549.96 1161.62 1555.51 1163.05 1558.84 1163.77C1562.16 1164.48 1568.52 1166.99 1568.52 1166.99C1568.52 1166.99 1567.03 1170.97 1565.29 1171.84C1563.56 1172.7 1556.62 1173.74 1552.38 1175.06C1548.15 1176.39 1543.7 1178.58 1539.47 1179.91C1535.23 1181.23 1530.83 1182.6 1526.56 1183.13C1522.29 1183.67 1516.38 1183.34 1513.65 1183.13C1510.91 1182.92 1507.46 1182.87 1505.58 1181.52C1503.69 1180.18 1501.83 1177.41 1502.35 1175.06Z" fill="#c2c2c2" stroke="#c2c2c2" stroke-width="4.4" stroke-linejoin="round"/>
<ellipse cx="1513.65" cy="1270.29" rx="4.52" ry="8.07" fill="#c2c2c2"/>
<path d="M1502.35 1175.06C1502.87 1172.72 1505.72 1168.54 1508.8 1166.99C1511.89 1165.45 1517.41 1165.38 1521.72 1165.38C1526.02 1165.38 1530.59 1167.53 1534.63 1166.99C1538.66 1166.46 1541.89 1162.69 1545.93 1162.15C1549.96 1161.62 1555.51 1163.05 1558.84 1163.77C1562.16 1164.48 1568.52 1166.99 1568.52 1166.99C1568.52 1166.99 1567.03 1170.97 1565.29 1171.84C1563.56 1172.7 1556.62 1173.74 1552.38 1175.06C1548.15 1176.39 1543.7 1178.58 1539.47 1179.91C1535.23 1181.23 1530.83 1182.6 1526.56 1183.13C1522.29 1183.67 1516.38 1183.34 1513.65 1183.13C1510.91 1182.92 1507.46 1182.87 1505.58 1181.52C1503.69 1180.18 1501.83 1177.41 1502.35 1175.06Z" fill="#d6d6d6"/>
<rect x="1468.46" y="1168.61" width="9.85" height="163.01" fill="#d6d6d6"/>
<rect x="1468.46" y="1321.93" width="119.43" height="9.68" fill="#d6d6d6"/>
<path d="M1508.8 1175.06C1508.8 1175.06 1511.48 1170.94 1513.65 1170.22C1515.81 1169.5 1521.51 1169.54 1523.33 1170.22C1525.15 1170.9 1526.56 1173.45 1526.56 1175.06C1526.56 1176.68 1525.11 1179.13 1523.33 1179.91C1521.55 1180.68 1516 1181.5 1513.65 1180.71C1511.29 1179.93 1508.8 1175.06 1508.8 1175.06Z" fill="#e6e6e6"/>
<ellipse cx="1537.86" cy="1170.55" rx="6.46" ry="2.91" transform="rotate(-10 1537.86 1170.55)" fill="#e6e6e6"/>
<rect x="1468.46" y="1187.98" width="8.39" height="143.64" fill="#e6e6e6"/>
<rect x="1468.46" y="1322.74" width="103.29" height="8.88" fill="#e6e6e6"/>
<rect x="1468.46" y="1323.55" width="83.93" height="8.07" fill="#ffffff"/>
</g></g></g>
<path d="M1714.5 1087.5 V1327.5" fill="none" stroke="#444" stroke-width="1"/>
<path d="M1474.5 1087.5 H1714.5" fill="none" stroke="#000" stroke-width="1.5"/>
<path d="M1474.5 1086.9 V1327.5 H1715" fill="none" stroke="#000" stroke-width="1.5"/>
<path d="M1474.85 1327.5v3.3M1483.3 1327.5v3.3M1489.84 1327.5v3.3M1495.19 1327.5v3.3M1499.72 1327.5v3.3M1503.64 1327.5v3.3M1507.09 1327.5v3.3M1510.19 1327.5v6.4M1530.53 1327.5v3.3M1542.43 1327.5v3.3M1550.87 1327.5v3.3M1557.42 1327.5v3.3M1562.77 1327.5v3.3M1567.29 1327.5v3.3M1571.21 1327.5v3.3M1574.67 1327.5v3.3M1577.76 1327.5v6.4M1598.1 1327.5v3.3M1610 1327.5v3.3M1618.44 1327.5v3.3M1624.99 1327.5v3.3M1630.34 1327.5v3.3M1634.86 1327.5v3.3M1638.78 1327.5v3.3M1642.24 1327.5v3.3M1645.33 1327.5v6.4M1665.67 1327.5v3.3M1677.57 1327.5v3.3M1686.01 1327.5v3.3M1692.56 1327.5v3.3M1697.91 1327.5v3.3M1702.43 1327.5v3.3M1706.35 1327.5v3.3M1709.81 1327.5v3.3M1712.9 1327.5v6" stroke="#000" stroke-width="1.15" fill="none"/>
<text transform="translate(1511.19 1347.8) scale(0.8173 1)" font-size="8.8" fill="#0a0a0a" stroke="#0a0a0a" stroke-width="0.28">10</text>
<text transform="translate(1519.99 1342.8) scale(0.8448 1)" font-size="8.3" fill="#0a0a0a" stroke="#0a0a0a" stroke-width="0.28">1</text>
<text transform="translate(1578.76 1347.8) scale(0.8173 1)" font-size="8.8" fill="#0a0a0a" stroke="#0a0a0a" stroke-width="0.28">10</text>
<text transform="translate(1587.56 1342.8) scale(0.8448 1)" font-size="8.3" fill="#0a0a0a" stroke="#0a0a0a" stroke-width="0.28">2</text>
<text transform="translate(1646.33 1347.8) scale(0.8173 1)" font-size="8.8" fill="#0a0a0a" stroke="#0a0a0a" stroke-width="0.28">10</text>
<text transform="translate(1655.13 1342.8) scale(0.8448 1)" font-size="8.3" fill="#0a0a0a" stroke="#0a0a0a" stroke-width="0.28">3</text>
<text transform="translate(1702.5 1347.8) scale(0.8173 1)" font-size="8.8" fill="#0a0a0a" stroke="#0a0a0a" stroke-width="0.28">10</text>
<text transform="translate(1711.3 1342.8) scale(0.8448 1)" font-size="8.3" fill="#0a0a0a" stroke="#0a0a0a" stroke-width="0.28">4</text>
<text transform="translate(1453 1296.82) scale(0.8173 1)" font-size="8.8" fill="#0a0a0a" stroke="#0a0a0a" stroke-width="0.28">10</text>
<text transform="translate(1461.8 1291.82) scale(0.8448 1)" font-size="8.3" fill="#0a0a0a" stroke="#0a0a0a" stroke-width="0.28">1</text>
<text transform="translate(1453 1229.24) scale(0.8173 1)" font-size="8.8" fill="#0a0a0a" stroke="#0a0a0a" stroke-width="0.28">10</text>
<text transform="translate(1461.8 1224.24) scale(0.8448 1)" font-size="8.3" fill="#0a0a0a" stroke="#0a0a0a" stroke-width="0.28">2</text>
<text transform="translate(1453 1161.67) scale(0.8173 1)" font-size="8.8" fill="#0a0a0a" stroke="#0a0a0a" stroke-width="0.28">10</text>
<text transform="translate(1461.8 1156.67) scale(0.8448 1)" font-size="8.3" fill="#0a0a0a" stroke="#0a0a0a" stroke-width="0.28">3</text>
<text transform="translate(1453 1101.8) scale(0.8173 1)" font-size="8.8" fill="#0a0a0a" stroke="#0a0a0a" stroke-width="0.28">10</text>
<text transform="translate(1461.8 1096.8) scale(0.8448 1)" font-size="8.3" fill="#0a0a0a" stroke="#0a0a0a" stroke-width="0.28">4</text>
<path d="M1474.5 1326.45h-3.3M1474.5 1318h-3.3M1474.5 1311.46h-3.3M1474.5 1306.11h-3.3M1474.5 1301.58h-3.3M1474.5 1297.66h-3.3M1474.5 1294.21h-3.3M1474.5 1291.12h-6.4M1474.5 1270.77h-3.3M1474.5 1258.88h-3.3M1474.5 1250.43h-3.3M1474.5 1243.88h-3.3M1474.5 1238.53h-3.3M1474.5 1234.01h-3.3M1474.5 1230.09h-3.3M1474.5 1226.64h-3.3M1474.5 1223.54h-6.4M1474.5 1203.2h-3.3M1474.5 1191.3h-3.3M1474.5 1182.86h-3.3M1474.5 1176.31h-3.3M1474.5 1170.96h-3.3M1474.5 1166.44h-3.3M1474.5 1162.52h-3.3M1474.5 1159.06h-3.3M1474.5 1155.97h-6.4M1474.5 1135.63h-3.3M1474.5 1123.73h-3.3M1474.5 1115.29h-3.3M1474.5 1108.74h-3.3M1474.5 1103.39h-3.3M1474.5 1098.87h-3.3M1474.5 1094.95h-3.3M1474.5 1091.49h-3.3M1474.5 1088h-6" stroke="#000" stroke-width="1.1" fill="none"/>
<text transform="translate(1591.5 1370.7)" font-size="10.15" text-anchor="middle" fill="#0a0a0a" stroke="#0a0a0a" stroke-width="0.28">405 450  50-A :: PB Sca-1 405 450  50-A</text>
<text transform="translate(1425.6 1207.5) rotate(-90)" font-size="10" text-anchor="middle" fill="#0a0a0a" stroke="#0a0a0a" stroke-width="0.28">561 780_60-A :: PECy-7 c-kit 561 780_60-A</text>
<rect x="1474.5" y="1087.5" width="74" height="105" fill="none" stroke="#000" stroke-width="1.35"/>
<rect x="1554.5" y="1087.5" width="114" height="103" fill="none" stroke="#000" stroke-width="1.35"/>
<text transform="translate(1505.9 1106.3)" font-size="10" text-anchor="middle" fill="#0a0a0a" stroke="#0a0a0a" stroke-width="0.28">c-kit+Sca-1-</text>
<text transform="translate(1505.9 1120.1)" font-size="9.7" text-anchor="middle" fill="#0a0a0a" stroke="#0a0a0a" stroke-width="0.28">19.5</text>
<text transform="translate(1603.59 1105.8) scale(0.9375 1)" font-size="9.6" fill="#0a0a0a" stroke="#0a0a0a" stroke-width="0.28">LSK</text>
<text transform="translate(1612.1 1120)" font-size="9.7" text-anchor="middle" fill="#0a0a0a" stroke="#0a0a0a" stroke-width="0.28">12.3</text>
<path d="M1384.4 1299 V1418.8 H1503.5" fill="none" stroke="#1a1a1a" stroke-width="3.3" stroke-linejoin="miter"/>
<polygon points="1384.4,1260.5 1395.7,1301 1373.1,1301" fill="#1a1a1a"/>
<polygon points="1542,1418.8 1501.5,1407.5 1501.5,1430.1" fill="#1a1a1a"/>
<text transform="translate(1553.5 1429.3) scale(0.8945 1)" font-size="39.97" fill="#111">Sca-1</text>
<text transform="translate(1398.12 1244.5) rotate(-90) scale(0.9322 1)" font-size="42.15" fill="#111">cKit</text>
</g>
<g id="plot13">
<clipPath id="cp13"><rect x="184" y="1496.2" width="240.3" height="239.8"/></clipPath>
<clipPath id="bc13"><path d="M178.46 1600.4C178.46 1600.4 187.08 1600.69 189.75 1601.2C192.43 1601.72 197.51 1604.43 199.44 1604.43C201.36 1604.43 204.6 1602.5 205.89 1601.2C207.18 1599.91 207.99 1596.3 209.12 1594.75C210.25 1593.19 217.7 1585.35 218.8 1583.45C219.91 1581.56 221.06 1576.89 220.42 1575.38C219.77 1573.87 215.25 1573.44 213.96 1572.15C212.67 1570.86 210.73 1567.42 210.73 1565.7C210.73 1563.98 212.81 1560.78 213.96 1559.24C215.12 1557.7 219 1554.41 220.42 1552.79C221.84 1551.17 223.84 1547.95 225.26 1546.33C226.68 1544.71 229.79 1541.37 231.72 1539.87C233.64 1538.38 237.46 1535.98 239.79 1535.03C242.11 1534.08 246.89 1532.83 249.47 1532.61C252.05 1532.4 256.57 1533.42 259.15 1533.42C261.74 1533.42 267.01 1532.43 268.84 1532.61C270.67 1532.79 273.87 1533.87 275.29 1535.03C276.72 1536.19 280.31 1541.05 281.75 1543.1C283.19 1545.16 285.4 1549.38 286.59 1551.17C287.78 1552.96 290.83 1556.02 291.43 1557.63C292.04 1559.24 292.13 1562.51 291.43 1564.08C290.73 1565.66 286.05 1569.79 284.98 1572.15C283.9 1574.52 283.55 1579.23 283.36 1581.84C283.18 1584.45 283.55 1592.14 283.36 1594.75C283.18 1597.36 282.36 1602.2 281.75 1604.43C281.14 1606.67 279.71 1610.51 278.52 1612.5C277.33 1614.49 273.54 1618.25 272.06 1620.57C270.59 1622.9 267.97 1628.19 267.22 1630.26C266.47 1632.32 266.67 1636.41 265.61 1638.32C264.54 1640.24 260.65 1642.86 259.15 1644.78C257.66 1646.7 255.35 1650.57 254.31 1652.85C253.27 1655.13 251.72 1659.99 251.08 1662.53C250.45 1665.07 249.47 1669.64 249.47 1672.22C249.47 1674.8 251.3 1679.32 251.08 1681.9C250.87 1684.48 248.89 1689.3 247.86 1691.58C246.82 1693.87 243.98 1697.34 243.01 1699.65C242.05 1701.97 240.44 1709.14 239.79 1710.95C239.13 1712.76 236.77 1715.5 236.56 1717.41C236.35 1719.32 237.54 1723.38 238.17 1725.48C238.8 1727.58 241.18 1731.4 241.4 1733.55C241.61 1735.7 239.79 1741.62 239.79 1741.62C239.79 1741.62 178.46 1741.62 178.46 1741.62C178.46 1741.62 178.46 1600.4 178.46 1600.4Z"/></clipPath>
<g clip-path="url(#cp13)"><g filter="url(#jet)">
<g fill="#383838"><path d="M178.46 1600.4C178.46 1600.4 187.08 1600.69 189.75 1601.2C192.43 1601.72 197.51 1604.43 199.44 1604.43C201.36 1604.43 204.6 1602.5 205.89 1601.2C207.18 1599.91 207.99 1596.3 209.12 1594.75C210.25 1593.19 217.7 1585.35 218.8 1583.45C219.91 1581.56 221.06 1576.89 220.42 1575.38C219.77 1573.87 215.25 1573.44 213.96 1572.15C212.67 1570.86 210.73 1567.42 210.73 1565.7C210.73 1563.98 212.81 1560.78 213.96 1559.24C215.12 1557.7 219 1554.41 220.42 1552.79C221.84 1551.17 223.84 1547.95 225.26 1546.33C226.68 1544.71 229.79 1541.37 231.72 1539.87C233.64 1538.38 237.46 1535.98 239.79 1535.03C242.11 1534.08 246.89 1532.83 249.47 1532.61C252.05 1532.4 256.57 1533.42 259.15 1533.42C261.74 1533.42 267.01 1532.43 268.84 1532.61C270.67 1532.79 273.87 1533.87 275.29 1535.03C276.72 1536.19 280.31 1541.05 281.75 1543.1C283.19 1545.16 285.4 1549.38 286.59 1551.17C287.78 1552.96 290.83 1556.02 291.43 1557.63C292.04 1559.24 292.13 1562.51 291.43 1564.08C290.73 1565.66 286.05 1569.79 284.98 1572.15C283.9 1574.52 283.55 1579.23 283.36 1581.84C283.18 1584.45 283.55 1592.14 283.36 1594.75C283.18 1597.36 282.36 1602.2 281.75 1604.43C281.14 1606.67 279.71 1610.51 278.52 1612.5C277.33 1614.49 273.54 1618.25 272.06 1620.57C270.59 1622.9 267.97 1628.19 267.22 1630.26C266.47 1632.32 266.67 1636.41 265.61 1638.32C264.54 1640.24 260.65 1642.86 259.15 1644.78C257.66 1646.7 255.35 1650.57 254.31 1652.85C253.27 1655.13 251.72 1659.99 251.08 1662.53C250.45 1665.07 249.47 1669.64 249.47 1672.22C249.47 1674.8 251.3 1679.32 251.08 1681.9C250.87 1684.48 248.89 1689.3 247.86 1691.58C246.82 1693.87 243.98 1697.34 243.01 1699.65C242.05 1701.97 240.44 1709.14 239.79 1710.95C239.13 1712.76 236.77 1715.5 236.56 1717.41C236.35 1719.32 237.54 1723.38 238.17 1725.48C238.8 1727.58 241.18 1731.4 241.4 1733.55C241.61 1735.7 239.79 1741.62 239.79 1741.62C239.79 1741.62 178.46 1741.62 178.46 1741.62C178.46 1741.62 178.46 1600.4 178.46 1600.4Z"/></g>
<g clip-path="url(#bc13)">
<path d="M188.14 1607.66C188.14 1607.66 197.02 1611.43 201.05 1610.89C205.09 1610.35 209.4 1607.61 212.35 1604.43C215.3 1601.25 219.98 1592.4 222.03 1588.29C224.09 1584.18 225.88 1579.87 226.87 1575.38C227.87 1570.89 226.88 1564.06 228.49 1559.24C230.09 1554.43 233.06 1549.56 236.56 1546.33C240.05 1543.1 244.9 1540.95 249.47 1539.87C254.04 1538.8 259.69 1538.53 263.99 1539.87C268.3 1541.22 272.55 1545.2 275.29 1547.94C278.04 1550.69 280.67 1554.13 281.75 1557.63C282.82 1561.12 282.49 1565.23 281.75 1568.93C281.01 1572.62 277.9 1577.35 276.91 1581.84C275.91 1586.32 276.64 1592.87 275.29 1597.98C273.95 1603.09 271.47 1608.3 268.84 1612.5C266.21 1616.71 262.65 1620.3 259.15 1623.8C255.66 1627.3 250.83 1630.51 247.86 1633.48C244.88 1636.45 241.64 1639.72 239.79 1643.17C237.93 1646.61 237.02 1650.57 236.56 1654.46C236.1 1658.35 236.83 1665.23 236.56 1670.6C236.29 1675.98 236.72 1682.94 234.94 1686.74C233.17 1690.55 229.27 1693.56 225.26 1694.81C221.25 1696.07 213.82 1695.86 209.12 1694.81C204.42 1693.77 199.44 1691.58 196.21 1688.36C192.98 1685.13 190.66 1680.17 189.75 1675.45C188.84 1670.72 188.37 1656.09 188.14 1646.39C187.91 1636.7 188.14 1607.66 188.14 1607.66Z" fill="#454545" stroke="#454545" stroke-width="8.1" stroke-linejoin="round"/>
<path d="M188.14 1607.66C188.14 1607.66 197.02 1611.43 201.05 1610.89C205.09 1610.35 209.4 1607.61 212.35 1604.43C215.3 1601.25 219.98 1592.4 222.03 1588.29C224.09 1584.18 225.88 1579.87 226.87 1575.38C227.87 1570.89 226.88 1564.06 228.49 1559.24C230.09 1554.43 233.06 1549.56 236.56 1546.33C240.05 1543.1 244.9 1540.95 249.47 1539.87C254.04 1538.8 259.69 1538.53 263.99 1539.87C268.3 1541.22 272.55 1545.2 275.29 1547.94C278.04 1550.69 280.67 1554.13 281.75 1557.63C282.82 1561.12 282.49 1565.23 281.75 1568.93C281.01 1572.62 277.9 1577.35 276.91 1581.84C275.91 1586.32 276.64 1592.87 275.29 1597.98C273.95 1603.09 271.47 1608.3 268.84 1612.5C266.21 1616.71 262.65 1620.3 259.15 1623.8C255.66 1627.3 250.83 1630.51 247.86 1633.48C244.88 1636.45 241.64 1639.72 239.79 1643.17C237.93 1646.61 237.02 1650.57 236.56 1654.46C236.1 1658.35 236.83 1665.23 236.56 1670.6C236.29 1675.98 236.72 1682.94 234.94 1686.74C233.17 1690.55 229.27 1693.56 225.26 1694.81C221.25 1696.07 213.82 1695.86 209.12 1694.81C204.42 1693.77 199.44 1691.58 196.21 1688.36C192.98 1685.13 190.66 1680.17 189.75 1675.45C188.84 1670.72 188.37 1656.09 188.14 1646.39C187.91 1636.7 188.14 1607.66 188.14 1607.66Z" fill="#525252" stroke="#525252" stroke-width="5.4" stroke-linejoin="round"/>
<path d="M188.14 1607.66C188.14 1607.66 197.02 1611.43 201.05 1610.89C205.09 1610.35 209.4 1607.61 212.35 1604.43C215.3 1601.25 219.98 1592.4 222.03 1588.29C224.09 1584.18 225.88 1579.87 226.87 1575.38C227.87 1570.89 226.88 1564.06 228.49 1559.24C230.09 1554.43 233.06 1549.56 236.56 1546.33C240.05 1543.1 244.9 1540.95 249.47 1539.87C254.04 1538.8 259.69 1538.53 263.99 1539.87C268.3 1541.22 272.55 1545.2 275.29 1547.94C278.04 1550.69 280.67 1554.13 281.75 1557.63C282.82 1561.12 282.49 1565.23 281.75 1568.93C281.01 1572.62 277.9 1577.35 276.91 1581.84C275.91 1586.32 276.64 1592.87 275.29 1597.98C273.95 1603.09 271.47 1608.3 268.84 1612.5C266.21 1616.71 262.65 1620.3 259.15 1623.8C255.66 1627.3 250.83 1630.51 247.86 1633.48C244.88 1636.45 241.64 1639.72 239.79 1643.17C237.93 1646.61 237.02 1650.57 236.56 1654.46C236.1 1658.35 236.83 1665.23 236.56 1670.6C236.29 1675.98 236.72 1682.94 234.94 1686.74C233.17 1690.55 229.27 1693.56 225.26 1694.81C221.25 1696.07 213.82 1695.86 209.12 1694.81C204.42 1693.77 199.44 1691.58 196.21 1688.36C192.98 1685.13 190.66 1680.17 189.75 1675.45C188.84 1670.72 188.37 1656.09 188.14 1646.39C187.91 1636.7 188.14 1607.66 188.14 1607.66Z" fill="#5e5e5e" stroke="#5e5e5e" stroke-width="3.6" stroke-linejoin="round"/>
<path d="M188.14 1607.66C188.14 1607.66 197.02 1611.43 201.05 1610.89C205.09 1610.35 209.4 1607.61 212.35 1604.43C215.3 1601.25 219.98 1592.4 222.03 1588.29C224.09 1584.18 225.88 1579.87 226.87 1575.38C227.87 1570.89 226.88 1564.06 228.49 1559.24C230.09 1554.43 233.06 1549.56 236.56 1546.33C240.05 1543.1 244.9 1540.95 249.47 1539.87C254.04 1538.8 259.69 1538.53 263.99 1539.87C268.3 1541.22 272.55 1545.2 275.29 1547.94C278.04 1550.69 280.67 1554.13 281.75 1557.63C282.82 1561.12 282.49 1565.23 281.75 1568.93C281.01 1572.62 277.9 1577.35 276.91 1581.84C275.91 1586.32 276.64 1592.87 275.29 1597.98C273.95 1603.09 271.47 1608.3 268.84 1612.5C266.21 1616.71 262.65 1620.3 259.15 1623.8C255.66 1627.3 250.83 1630.51 247.86 1633.48C244.88 1636.45 241.64 1639.72 239.79 1643.17C237.93 1646.61 237.02 1650.57 236.56 1654.46C236.1 1658.35 236.83 1665.23 236.56 1670.6C236.29 1675.98 236.72 1682.94 234.94 1686.74C233.17 1690.55 229.27 1693.56 225.26 1694.81C221.25 1696.07 213.82 1695.86 209.12 1694.81C204.42 1693.77 199.44 1691.58 196.21 1688.36C192.98 1685.13 190.66 1680.17 189.75 1675.45C188.84 1670.72 188.37 1656.09 188.14 1646.39C187.91 1636.7 188.14 1607.66 188.14 1607.66Z" fill="#6b6b6b" stroke="#6b6b6b" stroke-width="1.8" stroke-linejoin="round"/>
<path d="M188.14 1607.66C188.14 1607.66 197.02 1611.43 201.05 1610.89C205.09 1610.35 209.4 1607.61 212.35 1604.43C215.3 1601.25 219.98 1592.4 222.03 1588.29C224.09 1584.18 225.88 1579.87 226.87 1575.38C227.87 1570.89 226.88 1564.06 228.49 1559.24C230.09 1554.43 233.06 1549.56 236.56 1546.33C240.05 1543.1 244.9 1540.95 249.47 1539.87C254.04 1538.8 259.69 1538.53 263.99 1539.87C268.3 1541.22 272.55 1545.2 275.29 1547.94C278.04 1550.69 280.67 1554.13 281.75 1557.63C282.82 1561.12 282.49 1565.23 281.75 1568.93C281.01 1572.62 277.9 1577.35 276.91 1581.84C275.91 1586.32 276.64 1592.87 275.29 1597.98C273.95 1603.09 271.47 1608.3 268.84 1612.5C266.21 1616.71 262.65 1620.3 259.15 1623.8C255.66 1627.3 250.83 1630.51 247.86 1633.48C244.88 1636.45 241.64 1639.72 239.79 1643.17C237.93 1646.61 237.02 1650.57 236.56 1654.46C236.1 1658.35 236.83 1665.23 236.56 1670.6C236.29 1675.98 236.72 1682.94 234.94 1686.74C233.17 1690.55 229.27 1693.56 225.26 1694.81C221.25 1696.07 213.82 1695.86 209.12 1694.81C204.42 1693.77 199.44 1691.58 196.21 1688.36C192.98 1685.13 190.66 1680.17 189.75 1675.45C188.84 1670.72 188.37 1656.09 188.14 1646.39C187.91 1636.7 188.14 1607.66 188.14 1607.66Z" fill="#878787"/>
<ellipse cx="223.65" cy="1734.84" rx="3.23" ry="2.26" fill="#999999"/>
<path d="M228.49 1627.03C227.17 1624.62 226.61 1616.27 226.87 1610.89C227.14 1605.51 229.3 1600.1 230.1 1594.75C230.9 1589.4 231.18 1583.99 231.72 1578.61C232.25 1573.23 231.72 1567.28 233.33 1562.47C234.93 1557.65 238.36 1552.47 241.4 1549.56C244.44 1546.64 249.01 1544.7 252.7 1543.91C256.39 1543.12 260.77 1543.51 263.99 1544.72C267.22 1545.93 269.91 1548.48 272.06 1551.17C274.22 1553.86 276.43 1557.28 276.91 1560.86C277.38 1564.43 276.35 1570.63 275.29 1575.38C274.24 1580.14 271.78 1585.13 270.45 1589.91C269.12 1594.69 269.08 1600.19 267.22 1604.43C265.37 1608.67 262.38 1612.5 259.15 1615.73C255.93 1618.96 251.41 1621.77 247.86 1623.8C244.3 1625.83 239.26 1628.19 236.56 1628.64C233.85 1629.09 229.8 1629.44 228.49 1627.03Z" fill="#adadad"/>
<path d="M186.53 1614.12C186.53 1614.12 192.45 1615.39 194.6 1617.34C196.74 1619.29 201.68 1626.95 204.28 1630.26C206.87 1633.56 208.85 1638.86 212.35 1639.94C215.85 1641.01 222.26 1636.21 225.26 1636.71C228.26 1637.21 230.91 1640.48 231.72 1643.17C232.52 1645.86 231.98 1650.7 230.1 1652.85C228.22 1655 223.81 1655.84 220.42 1656.08C217.02 1656.32 211.16 1655.77 207.51 1654.46C203.85 1653.16 200.69 1650.62 197.82 1648.01C194.95 1645.4 191.31 1640.77 189.75 1638.32C188.2 1635.88 186.91 1633.13 186.53 1630.26C186.14 1627.38 186.53 1614.12 186.53 1614.12Z" fill="#adadad"/>
<path d="M204.28 1667.38C204.28 1667.38 213.27 1664.15 217.19 1664.15C221.11 1664.15 226.07 1664.95 228.49 1667.38C230.91 1669.8 231.98 1675.55 231.72 1678.67C231.46 1681.8 229.56 1685.67 226.87 1686.74C224.18 1687.82 219.07 1686.47 215.58 1685.13C212.08 1683.78 207.78 1681.63 205.89 1678.67C204.01 1675.71 204.28 1667.38 204.28 1667.38Z" fill="#adadad"/>
<rect x="178.46" y="1610.89" width="12.59" height="69.4" fill="#adadad"/>
<path d="M236.56 1601.2C235.75 1598.25 238.84 1593.71 239.79 1589.91C240.74 1586.11 242.48 1580.19 243.01 1575.38C243.55 1570.57 242.07 1564.17 243.01 1560.86C243.96 1557.54 246.51 1554.4 249.47 1552.79C252.43 1551.17 257.67 1550.66 260.77 1551.17C263.86 1551.69 267.33 1553.26 268.84 1556.01C270.34 1558.77 270.72 1564.62 270.45 1568.93C270.18 1573.23 268.55 1577.6 267.22 1581.84C265.9 1586.07 264.12 1591.28 262.38 1594.75C260.65 1598.22 258.88 1602.28 255.93 1604.43C252.97 1606.58 247.86 1608.2 244.63 1607.66C241.4 1607.12 237.36 1604.16 236.56 1601.2Z" fill="#c2c2c2" stroke="#c2c2c2" stroke-width="1.98" stroke-linejoin="round"/>
<path d="M236.56 1601.2C235.75 1598.25 238.84 1593.71 239.79 1589.91C240.74 1586.11 242.48 1580.19 243.01 1575.38C243.55 1570.57 242.07 1564.17 243.01 1560.86C243.96 1557.54 246.51 1554.4 249.47 1552.79C252.43 1551.17 257.67 1550.66 260.77 1551.17C263.86 1551.69 267.33 1553.26 268.84 1556.01C270.34 1558.77 270.72 1564.62 270.45 1568.93C270.18 1573.23 268.55 1577.6 267.22 1581.84C265.9 1586.07 264.12 1591.28 262.38 1594.75C260.65 1598.22 258.88 1602.28 255.93 1604.43C252.97 1606.58 247.86 1608.2 244.63 1607.66C241.4 1607.12 237.36 1604.16 236.56 1601.2Z" fill="#d6d6d6"/>
<ellipse cx="185.23" cy="1735.97" rx="2.91" ry="2.91" fill="#d6d6d6"/>
<path d="M241.4 1597.98C241.4 1597.98 244.19 1589.48 244.63 1585.06C245.07 1580.65 243.79 1569.48 244.63 1565.7C245.47 1561.91 248.42 1558.01 251.08 1556.01C253.75 1554.02 258.24 1553.34 260.77 1553.59C263.29 1553.85 266.14 1555.33 267.22 1557.63C268.31 1559.92 268.53 1565.18 268.03 1568.93C267.53 1572.67 265.41 1577.99 263.99 1581.84C262.58 1585.68 261.26 1589.97 259.15 1593.13C257.04 1596.3 254.04 1600.4 251.08 1601.2C248.12 1602.01 241.4 1597.98 241.4 1597.98Z" fill="#e6e6e6"/>
<path d="M246.24 1575.38C245.75 1573.03 244.76 1565.05 245.43 1562.47C246.11 1559.89 248.73 1558.06 251.08 1556.82C253.44 1555.58 258.47 1554.16 260.77 1554.4C263.07 1554.64 265.58 1556.28 266.42 1558.43C267.25 1560.59 267.05 1565.49 266.42 1568.93C265.78 1572.36 264.26 1577.71 262.38 1580.22C260.5 1582.73 256.24 1584.82 254.31 1585.06C252.39 1585.31 250.71 1583.33 249.47 1581.84C248.23 1580.35 246.73 1577.74 246.24 1575.38Z" fill="#ffffff"/>
<ellipse cx="184.91" cy="1736.45" rx="1.78" ry="1.78" fill="#ffffff"/>
</g></g></g>
<path d="M424.5 1496 V1736" fill="none" stroke="#444" stroke-width="1"/>
<path d="M184 1496 H424.5" fill="none" stroke="#333" stroke-width="1"/>
<path d="M184 1495.4 V1736 H425" fill="none" stroke="#000" stroke-width="1.5"/>
<path d="M184.35 1736v3.3M192.81 1736v3.3M199.37 1736v3.3M204.73 1736v3.3M209.26 1736v3.3M213.19 1736v3.3M216.65 1736v3.3M219.74 1736v6.4M240.12 1736v3.3M252.04 1736v3.3M260.49 1736v3.3M267.05 1736v3.3M272.41 1736v3.3M276.94 1736v3.3M280.87 1736v3.3M284.33 1736v3.3M287.43 1736v6.4M307.8 1736v3.3M319.72 1736v3.3M328.18 1736v3.3M334.74 1736v3.3M340.1 1736v3.3M344.63 1736v3.3M348.55 1736v3.3M352.02 1736v3.3M355.11 1736v6.4M375.49 1736v3.3M387.41 1736v3.3M395.86 1736v3.3M402.42 1736v3.3M407.78 1736v3.3M412.31 1736v3.3M416.24 1736v3.3M419.7 1736v3.3M422.8 1736v6" stroke="#000" stroke-width="1.15" fill="none"/>
<text transform="translate(220.74 1756.3) scale(0.8173 1)" font-size="8.8" fill="#0a0a0a" stroke="#0a0a0a" stroke-width="0.28">10</text>
<text transform="translate(229.54 1751.3) scale(0.8448 1)" font-size="8.3" fill="#0a0a0a" stroke="#0a0a0a" stroke-width="0.28">1</text>
<text transform="translate(288.43 1756.3) scale(0.8173 1)" font-size="8.8" fill="#0a0a0a" stroke="#0a0a0a" stroke-width="0.28">10</text>
<text transform="translate(297.23 1751.3) scale(0.8448 1)" font-size="8.3" fill="#0a0a0a" stroke="#0a0a0a" stroke-width="0.28">2</text>
<text transform="translate(356.11 1756.3) scale(0.8173 1)" font-size="8.8" fill="#0a0a0a" stroke="#0a0a0a" stroke-width="0.28">10</text>
<text transform="translate(364.91 1751.3) scale(0.8448 1)" font-size="8.3" fill="#0a0a0a" stroke="#0a0a0a" stroke-width="0.28">3</text>
<text transform="translate(412.5 1756.3) scale(0.8173 1)" font-size="8.8" fill="#0a0a0a" stroke="#0a0a0a" stroke-width="0.28">10</text>
<text transform="translate(421.3 1751.3) scale(0.8448 1)" font-size="8.3" fill="#0a0a0a" stroke="#0a0a0a" stroke-width="0.28">4</text>
<text transform="translate(162.5 1705.33) scale(0.8173 1)" font-size="8.8" fill="#0a0a0a" stroke="#0a0a0a" stroke-width="0.28">10</text>
<text transform="translate(171.3 1700.33) scale(0.8448 1)" font-size="8.3" fill="#0a0a0a" stroke="#0a0a0a" stroke-width="0.28">1</text>
<text transform="translate(162.5 1637.79) scale(0.8173 1)" font-size="8.8" fill="#0a0a0a" stroke="#0a0a0a" stroke-width="0.28">10</text>
<text transform="translate(171.3 1632.79) scale(0.8448 1)" font-size="8.3" fill="#0a0a0a" stroke="#0a0a0a" stroke-width="0.28">2</text>
<text transform="translate(162.5 1570.24) scale(0.8173 1)" font-size="8.8" fill="#0a0a0a" stroke="#0a0a0a" stroke-width="0.28">10</text>
<text transform="translate(171.3 1565.24) scale(0.8448 1)" font-size="8.3" fill="#0a0a0a" stroke="#0a0a0a" stroke-width="0.28">3</text>
<text transform="translate(162.5 1510.3) scale(0.8173 1)" font-size="8.8" fill="#0a0a0a" stroke="#0a0a0a" stroke-width="0.28">10</text>
<text transform="translate(171.3 1505.3) scale(0.8448 1)" font-size="8.3" fill="#0a0a0a" stroke="#0a0a0a" stroke-width="0.28">4</text>
<path d="M184 1734.95h-3.3M184 1726.51h-3.3M184 1719.96h-3.3M184 1714.61h-3.3M184 1710.09h-3.3M184 1706.18h-3.3M184 1702.72h-3.3M184 1699.63h-6.4M184 1679.3h-3.3M184 1667.4h-3.3M184 1658.96h-3.3M184 1652.42h-3.3M184 1647.07h-3.3M184 1642.55h-3.3M184 1638.63h-3.3M184 1635.18h-3.3M184 1632.09h-6.4M184 1611.75h-3.3M184 1599.86h-3.3M184 1591.42h-3.3M184 1584.88h-3.3M184 1579.53h-3.3M184 1575.01h-3.3M184 1571.09h-3.3M184 1567.63h-3.3M184 1564.54h-6.4M184 1544.21h-3.3M184 1532.32h-3.3M184 1523.88h-3.3M184 1517.33h-3.3M184 1511.98h-3.3M184 1507.46h-3.3M184 1503.54h-3.3M184 1500.09h-3.3M184 1496.5h-6" stroke="#000" stroke-width="1.1" fill="none"/>
<text transform="translate(301.25 1779.2)" font-size="10.15" text-anchor="middle" fill="#0a0a0a" stroke="#0a0a0a" stroke-width="0.28">488 530  30-A :: FITC CD34 488 530  30-A</text>
<text transform="translate(135.4 1616) rotate(-90)" font-size="10" text-anchor="middle" fill="#0a0a0a" stroke="#0a0a0a" stroke-width="0.28">561 586_15-A :: PE CD16_32 561 586_15-A</text>
<rect x="189.3" y="1693.3" width="29.5" height="34.1" fill="#dfe0f3" stroke="none" stroke-width="1"/>
<rect x="224.5" y="1532.5" width="90" height="100" fill="none" stroke="#222" stroke-width="1"/>
<rect x="235.5" y="1632.5" width="77" height="81" fill="none" stroke="#222" stroke-width="1"/>
<rect x="184.5" y="1660.5" width="51" height="76" fill="none" stroke="#222" stroke-width="1"/>
<text transform="translate(316.25 1580.9) scale(0.9375 1)" font-size="9.6" fill="#0a0a0a" stroke="#0a0a0a" stroke-width="0.28">GMP</text>
<text transform="translate(325.9 1595.3)" font-size="9.7" text-anchor="middle" fill="#0a0a0a" stroke="#0a0a0a" stroke-width="0.28">60.4</text>
<text transform="translate(317.4 1675.6) scale(0.9375 1)" font-size="9.6" fill="#0a0a0a" stroke="#0a0a0a" stroke-width="0.28">CMP</text>
<text transform="translate(326.5 1689.7)" font-size="9.7" text-anchor="middle" fill="#0a0a0a" stroke="#0a0a0a" stroke-width="0.28">5.01</text>
<text transform="translate(193.55 1708.2) scale(0.9375 1)" font-size="9.6" fill="#0a0a0a" stroke="#0a0a0a" stroke-width="0.28">MEP</text>
<text transform="translate(203.3 1722.2)" font-size="9.7" text-anchor="middle" fill="#0a0a0a" stroke="#0a0a0a" stroke-width="0.28">16.6</text>
<path d="M83 1694.5 V1813.7 H203" fill="none" stroke="#1a1a1a" stroke-width="3.3" stroke-linejoin="miter"/>
<polygon points="83,1656 94.3,1696.5 71.7,1696.5" fill="#1a1a1a"/>
<polygon points="241.5,1813.7 201,1802.4 201,1825" fill="#1a1a1a"/>
<text transform="translate(252.4 1824) scale(0.9889 1)" font-size="39.97" fill="#111">Cd34</text>
<text transform="translate(94.12 1641.5) rotate(-90) scale(0.9569 1)" font-size="42.15" fill="#111">Cd16/32</text>
</g>
<g id="plot14">
<clipPath id="cp14"><rect x="601.7" y="1496.8" width="239.6" height="239.9"/></clipPath>
<clipPath id="bc14"><path d="M596.46 1659.31C596.46 1659.31 603.21 1659.98 604.53 1660.92C605.84 1661.86 606.66 1666.1 607.75 1667.38C608.85 1668.65 614.21 1672.22 614.21 1672.22C614.21 1672.22 621.71 1667.83 622.28 1665.76C622.84 1663.69 619.05 1654.46 619.05 1654.46C619.05 1654.46 623.86 1650.91 625.51 1651.24C627.16 1651.57 633.34 1657.19 635.19 1657.69C637.04 1658.2 641.94 1657.11 643.26 1656.08C644.58 1655.04 645.17 1649.57 646.49 1648.82C647.81 1648.06 652.67 1649.45 654.56 1649.62C656.44 1649.79 661.98 1650.52 664.24 1650.43C666.5 1650.34 672.25 1649.4 673.93 1648.82C675.6 1648.23 679.24 1645.51 680.38 1644.78C681.52 1644.05 683.9 1641.55 685.22 1641.55C686.54 1641.55 690.14 1644.1 691.68 1644.78C693.22 1645.46 697.74 1647.73 699.75 1648.01C701.76 1648.28 707.17 1647.01 709.43 1647.2C711.69 1647.39 717.25 1649.37 719.12 1649.62C720.98 1649.88 725.31 1649.43 727.19 1649.62C729.06 1649.81 733.37 1650.89 735.26 1651.24C737.14 1651.58 743.06 1651.91 744.94 1652.85C746.82 1653.79 750.05 1658.3 751.39 1659.31C752.74 1660.32 756.25 1662 757.85 1662.53C759.45 1663.07 764.41 1663.02 765.92 1664.15C767.43 1665.28 770.2 1670.15 770.76 1672.22C771.33 1674.29 771.12 1679.91 770.76 1681.9C770.4 1683.9 768.85 1688.46 767.53 1689.97C766.22 1691.48 761.35 1693.68 759.46 1694.81C757.58 1695.94 752.34 1698.15 751.39 1699.65C750.45 1701.16 752.15 1706.41 751.39 1707.72C750.64 1709.04 746.61 1710.78 744.94 1710.95C743.26 1711.12 737.51 1709.71 735.26 1709.34C733 1708.96 727.83 1708.1 725.57 1707.72C723.31 1707.35 718.15 1705.73 715.89 1706.11C713.63 1706.49 707.95 1709.73 706.2 1710.95C704.46 1712.17 701.49 1716.19 699.75 1717.41C698 1718.63 692.26 1721.33 690.06 1722.25C687.87 1723.17 680.38 1725.48 680.38 1725.48C680.38 1725.48 685.41 1727.81 686.84 1728.71C688.26 1729.6 692.16 1732.04 693.29 1733.55C694.42 1735.05 696.52 1741.62 696.52 1741.62C696.52 1741.62 596.46 1741.62 596.46 1741.62C596.46 1741.62 596.46 1659.31 596.46 1659.31Z"/></clipPath>
<g clip-path="url(#cp14)"><g filter="url(#jet2)">
<g fill="#383838"><path d="M596.46 1659.31C596.46 1659.31 603.21 1659.98 604.53 1660.92C605.84 1661.86 606.66 1666.1 607.75 1667.38C608.85 1668.65 614.21 1672.22 614.21 1672.22C614.21 1672.22 621.71 1667.83 622.28 1665.76C622.84 1663.69 619.05 1654.46 619.05 1654.46C619.05 1654.46 623.86 1650.91 625.51 1651.24C627.16 1651.57 633.34 1657.19 635.19 1657.69C637.04 1658.2 641.94 1657.11 643.26 1656.08C644.58 1655.04 645.17 1649.57 646.49 1648.82C647.81 1648.06 652.67 1649.45 654.56 1649.62C656.44 1649.79 661.98 1650.52 664.24 1650.43C666.5 1650.34 672.25 1649.4 673.93 1648.82C675.6 1648.23 679.24 1645.51 680.38 1644.78C681.52 1644.05 683.9 1641.55 685.22 1641.55C686.54 1641.55 690.14 1644.1 691.68 1644.78C693.22 1645.46 697.74 1647.73 699.75 1648.01C701.76 1648.28 707.17 1647.01 709.43 1647.2C711.69 1647.39 717.25 1649.37 719.12 1649.62C720.98 1649.88 725.31 1649.43 727.19 1649.62C729.06 1649.81 733.37 1650.89 735.26 1651.24C737.14 1651.58 743.06 1651.91 744.94 1652.85C746.82 1653.79 750.05 1658.3 751.39 1659.31C752.74 1660.32 756.25 1662 757.85 1662.53C759.45 1663.07 764.41 1663.02 765.92 1664.15C767.43 1665.28 770.2 1670.15 770.76 1672.22C771.33 1674.29 771.12 1679.91 770.76 1681.9C770.4 1683.9 768.85 1688.46 767.53 1689.97C766.22 1691.48 761.35 1693.68 759.46 1694.81C757.58 1695.94 752.34 1698.15 751.39 1699.65C750.45 1701.16 752.15 1706.41 751.39 1707.72C750.64 1709.04 746.61 1710.78 744.94 1710.95C743.26 1711.12 737.51 1709.71 735.26 1709.34C733 1708.96 727.83 1708.1 725.57 1707.72C723.31 1707.35 718.15 1705.73 715.89 1706.11C713.63 1706.49 707.95 1709.73 706.2 1710.95C704.46 1712.17 701.49 1716.19 699.75 1717.41C698 1718.63 692.26 1721.33 690.06 1722.25C687.87 1723.17 680.38 1725.48 680.38 1725.48C680.38 1725.48 685.41 1727.81 686.84 1728.71C688.26 1729.6 692.16 1732.04 693.29 1733.55C694.42 1735.05 696.52 1741.62 696.52 1741.62C696.52 1741.62 596.46 1741.62 596.46 1741.62C596.46 1741.62 596.46 1659.31 596.46 1659.31Z"/></g>
<g clip-path="url(#bc14)">
<path d="M606.14 1675.45C606.14 1675.45 614.94 1676.73 619.05 1675.45C623.16 1674.16 627.32 1669.44 631.96 1667.38C636.6 1665.31 642.78 1663.86 648.1 1662.53C653.42 1661.2 658.86 1660.38 664.24 1659.31C669.62 1658.23 675.03 1656.61 680.38 1656.08C685.73 1655.54 691.15 1656.35 696.52 1656.08C701.89 1655.81 707.28 1653.93 712.66 1654.46C718.04 1655 723.42 1657.69 728.8 1659.31C734.18 1660.92 741.95 1662.44 744.94 1664.15C747.93 1665.86 750.59 1668.99 751.39 1672.22C752.2 1675.45 751.39 1680.29 749.78 1683.52C748.17 1686.74 745.16 1689.99 741.71 1691.58C738.26 1693.18 733.11 1692.72 728.8 1693.2C724.49 1693.68 717.15 1693.82 712.66 1694.81C708.17 1695.81 703.4 1697.57 699.75 1699.65C696.1 1701.74 693.6 1705.45 690.06 1707.72C686.53 1710 681.33 1713.14 677.15 1714.18C672.98 1715.22 667.97 1715.25 664.24 1714.18C660.51 1713.11 656.48 1709.89 654.56 1707.72C652.63 1705.56 653.7 1701.32 651.33 1699.65C648.96 1697.99 642.72 1697.5 638.42 1696.43C634.11 1695.35 628.71 1693.88 625.51 1693.2C622.31 1692.51 618.77 1692.66 615.82 1691.58C612.88 1690.51 609.37 1689.43 607.75 1686.74C606.14 1684.05 606.14 1675.45 606.14 1675.45Z" fill="#454545" stroke="#454545" stroke-width="21.6" stroke-linejoin="round"/>
<path d="M606.14 1675.45C606.14 1675.45 614.94 1676.73 619.05 1675.45C623.16 1674.16 627.32 1669.44 631.96 1667.38C636.6 1665.31 642.78 1663.86 648.1 1662.53C653.42 1661.2 658.86 1660.38 664.24 1659.31C669.62 1658.23 675.03 1656.61 680.38 1656.08C685.73 1655.54 691.15 1656.35 696.52 1656.08C701.89 1655.81 707.28 1653.93 712.66 1654.46C718.04 1655 723.42 1657.69 728.8 1659.31C734.18 1660.92 741.95 1662.44 744.94 1664.15C747.93 1665.86 750.59 1668.99 751.39 1672.22C752.2 1675.45 751.39 1680.29 749.78 1683.52C748.17 1686.74 745.16 1689.99 741.71 1691.58C738.26 1693.18 733.11 1692.72 728.8 1693.2C724.49 1693.68 717.15 1693.82 712.66 1694.81C708.17 1695.81 703.4 1697.57 699.75 1699.65C696.1 1701.74 693.6 1705.45 690.06 1707.72C686.53 1710 681.33 1713.14 677.15 1714.18C672.98 1715.22 667.97 1715.25 664.24 1714.18C660.51 1713.11 656.48 1709.89 654.56 1707.72C652.63 1705.56 653.7 1701.32 651.33 1699.65C648.96 1697.99 642.72 1697.5 638.42 1696.43C634.11 1695.35 628.71 1693.88 625.51 1693.2C622.31 1692.51 618.77 1692.66 615.82 1691.58C612.88 1690.51 609.37 1689.43 607.75 1686.74C606.14 1684.05 606.14 1675.45 606.14 1675.45Z" fill="#525252" stroke="#525252" stroke-width="14.4" stroke-linejoin="round"/>
<path d="M606.14 1675.45C606.14 1675.45 614.94 1676.73 619.05 1675.45C623.16 1674.16 627.32 1669.44 631.96 1667.38C636.6 1665.31 642.78 1663.86 648.1 1662.53C653.42 1661.2 658.86 1660.38 664.24 1659.31C669.62 1658.23 675.03 1656.61 680.38 1656.08C685.73 1655.54 691.15 1656.35 696.52 1656.08C701.89 1655.81 707.28 1653.93 712.66 1654.46C718.04 1655 723.42 1657.69 728.8 1659.31C734.18 1660.92 741.95 1662.44 744.94 1664.15C747.93 1665.86 750.59 1668.99 751.39 1672.22C752.2 1675.45 751.39 1680.29 749.78 1683.52C748.17 1686.74 745.16 1689.99 741.71 1691.58C738.26 1693.18 733.11 1692.72 728.8 1693.2C724.49 1693.68 717.15 1693.82 712.66 1694.81C708.17 1695.81 703.4 1697.57 699.75 1699.65C696.1 1701.74 693.6 1705.45 690.06 1707.72C686.53 1710 681.33 1713.14 677.15 1714.18C672.98 1715.22 667.97 1715.25 664.24 1714.18C660.51 1713.11 656.48 1709.89 654.56 1707.72C652.63 1705.56 653.7 1701.32 651.33 1699.65C648.96 1697.99 642.72 1697.5 638.42 1696.43C634.11 1695.35 628.71 1693.88 625.51 1693.2C622.31 1692.51 618.77 1692.66 615.82 1691.58C612.88 1690.51 609.37 1689.43 607.75 1686.74C606.14 1684.05 606.14 1675.45 606.14 1675.45Z" fill="#5e5e5e" stroke="#5e5e5e" stroke-width="9.6" stroke-linejoin="round"/>
<path d="M606.14 1675.45C606.14 1675.45 614.94 1676.73 619.05 1675.45C623.16 1674.16 627.32 1669.44 631.96 1667.38C636.6 1665.31 642.78 1663.86 648.1 1662.53C653.42 1661.2 658.86 1660.38 664.24 1659.31C669.62 1658.23 675.03 1656.61 680.38 1656.08C685.73 1655.54 691.15 1656.35 696.52 1656.08C701.89 1655.81 707.28 1653.93 712.66 1654.46C718.04 1655 723.42 1657.69 728.8 1659.31C734.18 1660.92 741.95 1662.44 744.94 1664.15C747.93 1665.86 750.59 1668.99 751.39 1672.22C752.2 1675.45 751.39 1680.29 749.78 1683.52C748.17 1686.74 745.16 1689.99 741.71 1691.58C738.26 1693.18 733.11 1692.72 728.8 1693.2C724.49 1693.68 717.15 1693.82 712.66 1694.81C708.17 1695.81 703.4 1697.57 699.75 1699.65C696.1 1701.74 693.6 1705.45 690.06 1707.72C686.53 1710 681.33 1713.14 677.15 1714.18C672.98 1715.22 667.97 1715.25 664.24 1714.18C660.51 1713.11 656.48 1709.89 654.56 1707.72C652.63 1705.56 653.7 1701.32 651.33 1699.65C648.96 1697.99 642.72 1697.5 638.42 1696.43C634.11 1695.35 628.71 1693.88 625.51 1693.2C622.31 1692.51 618.77 1692.66 615.82 1691.58C612.88 1690.51 609.37 1689.43 607.75 1686.74C606.14 1684.05 606.14 1675.45 606.14 1675.45Z" fill="#6b6b6b" stroke="#6b6b6b" stroke-width="4.8" stroke-linejoin="round"/>
<path d="M606.14 1675.45C606.14 1675.45 614.94 1676.73 619.05 1675.45C623.16 1674.16 627.32 1669.44 631.96 1667.38C636.6 1665.31 642.78 1663.86 648.1 1662.53C653.42 1661.2 658.86 1660.38 664.24 1659.31C669.62 1658.23 675.03 1656.61 680.38 1656.08C685.73 1655.54 691.15 1656.35 696.52 1656.08C701.89 1655.81 707.28 1653.93 712.66 1654.46C718.04 1655 723.42 1657.69 728.8 1659.31C734.18 1660.92 741.95 1662.44 744.94 1664.15C747.93 1665.86 750.59 1668.99 751.39 1672.22C752.2 1675.45 751.39 1680.29 749.78 1683.52C748.17 1686.74 745.16 1689.99 741.71 1691.58C738.26 1693.18 733.11 1692.72 728.8 1693.2C724.49 1693.68 717.15 1693.82 712.66 1694.81C708.17 1695.81 703.4 1697.57 699.75 1699.65C696.1 1701.74 693.6 1705.45 690.06 1707.72C686.53 1710 681.33 1713.14 677.15 1714.18C672.98 1715.22 667.97 1715.25 664.24 1714.18C660.51 1713.11 656.48 1709.89 654.56 1707.72C652.63 1705.56 653.7 1701.32 651.33 1699.65C648.96 1697.99 642.72 1697.5 638.42 1696.43C634.11 1695.35 628.71 1693.88 625.51 1693.2C622.31 1692.51 618.77 1692.66 615.82 1691.58C612.88 1690.51 609.37 1689.43 607.75 1686.74C606.14 1684.05 606.14 1675.45 606.14 1675.45Z" fill="#878787"/>
<rect x="596.46" y="1667.38" width="10.49" height="74.24" fill="#878787"/>
<path d="M610.98 1678.67C610.98 1678.67 618.64 1679.64 622.28 1678.67C625.92 1677.7 630.84 1674.27 635.19 1672.22C639.54 1670.17 644.66 1667.36 649.72 1665.76C654.77 1664.17 660.5 1663.47 665.86 1662.53C671.21 1661.6 677.15 1660.37 681.99 1660.11C686.84 1659.86 691.68 1661.17 696.52 1660.92C701.36 1660.67 707.64 1658.23 712.66 1658.5C717.68 1658.76 722.38 1661.07 727.19 1662.53C731.99 1664 739.22 1665.98 741.71 1667.38C744.21 1668.77 746.55 1671.14 747.36 1673.83C748.17 1676.52 748.03 1680.96 746.55 1683.52C745.07 1686.07 741.62 1688.2 738.48 1689.16C735.34 1690.13 729.86 1689.57 725.57 1689.97C721.28 1690.37 716.92 1690.79 712.66 1691.58C708.4 1692.38 703.31 1693.28 699.75 1694.81C696.18 1696.34 693.17 1698.94 690.06 1701.27C686.96 1703.6 684.15 1707.72 680.38 1709.34C676.62 1710.95 671.24 1711.76 667.47 1710.95C663.7 1710.15 659.94 1707.46 657.79 1704.5C655.63 1701.54 657.25 1695.35 654.56 1693.2C651.87 1691.05 645.91 1692.38 641.65 1691.58C637.38 1690.79 632.46 1689.1 628.73 1688.36C625 1687.61 620.4 1688.36 617.44 1686.74C614.48 1685.13 610.98 1678.67 610.98 1678.67Z" fill="#adadad"/>
<rect x="596.46" y="1670.6" width="9.36" height="71.01" fill="#adadad"/>
<path d="M662.63 1678.67C663.43 1675.98 667.78 1672.73 670.7 1670.6C673.62 1668.48 676.85 1666.52 680.38 1665.76C683.91 1665.01 689.76 1665.01 693.29 1665.76C696.82 1666.52 700.22 1669.1 702.98 1670.6C705.73 1672.11 709.7 1673.29 711.05 1675.45C712.39 1677.6 712.39 1681.36 711.05 1683.52C709.7 1685.67 705.92 1687.28 702.98 1688.36C700.03 1689.43 696.47 1689.18 693.29 1689.97C690.12 1690.76 686.84 1693.2 683.61 1693.2C680.38 1693.2 676.65 1690.96 673.93 1689.97C671.2 1688.98 667.74 1688.63 665.86 1686.74C663.97 1684.86 661.82 1681.36 662.63 1678.67Z" fill="#c2c2c2" stroke="#c2c2c2" stroke-width="2.64" stroke-linejoin="round"/>
<path d="M662.63 1678.67C663.43 1675.98 667.78 1672.73 670.7 1670.6C673.62 1668.48 676.85 1666.52 680.38 1665.76C683.91 1665.01 689.76 1665.01 693.29 1665.76C696.82 1666.52 700.22 1669.1 702.98 1670.6C705.73 1672.11 709.7 1673.29 711.05 1675.45C712.39 1677.6 712.39 1681.36 711.05 1683.52C709.7 1685.67 705.92 1687.28 702.98 1688.36C700.03 1689.43 696.47 1689.18 693.29 1689.97C690.12 1690.76 686.84 1693.2 683.61 1693.2C680.38 1693.2 676.65 1690.96 673.93 1689.97C671.2 1688.98 667.74 1688.63 665.86 1686.74C663.97 1684.86 661.82 1681.36 662.63 1678.67Z" fill="#d6d6d6"/>
<ellipse cx="719.12" cy="1668.99" rx="2.91" ry="2.58" fill="#d6d6d6"/>
<ellipse cx="735.26" cy="1683.52" rx="3.55" ry="3.23" fill="#d6d6d6"/>
<ellipse cx="602.27" cy="1710.95" rx="3.55" ry="8.88" fill="#d6d6d6"/>
<ellipse cx="601.62" cy="1735.97" rx="2.58" ry="2.58" fill="#d6d6d6"/>
<path d="M673.93 1678.67C674.19 1675.79 676.08 1670.87 678.77 1668.99C681.46 1667.11 687.42 1666.89 690.06 1667.38C692.71 1667.86 694.11 1671.01 696.52 1672.22C698.93 1673.42 704.56 1674.42 706.2 1675.45C707.85 1676.47 709.43 1680.29 709.43 1680.29C709.43 1680.29 705.47 1684.13 702.98 1685.13C700.48 1686.13 696.47 1685.95 693.29 1686.74C690.12 1687.54 686.01 1689.97 683.61 1689.97C681.2 1689.97 678.72 1688.57 677.15 1686.74C675.59 1684.92 673.66 1681.56 673.93 1678.67Z" fill="#e6e6e6"/>
<path d="M677.15 1678.67C677.28 1676.38 678.23 1672.22 680.38 1670.6C682.53 1668.99 687.64 1668.18 690.06 1668.99C692.49 1669.8 694.37 1673.02 694.91 1675.45C695.44 1677.87 694.91 1681.36 693.29 1683.52C691.68 1685.67 687.38 1688.1 685.22 1688.36C683.07 1688.61 680.92 1686.74 679.57 1685.13C678.23 1683.52 677.03 1680.97 677.15 1678.67Z" fill="#ffffff"/>
<ellipse cx="704.91" cy="1678.67" rx="2.42" ry="2.42" fill="#ffffff"/>
<ellipse cx="601.94" cy="1710.95" rx="2.26" ry="6.46" fill="#ffffff"/>
<ellipse cx="601.3" cy="1736.78" rx="1.45" ry="1.45" fill="#ffffff"/>
</g></g><ellipse cx="669.89" cy="1730" rx="7.75" ry="3.23" fill="#fff"/></g>
<path d="M841.5 1497 V1736.5" fill="none" stroke="#444" stroke-width="1"/>
<path d="M601.5 1497 H841.5" fill="none" stroke="#000" stroke-width="1.5"/>
<path d="M601.5 1496.4 V1736.5 H842" fill="none" stroke="#000" stroke-width="1.5"/>
<path d="M601.85 1736.5v3.3M610.28 1736.5v3.3M616.82 1736.5v3.3M622.17 1736.5v3.3M626.69 1736.5v3.3M630.6 1736.5v3.3M634.05 1736.5v3.3M637.14 1736.5v6.4M657.46 1736.5v3.3M669.34 1736.5v3.3M677.77 1736.5v3.3M684.31 1736.5v3.3M689.66 1736.5v3.3M694.17 1736.5v3.3M698.09 1736.5v3.3M701.54 1736.5v3.3M704.63 1736.5v6.4M724.94 1736.5v3.3M736.83 1736.5v3.3M745.26 1736.5v3.3M751.8 1736.5v3.3M757.14 1736.5v3.3M761.66 1736.5v3.3M765.57 1736.5v3.3M769.03 1736.5v3.3M772.12 1736.5v6.4M792.43 1736.5v3.3M804.31 1736.5v3.3M812.75 1736.5v3.3M819.29 1736.5v3.3M824.63 1736.5v3.3M829.15 1736.5v3.3M833.06 1736.5v3.3M836.51 1736.5v3.3M839.6 1736.5v6" stroke="#000" stroke-width="1.15" fill="none"/>
<text transform="translate(638.14 1756.8) scale(0.8173 1)" font-size="8.8" fill="#0a0a0a" stroke="#0a0a0a" stroke-width="0.28">10</text>
<text transform="translate(646.94 1751.8) scale(0.8448 1)" font-size="8.3" fill="#0a0a0a" stroke="#0a0a0a" stroke-width="0.28">1</text>
<text transform="translate(705.63 1756.8) scale(0.8173 1)" font-size="8.8" fill="#0a0a0a" stroke="#0a0a0a" stroke-width="0.28">10</text>
<text transform="translate(714.43 1751.8) scale(0.8448 1)" font-size="8.3" fill="#0a0a0a" stroke="#0a0a0a" stroke-width="0.28">2</text>
<text transform="translate(773.12 1756.8) scale(0.8173 1)" font-size="8.8" fill="#0a0a0a" stroke="#0a0a0a" stroke-width="0.28">10</text>
<text transform="translate(781.92 1751.8) scale(0.8448 1)" font-size="8.3" fill="#0a0a0a" stroke="#0a0a0a" stroke-width="0.28">3</text>
<text transform="translate(829.5 1756.8) scale(0.8173 1)" font-size="8.8" fill="#0a0a0a" stroke="#0a0a0a" stroke-width="0.28">10</text>
<text transform="translate(838.3 1751.8) scale(0.8448 1)" font-size="8.3" fill="#0a0a0a" stroke="#0a0a0a" stroke-width="0.28">4</text>
<text transform="translate(580 1705.82) scale(0.8173 1)" font-size="8.8" fill="#0a0a0a" stroke="#0a0a0a" stroke-width="0.28">10</text>
<text transform="translate(588.8 1700.82) scale(0.8448 1)" font-size="8.3" fill="#0a0a0a" stroke="#0a0a0a" stroke-width="0.28">1</text>
<text transform="translate(580 1638.24) scale(0.8173 1)" font-size="8.8" fill="#0a0a0a" stroke="#0a0a0a" stroke-width="0.28">10</text>
<text transform="translate(588.8 1633.24) scale(0.8448 1)" font-size="8.3" fill="#0a0a0a" stroke="#0a0a0a" stroke-width="0.28">2</text>
<text transform="translate(580 1570.67) scale(0.8173 1)" font-size="8.8" fill="#0a0a0a" stroke="#0a0a0a" stroke-width="0.28">10</text>
<text transform="translate(588.8 1565.67) scale(0.8448 1)" font-size="8.3" fill="#0a0a0a" stroke="#0a0a0a" stroke-width="0.28">3</text>
<text transform="translate(580 1511.3) scale(0.8173 1)" font-size="8.8" fill="#0a0a0a" stroke="#0a0a0a" stroke-width="0.28">10</text>
<text transform="translate(588.8 1506.3) scale(0.8448 1)" font-size="8.3" fill="#0a0a0a" stroke="#0a0a0a" stroke-width="0.28">4</text>
<path d="M601.5 1735.45h-3.3M601.5 1727h-3.3M601.5 1720.46h-3.3M601.5 1715.11h-3.3M601.5 1710.58h-3.3M601.5 1706.66h-3.3M601.5 1703.21h-3.3M601.5 1700.12h-6.4M601.5 1679.77h-3.3M601.5 1667.88h-3.3M601.5 1659.43h-3.3M601.5 1652.88h-3.3M601.5 1647.53h-3.3M601.5 1643.01h-3.3M601.5 1639.09h-3.3M601.5 1635.64h-3.3M601.5 1632.54h-6.4M601.5 1612.2h-3.3M601.5 1600.3h-3.3M601.5 1591.86h-3.3M601.5 1585.31h-3.3M601.5 1579.96h-3.3M601.5 1575.44h-3.3M601.5 1571.52h-3.3M601.5 1568.06h-3.3M601.5 1564.97h-6.4M601.5 1544.63h-3.3M601.5 1532.73h-3.3M601.5 1524.29h-3.3M601.5 1517.74h-3.3M601.5 1512.39h-3.3M601.5 1507.87h-3.3M601.5 1503.95h-3.3M601.5 1500.49h-3.3M601.5 1497.5h-6" stroke="#000" stroke-width="1.1" fill="none"/>
<text transform="translate(718.5 1779.7)" font-size="10.15" text-anchor="middle" fill="#0a0a0a" stroke="#0a0a0a" stroke-width="0.28">561 586  15-A :: PE Flt3 561 586  15-A</text>
<text transform="translate(552.2 1616.75) rotate(-90)" font-size="10" text-anchor="middle" fill="#0a0a0a" stroke="#0a0a0a" stroke-width="0.28">488 530_30-A :: FITC CD34 488 530_30-A</text>
<rect x="606.1" y="1701.3" width="33.9" height="34.7" fill="#d2e6f7" stroke="none" stroke-width="1"/>
<rect x="601.5" y="1599.5" width="59" height="101" fill="none" stroke="#000" stroke-width="1.35"/>
<rect x="660.5" y="1598.5" width="143" height="102" fill="none" stroke="#000" stroke-width="1.35"/>
<rect x="601.5" y="1700.5" width="58" height="36" fill="none" stroke="#000" stroke-width="1.35"/>
<rect x="604.8" y="1590" width="35" height="14.5" fill="#fff" stroke="none" stroke-width="1"/>
<rect x="712.9" y="1593.9" width="35" height="14.5" fill="#fff" stroke="none" stroke-width="1"/>
<text transform="translate(606.6 1585.7) scale(0.9375 1)" font-size="9.6" fill="#0a0a0a" stroke="#0a0a0a" stroke-width="0.28">ST-HSC</text>
<text transform="translate(622.3 1599.5)" font-size="9.7" text-anchor="middle" fill="#0a0a0a" stroke="#0a0a0a" stroke-width="0.28">16.1</text>
<text transform="translate(718.15 1589.3) scale(0.9375 1)" font-size="9.6" fill="#0a0a0a" stroke="#0a0a0a" stroke-width="0.28">LMPP</text>
<text transform="translate(730.4 1603.4)" font-size="9.7" text-anchor="middle" fill="#0a0a0a" stroke="#0a0a0a" stroke-width="0.28">59.9</text>
<text transform="translate(607.43 1711.1) scale(0.9375 1)" font-size="9.6" fill="#0a0a0a" stroke="#0a0a0a" stroke-width="0.28">LT-HSC</text>
<text transform="translate(622.8 1724.9)" font-size="9.7" text-anchor="middle" fill="#0a0a0a" stroke="#0a0a0a" stroke-width="0.28">15.3</text>
<path d="M500.2 1696.1 V1814.3 H620" fill="none" stroke="#1a1a1a" stroke-width="3.3" stroke-linejoin="miter"/>
<polygon points="500.2,1657.6 511.5,1698.1 488.9,1698.1" fill="#1a1a1a"/>
<polygon points="658.5,1814.3 618,1803 618,1825.6" fill="#1a1a1a"/>
<text transform="translate(672 1824.5) scale(0.9605 1)" font-size="39.97" fill="#111">Flt3</text>
<text transform="translate(510.62 1641.5) rotate(-90) scale(0.8981 1)" font-size="42.15" fill="#111">Cd34</text>
</g>
<g id="plot15">
<clipPath id="cp15"><rect x="1065.4" y="1496.8" width="239.6" height="239.9"/></clipPath>
<clipPath id="bc15"><path d="M1129.67 1517.94C1132.15 1517.73 1136.5 1521.35 1138.98 1522.59C1141.46 1523.84 1146.38 1525.91 1148.29 1527.25C1150.21 1528.59 1152.58 1532.12 1154.5 1533.46C1156.42 1534.8 1161.12 1537.44 1163.81 1538.11C1166.5 1538.79 1176.76 1539.18 1179.33 1539.66C1181.9 1540.15 1186.6 1541.13 1188.64 1542.77C1190.68 1544.4 1193.51 1549.41 1194.85 1552.08C1196.18 1554.75 1199.09 1561.18 1199.5 1564.49C1199.92 1567.8 1198.68 1573.65 1197.95 1576.91C1197.23 1580.17 1194.54 1588.29 1193.3 1592.43C1192.05 1596.57 1189.98 1604.5 1188.64 1607.95C1187.3 1611.4 1184.39 1617.22 1182.43 1620.36C1180.47 1623.5 1175.08 1629.64 1173.12 1632.77C1171.16 1635.91 1167.72 1641.98 1166.91 1645.19C1166.11 1648.4 1167.33 1654.32 1166.91 1657.6C1166.5 1660.89 1164.22 1666.73 1163.81 1670.02C1163.4 1673.3 1164.22 1679.15 1163.81 1682.43C1163.4 1685.72 1161.43 1692.33 1160.71 1694.85C1159.99 1697.36 1157.6 1701.54 1157.6 1704.16C1157.6 1706.78 1159.88 1713.26 1160.71 1716.57C1161.54 1719.88 1163.07 1726.31 1163.81 1728.99C1164.55 1731.66 1166.91 1738.92 1166.91 1738.92C1166.91 1738.92 1120.36 1738.92 1120.36 1738.92C1120.36 1738.92 1134.01 1725.64 1135.88 1722.78C1137.74 1719.92 1139.4 1713.26 1138.98 1710.37C1138.57 1707.47 1133.95 1703.8 1132.77 1701.06C1131.6 1698.31 1130.85 1691.38 1129.67 1688.64C1128.5 1685.9 1124.77 1680.64 1123.46 1679.33C1122.16 1678.02 1117.26 1676.23 1117.26 1676.23C1117.26 1676.23 1120.36 1666.43 1120.36 1663.81C1120.36 1661.19 1117.98 1657.02 1117.26 1654.5C1116.54 1651.98 1115.81 1644.57 1114.15 1642.09C1112.5 1639.6 1106.5 1638.36 1104.84 1635.88C1103.19 1633.4 1102.48 1626.79 1101.74 1623.46C1101 1620.13 1099.66 1612.04 1098.63 1607.95C1097.61 1603.85 1095 1596.52 1093.98 1592.43C1092.96 1588.33 1090.88 1581.05 1090.88 1576.91C1090.88 1572.77 1092.58 1565.37 1093.98 1561.39C1095.37 1557.41 1099.51 1549.93 1101.74 1545.87C1103.97 1541.82 1109.11 1532.62 1111.05 1530.35C1112.99 1528.09 1117.88 1525.8 1120.36 1524.15C1122.84 1522.49 1127.19 1518.15 1129.67 1517.94Z"/></clipPath>
<g clip-path="url(#cp15)"><g filter="url(#jet)">
<g fill="#383838"><path d="M1129.67 1517.94C1132.15 1517.73 1136.5 1521.35 1138.98 1522.59C1141.46 1523.84 1146.38 1525.91 1148.29 1527.25C1150.21 1528.59 1152.58 1532.12 1154.5 1533.46C1156.42 1534.8 1161.12 1537.44 1163.81 1538.11C1166.5 1538.79 1176.76 1539.18 1179.33 1539.66C1181.9 1540.15 1186.6 1541.13 1188.64 1542.77C1190.68 1544.4 1193.51 1549.41 1194.85 1552.08C1196.18 1554.75 1199.09 1561.18 1199.5 1564.49C1199.92 1567.8 1198.68 1573.65 1197.95 1576.91C1197.23 1580.17 1194.54 1588.29 1193.3 1592.43C1192.05 1596.57 1189.98 1604.5 1188.64 1607.95C1187.3 1611.4 1184.39 1617.22 1182.43 1620.36C1180.47 1623.5 1175.08 1629.64 1173.12 1632.77C1171.16 1635.91 1167.72 1641.98 1166.91 1645.19C1166.11 1648.4 1167.33 1654.32 1166.91 1657.6C1166.5 1660.89 1164.22 1666.73 1163.81 1670.02C1163.4 1673.3 1164.22 1679.15 1163.81 1682.43C1163.4 1685.72 1161.43 1692.33 1160.71 1694.85C1159.99 1697.36 1157.6 1701.54 1157.6 1704.16C1157.6 1706.78 1159.88 1713.26 1160.71 1716.57C1161.54 1719.88 1163.07 1726.31 1163.81 1728.99C1164.55 1731.66 1166.91 1738.92 1166.91 1738.92C1166.91 1738.92 1120.36 1738.92 1120.36 1738.92C1120.36 1738.92 1134.01 1725.64 1135.88 1722.78C1137.74 1719.92 1139.4 1713.26 1138.98 1710.37C1138.57 1707.47 1133.95 1703.8 1132.77 1701.06C1131.6 1698.31 1130.85 1691.38 1129.67 1688.64C1128.5 1685.9 1124.77 1680.64 1123.46 1679.33C1122.16 1678.02 1117.26 1676.23 1117.26 1676.23C1117.26 1676.23 1120.36 1666.43 1120.36 1663.81C1120.36 1661.19 1117.98 1657.02 1117.26 1654.5C1116.54 1651.98 1115.81 1644.57 1114.15 1642.09C1112.5 1639.6 1106.5 1638.36 1104.84 1635.88C1103.19 1633.4 1102.48 1626.79 1101.74 1623.46C1101 1620.13 1099.66 1612.04 1098.63 1607.95C1097.61 1603.85 1095 1596.52 1093.98 1592.43C1092.96 1588.33 1090.88 1581.05 1090.88 1576.91C1090.88 1572.77 1092.58 1565.37 1093.98 1561.39C1095.37 1557.41 1099.51 1549.93 1101.74 1545.87C1103.97 1541.82 1109.11 1532.62 1111.05 1530.35C1112.99 1528.09 1117.88 1525.8 1120.36 1524.15C1122.84 1522.49 1127.19 1518.15 1129.67 1517.94Z"/></g>
<g clip-path="url(#bc15)">
<ellipse cx="1121.91" cy="1576.91" rx="13.04" ry="31.04" transform="rotate(3 1121.91 1576.91)" fill="#454545" stroke="#454545" stroke-width="34" stroke-linejoin="round"/>
<ellipse cx="1168.47" cy="1576.91" rx="16.14" ry="25.45" transform="rotate(5 1168.47 1576.91)" fill="#454545" stroke="#454545" stroke-width="34" stroke-linejoin="round"/>
<path d="M1111.05 1548.98C1116.22 1543.29 1127.09 1540.64 1135.88 1539.66C1144.66 1538.69 1158.12 1539.15 1166.91 1542.77C1175.71 1546.39 1185.02 1553.11 1188.64 1561.39C1192.26 1569.67 1190.09 1583.71 1188.64 1592.43C1187.19 1601.15 1183.81 1611.29 1179.33 1617.26C1174.85 1623.22 1167.88 1627.62 1160.71 1629.67C1153.53 1631.72 1142.16 1630.12 1135.88 1629.67C1129.6 1629.22 1122.17 1630.5 1117.26 1626.57C1112.34 1622.64 1106.75 1612.96 1104.84 1604.84C1102.93 1596.72 1103.9 1582.28 1104.84 1573.81C1105.78 1565.33 1105.88 1554.67 1111.05 1548.98Z" fill="#454545" stroke="#454545" stroke-width="14" stroke-linejoin="round"/>
<ellipse cx="1142.09" cy="1654.5" rx="18.62" ry="24.83" fill="#454545" stroke="#454545" stroke-width="8" stroke-linejoin="round"/>
<ellipse cx="1148.29" cy="1735.2" rx="4.97" ry="3.1" fill="#454545" stroke="#454545" stroke-width="18" stroke-linejoin="round"/>
<ellipse cx="1121.91" cy="1576.91" rx="13.04" ry="31.04" transform="rotate(3 1121.91 1576.91)" fill="#525252" stroke="#525252" stroke-width="27" stroke-linejoin="round"/>
<ellipse cx="1168.47" cy="1576.91" rx="16.14" ry="25.45" transform="rotate(5 1168.47 1576.91)" fill="#525252" stroke="#525252" stroke-width="27" stroke-linejoin="round"/>
<path d="M1111.05 1548.98C1116.22 1543.29 1127.09 1540.64 1135.88 1539.66C1144.66 1538.69 1158.12 1539.15 1166.91 1542.77C1175.71 1546.39 1185.02 1553.11 1188.64 1561.39C1192.26 1569.67 1190.09 1583.71 1188.64 1592.43C1187.19 1601.15 1183.81 1611.29 1179.33 1617.26C1174.85 1623.22 1167.88 1627.62 1160.71 1629.67C1153.53 1631.72 1142.16 1630.12 1135.88 1629.67C1129.6 1629.22 1122.17 1630.5 1117.26 1626.57C1112.34 1622.64 1106.75 1612.96 1104.84 1604.84C1102.93 1596.72 1103.9 1582.28 1104.84 1573.81C1105.78 1565.33 1105.88 1554.67 1111.05 1548.98Z" fill="#525252" stroke="#525252" stroke-width="9" stroke-linejoin="round"/>
<ellipse cx="1142.09" cy="1654.5" rx="18.62" ry="24.83" fill="#525252" stroke="#525252" stroke-width="5" stroke-linejoin="round"/>
<ellipse cx="1148.29" cy="1735.2" rx="4.97" ry="3.1" fill="#525252" stroke="#525252" stroke-width="12" stroke-linejoin="round"/>
<ellipse cx="1121.91" cy="1576.91" rx="13.04" ry="31.04" transform="rotate(3 1121.91 1576.91)" fill="#5e5e5e" stroke="#5e5e5e" stroke-width="21" stroke-linejoin="round"/>
<ellipse cx="1168.47" cy="1576.91" rx="16.14" ry="25.45" transform="rotate(5 1168.47 1576.91)" fill="#5e5e5e" stroke="#5e5e5e" stroke-width="21" stroke-linejoin="round"/>
<path d="M1111.05 1548.98C1116.22 1543.29 1127.09 1540.64 1135.88 1539.66C1144.66 1538.69 1158.12 1539.15 1166.91 1542.77C1175.71 1546.39 1185.02 1553.11 1188.64 1561.39C1192.26 1569.67 1190.09 1583.71 1188.64 1592.43C1187.19 1601.15 1183.81 1611.29 1179.33 1617.26C1174.85 1623.22 1167.88 1627.62 1160.71 1629.67C1153.53 1631.72 1142.16 1630.12 1135.88 1629.67C1129.6 1629.22 1122.17 1630.5 1117.26 1626.57C1112.34 1622.64 1106.75 1612.96 1104.84 1604.84C1102.93 1596.72 1103.9 1582.28 1104.84 1573.81C1105.78 1565.33 1105.88 1554.67 1111.05 1548.98Z" fill="#5e5e5e" stroke="#5e5e5e" stroke-width="6" stroke-linejoin="round"/>
<ellipse cx="1142.09" cy="1654.5" rx="18.62" ry="24.83" fill="#5e5e5e" stroke="#5e5e5e" stroke-width="2.5" stroke-linejoin="round"/>
<ellipse cx="1148.29" cy="1735.2" rx="4.97" ry="3.1" fill="#5e5e5e" stroke="#5e5e5e" stroke-width="8" stroke-linejoin="round"/>
<ellipse cx="1121.91" cy="1576.91" rx="13.04" ry="31.04" transform="rotate(3 1121.91 1576.91)" fill="#6b6b6b" stroke="#6b6b6b" stroke-width="16" stroke-linejoin="round"/>
<ellipse cx="1168.47" cy="1576.91" rx="16.14" ry="25.45" transform="rotate(5 1168.47 1576.91)" fill="#6b6b6b" stroke="#6b6b6b" stroke-width="16" stroke-linejoin="round"/>
<path d="M1111.05 1548.98C1116.22 1543.29 1127.09 1540.64 1135.88 1539.66C1144.66 1538.69 1158.12 1539.15 1166.91 1542.77C1175.71 1546.39 1185.02 1553.11 1188.64 1561.39C1192.26 1569.67 1190.09 1583.71 1188.64 1592.43C1187.19 1601.15 1183.81 1611.29 1179.33 1617.26C1174.85 1623.22 1167.88 1627.62 1160.71 1629.67C1153.53 1631.72 1142.16 1630.12 1135.88 1629.67C1129.6 1629.22 1122.17 1630.5 1117.26 1626.57C1112.34 1622.64 1106.75 1612.96 1104.84 1604.84C1102.93 1596.72 1103.9 1582.28 1104.84 1573.81C1105.78 1565.33 1105.88 1554.67 1111.05 1548.98Z" fill="#6b6b6b" stroke="#6b6b6b" stroke-width="3" stroke-linejoin="round"/>
<ellipse cx="1142.09" cy="1654.5" rx="18.62" ry="24.83" fill="#6b6b6b"/>
<ellipse cx="1148.29" cy="1735.2" rx="4.97" ry="3.1" fill="#6b6b6b" stroke="#6b6b6b" stroke-width="4" stroke-linejoin="round"/>
<ellipse cx="1121.91" cy="1576.91" rx="13.04" ry="31.04" transform="rotate(3 1121.91 1576.91)" fill="#7a7a7a" stroke="#7a7a7a" stroke-width="12" stroke-linejoin="round"/>
<ellipse cx="1168.47" cy="1576.91" rx="16.14" ry="25.45" transform="rotate(5 1168.47 1576.91)" fill="#7a7a7a" stroke="#7a7a7a" stroke-width="12" stroke-linejoin="round"/>
<path d="M1111.05 1548.98C1116.22 1543.29 1127.09 1540.64 1135.88 1539.66C1144.66 1538.69 1158.12 1539.15 1166.91 1542.77C1175.71 1546.39 1185.02 1553.11 1188.64 1561.39C1192.26 1569.67 1190.09 1583.71 1188.64 1592.43C1187.19 1601.15 1183.81 1611.29 1179.33 1617.26C1174.85 1623.22 1167.88 1627.62 1160.71 1629.67C1153.53 1631.72 1142.16 1630.12 1135.88 1629.67C1129.6 1629.22 1122.17 1630.5 1117.26 1626.57C1112.34 1622.64 1106.75 1612.96 1104.84 1604.84C1102.93 1596.72 1103.9 1582.28 1104.84 1573.81C1105.78 1565.33 1105.88 1554.67 1111.05 1548.98Z" fill="#7a7a7a"/>
<ellipse cx="1121.91" cy="1576.91" rx="13.04" ry="31.04" transform="rotate(3 1121.91 1576.91)" fill="#878787" stroke="#878787" stroke-width="8.5" stroke-linejoin="round"/>
<ellipse cx="1168.47" cy="1576.91" rx="16.14" ry="25.45" transform="rotate(5 1168.47 1576.91)" fill="#878787" stroke="#878787" stroke-width="8.5" stroke-linejoin="round"/>
<ellipse cx="1148.29" cy="1735.2" rx="4.97" ry="3.1" fill="#878787"/>
<ellipse cx="1121.91" cy="1576.91" rx="13.04" ry="31.04" transform="rotate(3 1121.91 1576.91)" fill="#999999" stroke="#999999" stroke-width="3" stroke-linejoin="round"/>
<ellipse cx="1168.47" cy="1576.91" rx="16.14" ry="25.45" transform="rotate(5 1168.47 1576.91)" fill="#999999" stroke="#999999" stroke-width="3" stroke-linejoin="round"/>
<ellipse cx="1121.91" cy="1576.91" rx="13.04" ry="31.04" transform="rotate(3 1121.91 1576.91)" fill="#adadad"/>
<ellipse cx="1168.47" cy="1576.91" rx="16.14" ry="25.45" transform="rotate(5 1168.47 1576.91)" fill="#adadad"/>
<ellipse cx="1121.91" cy="1567.6" rx="6.83" ry="16.14" transform="rotate(3 1121.91 1567.6)" fill="#c2c2c2" stroke="#c2c2c2" stroke-width="2.2" stroke-linejoin="round"/>
<ellipse cx="1168.47" cy="1575.36" rx="9.93" ry="16.76" transform="rotate(5 1168.47 1575.36)" fill="#c2c2c2" stroke="#c2c2c2" stroke-width="2.2" stroke-linejoin="round"/>
<ellipse cx="1121.91" cy="1567.6" rx="6.83" ry="16.14" transform="rotate(3 1121.91 1567.6)" fill="#d6d6d6"/>
<ellipse cx="1122.22" cy="1564.49" rx="4.35" ry="10.55" transform="rotate(3 1122.22 1564.49)" fill="#d6d6d6" stroke="#d6d6d6" stroke-width="1.8" stroke-linejoin="round"/>
<ellipse cx="1168.47" cy="1575.36" rx="9.93" ry="16.76" transform="rotate(5 1168.47 1575.36)" fill="#d6d6d6"/>
<ellipse cx="1169.09" cy="1574.43" rx="6.83" ry="12.41" transform="rotate(5 1169.09 1574.43)" fill="#d6d6d6" stroke="#d6d6d6" stroke-width="3.4" stroke-linejoin="round"/>
<ellipse cx="1122.22" cy="1564.49" rx="4.35" ry="10.55" transform="rotate(3 1122.22 1564.49)" fill="#e6e6e6"/>
<ellipse cx="1169.09" cy="1574.43" rx="6.83" ry="12.41" transform="rotate(5 1169.09 1574.43)" fill="#e6e6e6" stroke="#e6e6e6" stroke-width="1.6" stroke-linejoin="round"/>
<ellipse cx="1169.09" cy="1574.43" rx="6.83" ry="12.41" transform="rotate(5 1169.09 1574.43)" fill="#ffffff"/>
</g></g></g>
<path d="M1305 1497 V1736.5" fill="none" stroke="#444" stroke-width="1"/>
<path d="M1065.5 1497 H1305" fill="none" stroke="#333" stroke-width="1"/>
<path d="M1065.5 1496.4 V1736.5 H1305.5" fill="none" stroke="#000" stroke-width="1.5"/>
<path d="M1065.85 1736.5v3.3M1074.28 1736.5v3.3M1080.82 1736.5v3.3M1086.17 1736.5v3.3M1090.69 1736.5v3.3M1094.6 1736.5v3.3M1098.05 1736.5v3.3M1101.14 1736.5v6.4M1121.46 1736.5v3.3M1133.34 1736.5v3.3M1141.77 1736.5v3.3M1148.31 1736.5v3.3M1153.66 1736.5v3.3M1158.17 1736.5v3.3M1162.09 1736.5v3.3M1165.54 1736.5v3.3M1168.63 1736.5v6.4M1188.94 1736.5v3.3M1200.83 1736.5v3.3M1209.26 1736.5v3.3M1215.8 1736.5v3.3M1221.14 1736.5v3.3M1225.66 1736.5v3.3M1229.57 1736.5v3.3M1233.03 1736.5v3.3M1236.12 1736.5v6.4M1256.43 1736.5v3.3M1268.31 1736.5v3.3M1276.75 1736.5v3.3M1283.29 1736.5v3.3M1288.63 1736.5v3.3M1293.15 1736.5v3.3M1297.06 1736.5v3.3M1300.51 1736.5v3.3M1303.6 1736.5v6" stroke="#000" stroke-width="1.15" fill="none"/>
<text transform="translate(1102.14 1756.8) scale(0.8173 1)" font-size="8.8" fill="#0a0a0a" stroke="#0a0a0a" stroke-width="0.28">10</text>
<text transform="translate(1110.94 1751.8) scale(0.8448 1)" font-size="8.3" fill="#0a0a0a" stroke="#0a0a0a" stroke-width="0.28">1</text>
<text transform="translate(1169.63 1756.8) scale(0.8173 1)" font-size="8.8" fill="#0a0a0a" stroke="#0a0a0a" stroke-width="0.28">10</text>
<text transform="translate(1178.43 1751.8) scale(0.8448 1)" font-size="8.3" fill="#0a0a0a" stroke="#0a0a0a" stroke-width="0.28">2</text>
<text transform="translate(1237.12 1756.8) scale(0.8173 1)" font-size="8.8" fill="#0a0a0a" stroke="#0a0a0a" stroke-width="0.28">10</text>
<text transform="translate(1245.92 1751.8) scale(0.8448 1)" font-size="8.3" fill="#0a0a0a" stroke="#0a0a0a" stroke-width="0.28">3</text>
<text transform="translate(1293 1756.8) scale(0.8173 1)" font-size="8.8" fill="#0a0a0a" stroke="#0a0a0a" stroke-width="0.28">10</text>
<text transform="translate(1301.8 1751.8) scale(0.8448 1)" font-size="8.3" fill="#0a0a0a" stroke="#0a0a0a" stroke-width="0.28">4</text>
<text transform="translate(1044 1705.82) scale(0.8173 1)" font-size="8.8" fill="#0a0a0a" stroke="#0a0a0a" stroke-width="0.28">10</text>
<text transform="translate(1052.8 1700.82) scale(0.8448 1)" font-size="8.3" fill="#0a0a0a" stroke="#0a0a0a" stroke-width="0.28">1</text>
<text transform="translate(1044 1638.24) scale(0.8173 1)" font-size="8.8" fill="#0a0a0a" stroke="#0a0a0a" stroke-width="0.28">10</text>
<text transform="translate(1052.8 1633.24) scale(0.8448 1)" font-size="8.3" fill="#0a0a0a" stroke="#0a0a0a" stroke-width="0.28">2</text>
<text transform="translate(1044 1570.67) scale(0.8173 1)" font-size="8.8" fill="#0a0a0a" stroke="#0a0a0a" stroke-width="0.28">10</text>
<text transform="translate(1052.8 1565.67) scale(0.8448 1)" font-size="8.3" fill="#0a0a0a" stroke="#0a0a0a" stroke-width="0.28">3</text>
<text transform="translate(1044 1511.3) scale(0.8173 1)" font-size="8.8" fill="#0a0a0a" stroke="#0a0a0a" stroke-width="0.28">10</text>
<text transform="translate(1052.8 1506.3) scale(0.8448 1)" font-size="8.3" fill="#0a0a0a" stroke="#0a0a0a" stroke-width="0.28">4</text>
<path d="M1065.5 1735.45h-3.3M1065.5 1727h-3.3M1065.5 1720.46h-3.3M1065.5 1715.11h-3.3M1065.5 1710.58h-3.3M1065.5 1706.66h-3.3M1065.5 1703.21h-3.3M1065.5 1700.12h-6.4M1065.5 1679.77h-3.3M1065.5 1667.88h-3.3M1065.5 1659.43h-3.3M1065.5 1652.88h-3.3M1065.5 1647.53h-3.3M1065.5 1643.01h-3.3M1065.5 1639.09h-3.3M1065.5 1635.64h-3.3M1065.5 1632.54h-6.4M1065.5 1612.2h-3.3M1065.5 1600.3h-3.3M1065.5 1591.86h-3.3M1065.5 1585.31h-3.3M1065.5 1579.96h-3.3M1065.5 1575.44h-3.3M1065.5 1571.52h-3.3M1065.5 1568.06h-3.3M1065.5 1564.97h-6.4M1065.5 1544.63h-3.3M1065.5 1532.73h-3.3M1065.5 1524.29h-3.3M1065.5 1517.74h-3.3M1065.5 1512.39h-3.3M1065.5 1507.87h-3.3M1065.5 1503.95h-3.3M1065.5 1500.49h-3.3M1065.5 1497.5h-6" stroke="#000" stroke-width="1.1" fill="none"/>
<text transform="translate(1182.25 1779.7)" font-size="10.15" text-anchor="middle" fill="#0a0a0a" stroke="#0a0a0a" stroke-width="0.28">488 530  30-A :: FITC CD34 488 530  30-A</text>
<text transform="translate(1016.6 1616.75) rotate(-90)" font-size="10" text-anchor="middle" fill="#0a0a0a" stroke="#0a0a0a" stroke-width="0.28">561 586_15-A :: PE CD16_32 561 586_15-A</text>
<rect x="1105.5" y="1533.5" width="90" height="97" fill="none" stroke="#222" stroke-width="1"/>
<rect x="1116.5" y="1630.5" width="81" height="84" fill="none" stroke="#222" stroke-width="1"/>
<rect x="1065.5" y="1661.5" width="51" height="75" fill="none" stroke="#222" stroke-width="1"/>
<text transform="translate(1207.75 1579.7) scale(0.9375 1)" font-size="9.6" fill="#0a0a0a" stroke="#0a0a0a" stroke-width="0.28">GMP</text>
<text transform="translate(1217.5 1593.8)" font-size="9.7" text-anchor="middle" fill="#0a0a0a" stroke="#0a0a0a" stroke-width="0.28">87.0</text>
<text transform="translate(1200.4 1670.9) scale(0.9375 1)" font-size="9.6" fill="#0a0a0a" stroke="#0a0a0a" stroke-width="0.28">CMP</text>
<text transform="translate(1210.4 1685)" font-size="9.7" text-anchor="middle" fill="#0a0a0a" stroke="#0a0a0a" stroke-width="0.28">7.92</text>
<text transform="translate(1074.95 1709.1) scale(0.9375 1)" font-size="9.6" fill="#0a0a0a" stroke="#0a0a0a" stroke-width="0.28">MEP</text>
<text transform="translate(1084 1722.5)" font-size="9.7" text-anchor="middle" fill="#0a0a0a" stroke="#0a0a0a" stroke-width="0.28">0.45</text>
<path d="M968.3 1699.2 V1818 H1088.1" fill="none" stroke="#1a1a1a" stroke-width="3.3" stroke-linejoin="miter"/>
<polygon points="968.3,1660.7 979.6,1701.2 957,1701.2" fill="#1a1a1a"/>
<polygon points="1126.6,1818 1086.1,1806.7 1086.1,1829.3" fill="#1a1a1a"/>
<text transform="translate(1137.5 1828) scale(0.9889 1)" font-size="39.97" fill="#111">Cd34</text>
<text transform="translate(979.62 1644.6) rotate(-90) scale(0.9469 1)" font-size="42.15" fill="#111">Cd16/32</text>
</g>
<g id="plot16">
<clipPath id="cp16"><rect x="1474.4" y="1496.8" width="239.9" height="239.9"/></clipPath>
<clipPath id="bc16"><path d="M1532.71 1611.05C1534.22 1609.99 1539.12 1604.53 1542.02 1603.29C1544.92 1602.05 1551.14 1602.29 1554.43 1601.74C1557.72 1601.19 1566.62 1599.37 1569.95 1598.63C1573.28 1597.89 1578.96 1595.72 1582.37 1595.53C1585.77 1595.34 1593.81 1596.27 1597.88 1597.08C1601.96 1597.9 1610.34 1600.02 1613.4 1601.74C1616.46 1603.46 1620.67 1608.19 1622.71 1611.05C1624.75 1613.91 1628.02 1619.87 1628.92 1623.46C1629.82 1627.05 1630.1 1637.94 1630.47 1642.09C1630.85 1646.23 1632.23 1653.47 1632.02 1657.6C1631.82 1661.74 1630.09 1669.61 1628.92 1673.12C1627.75 1676.63 1624.75 1682.68 1622.71 1685.54C1620.67 1688.39 1616.26 1692.81 1613.4 1694.85C1610.55 1696.89 1604.23 1699.64 1600.99 1701.06C1597.75 1702.47 1591.81 1704.9 1588.57 1705.71C1585.34 1706.52 1579.47 1707.68 1576.16 1707.26C1572.85 1706.85 1567 1703.62 1563.74 1702.61C1560.49 1701.59 1554.61 1700.12 1551.33 1699.5C1548.05 1698.89 1541.73 1698.96 1538.91 1697.95C1536.1 1696.95 1531.51 1694.04 1529.6 1691.74C1527.69 1689.45 1523.81 1682.64 1523.4 1679.33C1522.98 1676.02 1525.78 1669.43 1526.5 1666.91C1527.22 1664.4 1530.43 1660.09 1529.6 1657.6C1528.78 1655.12 1521.7 1651.51 1520.29 1648.29C1518.89 1645.08 1518.74 1636.11 1518.74 1632.77C1518.74 1629.44 1519.39 1622.52 1520.29 1620.36C1521.19 1618.2 1525.02 1615.26 1526.5 1614.15C1527.98 1613.04 1531.19 1612.11 1532.71 1611.05Z"/><path d="M1472.19 1601.74C1472.19 1601.74 1476.81 1614.44 1478.39 1617.26C1479.98 1620.07 1485.53 1624.08 1486.15 1626.57C1486.77 1629.05 1483.93 1633.41 1483.05 1635.88C1482.17 1638.34 1478.78 1644.78 1478.39 1648.29C1478 1651.81 1479.33 1659.7 1479.95 1663.81C1480.56 1667.92 1482.5 1676.04 1483.05 1679.33C1483.6 1682.62 1484.94 1689.7 1484.6 1691.74C1484.26 1693.79 1481.6 1696.92 1479.95 1697.95C1478.29 1698.99 1472.19 1699.5 1472.19 1699.5C1472.19 1699.5 1472.19 1601.74 1472.19 1601.74Z"/></clipPath>
<g clip-path="url(#cp16)"><g filter="url(#jet)">
<g fill="#383838"><path d="M1532.71 1611.05C1534.22 1609.99 1539.12 1604.53 1542.02 1603.29C1544.92 1602.05 1551.14 1602.29 1554.43 1601.74C1557.72 1601.19 1566.62 1599.37 1569.95 1598.63C1573.28 1597.89 1578.96 1595.72 1582.37 1595.53C1585.77 1595.34 1593.81 1596.27 1597.88 1597.08C1601.96 1597.9 1610.34 1600.02 1613.4 1601.74C1616.46 1603.46 1620.67 1608.19 1622.71 1611.05C1624.75 1613.91 1628.02 1619.87 1628.92 1623.46C1629.82 1627.05 1630.1 1637.94 1630.47 1642.09C1630.85 1646.23 1632.23 1653.47 1632.02 1657.6C1631.82 1661.74 1630.09 1669.61 1628.92 1673.12C1627.75 1676.63 1624.75 1682.68 1622.71 1685.54C1620.67 1688.39 1616.26 1692.81 1613.4 1694.85C1610.55 1696.89 1604.23 1699.64 1600.99 1701.06C1597.75 1702.47 1591.81 1704.9 1588.57 1705.71C1585.34 1706.52 1579.47 1707.68 1576.16 1707.26C1572.85 1706.85 1567 1703.62 1563.74 1702.61C1560.49 1701.59 1554.61 1700.12 1551.33 1699.5C1548.05 1698.89 1541.73 1698.96 1538.91 1697.95C1536.1 1696.95 1531.51 1694.04 1529.6 1691.74C1527.69 1689.45 1523.81 1682.64 1523.4 1679.33C1522.98 1676.02 1525.78 1669.43 1526.5 1666.91C1527.22 1664.4 1530.43 1660.09 1529.6 1657.6C1528.78 1655.12 1521.7 1651.51 1520.29 1648.29C1518.89 1645.08 1518.74 1636.11 1518.74 1632.77C1518.74 1629.44 1519.39 1622.52 1520.29 1620.36C1521.19 1618.2 1525.02 1615.26 1526.5 1614.15C1527.98 1613.04 1531.19 1612.11 1532.71 1611.05Z"/><path d="M1472.19 1601.74C1472.19 1601.74 1476.81 1614.44 1478.39 1617.26C1479.98 1620.07 1485.53 1624.08 1486.15 1626.57C1486.77 1629.05 1483.93 1633.41 1483.05 1635.88C1482.17 1638.34 1478.78 1644.78 1478.39 1648.29C1478 1651.81 1479.33 1659.7 1479.95 1663.81C1480.56 1667.92 1482.5 1676.04 1483.05 1679.33C1483.6 1682.62 1484.94 1689.7 1484.6 1691.74C1484.26 1693.79 1481.6 1696.92 1479.95 1697.95C1478.29 1698.99 1472.19 1699.5 1472.19 1699.5C1472.19 1699.5 1472.19 1601.74 1472.19 1601.74Z"/></g>
<g clip-path="url(#bc16)">
<path d="M1560.64 1635.88C1561.16 1632.26 1566.44 1626.47 1569.95 1623.46C1573.46 1620.45 1577.79 1617.94 1582.37 1617.26C1586.94 1616.57 1595.88 1616.77 1600.99 1618.81C1606.09 1620.85 1610.14 1625.24 1613.4 1629.67C1616.66 1634.1 1620.97 1642.31 1622.71 1648.29C1624.46 1654.27 1625.29 1660.77 1624.27 1666.91C1623.24 1673.06 1620.37 1680.9 1616.51 1685.54C1612.64 1690.17 1606.68 1693.04 1600.99 1694.85C1595.3 1696.66 1587.15 1697.36 1582.37 1696.4C1577.58 1695.44 1573 1692.45 1569.95 1688.64C1566.9 1684.83 1563.74 1678.3 1563.74 1673.12C1563.74 1667.95 1568.28 1660.94 1569.95 1657.6C1571.62 1654.27 1576.16 1648.29 1576.16 1648.29C1576.16 1648.29 1569.4 1647.23 1566.85 1645.19C1564.29 1643.15 1560.12 1639.5 1560.64 1635.88Z" fill="#454545" stroke="#454545" stroke-width="28" stroke-linejoin="round"/>
<ellipse cx="1589.19" cy="1637.43" rx="14.9" ry="11.79" fill="#454545" stroke="#454545" stroke-width="68" stroke-linejoin="round"/>
<ellipse cx="1597.88" cy="1671.57" rx="25.45" ry="19.24" transform="rotate(-25 1597.88 1671.57)" fill="#454545" stroke="#454545" stroke-width="68" stroke-linejoin="round"/>
<path d="M1560.64 1635.88C1561.16 1632.26 1566.44 1626.47 1569.95 1623.46C1573.46 1620.45 1577.79 1617.94 1582.37 1617.26C1586.94 1616.57 1595.88 1616.77 1600.99 1618.81C1606.09 1620.85 1610.14 1625.24 1613.4 1629.67C1616.66 1634.1 1620.97 1642.31 1622.71 1648.29C1624.46 1654.27 1625.29 1660.77 1624.27 1666.91C1623.24 1673.06 1620.37 1680.9 1616.51 1685.54C1612.64 1690.17 1606.68 1693.04 1600.99 1694.85C1595.3 1696.66 1587.15 1697.36 1582.37 1696.4C1577.58 1695.44 1573 1692.45 1569.95 1688.64C1566.9 1684.83 1563.74 1678.3 1563.74 1673.12C1563.74 1667.95 1568.28 1660.94 1569.95 1657.6C1571.62 1654.27 1576.16 1648.29 1576.16 1648.29C1576.16 1648.29 1569.4 1647.23 1566.85 1645.19C1564.29 1643.15 1560.12 1639.5 1560.64 1635.88Z" fill="#525252" stroke="#525252" stroke-width="18" stroke-linejoin="round"/>
<ellipse cx="1589.19" cy="1637.43" rx="14.9" ry="11.79" fill="#525252" stroke="#525252" stroke-width="54" stroke-linejoin="round"/>
<ellipse cx="1597.88" cy="1671.57" rx="25.45" ry="19.24" transform="rotate(-25 1597.88 1671.57)" fill="#525252" stroke="#525252" stroke-width="54" stroke-linejoin="round"/>
<path d="M1560.64 1635.88C1561.16 1632.26 1566.44 1626.47 1569.95 1623.46C1573.46 1620.45 1577.79 1617.94 1582.37 1617.26C1586.94 1616.57 1595.88 1616.77 1600.99 1618.81C1606.09 1620.85 1610.14 1625.24 1613.4 1629.67C1616.66 1634.1 1620.97 1642.31 1622.71 1648.29C1624.46 1654.27 1625.29 1660.77 1624.27 1666.91C1623.24 1673.06 1620.37 1680.9 1616.51 1685.54C1612.64 1690.17 1606.68 1693.04 1600.99 1694.85C1595.3 1696.66 1587.15 1697.36 1582.37 1696.4C1577.58 1695.44 1573 1692.45 1569.95 1688.64C1566.9 1684.83 1563.74 1678.3 1563.74 1673.12C1563.74 1667.95 1568.28 1660.94 1569.95 1657.6C1571.62 1654.27 1576.16 1648.29 1576.16 1648.29C1576.16 1648.29 1569.4 1647.23 1566.85 1645.19C1564.29 1643.15 1560.12 1639.5 1560.64 1635.88Z" fill="#5e5e5e" stroke="#5e5e5e" stroke-width="12" stroke-linejoin="round"/>
<ellipse cx="1589.19" cy="1637.43" rx="14.9" ry="11.79" fill="#5e5e5e" stroke="#5e5e5e" stroke-width="42" stroke-linejoin="round"/>
<ellipse cx="1597.88" cy="1671.57" rx="25.45" ry="19.24" transform="rotate(-25 1597.88 1671.57)" fill="#5e5e5e" stroke="#5e5e5e" stroke-width="42" stroke-linejoin="round"/>
<path d="M1560.64 1635.88C1561.16 1632.26 1566.44 1626.47 1569.95 1623.46C1573.46 1620.45 1577.79 1617.94 1582.37 1617.26C1586.94 1616.57 1595.88 1616.77 1600.99 1618.81C1606.09 1620.85 1610.14 1625.24 1613.4 1629.67C1616.66 1634.1 1620.97 1642.31 1622.71 1648.29C1624.46 1654.27 1625.29 1660.77 1624.27 1666.91C1623.24 1673.06 1620.37 1680.9 1616.51 1685.54C1612.64 1690.17 1606.68 1693.04 1600.99 1694.85C1595.3 1696.66 1587.15 1697.36 1582.37 1696.4C1577.58 1695.44 1573 1692.45 1569.95 1688.64C1566.9 1684.83 1563.74 1678.3 1563.74 1673.12C1563.74 1667.95 1568.28 1660.94 1569.95 1657.6C1571.62 1654.27 1576.16 1648.29 1576.16 1648.29C1576.16 1648.29 1569.4 1647.23 1566.85 1645.19C1564.29 1643.15 1560.12 1639.5 1560.64 1635.88Z" fill="#6b6b6b" stroke="#6b6b6b" stroke-width="6" stroke-linejoin="round"/>
<ellipse cx="1589.19" cy="1637.43" rx="14.9" ry="11.79" fill="#6b6b6b" stroke="#6b6b6b" stroke-width="32" stroke-linejoin="round"/>
<ellipse cx="1597.88" cy="1671.57" rx="25.45" ry="19.24" transform="rotate(-25 1597.88 1671.57)" fill="#6b6b6b" stroke="#6b6b6b" stroke-width="32" stroke-linejoin="round"/>
<path d="M1560.64 1635.88C1561.16 1632.26 1566.44 1626.47 1569.95 1623.46C1573.46 1620.45 1577.79 1617.94 1582.37 1617.26C1586.94 1616.57 1595.88 1616.77 1600.99 1618.81C1606.09 1620.85 1610.14 1625.24 1613.4 1629.67C1616.66 1634.1 1620.97 1642.31 1622.71 1648.29C1624.46 1654.27 1625.29 1660.77 1624.27 1666.91C1623.24 1673.06 1620.37 1680.9 1616.51 1685.54C1612.64 1690.17 1606.68 1693.04 1600.99 1694.85C1595.3 1696.66 1587.15 1697.36 1582.37 1696.4C1577.58 1695.44 1573 1692.45 1569.95 1688.64C1566.9 1684.83 1563.74 1678.3 1563.74 1673.12C1563.74 1667.95 1568.28 1660.94 1569.95 1657.6C1571.62 1654.27 1576.16 1648.29 1576.16 1648.29C1576.16 1648.29 1569.4 1647.23 1566.85 1645.19C1564.29 1643.15 1560.12 1639.5 1560.64 1635.88Z" fill="#7a7a7a"/>
<ellipse cx="1589.19" cy="1637.43" rx="14.9" ry="11.79" fill="#7a7a7a" stroke="#7a7a7a" stroke-width="24" stroke-linejoin="round"/>
<ellipse cx="1597.88" cy="1671.57" rx="25.45" ry="19.24" transform="rotate(-25 1597.88 1671.57)" fill="#7a7a7a" stroke="#7a7a7a" stroke-width="24" stroke-linejoin="round"/>
<ellipse cx="1589.19" cy="1637.43" rx="14.9" ry="11.79" fill="#878787" stroke="#878787" stroke-width="17" stroke-linejoin="round"/>
<ellipse cx="1597.88" cy="1671.57" rx="25.45" ry="19.24" transform="rotate(-25 1597.88 1671.57)" fill="#878787" stroke="#878787" stroke-width="17" stroke-linejoin="round"/>
<ellipse cx="1589.19" cy="1637.43" rx="14.9" ry="11.79" fill="#999999" stroke="#999999" stroke-width="6" stroke-linejoin="round"/>
<ellipse cx="1597.88" cy="1671.57" rx="25.45" ry="19.24" transform="rotate(-25 1597.88 1671.57)" fill="#999999" stroke="#999999" stroke-width="6" stroke-linejoin="round"/>
<ellipse cx="1589.19" cy="1637.43" rx="14.9" ry="11.79" fill="#adadad"/>
<ellipse cx="1597.88" cy="1671.57" rx="25.45" ry="19.24" transform="rotate(-25 1597.88 1671.57)" fill="#adadad"/>
<ellipse cx="1600.99" cy="1670.02" rx="15.52" ry="9.31" transform="rotate(-30 1600.99 1670.02)" fill="#c2c2c2" stroke="#c2c2c2" stroke-width="4.4" stroke-linejoin="round"/>
<ellipse cx="1600.99" cy="1670.02" rx="15.52" ry="9.31" transform="rotate(-30 1600.99 1670.02)" fill="#d6d6d6"/>
<ellipse cx="1600.99" cy="1670.02" rx="10.55" ry="5.28" transform="rotate(-30 1600.99 1670.02)" fill="#d6d6d6" stroke="#d6d6d6" stroke-width="6.8" stroke-linejoin="round"/>
<ellipse cx="1600.99" cy="1670.02" rx="10.55" ry="5.28" transform="rotate(-30 1600.99 1670.02)" fill="#e6e6e6" stroke="#e6e6e6" stroke-width="3.2" stroke-linejoin="round"/>
<ellipse cx="1600.99" cy="1670.02" rx="10.55" ry="5.28" transform="rotate(-30 1600.99 1670.02)" fill="#ffffff"/>
</g></g></g>
<path d="M1714.5 1497 V1736.5" fill="none" stroke="#444" stroke-width="1"/>
<path d="M1474.5 1497 H1714.5" fill="none" stroke="#000" stroke-width="1.5"/>
<path d="M1474.5 1496.4 V1736.5 H1715" fill="none" stroke="#000" stroke-width="1.5"/>
<path d="M1474.85 1736.5v3.3M1483.3 1736.5v3.3M1489.84 1736.5v3.3M1495.19 1736.5v3.3M1499.72 1736.5v3.3M1503.64 1736.5v3.3M1507.09 1736.5v3.3M1510.19 1736.5v6.4M1530.53 1736.5v3.3M1542.43 1736.5v3.3M1550.87 1736.5v3.3M1557.42 1736.5v3.3M1562.77 1736.5v3.3M1567.29 1736.5v3.3M1571.21 1736.5v3.3M1574.67 1736.5v3.3M1577.76 1736.5v6.4M1598.1 1736.5v3.3M1610 1736.5v3.3M1618.44 1736.5v3.3M1624.99 1736.5v3.3M1630.34 1736.5v3.3M1634.86 1736.5v3.3M1638.78 1736.5v3.3M1642.24 1736.5v3.3M1645.33 1736.5v6.4M1665.67 1736.5v3.3M1677.57 1736.5v3.3M1686.01 1736.5v3.3M1692.56 1736.5v3.3M1697.91 1736.5v3.3M1702.43 1736.5v3.3M1706.35 1736.5v3.3M1709.81 1736.5v3.3M1712.9 1736.5v6" stroke="#000" stroke-width="1.15" fill="none"/>
<text transform="translate(1511.19 1756.8) scale(0.8173 1)" font-size="8.8" fill="#0a0a0a" stroke="#0a0a0a" stroke-width="0.28">10</text>
<text transform="translate(1519.99 1751.8) scale(0.8448 1)" font-size="8.3" fill="#0a0a0a" stroke="#0a0a0a" stroke-width="0.28">1</text>
<text transform="translate(1578.76 1756.8) scale(0.8173 1)" font-size="8.8" fill="#0a0a0a" stroke="#0a0a0a" stroke-width="0.28">10</text>
<text transform="translate(1587.56 1751.8) scale(0.8448 1)" font-size="8.3" fill="#0a0a0a" stroke="#0a0a0a" stroke-width="0.28">2</text>
<text transform="translate(1646.33 1756.8) scale(0.8173 1)" font-size="8.8" fill="#0a0a0a" stroke="#0a0a0a" stroke-width="0.28">10</text>
<text transform="translate(1655.13 1751.8) scale(0.8448 1)" font-size="8.3" fill="#0a0a0a" stroke="#0a0a0a" stroke-width="0.28">3</text>
<text transform="translate(1702.5 1756.8) scale(0.8173 1)" font-size="8.8" fill="#0a0a0a" stroke="#0a0a0a" stroke-width="0.28">10</text>
<text transform="translate(1711.3 1751.8) scale(0.8448 1)" font-size="8.3" fill="#0a0a0a" stroke="#0a0a0a" stroke-width="0.28">4</text>
<text transform="translate(1453 1705.82) scale(0.8173 1)" font-size="8.8" fill="#0a0a0a" stroke="#0a0a0a" stroke-width="0.28">10</text>
<text transform="translate(1461.8 1700.82) scale(0.8448 1)" font-size="8.3" fill="#0a0a0a" stroke="#0a0a0a" stroke-width="0.28">1</text>
<text transform="translate(1453 1638.24) scale(0.8173 1)" font-size="8.8" fill="#0a0a0a" stroke="#0a0a0a" stroke-width="0.28">10</text>
<text transform="translate(1461.8 1633.24) scale(0.8448 1)" font-size="8.3" fill="#0a0a0a" stroke="#0a0a0a" stroke-width="0.28">2</text>
<text transform="translate(1453 1570.67) scale(0.8173 1)" font-size="8.8" fill="#0a0a0a" stroke="#0a0a0a" stroke-width="0.28">10</text>
<text transform="translate(1461.8 1565.67) scale(0.8448 1)" font-size="8.3" fill="#0a0a0a" stroke="#0a0a0a" stroke-width="0.28">3</text>
<text transform="translate(1453 1511.3) scale(0.8173 1)" font-size="8.8" fill="#0a0a0a" stroke="#0a0a0a" stroke-width="0.28">10</text>
<text transform="translate(1461.8 1506.3) scale(0.8448 1)" font-size="8.3" fill="#0a0a0a" stroke="#0a0a0a" stroke-width="0.28">4</text>
<path d="M1474.5 1735.45h-3.3M1474.5 1727h-3.3M1474.5 1720.46h-3.3M1474.5 1715.11h-3.3M1474.5 1710.58h-3.3M1474.5 1706.66h-3.3M1474.5 1703.21h-3.3M1474.5 1700.12h-6.4M1474.5 1679.77h-3.3M1474.5 1667.88h-3.3M1474.5 1659.43h-3.3M1474.5 1652.88h-3.3M1474.5 1647.53h-3.3M1474.5 1643.01h-3.3M1474.5 1639.09h-3.3M1474.5 1635.64h-3.3M1474.5 1632.54h-6.4M1474.5 1612.2h-3.3M1474.5 1600.3h-3.3M1474.5 1591.86h-3.3M1474.5 1585.31h-3.3M1474.5 1579.96h-3.3M1474.5 1575.44h-3.3M1474.5 1571.52h-3.3M1474.5 1568.06h-3.3M1474.5 1564.97h-6.4M1474.5 1544.63h-3.3M1474.5 1532.73h-3.3M1474.5 1524.29h-3.3M1474.5 1517.74h-3.3M1474.5 1512.39h-3.3M1474.5 1507.87h-3.3M1474.5 1503.95h-3.3M1474.5 1500.49h-3.3M1474.5 1497.5h-6" stroke="#000" stroke-width="1.1" fill="none"/>
<text transform="translate(1591.5 1779.7)" font-size="10.15" text-anchor="middle" fill="#0a0a0a" stroke="#0a0a0a" stroke-width="0.28">561 586  15-A :: PE Flt3 561 586  15-A</text>
<text transform="translate(1425.1 1616.75) rotate(-90)" font-size="10" text-anchor="middle" fill="#0a0a0a" stroke="#0a0a0a" stroke-width="0.28">488 530_30-A :: FITC CD34 488 530_30-A</text>
<rect x="1474.5" y="1599.5" width="57" height="101" fill="none" stroke="#000" stroke-width="1.35"/>
<rect x="1533.5" y="1597.5" width="142" height="103" fill="none" stroke="#000" stroke-width="1.35"/>
<rect x="1474.5" y="1700.5" width="57" height="36" fill="none" stroke="#000" stroke-width="1.35"/>
<rect x="1478" y="1590.2" width="35" height="14.5" fill="#fff" stroke="none" stroke-width="1"/>
<rect x="1586.5" y="1584.3" width="35" height="14.5" fill="#fff" stroke="none" stroke-width="1"/>
<text transform="translate(1479.5 1585.6) scale(0.9375 1)" font-size="9.6" fill="#0a0a0a" stroke="#0a0a0a" stroke-width="0.28">ST-HSC</text>
<text transform="translate(1495.5 1599.7)" font-size="9.7" text-anchor="middle" fill="#0a0a0a" stroke="#0a0a0a" stroke-width="0.28">2.90</text>
<text transform="translate(1592.45 1579.7) scale(0.9375 1)" font-size="9.6" fill="#0a0a0a" stroke="#0a0a0a" stroke-width="0.28">LMPP</text>
<text transform="translate(1604 1593.8)" font-size="9.7" text-anchor="middle" fill="#0a0a0a" stroke="#0a0a0a" stroke-width="0.28">96.3</text>
<text transform="translate(1480.33 1711.3) scale(0.9375 1)" font-size="9.6" fill="#0a0a0a" stroke="#0a0a0a" stroke-width="0.28">LT-HSC</text>
<text transform="translate(1495.5 1725.3)" font-size="9.7" text-anchor="middle" fill="#0a0a0a" stroke="#0a0a0a" stroke-width="0.28">0.11</text>
<path d="M1381.6 1699.2 V1818 H1501.3" fill="none" stroke="#1a1a1a" stroke-width="3.3" stroke-linejoin="miter"/>
<polygon points="1381.6,1660.7 1392.9,1701.2 1370.3,1701.2" fill="#1a1a1a"/>
<polygon points="1539.8,1818 1499.3,1806.7 1499.3,1829.3" fill="#1a1a1a"/>
<text transform="translate(1552.5 1828) scale(0.9605 1)" font-size="39.97" fill="#111">Flt3</text>
<text transform="translate(1392.12 1643) rotate(-90) scale(0.9130 1)" font-size="42.15" fill="#111">Cd34</text>
</g>
<text transform="translate(1.6 36.3) scale(1.1398 1)" font-size="56" font-weight="bold" stroke="#000" stroke-width="0.8">a</text>
<text transform="translate(-4.6 1982.8) scale(1.1931 1)" font-size="59" font-weight="bold" stroke="#000" stroke-width="0.8">b</text>
<line x1="68" y1="101.3" x2="843" y2="101.3" stroke="#000" stroke-width="3"/>
<line x1="945" y1="101.3" x2="1706.5" y2="101.3" stroke="#000" stroke-width="3"/>
<line x1="66.7" y1="1035.2" x2="881.7" y2="1035.2" stroke="#000" stroke-width="3"/>
<line x1="939.7" y1="1036.6" x2="1714.3" y2="1037.6" stroke="#000" stroke-width="3"/>
<text transform="translate(427 76) scale(0.9517 1)" font-size="49" font-weight="bold">WT</text>
<text transform="translate(1280 76) scale(0.9183 1)" font-size="49" font-weight="bold" font-style="italic">Flt3</text>
<text transform="translate(1361.5 58.8) scale(1.0515 1)" font-size="25" font-weight="bold">ITD/+</text>
<text transform="translate(256 1009) scale(0.9329 1)" font-size="49" font-weight="bold" font-style="italic">Npm1</text>
<text transform="translate(384.5 991.8) scale(1.0633 1)" font-size="25" font-weight="bold">flox-cA/+</text>
<text transform="translate(500.5 1009) scale(0.9491 1)" font-size="49" font-weight="bold" font-style="italic">;Mx1-Cre</text>
<text transform="translate(1018 1011) scale(0.9329 1)" font-size="49" font-weight="bold" font-style="italic">Npm1</text>
<text transform="translate(1146.5 993.8) scale(1.0727 1)" font-size="25" font-weight="bold">flox-cA/+</text>
<text transform="translate(1263.5 1011) scale(0.9486 1)" font-size="49" font-weight="bold" font-style="italic">;Mx1-Cre;Flt3</text>
<text transform="translate(1562 993.8) scale(1.0677 1)" font-size="25" font-weight="bold">ITD/+</text>
<text transform="translate(224 138) scale(1.0394 1)" font-size="31.5" font-weight="bold" fill="#f70d0d">Lin-</text>
<text transform="translate(605 141.5) scale(1.0149 1)" font-size="31.5" font-weight="bold" fill="#f70d0d">HPC</text>
<text transform="translate(711 141.5) scale(1.0317 1)" font-size="31.5" font-weight="bold" fill="#f70d0d">LSK</text>
<text transform="translate(350.5 646.2) scale(1.0044 1)" font-size="33" font-weight="bold" fill="#f70d0d">GMP</text>
<text transform="translate(350.5 730.8) scale(0.9954 1)" font-size="33" font-weight="bold" fill="#f70d0d">CMP</text>
<text transform="translate(130 816) scale(1.0049 1)" font-size="31.5" font-weight="bold" fill="#f70d0d">MEP</text>
<line x1="291.7" y1="171.7" x2="566" y2="171.7" stroke="#f70d0d" stroke-width="4.8" stroke-dasharray="5.5 4.4"/>
<polygon points="581,171.7 565.3,156.7 565.3,186.5" fill="#f70d0d"/>
<line x1="739.3" y1="235" x2="739.3" y2="516" stroke="#f70d0d" stroke-width="4.8" stroke-dasharray="5.5 4.4"/>
<polygon points="739,531.5 723.4,515.5 754.4,515.5" fill="#f70d0d"/>
<line x1="632.8" y1="243" x2="443.5" y2="521.8" stroke="#f70d0d" stroke-width="4.8" stroke-dasharray="5.5 4.4"/>
<polygon points="433.5,536.5 432.18,512.64 456.17,528.93" fill="#f70d0d"/>
<g id="chart">
<rect x="219.7" y="2395" width="39.4" height="17.5" fill="#a9a9ad"/>
<rect x="258.8" y="2397.2" width="38.7" height="15.3" fill="#0a6fcf"/>
<rect x="297.2" y="2392.4" width="39.4" height="20.1" fill="#3ca79d"/>
<rect x="336.3" y="2356.3" width="39" height="56.2" fill="#e8573b"/>
<rect x="414" y="2255.4" width="38.8" height="157.1" fill="#a9a9ad"/>
<rect x="452.5" y="2245.3" width="39.4" height="167.2" fill="#0a6fcf"/>
<rect x="491.6" y="2242.7" width="39.4" height="169.8" fill="#3ca79d"/>
<rect x="530.7" y="2247.2" width="38.6" height="165.3" fill="#e8573b"/>
<rect x="607.7" y="2253.4" width="39.4" height="159.1" fill="#a9a9ad"/>
<rect x="646.8" y="2217.4" width="39.5" height="195.1" fill="#0a6fcf"/>
<rect x="686" y="2235.5" width="39.3" height="177" fill="#3ca79d"/>
<rect x="725" y="2130" width="38.7" height="282.5" fill="#e8573b"/>
<rect x="802" y="2277.5" width="39.2" height="135" fill="#a9a9ad"/>
<rect x="840.9" y="2353.5" width="39.4" height="59" fill="#0a6fcf"/>
<rect x="880" y="2293.6" width="39" height="118.9" fill="#3ca79d"/>
<rect x="918.7" y="2367.6" width="38.6" height="44.9" fill="#e8573b"/>
<rect x="996.4" y="2375.3" width="38.5" height="37.2" fill="#a9a9ad"/>
<rect x="1034.6" y="2375.6" width="39.4" height="36.9" fill="#0a6fcf"/>
<rect x="1073.7" y="2370" width="38.8" height="42.5" fill="#3ca79d"/>
<rect x="1112.2" y="2401" width="39.4" height="11.5" fill="#e8573b"/>
<path d="M239.23 2388.7V2397.39M234.63 2388.7h9.2M234.63 2397.39h9.2" fill="none" stroke="#000" stroke-width="1.7"/>
<circle cx="224.08" cy="2396.15" r="4.3"/>
<circle cx="231.53" cy="2390.69" r="4.3"/>
<circle cx="239.23" cy="2384.98" r="4.3"/>
<circle cx="239.23" cy="2394.41" r="4.3"/>
<circle cx="246.68" cy="2394.41" r="4.3"/>
<circle cx="254.62" cy="2389.94" r="4.3"/>
<circle cx="254.62" cy="2399.88" r="4.3"/>
<path d="M277.72 2391.93V2399.88M273.12 2391.93h9.2M273.12 2399.88h9.2" fill="none" stroke="#000" stroke-width="1.7"/>
<polygon points="262.07,2391.32 266.67,2399.83 257.47,2399.83" fill="#000"/>
<polygon points="267.04,2391.32 271.64,2399.83 262.44,2399.83" fill="#000"/>
<polygon points="273.25,2393.8 277.85,2402.31 268.65,2402.31" fill="#000"/>
<polygon points="281.94,2387.6 286.54,2396.11 277.34,2396.11" fill="#000"/>
<polygon points="286.9,2384.37 291.5,2392.88 282.3,2392.88" fill="#000"/>
<polygon points="283.18,2399.27 287.78,2407.78 278.58,2407.78" fill="#000"/>
<polygon points="291.87,2396.78 296.47,2405.29 287.27,2405.29" fill="#000"/>
<polygon points="278.21,2393.8 282.81,2402.31 273.61,2402.31" fill="#000"/>
<path d="M316.7 2382.5V2402.36M312.1 2382.5h9.2M312.1 2402.36h9.2" fill="none" stroke="#000" stroke-width="1.7"/>
<polygon points="301.8,2389.31 306.4,2380.8 297.2,2380.8" fill="#000"/>
<polygon points="316.7,2385.59 321.3,2377.08 312.1,2377.08" fill="#000"/>
<polygon points="331.6,2383.6 336.2,2375.09 327,2375.09" fill="#000"/>
<polygon points="331.6,2393.53 336.2,2385.02 327,2385.02" fill="#000"/>
<polygon points="301.8,2408.43 306.4,2399.92 297.2,2399.92" fill="#000"/>
<polygon points="316.7,2406.44 321.3,2397.93 312.1,2397.93" fill="#000"/>
<polygon points="331.6,2408.43 336.2,2399.92 327,2399.92" fill="#000"/>
<path d="M355.43 2344.01V2368.84M350.83 2344.01h9.2M350.83 2368.84h9.2" fill="none" stroke="#000" stroke-width="1.7"/>
<rect x="351.28" y="2330.92" width="7.8" height="7.8"/>
<rect x="346.32" y="2341.35" width="7.8" height="7.8"/>
<rect x="336.39" y="2348.06" width="7.8" height="7.8"/>
<rect x="356.99" y="2348.06" width="7.8" height="7.8"/>
<rect x="366.93" y="2349.3" width="7.8" height="7.8"/>
<rect x="346.32" y="2353.02" width="7.8" height="7.8"/>
<rect x="346.32" y="2364.94" width="7.8" height="7.8"/>
<rect x="356.99" y="2367.92" width="7.8" height="7.8"/>
<rect x="351.28" y="2379.84" width="7.8" height="7.8"/>
<path d="M432.9 2231.78V2278.96M428.3 2231.78h9.2M428.3 2278.96h9.2" fill="none" stroke="#000" stroke-width="1.7"/>
<circle cx="425.2" cy="2225.57" r="4.3"/>
<circle cx="441.34" cy="2227.81" r="4.3"/>
<circle cx="432.9" cy="2245.93" r="4.3"/>
<circle cx="432.9" cy="2255.87" r="4.3"/>
<circle cx="424.71" cy="2270.76" r="4.3"/>
<circle cx="441.34" cy="2273.74" r="4.3"/>
<circle cx="432.9" cy="2287.4" r="4.3"/>
<path d="M471.88 2237.74V2253.38M467.28 2237.74h9.2M467.28 2253.38h9.2" fill="none" stroke="#000" stroke-width="1.7"/>
<polygon points="456.98,2234.4 461.58,2242.91 452.38,2242.91" fill="#000"/>
<polygon points="466.91,2234.4 471.51,2242.91 462.31,2242.91" fill="#000"/>
<polygon points="476.85,2227.45 481.45,2235.96 472.25,2235.96" fill="#000"/>
<polygon points="456.98,2244.83 461.58,2253.34 452.38,2253.34" fill="#000"/>
<polygon points="466.91,2243.59 471.51,2252.1 462.31,2252.1" fill="#000"/>
<polygon points="476.85,2238.62 481.45,2247.13 472.25,2247.13" fill="#000"/>
<polygon points="488.02,2243.59 492.62,2252.1 483.42,2252.1" fill="#000"/>
<polygon points="466.91,2254.76 471.51,2263.27 462.31,2263.27" fill="#000"/>
<polygon points="476.85,2249.79 481.45,2258.3 472.25,2258.3" fill="#000"/>
<path d="M510.86 2226.07V2259.09M506.26 2226.07h9.2M506.26 2259.09h9.2" fill="none" stroke="#000" stroke-width="1.7"/>
<polygon points="510.86,2216.75 515.46,2208.24 506.26,2208.24" fill="#000"/>
<polygon points="495.47,2238.35 500.07,2229.84 490.87,2229.84" fill="#000"/>
<polygon points="526.01,2238.35 530.61,2229.84 521.41,2229.84" fill="#000"/>
<polygon points="495.47,2252.01 500.07,2243.5 490.87,2243.5" fill="#000"/>
<polygon points="510.86,2258.21 515.46,2249.7 506.26,2249.7" fill="#000"/>
<polygon points="526.01,2254.49 530.61,2245.98 521.41,2245.98" fill="#000"/>
<polygon points="510.86,2272.37 515.46,2263.86 506.26,2263.86" fill="#000"/>
<path d="M550.09 2230.29V2257.11M545.49 2230.29h9.2M545.49 2257.11h9.2" fill="none" stroke="#000" stroke-width="1.7"/>
<rect x="531.3" y="2214.72" width="7.8" height="7.8"/>
<rect x="546.19" y="2220.18" width="7.8" height="7.8"/>
<rect x="561.09" y="2239.55" width="7.8" height="7.8"/>
<rect x="531.3" y="2244.52" width="7.8" height="7.8"/>
<rect x="546.19" y="2242.03" width="7.8" height="7.8"/>
<rect x="561.09" y="2248.24" width="7.8" height="7.8"/>
<rect x="546.19" y="2255.69" width="7.8" height="7.8"/>
<rect x="531.3" y="2264.38" width="7.8" height="7.8"/>
<rect x="561.09" y="2259.41" width="7.8" height="7.8"/>
<path d="M627.24 2178.91V2327.88M622.64 2178.91h9.2M622.64 2327.88h9.2" fill="none" stroke="#000" stroke-width="1.7"/>
<circle cx="627.24" cy="2154.82" r="4.3"/>
<circle cx="635.44" cy="2225.59" r="4.3"/>
<circle cx="618.55" cy="2232.29" r="4.3"/>
<circle cx="627.24" cy="2242.72" r="4.3"/>
<circle cx="618.55" cy="2254.14" r="4.3"/>
<circle cx="635.44" cy="2262.09" r="4.3"/>
<circle cx="627.24" cy="2401.87" r="4.3"/>
<path d="M666.23 2206.22V2226.08M661.63 2206.22h9.2M661.63 2226.08h9.2" fill="none" stroke="#000" stroke-width="1.7"/>
<polygon points="650.83,2201.89 655.43,2210.4 646.23,2210.4" fill="#000"/>
<polygon points="661.51,2202.63 666.11,2211.14 656.91,2211.14" fill="#000"/>
<polygon points="681.87,2194.44 686.47,2202.95 677.27,2202.95" fill="#000"/>
<polygon points="661.51,2212.07 666.11,2220.58 656.91,2220.58" fill="#000"/>
<polygon points="671.44,2211.32 676.04,2219.83 666.84,2219.83" fill="#000"/>
<polygon points="661.51,2221.25 666.11,2229.76 656.91,2229.76" fill="#000"/>
<polygon points="671.44,2221.25 676.04,2229.76 666.84,2229.76" fill="#000"/>
<polygon points="681.87,2222 686.47,2230.51 677.27,2230.51" fill="#000"/>
<polygon points="650.83,2226.72 655.43,2235.23 646.23,2235.23" fill="#000"/>
<path d="M704.96 2211.93V2258.86M700.36 2211.93h9.2M700.36 2258.86h9.2" fill="none" stroke="#000" stroke-width="1.7"/>
<polygon points="704.96,2208.57 709.56,2200.06 700.36,2200.06" fill="#000"/>
<polygon points="689.32,2234.14 693.92,2225.63 684.72,2225.63" fill="#000"/>
<polygon points="704.96,2223.46 709.56,2214.95 700.36,2214.95" fill="#000"/>
<polygon points="720.85,2229.67 725.45,2221.16 716.25,2221.16" fill="#000"/>
<polygon points="720.85,2237.12 725.45,2228.61 716.25,2228.61" fill="#000"/>
<polygon points="704.96,2249.54 709.56,2241.03 700.36,2241.03" fill="#000"/>
<polygon points="704.96,2289.26 709.56,2280.75 700.36,2280.75" fill="#000"/>
<path d="M743.94 2099.95V2161.03M739.34 2099.95h9.2M739.34 2161.03h9.2" fill="none" stroke="#000" stroke-width="1.7"/>
<rect x="731.85" y="2090.09" width="7.8" height="7.8"/>
<rect x="748.24" y="2093.07" width="7.8" height="7.8"/>
<rect x="740.04" y="2104.74" width="7.8" height="7.8"/>
<rect x="748.24" y="2116.66" width="7.8" height="7.8"/>
<rect x="731.85" y="2123.36" width="7.8" height="7.8"/>
<rect x="748.24" y="2124.6" width="7.8" height="7.8"/>
<rect x="731.85" y="2145.21" width="7.8" height="7.8"/>
<rect x="748.24" y="2148.44" width="7.8" height="7.8"/>
<rect x="740.04" y="2187.42" width="7.8" height="7.8"/>
<path d="M821.41 2223.6V2330.37M816.81 2223.6h9.2M816.81 2330.37h9.2" fill="none" stroke="#000" stroke-width="1.7"/>
<circle cx="821.41" cy="2172.2" r="4.3"/>
<circle cx="821.41" cy="2260.84" r="4.3"/>
<circle cx="812.72" cy="2275.74" r="4.3"/>
<circle cx="829.6" cy="2281.2" r="4.3"/>
<circle cx="812.72" cy="2298.09" r="4.3"/>
<circle cx="829.6" cy="2305.04" r="4.3"/>
<circle cx="821.41" cy="2345.26" r="4.3"/>
<path d="M860.14 2288.65V2411.06M855.54 2288.65h9.2M855.54 2411.06h9.2" fill="none" stroke="#000" stroke-width="1.7"/>
<polygon points="860.14,2232.92 864.74,2241.43 855.54,2241.43" fill="#000"/>
<polygon points="860.14,2270.91 864.74,2279.42 855.54,2279.42" fill="#000"/>
<polygon points="860.14,2323.55 864.74,2332.06 855.54,2332.06" fill="#000"/>
<polygon points="865.61,2341.68 870.21,2350.19 861.01,2350.19" fill="#000"/>
<polygon points="855.18,2348.38 859.78,2356.89 850.58,2356.89" fill="#000"/>
<polygon points="845.74,2404.49 850.34,2413 841.14,2413" fill="#000"/>
<polygon points="855.18,2404.49 859.78,2413 850.58,2413" fill="#000"/>
<polygon points="865.61,2404.49 870.21,2413 861.01,2413" fill="#000"/>
<polygon points="875.54,2404.49 880.14,2413 870.94,2413" fill="#000"/>
<path d="M899.12 2252.15V2334.84M894.52 2252.15h9.2M894.52 2334.84h9.2" fill="none" stroke="#000" stroke-width="1.7"/>
<polygon points="899.12,2235.38 903.72,2226.87 894.52,2226.87" fill="#000"/>
<polygon points="890.43,2263.69 895.03,2255.18 885.83,2255.18" fill="#000"/>
<polygon points="907.82,2264.43 912.42,2255.92 903.22,2255.92" fill="#000"/>
<polygon points="899.12,2288.02 903.72,2279.51 894.52,2279.51" fill="#000"/>
<polygon points="899.12,2317.82 903.72,2309.31 894.52,2309.31" fill="#000"/>
<polygon points="890.43,2326.51 895.03,2318 885.83,2318" fill="#000"/>
<polygon points="907.82,2333.95 912.42,2325.44 903.22,2325.44" fill="#000"/>
<polygon points="899.12,2351.34 903.72,2342.83 894.52,2342.83" fill="#000"/>
<path d="M937.61 2342.04V2392.94M933.01 2342.04h9.2M933.01 2392.94h9.2" fill="none" stroke="#000" stroke-width="1.7"/>
<rect x="933.71" y="2319.51" width="7.8" height="7.8"/>
<rect x="933.71" y="2330.19" width="7.8" height="7.8"/>
<rect x="933.71" y="2350.05" width="7.8" height="7.8"/>
<rect x="918.81" y="2367.43" width="7.8" height="7.8"/>
<rect x="928.74" y="2375.38" width="7.8" height="7.8"/>
<rect x="939.17" y="2373.64" width="7.8" height="7.8"/>
<rect x="949.85" y="2374.39" width="7.8" height="7.8"/>
<rect x="938.68" y="2383.08" width="7.8" height="7.8"/>
<rect x="933.71" y="2399.71" width="7.8" height="7.8"/>
<path d="M1015.38 2345.28V2405.74M1010.78 2345.28h9.2M1010.78 2405.74h9.2" fill="none" stroke="#000" stroke-width="1.7"/>
<circle cx="1015.38" cy="2310.39" r="4.3"/>
<circle cx="1015.38" cy="2367.62" r="4.3"/>
<circle cx="1030.9" cy="2379.04" r="4.3"/>
<circle cx="1000.48" cy="2385" r="4.3"/>
<circle cx="1015.38" cy="2390.84" r="4.3"/>
<circle cx="1030.9" cy="2390.59" r="4.3"/>
<circle cx="1015.38" cy="2402.63" r="4.3"/>
<path d="M1054.12 2353.97V2397.05M1049.52 2353.97h9.2M1049.52 2397.05h9.2" fill="none" stroke="#000" stroke-width="1.7"/>
<polygon points="1054.12,2342.18 1058.72,2350.69 1049.52,2350.69" fill="#000"/>
<polygon points="1038.97,2354.97 1043.57,2363.48 1034.37,2363.48" fill="#000"/>
<polygon points="1054.12,2359.32 1058.72,2367.83 1049.52,2367.83" fill="#000"/>
<polygon points="1069.39,2361.8 1073.99,2370.31 1064.79,2370.31" fill="#000"/>
<polygon points="1038.97,2365.52 1043.57,2374.03 1034.37,2374.03" fill="#000"/>
<polygon points="1069.39,2372.97 1073.99,2381.48 1064.79,2381.48" fill="#000"/>
<polygon points="1054.12,2377.94 1058.72,2386.45 1049.52,2386.45" fill="#000"/>
<polygon points="1061.32,2400.91 1065.92,2409.42 1056.72,2409.42" fill="#000"/>
<polygon points="1046.42,2404.67 1051.02,2413.18 1041.82,2413.18" fill="#000"/>
<path d="M1093.22 2346.52V2392.08M1088.62 2346.52h9.2M1088.62 2392.08h9.2" fill="none" stroke="#000" stroke-width="1.7"/>
<polygon points="1093.22,2345.64 1097.82,2337.13 1088.62,2337.13" fill="#000"/>
<polygon points="1084.9,2354.08 1089.5,2345.57 1080.3,2345.57" fill="#000"/>
<polygon points="1084.9,2364.01 1089.5,2355.5 1080.3,2355.5" fill="#000"/>
<polygon points="1101.42,2361.53 1106.02,2353.02 1096.82,2353.02" fill="#000"/>
<polygon points="1101.42,2371.46 1106.02,2362.95 1096.82,2362.95" fill="#000"/>
<polygon points="1084.9,2386.36 1089.5,2377.85 1080.3,2377.85" fill="#000"/>
<polygon points="1101.42,2392.56 1106.02,2384.05 1096.82,2384.05" fill="#000"/>
<polygon points="1093.22,2414.29 1097.82,2405.78 1088.62,2405.78" fill="#000"/>
<path d="M1131.46 2396.42V2407.6M1126.86 2396.42h9.2M1126.86 2407.6h9.2" fill="none" stroke="#000" stroke-width="1.7"/>
<rect x="1127.56" y="2388.18" width="7.8" height="7.8"/>
<rect x="1112.66" y="2397.49" width="7.8" height="7.8"/>
<rect x="1127.56" y="2396.25" width="7.8" height="7.8"/>
<rect x="1120.11" y="2401.21" width="7.8" height="7.8"/>
<rect x="1132.52" y="2401.84" width="7.8" height="7.8"/>
<rect x="1112.66" y="2403.7" width="7.8" height="7.8"/>
<rect x="1125.08" y="2404.32" width="7.8" height="7.8"/>
<rect x="1143.7" y="2404.32" width="7.8" height="7.8"/>
<rect x="1137.49" y="2403.08" width="7.8" height="7.8"/>
<path d="M201 2010V2417" stroke="#000" stroke-width="5.6" fill="none"/>
<path d="M198.2 2414.2H1169" stroke="#000" stroke-width="5.6" fill="none" stroke-linecap="round"/>
<path d="M178.5 2414.2H201M178.5 2340.04H201M178.5 2266.58H201M178.5 2193.12H201M178.5 2119.66H201M178.5 2046.2H201M296.8 2414.2V2434.5M491.6 2414.2V2434.5M685.2 2414.2V2434.5M878.9 2414.2V2434.5M1073.3 2414.2V2434.5" stroke="#000" stroke-width="5.6" fill="none"/>
<text transform="translate(177.6 2427.6)" font-size="39.5" text-anchor="end" font-weight="bold" stroke="#000" stroke-width="0.9" stroke-linejoin="round">0</text>
<text transform="translate(177.6 2354.14)" font-size="39.5" text-anchor="end" font-weight="bold" stroke="#000" stroke-width="0.9" stroke-linejoin="round">20</text>
<text transform="translate(177.6 2280.68)" font-size="39.5" text-anchor="end" font-weight="bold" stroke="#000" stroke-width="0.9" stroke-linejoin="round">40</text>
<text transform="translate(177.6 2207.22)" font-size="39.5" text-anchor="end" font-weight="bold" stroke="#000" stroke-width="0.9" stroke-linejoin="round">60</text>
<text transform="translate(177.6 2133.76)" font-size="39.5" text-anchor="end" font-weight="bold" stroke="#000" stroke-width="0.9" stroke-linejoin="round">80</text>
<text transform="translate(177.6 2060.3)" font-size="39.5" text-anchor="end" font-weight="bold" stroke="#000" stroke-width="0.9" stroke-linejoin="round">100</text>
<text transform="translate(94.6 2415) rotate(-90) scale(1.0036 1)" font-size="39" font-weight="bold" stroke="#000" stroke-width="0.9" stroke-linejoin="round">% of parent population</text>
<text transform="translate(305.4 2463.6) rotate(-45)" font-size="39.5" text-anchor="end" font-weight="bold" stroke="#000" stroke-width="0.9" stroke-linejoin="round">LSK</text>
<text transform="translate(500.2 2463.6) rotate(-45)" font-size="39.5" text-anchor="end" font-weight="bold" stroke="#000" stroke-width="0.9" stroke-linejoin="round">HPC</text>
<text transform="translate(693.8 2463.6) rotate(-45)" font-size="39.5" text-anchor="end" font-weight="bold" stroke="#000" stroke-width="0.9" stroke-linejoin="round">GMP</text>
<text transform="translate(887.5 2463.6) rotate(-45)" font-size="39.5" text-anchor="end" font-weight="bold" stroke="#000" stroke-width="0.9" stroke-linejoin="round">CMP</text>
<text transform="translate(1081.9 2463.6) rotate(-45)" font-size="39.5" text-anchor="end" font-weight="bold" stroke="#000" stroke-width="0.9" stroke-linejoin="round">MEP</text>
<text transform="translate(242 2299.3) scale(0.9917 1)" font-size="32.5">&lt;0.0001</text>
<line x1="243" y1="2312.3" x2="352" y2="2312.3" stroke="#000" stroke-width="2.3"/>
<text transform="translate(635 2058)" font-size="32.5">0.0005</text>
<line x1="631.2" y1="2070.3" x2="740.7" y2="2070.3" stroke="#000" stroke-width="2.3"/>
<text transform="translate(824.5 2078.8) scale(1.0040 1)" font-size="32.5">0.0005</text>
<line x1="820.8" y1="2090.7" x2="930.6" y2="2090.7" stroke="#000" stroke-width="2.3"/>
<text transform="translate(796.6 2137.3) scale(0.9885 1)" font-size="32.5">0.024</text>
<line x1="820.8" y1="2147.3" x2="855.4" y2="2147.3" stroke="#000" stroke-width="2.3"/>
<text transform="translate(1031.5 2270.4)" font-size="32.5">0.014</text>
<line x1="1016.3" y1="2281.6" x2="1126.2" y2="2281.6" stroke="#000" stroke-width="2.3"/>
<rect x="1181.4" y="2006.1" width="39.6" height="18.8" fill="#bdbdbf"/>
<circle cx="1201.2" cy="2015.5" r="3.6"/>
<rect x="1181.4" y="2048.2" width="39.6" height="18.8" fill="#0a6fcf"/>
<polygon points="1201.2,2053.82 1204.8,2060.48 1197.6,2060.48" fill="#000"/>
<rect x="1181.4" y="2093.9" width="39.6" height="18.8" fill="#3ca79d"/>
<polygon points="1201.2,2107.08 1204.8,2100.42 1197.6,2100.42" fill="#000"/>
<rect x="1181.4" y="2138.4" width="39.6" height="18.8" fill="#e8573b"/>
<rect x="1197.8" y="2144.4" width="6.8" height="6.8"/>
<text transform="translate(1249 2028) scale(0.9259 1)" font-size="40.5">WT</text>
<text transform="translate(1249 2076) scale(0.9210 1)" font-size="40.5" font-style="italic">Npm1</text>
<text transform="translate(1350 2061) scale(1.0274 1)" font-size="27.5">flox-cA/+</text>
<text transform="translate(1464.7 2076) scale(0.9429 1)" font-size="40.5" font-style="italic">;Mx1-Cre</text>
<text transform="translate(1249 2124.4) scale(0.9331 1)" font-size="40.5" font-style="italic">Flt3</text>
<text transform="translate(1313.5 2109.4) scale(1.0206 1)" font-size="27.5">ITD/+</text>
<text transform="translate(1250 2169) scale(0.9441 1)" font-size="40.5" font-style="italic">Npm1</text>
<text transform="translate(1353.5 2154) scale(1.0302 1)" font-size="27.5" font-style="italic">flox-cA/+</text>
<text transform="translate(1468.5 2169) scale(0.9459 1)" font-size="40.5" font-style="italic">;Mx1-Cre;Flt3</text>
<text transform="translate(1702 2154) scale(1.0074 1)" font-size="27.5">ITD/+</text>
</g>
</svg>
</body></html>
